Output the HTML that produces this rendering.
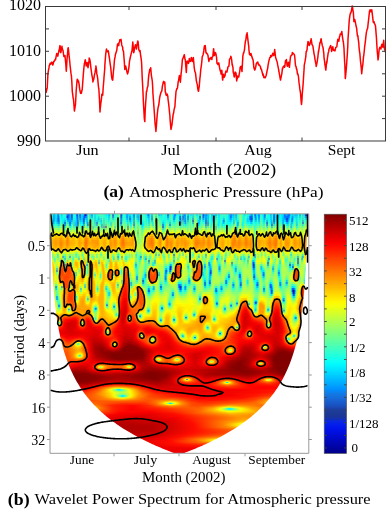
<!DOCTYPE html>
<html><head><meta charset="utf-8">
<style>
html,body{margin:0;padding:0;background:#fff;}
body{width:387px;height:509px;overflow:hidden;position:relative;font-family:"Liberation Serif",serif;}
#wv{position:absolute;left:50px;top:214px;width:258px;height:239px;}
#wv i{display:block;width:258px;height:1px;}
svg{position:absolute;left:0;top:0;will-change:transform;}
text{font-family:"Liberation Serif",serif;fill:#000;}
</style></head><body>
<div id="wv"><i style="background:linear-gradient(90deg,#40ffbf 0,#7aff85 2px,#00d0ff 3px,#00afff 4px,#00c2ff 5px,#03fffc 6px,#00f0ff 7px,#0045ff 8px,#00bcff 9px,#51ffae 10px,#00e7ff 11px,#00d3ff 12px,#1effe1 13px,#36ffc9 14px,#05fffa 15px,#40ffbf 16px,#005aff 17px,#0073ff 18px,#0050ff 19px,#00baff 20px,#00b3ff 21px,#0000a0 22px,#06fef9 23px,#06fff9 24px,#2effd1 25px,#00f1ff 26px,#0004db 27px,#00a2ff 28px,#40ffbf 29px,#0000d2 30px,#00ebff 31px,#00d0ff 32px,#00d5ff 33px,#009fff 34px,#00009d 35px,#0022fc 36px,#008fff 37px,#4affb5 38px,#78ff87 39px,#00c1ff 40px,#28ffd7 41px,#0067ff 42px,#22ffdd 43px,#3affc5 44px,#00ceff 45px,#18ffe7 46px,#34ffcb 47px,#19ffe6 49px,#82ff7d 50px,#15ffea 51px,#52ffad 52px,#49ffb6 53px,#14ffeb 54px,#3fffc0 55px,#00e8ff 56px,#07fff8 57px,#11ffee 58px,#0098ff 59px,#00ecff 60px,#62ff9d 61px,#71ff8e 62px,#0000db 63px,#32ffcd 64px,#00f8ff 65px,#44ffbb 66px,#41ffbe 67px,#13ffec 68px,#91ff6e 69px,#95ff6a 70px,#0000db 71px,#00acff 72px,#1affe5 73px,#46ffb9 74px,#00f7ff 76px,#007dff 77px,#00d9ff 78px,#00eeff 79px,#00b6ff 80px,#26ffd9 81px,#00f0ff 82px,#04fefb 83px,#002aff 84px,#04fbfb 85px,#79ff86 86px,#00b7ff 87px,#00d9ff 88px,#00adff 89px,#40ffbf 90px,#00e8ff 91px,#1affe5 92px,#5cffa3 93px,#1effe1 94px,#45ffba 95px,#00ecff 96px,#11ffee 97px,#0055ff 98px,#0091ff 99px,#05fdfa 100px,#3fffc0 101px,#008dff 102px,#56ffa9 103px,#94ff6b 104px,#7dff82 105px,#00f2ff 106px,#75ff8a 107px,#80ff7f 108px,#009cff 109px,#30ffcf 110px,#00d8ff 111px,#00ecff 112px,#45ffba 113px,#4effb1 114px,#11ffee 115px,#00fbff 116px,#2cffd3 117px,#00008d 118px,#1dffe2 119px,#00e2ff 120px,#82ff7d 121px,#28ffd7 122px,#00f9ff 123px,#00c8ff 124px,#0041ff 125px,#00daff 126px,#35ffca 127px,#02fffd 129px,#00aeff 130px,#09fdf6 131px,#92ff6d 132px,#0081ff 133px,#00daff 134px,#004bff 135px,#09fff6 136px,#68ff97 137px,#0087ff 138px,#0afef5 139px,#2dffd2 140px,#00cfff 141px,#5affa5 142px,#00cbff 143px,#30ffcf 144px,#51ffae 146px,#00d1ff 147px,#0afff5 148px,#67ff98 149px,#00b2ff 150px,#51ffae 151px,#43ffbc 152px,#0052ff 153px,#0042ff 154px,#0cfff3 155px,#0047ff 156px,#00d3ff 157px,#00afff 158px,#00efff 159px,#71ff8e 160px,#11ffee 161px,#00a4ff 162px,#05fafa 163px,#00e9ff 164px,#09fff6 165px,#008fff 166px,#62ff9d 167px,#03fcfc 168px,#00d0ff 169px,#11ffee 170px,#43ffbc 172px,#32ffcd 174px,#43ffbc 175px,#10ffef 177px,#39ffc6 178px,#00c4ff 179px,#00c2ff 180px,#0056ff 181px,#00c3ff 182px,#00ccff 183px,#00acff 184px,#44ffbb 185px,#006eff 186px,#24ffdb 187px,#0ffff0 188px,#67ff98 189px,#8cff73 191px,#25ffda 193px,#00fdff 194px,#00dbff 195px,#6bff94 196px,#25ffda 197px,#00f7ff 198px,#22ffdd 199px,#00b5ff 200px,#00c2ff 201px,#0055ff 202px,#14ffeb 203px,#38ffc7 204px,#001dff 205px,#00c2ff 206px,#00f8ff 207px,#00d7ff 208px,#0044ff 209px,#00f4ff 210px,#69ff96 211px,#00f7ff 212px,#00f7ff 213px,#00d1ff 214px,#0027ff 215px,#26ffd9 216px,#4bffb4 217px,#16ffe9 218px,#06fff9 219px,#12ffed 220px,#0093ff 221px,#38ffc7 222px,#0efff1 223px,#000dff 224px,#00d7ff 225px,#08fff7 228px,#00beff 229px,#17ffe8 230px,#00f7ff 231px,#00deff 232px,#00e5ff 233px,#00b7ff 234px,#002eff 235px,#00dcff 236px,#0075ff 237px,#0099ff 238px,#002aff 239px,#00abff 240px,#00fdff 241px,#00b7ff 243px,#3cffc3 244px,#0099ff 245px,#00f7ff 246px,#009bff 247px,#4affb5 248px,#1affe5 249px,#0087ff 250px,#34ffcb 251px,#32ffcd 252px,#00baff 253px,#7bff84 254px,#008eff 255px,#0012d9 256px,#0091ff 258px);height:2px"></i><i style="background:linear-gradient(90deg,#4cffb3 0,#6eff91 1px,#76ff89 2px,#00c0ff 3px,#00a5ff 4px,#00bdff 5px,#09fff6 6px,#00d2ff 7px,#005eff 8px,#0085ff 9px,#46ffb9 10px,#00f5ff 11px,#00ebff 12px,#10ffef 13px,#28ffd7 14px,#01fbfe 15px,#3bffc4 16px,#001dca 17px,#0053ff 18px,#00aaff 20px,#00c0ff 21px,#000098 22px,#20ffdf 23px,#02fefd 24px,#2effd1 25px,#00f2ff 26px,#004fff 27px,#0081ff 28px,#4dffb2 29px,#0020ff 30px,#00e1ff 31px,#00c5ff 32px,#00c4ff 33px,#004fff 34px,#0054ff 35px,#0093ff 36px,#009dff 37px,#42ffbd 38px,#87ff78 39px,#00cfff 40px,#38ffc7 41px,#0086ff 42px,#35ffca 43px,#43ffbc 44px,#00c3ff 45px,#31ffce 46px,#10ffef 48px,#00ddff 49px,#7fff80 50px,#03f9fc 51px,#4bffb4 52px,#5affa5 53px,#01f8fe 54px,#56ffa9 55px,#00f7ff 56px,#1effe1 57px,#19ffe6 58px,#00afff 59px,#1cffe3 60px,#5bffa4 61px,#74ff8b 62px,#002afd 63px,#4affb5 64px,#04fffb 65px,#63ff9c 66px,#08fff7 68px,#7dff82 69px,#8eff71 70px,#000cf0 71px,#00c8ff 72px,#1dffe2 73px,#58ffa7 74px,#00f4ff 76px,#0071ff 77px,#00d0ff 78px,#23ffdc 79px,#0059ff 80px,#15ffea 81px,#00edff 82px,#1cffe3 83px,#0046ff 84px,#1effe1 85px,#88ff77 86px,#00a4ff 87px,#00daff 88px,#0094ff 89px,#50ffaf 90px,#00d9ff 91px,#1effe1 92px,#55ffaa 93px,#33ffcc 94px,#51ffae 95px,#00f7ff 96px,#1effe1 97px,#00b1ff 98px,#009dff 99px,#1dffe2 100px,#4bffb4 101px,#0063ff 102px,#51ffae 103px,#a6ff59 104px,#89ff76 105px,#00b7ff 106px,#74ff8b 107px,#8eff71 108px,#04f1fb 109px,#42ffbd 110px,#02f9fd 111px,#0cfff3 112px,#32ffcd 113px,#44ffbb 114px,#0dfff2 115px,#00faff 116px,#37ffc8 117px,#0041ff 118px,#2affd5 119px,#01fcfe 120px,#79ff86 121px,#07fff8 123px,#007aff 124px,#00a9ff 125px,#04f9fb 126px,#3cffc3 127px,#3fffc0 128px,#05fffa 129px,#0028e3 130px,#00d2ff 131px,#92ff6d 132px,#0014f1 133px,#00f8ff 134px,#005bff 135px,#02fdfd 136px,#64ff9b 137px,#003aff 138px,#30ffcf 139px,#2effd1 140px,#0afdf5 141px,#6dff92 142px,#00b3ff 143px,#3dffc2 144px,#6dff92 145px,#61ff9e 146px,#1cffe3 147px,#09fff6 148px,#48ffb7 149px,#0010bf 150px,#4cffb3 151px,#52ffad 152px,#0052ff 153px,#0083ff 154px,#0bfff4 155px,#004eff 156px,#06faf9 157px,#00a6ff 158px,#00f2ff 159px,#6cff93 160px,#10ffef 161px,#00c6ff 162px,#00d5ff 163px,#01fcfe 164px,#2cffd3 165px,#00beff 166px,#71ff8e 167px,#12ffed 168px,#00e3ff 169px,#0efff1 170px,#40ffbf 171px,#40ffbf 172px,#0af9f5 174px,#45ffba 175px,#39ffc6 176px,#0dfff2 177px,#24ffdb 178px,#00ccff 179px,#00c4ff 180px,#0033ff 181px,#00deff 182px,#00e4ff 183px,#00beff 184px,#59ffa6 185px,#008bff 186px,#23ffdc 187px,#17ffe8 188px,#61ff9e 189px,#9aff65 191px,#1effe1 193px,#00fcff 194px,#5dffa2 196px,#0dfff2 197px,#00ddff 198px,#21ffde 199px,#0027f0 200px,#00a7ff 201px,#0013f5 202px,#18ffe7 203px,#41ffbe 204px,#0077ff 205px,#008eff 206px,#04fffb 207px,#09fdf6 208px,#003fff 209px,#01fdfe 210px,#70ff8f 211px,#12ffed 212px,#00fbff 213px,#00c7ff 214px,#005dff 215px,#47ffb8 216px,#1fffe0 217px,#0cfff3 219px,#15ffea 220px,#00a4ff 221px,#21ffde 222px,#25ffda 223px,#0000e8 224px,#00d7ff 225px,#00e3ff 227px,#26ffd9 228px,#00ceff 229px,#1bffe4 230px,#00f7ff 231px,#00ecff 232px,#00c4ff 233px,#00c0ff 234px,#0039ff 235px,#00b8ff 236px,#0036ff 237px,#0099ff 238px,#004cff 239px,#00dfff 240px,#04fffb 241px,#00a5ff 242px,#008aff 243px,#3dffc2 244px,#00c3ff 245px,#01fefe 246px,#00bfff 247px,#4cffb3 248px,#1fffe0 249px,#00baff 250px,#38ffc7 251px,#43ffbc 252px,#00d5ff 253px,#81ff7e 254px,#00c0ff 255px,#0082ff 256px,#00dbff 258px);height:2px"></i><i style="background:linear-gradient(90deg,#5effa1 0,#78ff87 1px,#6aff95 2px,#00aeff 3px,#00a3ff 4px,#00c3ff 5px,#17ffe8 6px,#00afff 7px,#004dff 9px,#41ffbe 10px,#02fefd 11px,#01f9fe 13px,#1cffe3 14px,#00dbff 15px,#2bffd4 16px,#00c4ff 17px,#003aff 18px,#00bcff 19px,#008fff 20px,#00cbff 21px,#0025ff 22px,#39ffc6 23px,#00eeff 24px,#2affd5 25px,#00e6ff 26px,#008eff 27px,#005eff 28px,#5dffa2 29px,#0062ff 30px,#00dbff 31px,#00baff 33px,#0000de 34px,#00d2ff 35px,#00e1ff 36px,#00a2ff 37px,#2bffd4 38px,#93ff6c 39px,#00ccff 40px,#45ffba 41px,#01e9fe 42px,#3dffc2 43px,#4fffb0 44px,#00b9ff 45px,#48ffb7 46px,#02f4fd 47px,#04fffb 48px,#009eff 49px,#79ff86 50px,#00cbff 51px,#3cffc3 52px,#68ff97 53px,#00ddff 54px,#6dff92 55px,#07fff8 56px,#38ffc7 57px,#24ffdb 58px,#00ccff 59px,#46ffb9 60px,#45ffba 61px,#72ff8d 62px,#00b7ff 63px,#65ff9a 64px,#15ffea 65px,#79ff86 66px,#37ffc8 67px,#14ffeb 68px,#5fffa0 69px,#87ff78 70px,#0042ff 71px,#00d9ff 72px,#21ffde 73px,#68ff97 74px,#0bfff4 76px,#009fff 77px,#00d3ff 78px,#4cffb3 79px,#0000e8 80px,#03fdfc 81px,#00edff 82px,#3cffc3 83px,#006bff 84px,#33ffcc 85px,#93ff6c 86px,#00d7ff 87px,#00e5ff 88px,#0099ff 89px,#5fffa0 90px,#00c3ff 91px,#14ffeb 92px,#41ffbe 93px,#38ffc7 94px,#5cffa3 95px,#00faff 96px,#24ffdb 97px,#04f4fb 98px,#00acff 99px,#33ffcc 100px,#53ffac 101px,#0044ff 102px,#3fffc0 103px,#b0ff4f 104px,#90ff6f 105px,#003aff 106px,#6eff91 107px,#95ff6a 108px,#33ffcc 109px,#50ffaf 110px,#19ffe6 111px,#27ffd8 112px,#15ffea 113px,#2effd1 114px,#0efff1 115px,#07fff8 116px,#45ffba 117px,#00b2ff 118px,#37ffc8 119px,#04fffb 120px,#6bff94 121px,#4cffb3 122px,#15ffea 123px,#0055ff 124px,#00e0ff 125px,#2affd5 126px,#56ffa9 128px,#00faff 129px,#0021d3 130px,#009bff 131px,#96ff69 132px,#0025ff 133px,#17ffe8 134px,#0057ff 135px,#00edff 136px,#61ff9e 137px,#0043ff 138px,#4fffb0 139px,#2affd5 140px,#30ffcf 141px,#7fff80 142px,#006aff 143px,#41ffbe 144px,#96ff69 145px,#53ffac 147px,#00f8ff 148px,#19ffe6 149px,#004fff 150px,#48ffb7 151px,#59ffa6 152px,#008fff 153px,#11ffee 155px,#0030ff 156px,#2affd5 157px,#009bff 158px,#01fcfe 159px,#6aff95 160px,#0afff5 161px,#00b3ff 163px,#08fff7 164px,#52ffad 165px,#00e2ff 166px,#7dff82 167px,#16ffe9 168px,#00eeff 169px,#08fff7 170px,#4affb5 171px,#35ffca 172px,#04f6fb 173px,#00adff 174px,#3effc1 175px,#4affb5 176px,#04fffb 177px,#11ffee 178px,#00d5ff 179px,#00d0ff 180px,#0079ff 181px,#02f9fd 182px,#05fcfa 183px,#00beff 184px,#70ff8f 185px,#00b3ff 186px,#1cffe3 187px,#08fff7 188px,#8cff73 190px,#a5ff5a 191px,#4affb5 192px,#1affe5 193px,#02fffd 194px,#4fffb0 195px,#44ffbb 196px,#00f3ff 197px,#00bbff 198px,#1bffe4 199px,#0033ff 200px,#0084ff 201px,#0000cf 202px,#16ffe9 203px,#48ffb7 204px,#00bdff 205px,#0076ff 206px,#0afff5 207px,#2dffd2 208px,#0061ff 209px,#0cfff3 210px,#75ff8a 211px,#27ffd8 212px,#04fffb 213px,#00c5ff 214px,#00adff 215px,#63ff9c 216px,#00deff 217px,#0ffff0 218px,#18ffe7 220px,#00afff 221px,#04f9fb 222px,#41ffbe 223px,#0000c1 224px,#00daff 225px,#00f6ff 226px,#00ddff 227px,#3fffc0 228px,#00e7ff 229px,#25ffda 230px,#00f7ff 231px,#03fdfc 232px,#009dff 233px,#00ceff 234px,#008fff 235px,#0096ff 236px,#0000a6 237px,#0099ff 238px,#0084ff 239px,#12ffed 240px,#01fffe 241px,#0051ff 242px,#00a1ff 243px,#42ffbd 244px,#0afaf5 245px,#05fffa 246px,#00d3ff 247px,#54ffab 248px,#2cffd3 249px,#00e4ff 250px,#40ffbf 251px,#4dffb2 252px,#00ccff 253px,#89ff76 254px,#00ecff 255px,#00dbff 256px,#22ffdd 258px);height:2px"></i><i style="background:linear-gradient(90deg,#7aff85 0,#84ff7b 1px,#57ffa8 2px,#0090ff 3px,#00d0ff 5px,#28ffd7 6px,#0096ff 7px,#00aeff 8px,#0031ff 9px,#45ffba 10px,#0efff1 11px,#27ffd8 12px,#00deff 13px,#1fffe0 14px,#008dff 15px,#12ffed 16px,#2bffd4 17px,#0072ff 18px,#01f3fe 19px,#0057ff 20px,#00daff 21px,#0086ff 22px,#4fffb0 23px,#00d2ff 24px,#28ffd7 25px,#00c8ff 26px,#00beff 27px,#002fff 28px,#70ff8f 29px,#00a7ff 30px,#00dfff 31px,#00dcff 32px,#00bfff 33px,#0000da 34px,#1dffe2 35px,#1fffe0 36px,#00a9ff 37px,#05f2fa 38px,#9dff62 39px,#00b1ff 40px,#50ffaf 41px,#3bffc4 42px,#3bffc4 43px,#62ff9d 44px,#00b4ff 45px,#5cffa3 46px,#00b2ff 47px,#1dffe2 48px,#00d4ff 49px,#71ff8e 50px,#00a6ff 51px,#1effe1 52px,#76ff89 53px,#00ceff 54px,#83ff7c 55px,#0dfff2 56px,#57ffa8 57px,#00edff 59px,#6cff93 60px,#16ffe9 61px,#6dff92 62px,#16ffe9 63px,#83ff7c 64px,#24ffdb 65px,#8aff75 66px,#34ffcb 67px,#39ffc6 69px,#82ff7d 70px,#0037ff 71px,#00ebff 72px,#2cffd3 73px,#7bff84 74px,#3dffc2 75px,#32ffcd 76px,#00e4ff 77px,#00d8ff 78px,#6dff92 79px,#0078ff 80px,#00edff 81px,#00f7ff 82px,#5fffa0 83px,#0077ff 84px,#41ffbe 85px,#9aff65 86px,#1dffe2 87px,#00f5ff 88px,#00cbff 89px,#71ff8e 90px,#00beff 91px,#02fafd 92px,#21ffde 93px,#2bffd4 94px,#67ff98 95px,#00f8ff 96px,#24ffdb 97px,#30ffcf 98px,#00b8ff 99px,#46ffb9 100px,#5cffa3 101px,#00b1ff 102px,#1bffe4 103px,#b3ff4c 104px,#92ff6d 105px,#0000a9 106px,#67ff98 107px,#95ff6a 108px,#5effa1 109px,#5affa5 110px,#2fffd0 111px,#3cffc3 112px,#00e9ff 113px,#12ffed 114px,#1bffe4 116px,#5affa5 117px,#01f3fe 118px,#44ffbb 119px,#00ebff 120px,#58ffa7 121px,#57ffa8 122px,#20ffdf 123px,#00bfff 124px,#04fdfb 125px,#51ffae 126px,#48ffb7 127px,#69ff96 128px,#00ebff 129px,#007cff 131px,#9fff60 132px,#008aff 133px,#35ffca 134px,#0051ff 135px,#00d5ff 136px,#61ff9e 137px,#009dff 138px,#68ff97 139px,#23ffdc 140px,#49ffb6 141px,#8fff70 142px,#0000a6 143px,#3effc1 144px,#b7ff48 145px,#72ff8d 146px,#7dff82 147px,#00d9ff 148px,#00c3ff 150px,#48ffb7 151px,#58ffa7 152px,#00d8ff 153px,#08f9f7 154px,#22ffdd 155px,#0001ed 156px,#4effb1 157px,#0081ff 158px,#13ffec 159px,#6dff92 160px,#02fefd 161px,#01f8fe 162px,#00c1ff 163px,#0bfff4 164px,#77ff88 165px,#00f7ff 166px,#88ff77 167px,#09fff6 168px,#00eeff 169px,#01fffe 170px,#53ffac 171px,#1fffe0 172px,#00c3ff 173px,#0053ff 174px,#2effd1 175px,#56ffa9 176px,#00f8ff 177px,#07fff8 178px,#00e5ff 179px,#00e4ff 180px,#00c1ff 181px,#19ffe6 182px,#21ffde 183px,#00a8ff 184px,#88ff77 185px,#00eeff 186px,#0efff1 187px,#00d8ff 188px,#3effc1 189px,#8fff70 190px,#a9ff56 191px,#2fffd0 192px,#07fff8 194px,#6bff94 195px,#25ffda 196px,#00f4ff 197px,#00b9ff 198px,#15ffea 199px,#00b8ff 200px,#007fff 201px,#006eff 202px,#18ffe7 203px,#4dffb2 204px,#00e5ff 205px,#00b6ff 206px,#0cfff3 207px,#4dffb2 208px,#0094ff 209px,#18ffe7 210px,#78ff87 211px,#38ffc7 212px,#12ffed 213px,#00d0ff 214px,#00eeff 215px,#7cff83 216px,#007aff 217px,#11ffee 218px,#21ffde 220px,#00bcff 221px,#00caff 222px,#5dffa2 223px,#0000d0 224px,#00e6ff 225px,#1cffe3 226px,#00f1ff 227px,#55ffaa 228px,#06fef9 229px,#36ffc9 230px,#01fcfe 231px,#1dffe2 232px,#007dff 233px,#00e4ff 234px,#00e1ff 235px,#00a5ff 236px,#0023f0 237px,#009cff 238px,#00c2ff 239px,#3fffc0 240px,#00f3ff 241px,#0047ff 242px,#00cbff 243px,#4effb1 244px,#39ffc6 245px,#05fffa 246px,#00d5ff 247px,#5effa1 248px,#0afff5 250px,#4affb5 251px,#51ffae 252px,#008aff 253px,#91ff6e 254px,#10ffef 255px,#22ffdd 256px,#59ffa6 258px);height:2px"></i><i style="background:linear-gradient(90deg,#9dff62 0,#96ff69 1px,#40ffbf 2px,#0087ff 3px,#00e0ff 4px,#00ecff 5px,#41ffbe 6px,#00b3ff 7px,#00ebff 8px,#0058ff 9px,#54ffab 10px,#23ffdc 11px,#4cffb3 12px,#00c6ff 13px,#3affc5 14px,#0005bf 15px,#00fbff 16px,#71ff8e 17px,#00d6ff 18px,#2bffd4 19px,#0000bc 20px,#00f1ff 21px,#00ceff 22px,#68ff97 23px,#00b6ff 24px,#34ffcb 25px,#0094ff 26px,#00edff 27px,#0000d5 28px,#8aff75 29px,#00e9ff 30px,#09fcf6 32px,#00dcff 33px,#0035ff 34px,#59ffa6 35px,#57ffa8 36px,#00c7ff 37px,#007aff 38px,#aaff55 39px,#0081ff 40px,#60ff9f 41px,#79ff86 42px,#2dffd2 43px,#7dff82 44px,#00bdff 45px,#70ff8f 46px,#0030ff 47px,#51ffae 48px,#29ffd6 49px,#6dff92 50px,#01e9fe 51px,#00ebff 52px,#8bff74 53px,#00cbff 54px,#9aff65 55px,#04fcfb 56px,#7cff83 57px,#12ffed 59px,#92ff6d 60px,#00c3ff 61px,#68ff97 62px,#59ffa6 63px,#a4ff5b 64px,#26ffd9 65px,#9bff64 66px,#38ffc7 67px,#4affb5 68px,#17ffe8 69px,#86ff79 70px,#0000d3 71px,#0ffff0 72px,#44ffbb 73px,#96ff69 74px,#3effc1 75px,#60ff9f 76px,#2affd5 77px,#00d7ff 78px,#8cff73 79px,#00e1ff 80px,#00e8ff 81px,#1affe5 82px,#87ff78 83px,#005bff 84px,#4affb5 85px,#a1ff5e 86px,#0afff5 88px,#12ffed 89px,#88ff77 90px,#00e6ff 91px,#00e1ff 92px,#11ffee 94px,#77ff88 95px,#04fefb 96px,#5fffa0 98px,#00c5ff 99px,#5cffa3 100px,#6bff94 101px,#21ffde 102px,#00e0ff 103px,#b3ff4c 104px,#93ff6c 105px,#0048ff 106px,#64ff9b 107px,#92ff6d 108px,#46ffb9 111px,#4fffb0 112px,#00a5ff 113px,#01fffe 114px,#06fff9 115px,#7dff82 117px,#25ffda 118px,#56ffa9 119px,#009dff 120px,#47ffb8 121px,#64ff9b 122px,#2dffd2 123px,#17ffe8 125px,#74ff8b 126px,#4bffb4 127px,#7aff85 128px,#00f1ff 129px,#09f7f6 130px,#0086ff 131px,#b1ff4e 132px,#00bcff 133px,#56ffa9 134px,#008eff 135px,#00cdff 136px,#6aff95 137px,#00d9ff 138px,#81ff7e 139px,#22ffdd 140px,#55ffaa 141px,#9fff60 142px,#007aff 143px,#3affc5 144px,#d6ff29 145px,#6fff90 146px,#a2ff5d 147px,#00c3ff 148px,#0096ff 149px,#05f8fa 150px,#51ffae 151px,#53ffac 152px,#1cffe3 153px,#3dffc2 154px,#3fffc0 155px,#0000e4 156px,#72ff8d 157px,#0045ff 158px,#37ffc8 159px,#7cff83 160px,#00f7ff 161px,#22ffdd 162px,#03f3fc 163px,#16ffe9 164px,#9dff62 165px,#00fdff 166px,#94ff6b 167px,#00ebff 168px,#07fff8 170px,#61ff9e 171px,#05fcfa 172px,#00cbff 173px,#00bcff 174px,#18ffe7 175px,#62ff9d 176px,#00f5ff 177px,#12ffed 178px,#03f6fc 181px,#3affc5 182px,#43ffbc 183px,#009cff 184px,#a6ff59 185px,#30ffcf 186px,#00f6ff 187px,#007bff 188px,#3bffc4 189px,#90ff6f 190px,#acff53 191px,#08fbf7 192px,#10ffef 194px,#87ff78 195px,#1affe5 196px,#1effe1 197px,#03f0fc 198px,#18ffe7 199px,#07f8f8 200px,#00beff 201px,#00e0ff 202px,#2affd5 203px,#56ffa9 204px,#00fbff 205px,#0efff1 207px,#6bff94 208px,#00d3ff 209px,#26ffd9 210px,#7eff81 211px,#29ffd6 213px,#00e7ff 214px,#25ffda 215px,#96ff69 216px,#0004ec 217px,#23ffdc 218px,#3effc1 219px,#3effc1 220px,#00e4ff 221px,#0077ff 222px,#7bff84 223px,#004dff 224px,#0afef5 225px,#4cffb3 226px,#24ffdb 227px,#6fff90 228px,#1effe1 229px,#51ffae 230px,#17ffe8 231px,#43ffbc 232px,#0072ff 233px,#07fdf8 234px,#2affd5 235px,#00eaff 236px,#00a7ff 237px,#00b1ff 238px,#08f8f7 239px,#6bff94 240px,#00daff 241px,#00b2ff 242px,#00efff 243px,#65ff9a 244px,#66ff99 245px,#08fff7 246px,#00c5ff 247px,#6cff93 248px,#3fffc0 249px,#37ffc8 250px,#58ffa7 251px,#54ffab 252px,#0020ff 253px,#9dff62 254px,#2effd1 255px,#88ff77 258px);height:2px"></i><i style="background:linear-gradient(90deg,#c1ff3e 0,#abff54 1px,#26ffd9 2px,#00ccff 3px,#1dffe2 4px,#17ffe8 5px,#62ff9d 6px,#08f3f7 7px,#28ffd7 8px,#00b2ff 9px,#6dff92 10px,#44ffbb 11px,#73ff8c 12px,#00cbff 13px,#62ff9d 14px,#0055ff 15px,#04fcfb 16px,#a8ff57 17px,#32ffcd 18px,#5dffa2 19px,#002fe4 20px,#11ffee 21px,#0dfef2 22px,#84ff7b 23px,#00b0ff 24px,#51ffae 25px,#007aff 26px,#1bffe4 27px,#0017e1 28px,#a7ff58 29px,#26ffd9 30px,#14ffeb 31px,#3affc5 32px,#0afdf5 33px,#0084ff 34px,#8eff71 35px,#8bff74 36px,#0af8f5 37px,#0042bf 38px,#baff45 39px,#005eff 40px,#75ff8a 41px,#abff54 42px,#0afbf5 43px,#9cff63 44px,#00d2ff 45px,#86ff79 46px,#006cff 47px,#88ff77 48px,#63ff9c 49px,#6cff93 50px,#3fffc0 51px,#008dff 52px,#a2ff5d 53px,#00b6ff 54px,#b1ff4e 55px,#00c2ff 56px,#a1ff5e 57px,#31ffce 59px,#b7ff48 60px,#00c9ff 61px,#62ff9d 62px,#c5ff3a 64px,#0cfff3 65px,#afff50 66px,#4cffb3 67px,#61ff9e 68px,#0afff5 69px,#95ff6a 70px,#0079ff 71px,#42ffbd 72px,#6cff93 73px,#b9ff46 74px,#34ffcb 75px,#8bff74 76px,#67ff98 77px,#00bdff 78px,#a9ff56 79px,#27ffd8 80px,#00f5ff 81px,#aeff51 83px,#0031ff 84px,#4dffb2 85px,#a6ff59 86px,#7eff81 87px,#19ffe6 88px,#51ffae 89px,#a1ff5e 90px,#21ffde 91px,#00cfff 92px,#00fcff 94px,#8aff75 95px,#23ffdc 96px,#39ffc6 97px,#88ff77 98px,#00e0ff 99px,#76ff89 100px,#84ff7b 101px,#72ff8d 102px,#00dcff 103px,#b1ff4e 104px,#92ff6d 105px,#0092ff 106px,#65ff9a 107px,#9dff62 109px,#62ff9d 111px,#63ff9c 112px,#0028ee 113px,#13ffec 114px,#00f8ff 115px,#5fffa0 116px,#a7ff58 117px,#4dffb2 118px,#6bff94 119px,#0034ff 120px,#47ffb8 121px,#73ff8c 122px,#44ffbb 123px,#65ff9a 124px,#25ffda 125px,#93ff6c 126px,#4dffb2 127px,#8cff73 128px,#22ffdd 129px,#3cffc3 130px,#00afff 131px,#c8ff37 132px,#00dcff 133px,#78ff87 134px,#06edf9 135px,#02f1fd 136px,#79ff86 137px,#00f8ff 138px,#9aff65 139px,#37ffc8 140px,#53ffac 141px,#b0ff4f 142px,#0cf3f3 143px,#3dffc2 144px,#f0ff0f 145px,#58ffa7 146px,#c3ff3c 147px,#03edfc 148px,#00e3ff 149px,#2cffd3 150px,#61ff9e 151px,#4effb1 152px,#75ff8a 154px,#64ff9b 155px,#003fff 156px,#94ff6b 157px,#0058ff 158px,#66ff99 159px,#93ff6c 160px,#00eeff 161px,#52ffad 162px,#32ffcd 163px,#35ffca 164px,#beff41 165px,#00e3ff 166px,#a1ff5e 167px,#00daff 168px,#01f9fe 169px,#20ffdf 170px,#75ff8a 171px,#00e7ff 172px,#1cffe3 173px,#1fffe0 174px,#05fffa 175px,#71ff8e 176px,#03fdfc 177px,#30ffcf 178px,#26ffd9 181px,#5effa1 182px,#69ff96 183px,#06e8f9 184px,#c6ff39 185px,#6cff93 186px,#00d2ff 187px,#009dff 188px,#5effa1 189px,#93ff6c 190px,#acff53 191px,#00f3ff 192px,#1fffe0 193px,#23ffdc 194px,#a5ff5a 195px,#44ffbb 196px,#56ffa9 197px,#28ffd7 199px,#33ffcc 200px,#12feed 201px,#60ff9f 204px,#00feff 205px,#4effb1 206px,#11ffee 207px,#87ff78 208px,#1cffe3 209px,#35ffca 210px,#88ff77 211px,#48ffb7 213px,#06fef9 214px,#b2ff4d 216px,#004aff 217px,#43ffbc 218px,#65ff9a 219px,#6bff94 220px,#23ffdc 221px,#000eff 222px,#9aff65 223px,#00caff 224px,#3bffc4 225px,#7fff80 226px,#64ff9b 227px,#8bff74 228px,#2bffd4 229px,#73ff8c 230px,#44ffbb 231px,#6bff94 232px,#006dff 233px,#2effd1 234px,#69ff96 235px,#0cf7f3 237px,#00dfff 238px,#3cffc3 239px,#95ff6a 240px,#00acff 241px,#0cfaf3 242px,#11ffee 243px,#82ff7d 244px,#8dff72 245px,#16ffe9 246px,#00b6ff 247px,#7cff83 248px,#42ffbd 249px,#6dff92 250px,#57ffa8 252px,#00d6ff 253px,#abff54 254px,#49ffb6 255px,#9eff61 256px,#b1ff4e 258px);height:2px"></i><i style="background:linear-gradient(90deg,#dfff20 0,#c4ff3b 1px,#1fffe0 2px,#2affd5 3px,#5affa5 4px,#4dffb2 5px,#89ff76 6px,#49ffb6 7px,#5fffa0 8px,#14fdeb 9px,#8dff72 10px,#71ff8e 11px,#9cff63 12px,#0df9f2 13px,#8cff73 14px,#02e8fd 15px,#2fffd0 16px,#d7ff28 17px,#80ff7f 18px,#8cff73 19px,#00d6ff 20px,#37ffc8 21px,#45ffba 22px,#a2ff5d 23px,#00deff 24px,#78ff87 25px,#00dbff 26px,#46ffb9 27px,#00aaff 28px,#c6ff39 29px,#5fffa0 30px,#41ffbe 31px,#6fff90 32px,#3affc5 33px,#00d6ff 34px,#beff41 35px,#bbff44 36px,#48ffb7 37px,#1cf8e3 38px,#ceff31 39px,#0092ff 40px,#92ff6d 41px,#d3ff2c 42px,#00aeff 43px,#bcff43 44px,#02f5fd 45px,#9fff60 46px,#16f7e9 47px,#b8ff47 48px,#6cff93 50px,#7cff83 51px,#0086ff 52px,#bbff44 53px,#0069ff 54px,#c8ff37 55px,#0017eb 56px,#c4ff3b 57px,#49ffb6 59px,#daff25 60px,#48ffb7 61px,#5dffa2 62px,#b2ff4d 63px,#e4ff1b 64px,#00b7ff 65px,#c8ff37 66px,#74ff8b 67px,#77ff88 68px,#1dffe2 69px,#adff52 70px,#1bfce4 71px,#7bff84 72px,#9eff61 73px,#deff21 74px,#16ffe9 75px,#b2ff4d 76px,#9cff63 77px,#0056ff 78px,#c5ff3a 79px,#60ff9f 80px,#18ffe7 81px,#8bff74 82px,#d4ff2b 83px,#00b4ff 84px,#4dffb2 85px,#abff54 86px,#9aff65 87px,#1bffe4 88px,#82ff7d 89px,#b9ff46 90px,#52ffad 91px,#00dfff 92px,#18ffe7 93px,#1effe1 94px,#a2ff5d 95px,#53ffac 96px,#61ff9e 97px,#aeff51 98px,#1cffe3 99px,#99ff66 100px,#b1ff4e 102px,#43ffbc 103px,#b3ff4c 104px,#94ff6b 105px,#00daff 106px,#6aff95 107px,#85ff7a 108px,#baff45 109px,#94ff6b 110px,#79ff86 112px,#000cbf 113px,#3effc1 114px,#01fafe 115px,#89ff76 116px,#d4ff2b 117px,#77ff88 118px,#86ff79 119px,#0ee5f1 120px,#64ff9b 121px,#8aff75 122px,#6cff93 123px,#9cff63 124px,#2cffd3 125px,#aeff51 126px,#59ffa6 127px,#a2ff5d 128px,#67ff98 129px,#6dff92 130px,#03effc 131px,#e3ff1c 132px,#0ffdf0 133px,#9cff63 134px,#4dffb2 135px,#38ffc7 136px,#90ff6f 137px,#06fff9 138px,#b6ff49 139px,#65ff9a 140px,#40ffbf 141px,#bfff40 142px,#4cffb3 143px,#52ffad 144px,#fff700 145px,#1affe5 146px,#e1ff1e 147px,#48ffb7 148px,#48ffb7 149px,#79ff86 151px,#56ffa9 152px,#94ff6b 153px,#aaff55 154px,#8cff73 155px,#0099ff 156px,#b5ff4a 157px,#09e7f6 158px,#98ff67 159px,#b0ff4f 160px,#00f2ff 161px,#85ff7a 162px,#68ff97 163px,#67ff98 164px,#d8ff27 165px,#008eff 166px,#aeff51 167px,#14feeb 168px,#4bffb4 170px,#91ff6e 171px,#03f5fc 172px,#66ff99 173px,#5fffa0 174px,#0cfff3 175px,#86ff79 176px,#20ffdf 177px,#5cffa3 178px,#61ff9e 179px,#44ffbb 180px,#4effb1 181px,#87ff78 182px,#93ff6c 183px,#5affa5 184px,#e8ff17 185px,#9fff60 186px,#00b3ff 187px,#24ffdb 188px,#96ff69 189px,#b0ff4f 191px,#3cffc3 192px,#46ffb9 194px,#c8ff37 195px,#8aff75 196px,#7dff82 198px,#48ffb7 199px,#60ff9f 200px,#5bffa4 201px,#7cff83 203px,#6dff92 204px,#00f6ff 205px,#83ff7c 206px,#23ffdc 207px,#a3ff5c 208px,#64ff9b 209px,#49ffb6 210px,#99ff66 211px,#8fff70 212px,#6dff92 213px,#26ffd9 214px,#cfff30 216px,#00c6ff 217px,#6dff92 218px,#95ff6a 219px,#a0ff5f 220px,#63ff9c 221px,#0093ff 222px,#baff45 223px,#32ffcd 224px,#b1ff4e 226px,#a8ff57 228px,#29ffd6 229px,#99ff66 230px,#7cff83 231px,#93ff6c 232px,#0051ff 233px,#5affa5 234px,#a1ff5e 235px,#1fffe0 238px,#bcff43 240px,#0092ff 241px,#44ffbb 242px,#37ffc8 243px,#a4ff5b 244px,#b2ff4d 245px,#3bffc4 246px,#02eafd 247px,#8eff71 248px,#4cffb3 249px,#a3ff5c 250px,#4dffb2 253px,#bbff44 254px,#6aff95 255px,#d2ff2d 256px,#d5ff2a 258px);height:2px"></i><i style="background:linear-gradient(90deg,#f7ff08 0,#e0ff1f 1px,#47ffb8 2px,#94ff6b 4px,#88ff77 5px,#b5ff4a 6px,#8eff71 7px,#93ff6c 8px,#66ff99 9px,#b5ff4a 10px,#a8ff57 11px,#c5ff3a 12px,#57ffa8 13px,#b6ff49 14px,#41ffbe 15px,#6fff90 16px,#fbf904 17px,#c4ff3b 18px,#bbff44 19px,#43ffbc 20px,#7eff81 22px,#c4ff3b 23px,#2fffd0 24px,#a1ff5e 25px,#42ffbd 26px,#71ff8e 27px,#25ffda 28px,#e6ff19 29px,#97ff68 30px,#76ff89 31px,#a2ff5d 32px,#2cffd3 34px,#eaff15 35px,#ebff14 36px,#8dff72 37px,#84ff7b 38px,#e7ff18 39px,#00e8ff 40px,#b6ff49 41px,#f5ff0a 42px,#00caff 43px,#dbff24 44px,#36ffc9 45px,#bcff43 46px,#76ff89 47px,#e3ff1c 48px,#70ff8f 50px,#aaff55 51px,#1cfce3 52px,#d4ff2b 53px,#00aaff 54px,#e0ff1f 55px,#10dcef 56px,#e3ff1c 57px,#5cffa3 59px,#f9fc06 60px,#5fffa0 62px,#d2ff2d 63px,#fdfa02 64px,#00caff 65px,#e6ff19 66px,#aaff55 67px,#93ff6c 68px,#44ffbb 69px,#cdff32 70px,#7dff82 71px,#b4ff4b 72px,#fdf802 74px,#00fbff 75px,#d6ff29 76px,#caff35 77px,#004efa 78px,#e2ff1d 79px,#4dffb2 81px,#c3ff3c 82px,#f7fe08 83px,#38ffc7 84px,#54ffab 85px,#b3ff4c 86px,#abff54 87px,#09fff6 88px,#a4ff5b 89px,#cdff32 90px,#78ff87 91px,#0afef5 92px,#4dffb2 93px,#5effa1 94px,#beff41 95px,#87ff78 96px,#96ff69 97px,#d3ff2c 98px,#6aff95 99px,#c4ff3b 100px,#e6ff19 102px,#a0ff5f 103px,#c1ff3e 104px,#a0ff5f 105px,#31ffce 106px,#77ff88 107px,#90ff6f 108px,#dcff23 109px,#beff41 110px,#b7ff48 111px,#96ff69 112px,#00aaff 113px,#6dff92 114px,#2fffd0 115px,#b5ff4a 116px,#faf905 117px,#a9ff56 118px,#a8ff57 119px,#6dff92 120px,#97ff68 121px,#aaff55 122px,#9fff60 123px,#caff35 124px,#38ffc7 125px,#c7ff38 126px,#81ff7e 127px,#beff41 128px,#9aff65 130px,#44ffbb 131px,#fcfb03 132px,#59ffa6 133px,#c1ff3e 134px,#7eff81 136px,#acff53 137px,#1fffe0 138px,#d5ff2a 139px,#9cff63 140px,#28ffd7 141px,#d0ff2f 142px,#84ff7b 143px,#7dff82 144px,#ffe100 145px,#01ecfe 146px,#fcfb03 147px,#98ff67 148px,#9aff65 151px,#7aff85 152px,#caff35 153px,#ddff22 154px,#b6ff49 155px,#08eff7 156px,#d7ff28 157px,#63ff9c 158px,#caff35 159px,#d2ff2d 160px,#22ffdd 161px,#b5ff4a 162px,#9bff64 163px,#9eff61 164px,#ecff13 165px,#009bff 166px,#beff41 167px,#67ff98 168px,#62ff9d 169px,#7dff82 170px,#b4ff4b 171px,#40ffbf 172px,#a2ff5d 173px,#92ff6d 174px,#3bffc4 175px,#a3ff5c 176px,#54ffab 177px,#8eff71 178px,#95ff6a 179px,#6bff94 180px,#79ff86 181px,#b5ff4a 182px,#c1ff3e 183px,#b0ff4f 184px,#fff200 185px,#cdff32 186px,#00e0ff 187px,#7eff81 188px,#cfff30 189px,#b2ff4d 190px,#c2ff3d 191px,#6eff91 193px,#77ff88 194px,#eeff11 195px,#cdff32 196px,#b8ff47 198px,#77ff88 199px,#aaff55 202px,#a7ff58 203px,#7aff85 204px,#00faff 205px,#aeff51 206px,#50ffaf 207px,#c3ff3c 208px,#a4ff5b 209px,#6bff94 210px,#b5ff4a 211px,#bcff43 212px,#99ff66 213px,#4effb1 214px,#edff12 216px,#29ffd6 217px,#9cff63 218px,#c8ff37 219px,#d5ff2a 220px,#9eff61 221px,#1afee5 222px,#dcff23 223px,#88ff77 224px,#e3ff1c 226px,#c6ff39 228px,#1affe5 229px,#c1ff3e 230px,#baff45 232px,#0048ff 233px,#87ff78 234px,#d2ff2d 235px,#64ff9b 238px,#e0ff1f 240px,#06e7f9 241px,#76ff89 242px,#67ff98 243px,#caff35 244px,#d9ff26 245px,#74ff8b 246px,#49ffb6 247px,#a5ff5a 248px,#6fff90 249px,#d5ff2a 250px,#79ff86 252px,#92ff6d 253px,#cdff32 254px,#97ff68 255px,#faf905 256px,#f4ff0b 258px);height:2px"></i><i style="background:linear-gradient(90deg,#fffa00 0,#f9ff06 1px,#86ff79 2px,#b0ff4f 3px,#c4ff3b 4px,#bdff42 5px,#ddff22 6px,#a8ff57 9px,#dbff24 10px,#eaff15 12px,#9eff61 13px,#d9ff26 14px,#80ff7f 15px,#a8ff57 16px,#ffdd00 17px,#f6fc09 18px,#e3ff1c 19px,#8dff72 20px,#91ff6e 21px,#e2ff1d 23px,#7aff85 24px,#c5ff3a 25px,#8aff75 26px,#97ff68 27px,#7aff85 28px,#fdfb02 29px,#c8ff37 30px,#a9ff56 31px,#cbff34 32px,#77ff88 34px,#fff000 35px,#ffec00 36px,#c7ff38 37px,#c9ff36 38px,#fbfd04 39px,#3effc1 40px,#d7ff28 41px,#ffef00 42px,#5fffa0 43px,#f5ff0a 44px,#7eff81 45px,#d9ff26 46px,#beff41 47px,#fef801 48px,#7aff85 50px,#cbff34 51px,#7bff84 52px,#eaff15 53px,#47ffb8 54px,#f4ff0b 55px,#7aff85 56px,#faff05 57px,#aaff55 58px,#6eff91 59px,#ffe800 60px,#e0ff1f 61px,#70ff8f 62px,#ebff14 63px,#ffe500 64px,#6aff95 65px,#fdfa02 66px,#afff50 68px,#71ff8e 69px,#ebff14 70px,#c3ff3c 71px,#fcf703 73px,#ffdc00 74px,#42ffbd 75px,#f2ff0d 76px,#edff12 77px,#23ffdc 78px,#f9ff06 79px,#86ff79 81px,#f0ff0f 82px,#ffea00 83px,#8dff72 84px,#67ff98 85px,#b9ff46 86px,#aeff51 87px,#00d4ff 88px,#b3ff4c 89px,#d3ff2c 90px,#8dff72 91px,#30ffcf 92px,#72ff8d 93px,#91ff6e 94px,#d6ff29 95px,#b4ff4b 96px,#c7ff38 97px,#f3ff0c 98px,#b0ff4f 99px,#edff12 100px,#ffee00 102px,#e2ff1d 103px,#d9ff26 104px,#b6ff49 105px,#7aff85 106px,#adff52 108px,#f9fd06 109px,#e2ff1d 111px,#b4ff4b 112px,#1cffe3 113px,#94ff6b 114px,#73ff8c 115px,#ddff22 116px,#ffdc00 117px,#d9ff26 118px,#b8ff47 120px,#d0ff2f 123px,#ebff14 124px,#56ffa9 125px,#ddff22 126px,#b4ff4b 127px,#dcff23 128px,#ddff22 129px,#c1ff3e 130px,#8fff70 131px,#ffe800 132px,#a3ff5c 133px,#e2ff1d 134px,#b7ff48 136px,#c7ff38 137px,#57ffa8 138px,#f0ff0f 139px,#c9ff36 140px,#38ffc7 141px,#deff21 142px,#aeff51 143px,#aeff51 144px,#ffd100 145px,#6eff91 146px,#ffe400 147px,#d6ff29 148px,#acff53 152px,#f6ff09 153px,#fef701 154px,#daff25 155px,#51ffae 156px,#f3ff0c 157px,#b3ff4c 158px,#f4ff0b 159px,#f1ff0e 160px,#6bff94 161px,#dcff23 162px,#c8ff37 163px,#caff35 164px,#f2ff0d 165px,#25ffda 166px,#cbff34 167px,#a7ff58 168px,#98ff67 169px,#acff53 170px,#d4ff2b 171px,#88ff77 172px,#d0ff2f 173px,#baff45 174px,#77ff88 175px,#bfff40 176px,#8aff75 177px,#baff45 178px,#c1ff3e 179px,#91ff6e 180px,#a2ff5d 181px,#dfff20 182px,#f0ff0f 184px,#ffd300 185px,#f3ff0c 186px,#3dffc2 187px,#bbff44 188px,#f8fc07 189px,#d2ff2d 190px,#ddff22 191px,#ccff33 192px,#9eff61 193px,#abff54 194px,#ffef00 195px,#e6ff19 198px,#a8ff57 199px,#d1ff2e 201px,#d5ff2a 202px,#c5ff3a 203px,#81ff7e 204px,#1effe1 205px,#ccff33 206px,#8bff74 207px,#e0ff1f 208px,#d7ff28 209px,#96ff69 210px,#d4ff2b 211px,#e4ff1b 212px,#c2ff3d 213px,#7aff85 214px,#fff900 216px,#78ff87 217px,#c7ff38 218px,#f4ff0b 219px,#fbf904 220px,#ceff31 221px,#73ff8c 222px,#f8ff07 223px,#caff35 224px,#fff100 226px,#fff400 227px,#dfff20 228px,#20ffdf 229px,#e3ff1c 230px,#daff25 232px,#00c7ff 233px,#adff52 234px,#f8fd07 235px,#a1ff5e 238px,#fbfd04 240px,#52ffad 241px,#9eff61 242px,#99ff66 243px,#edff12 244px,#f9fe06 245px,#aeff51 246px,#94ff6b 247px,#beff41 248px,#a2ff5d 249px,#f9fd06 250px,#94ff6b 252px,#dcff23 254px,#c7ff38 255px,#ffda00 256px,#fff400 258px);height:2px"></i><i style="background:linear-gradient(90deg,#fff400 0,#ffee00 1px,#c1ff3e 2px,#eeff11 4px,#fcf903 6px,#ddff22 9px,#fbfa04 10px,#fff200 12px,#d8ff27 13px,#f8ff07 14px,#b6ff49 15px,#dbff24 16px,#ffc200 17px,#fff600 19px,#c7ff38 20px,#beff41 21px,#fbfb04 23px,#baff45 24px,#e5ff1a 25px,#c0ff3f 26px,#bbff44 28px,#ffe400 29px,#f3ff0c 30px,#d8ff27 31px,#efff10 32px,#c5ff3a 33px,#b7ff48 34px,#ffd100 35px,#ffc900 36px,#f6fb09 37px,#ffeb00 39px,#8cff73 40px,#f7ff08 41px,#ffd900 42px,#bcff43 43px,#fff100 44px,#c0ff3f 45px,#f6ff09 46px,#f4fe0b 47px,#ffdc00 48px,#ddff22 49px,#97ff68 50px,#e7ff18 51px,#beff41 52px,#fcfc03 53px,#a7ff58 54px,#fff500 55px,#caff35 56px,#fff100 57px,#8eff71 59px,#ffd100 60px,#fff200 61px,#9bff64 62px,#fef901 63px,#ffd000 64px,#caff35 65px,#ffe000 66px,#fcf803 67px,#a4ff5b 69px,#fff700 70px,#ffee00 72px,#ffc100 74px,#a4ff5b 75px,#fff300 76px,#fff300 77px,#92ff6d 78px,#ffef00 79px,#eaff15 80px,#bfff40 81px,#ffea00 82px,#ffd200 83px,#c9ff36 84px,#8aff75 85px,#c3ff3c 86px,#aaff55 87px,#00aaff 88px,#b4ff4b 89px,#cfff30 90px,#4fffb0 92px,#ebff14 95px,#dbff24 96px,#ffed00 98px,#ebff14 99px,#ffea00 100px,#ffca00 102px,#f8fd07 104px,#b3ff4c 106px,#a8ff57 107px,#d5ff2a 108px,#ffe600 109px,#fff500 111px,#d4ff2b 112px,#6cff93 113px,#b6ff49 114px,#b0ff4f 115px,#fcf903 116px,#ffbe00 117px,#fdf602 118px,#f5ff0a 121px,#fff800 124px,#8dff72 125px,#f3ff0c 126px,#e7ff18 127px,#fef701 129px,#ceff31 131px,#ffd200 132px,#e1ff1e 133px,#fcf903 134px,#e3ff1c 137px,#9cff63 138px,#fff500 139px,#edff12 140px,#7cff83 141px,#efff10 142px,#d4ff2b 143px,#deff21 144px,#ffc200 145px,#d5ff2a 146px,#ffcc00 147px,#fef501 148px,#dfff20 152px,#ffe300 153px,#ffd500 154px,#f9fd06 155px,#9eff61 156px,#fff100 157px,#f0ff0f 158px,#ffe600 159px,#ffef00 160px,#b1ff4e 161px,#fbfb04 162px,#f2ff0d 165px,#70ff8f 166px,#d7ff28 167px,#c8ff37 169px,#f3ff0c 171px,#c6ff39 172px,#f6ff09 173px,#dfff20 174px,#afff50 175px,#dbff24 176px,#bdff42 177px,#e2ff1d 178px,#e6ff19 179px,#b9ff46 180px,#cdff32 181px,#fef701 182px,#ffdd00 184px,#ffb800 185px,#ffea00 186px,#91ff6e 187px,#eaff15 188px,#ffdf00 189px,#f7fd08 190px,#f7fd08 192px,#ceff31 193px,#dcff23 194px,#ffd100 195px,#fff000 198px,#d9ff26 199px,#f9fa06 201px,#f8fe07 202px,#d8ff27 203px,#86ff79 204px,#4fffb0 205px,#e2ff1d 206px,#c4ff3b 207px,#fbfb04 208px,#fbfa04 209px,#c7ff38 210px,#f4ff0b 211px,#fff800 212px,#e9ff16 213px,#abff54 214px,#e6ff19 215px,#ffe300 216px,#bbff44 217px,#efff10 218px,#ffd700 220px,#f6fe09 221px,#baff45 222px,#ffe900 223px,#f9f906 224px,#ffcc00 226px,#ffcf00 227px,#f8ff07 228px,#5fffa0 229px,#fcfb03 230px,#ffef00 231px,#f6ff09 232px,#3effc1 233px,#cfff30 234px,#ffe400 235px,#efff10 237px,#d6ff29 238px,#fafa05 239px,#ffe800 240px,#9dff62 241px,#c2ff3d 242px,#c9ff36 243px,#fff100 244px,#ffe500 245px,#e1ff1e 246px,#cdff32 247px,#d7ff28 249px,#ffe300 250px,#e7ff18 251px,#aeff51 252px,#e8ff17 254px,#f5ff0a 255px,#ffbf00 256px,#ffe500 258px);height:2px"></i><i style="background:linear-gradient(90deg,#fff300 0,#ffd900 1px,#f3ff0c 2px,#ffda00 6px,#fff400 9px,#ffd000 11px,#ffd100 12px,#fef501 13px,#ffe800 14px,#e7ff18 15px,#fef601 16px,#ffa900 17px,#ffd500 19px,#f5fe0a 20px,#e9ff16 21px,#ffe300 23px,#eeff11 24px,#fef901 25px,#e2ff1d 27px,#eeff11 28px,#ffcc00 29px,#fcf803 31px,#fff000 32px,#ecff13 33px,#eeff11 34px,#ffb500 35px,#ffaa00 36px,#ffd700 37px,#ffd500 39px,#d0ff2f 40px,#ffe800 41px,#ffc400 42px,#f7f908 43px,#ffd800 44px,#f5fc0a 45px,#ffc200 48px,#fafc05 49px,#c4ff3b 50px,#fcfc03 51px,#f1ff0e 52px,#ffe700 53px,#eaff15 54px,#ffde00 55px,#faf805 56px,#ffe000 57px,#d8ff27 58px,#beff41 59px,#ffbc00 60px,#ffd000 61px,#d2ff2d 62px,#ffe000 63px,#ffbb00 64px,#fef201 65px,#ffc500 66px,#f1ff0e 68px,#d5ff2a 69px,#ffdb00 70px,#ffc800 72px,#ffad00 73px,#ffa800 74px,#eeff11 75px,#ffd900 76px,#ffd800 77px,#ddff22 78px,#ffd800 79px,#f3ff0c 81px,#ffcc00 82px,#ffbc00 83px,#f6fe09 84px,#b3ff4c 85px,#ceff31 86px,#a6ff59 87px,#00e5ff 88px,#aeff51 89px,#c4ff3b 90px,#67ff98 92px,#fcfd03 95px,#ffe800 97px,#ffcf00 98px,#ffe300 99px,#ffaa00 102px,#f8fd07 105px,#ceff31 107px,#f9fc06 108px,#ffca00 109px,#ffd300 111px,#f5ff0a 112px,#abff54 113px,#d8ff27 114px,#e4ff1b 115px,#ffd800 116px,#ffa500 117px,#ffe700 119px,#ffe000 124px,#c9ff36 125px,#fff100 126px,#ffd700 129px,#fff400 130px,#fbf704 131px,#ffbe00 132px,#ffed00 133px,#ffdb00 135px,#fdf902 137px,#daff25 138px,#ffdd00 139px,#fff300 140px,#bfff40 141px,#fffa00 142px,#fff400 144px,#ffb000 145px,#ffe500 146px,#ffb300 147px,#fff500 151px,#fff100 152px,#ffc300 153px,#ffb700 154px,#ffe300 155px,#deff21 156px,#ffd700 157px,#ffdd00 158px,#ffc500 159px,#ffd200 160px,#ecff13 161px,#ffe100 162px,#fff800 164px,#efff10 165px,#9aff65 166px,#e5ff1a 167px,#f9fd06 168px,#fafb05 170px,#ffec00 171px,#f6fc09 172px,#ffe600 173px,#fcf903 174px,#dfff20 175px,#f7ff08 176px,#e9ff16 177px,#fef801 178px,#fff800 179px,#e0ff1f 180px,#f6fe09 181px,#ffd500 182px,#ffa000 185px,#ffcb00 186px,#d5ff2a 187px,#ffec00 188px,#ffc000 189px,#ffdd00 190px,#ffdf00 192px,#f7fc08 193px,#fff500 194px,#ffb500 195px,#ffbf00 197px,#ffce00 198px,#fdf602 199px,#ffd900 201px,#ffe600 202px,#e4ff1b 203px,#8bff74 204px,#77ff88 205px,#f5ff0a 206px,#f5fe0a 207px,#ffe100 208px,#ffdc00 209px,#f5fd0a 210px,#ffdb00 212px,#fff100 213px,#dcff23 214px,#fef801 215px,#ffcf00 216px,#f2ff0d 217px,#ffc000 219px,#ffb500 220px,#f3fe0c 222px,#ffce00 223px,#ffc400 225px,#ffab00 226px,#ffb100 227px,#ffec00 228px,#abff54 229px,#ffe200 230px,#ffce00 231px,#ffed00 232px,#93ff6c 233px,#f0ff0f 234px,#ffc900 235px,#fdf602 238px,#ffd100 240px,#d6ff29 241px,#f5ff0a 243px,#ffd200 244px,#ffc800 245px,#fff100 246px,#fdf602 249px,#ffc800 250px,#fff800 251px,#c6ff39 252px,#ccff33 253px,#f3ff0c 254px,#ffe100 255px,#ffa900 256px,#ffda00 258px);height:2px"></i><i style="background:linear-gradient(90deg,#fff500 0,#ffc800 1px,#ffe300 2px,#ffbd00 6px,#ffcf00 9px,#ffae00 11px,#ffb400 12px,#ffcf00 13px,#ffce00 14px,#ffed00 15px,#ffd100 16px,#ff9400 17px,#ff9a00 18px,#ffe200 20px,#ffee00 21px,#ffca00 23px,#ffe700 24px,#ffdf00 25px,#fef801 27px,#ffe800 28px,#ffb700 29px,#ffd600 31px,#ffd600 32px,#ffef00 33px,#ffe300 34px,#ff9c00 35px,#ff8f00 36px,#ffb100 37px,#ffc000 39px,#fcf603 40px,#ffb100 42px,#ffd200 43px,#ffc000 44px,#ffd900 45px,#ffab00 48px,#ffe100 49px,#f2ff0d 50px,#ffe800 51px,#ffe700 52px,#ffd000 53px,#ffe400 54px,#ffc600 55px,#ffd200 57px,#f5ff0a 58px,#eeff11 59px,#ffa900 60px,#ffb400 61px,#fdf502 62px,#ffa700 64px,#ffc300 65px,#ffad00 66px,#ffbf00 67px,#ffed00 68px,#fbf904 69px,#ffc200 70px,#ff9000 73px,#ff9200 74px,#ffd900 75px,#ffc000 76px,#ffc000 77px,#ffeb00 78px,#ffc300 79px,#ffdf00 81px,#ffb300 82px,#ffa900 83px,#ffe300 84px,#daff25 85px,#d9ff26 86px,#a7ff58 87px,#2dffd2 88px,#a7ff58 89px,#b8ff47 90px,#7bff84 92px,#dfff20 94px,#fff000 95px,#ffb500 98px,#ffbc00 99px,#ff8e00 102px,#ffc000 104px,#fcfa03 106px,#f5ff0a 107px,#ffb300 109px,#ffb600 111px,#ffec00 112px,#dcff23 113px,#fff000 115px,#ff8f00 117px,#ffc500 119px,#ffc300 123px,#ffcc00 124px,#f7fb08 125px,#ffd600 126px,#ffbc00 129px,#ffd400 130px,#ffd200 131px,#ffaa00 132px,#ffc700 133px,#ffbb00 135px,#fff200 138px,#ffc600 139px,#f3ff0c 141px,#ffe400 142px,#ffe500 143px,#ffd100 144px,#ff9f00 145px,#ffb500 146px,#ff9c00 147px,#ffd000 151px,#ffcb00 152px,#ffa800 153px,#ff9f00 154px,#ffef00 156px,#ffbe00 157px,#ffa800 159px,#ffb600 160px,#ffe200 161px,#ffc600 162px,#ffcb00 163px,#ecff13 165px,#b4ff4b 166px,#f4ff0b 167px,#ffe700 168px,#ffde00 170px,#ffd000 171px,#ffdc00 172px,#ffc900 173px,#fef701 175px,#fff100 177px,#ffdb00 178px,#ffde00 179px,#fef801 180px,#ffe200 181px,#ffb500 182px,#ff8c00 185px,#ffb000 186px,#fff100 187px,#ffa500 189px,#ffbc00 191px,#ffc100 192px,#ffdd00 193px,#ffcf00 194px,#ff9d00 195px,#ff9400 196px,#ffb100 198px,#ffd100 199px,#ffb700 201px,#ffcd00 202px,#ecff13 203px,#91ff6e 204px,#95ff6a 205px,#fff900 206px,#ffc500 208px,#ffc000 209px,#ffde00 210px,#ffc400 212px,#fff500 214px,#ffbd00 216px,#ffdf00 217px,#ffa300 219px,#ff9a00 220px,#ffdb00 222px,#ffb500 223px,#ff8f00 226px,#ff9900 227px,#ffd300 228px,#e8ff17 229px,#ffc900 230px,#ffb300 231px,#ffd400 232px,#d2ff2d 233px,#fff000 234px,#ffb200 235px,#ffc400 237px,#ffd100 238px,#ffbe00 240px,#fbf904 241px,#fef901 242px,#ffe300 243px,#ffb800 244px,#ffae00 245px,#ffdd00 247px,#ffd200 249px,#ffb100 250px,#ffdd00 251px,#d9ff26 252px,#ceff31 253px,#fdfe02 254px,#ff9700 256px,#ffd200 258px);height:2px"></i><i style="background:linear-gradient(90deg,#fefd01 0,#ffbd00 1px,#ffc100 3px,#ffa800 6px,#ffbb00 8px,#ff9600 11px,#ffce00 15px,#ffb600 16px,#ff8700 17px,#ff8900 18px,#ffc600 20px,#ffd000 21px,#ffb800 23px,#ffe000 27px,#ffa900 29px,#ffd500 33px,#ffc300 34px,#ff8b00 35px,#ff7c00 36px,#ffb100 39px,#ffd200 40px,#ffa300 42px,#ffb400 43px,#ffb300 46px,#ff9c00 48px,#ffe900 50px,#ffbd00 53px,#ffc400 54px,#ffb400 55px,#ffc900 57px,#fff200 58px,#ffeb00 59px,#ff9d00 60px,#ffa000 61px,#ffd000 62px,#ff9900 64px,#ffa500 65px,#ff9b00 66px,#ffd500 68px,#ffde00 69px,#ffb000 70px,#ff7d00 73px,#ff8200 74px,#ffb400 75px,#ffaf00 77px,#ffc700 78px,#ffb300 79px,#ffbf00 81px,#ffa200 82px,#ff9c00 83px,#f8ff07 85px,#e1ff1e 86px,#abff54 87px,#5dffa2 88px,#a1ff5e 89px,#adff52 90px,#8bff74 92px,#ecff13 94px,#ffce00 96px,#ffa100 98px,#ff9300 100px,#ff7b00 102px,#ffa800 104px,#ffe600 106px,#ffeb00 107px,#ffa400 109px,#ff9800 110px,#ffa300 111px,#fcfb03 113px,#ffd200 115px,#ff8100 117px,#ffac00 119px,#ffa800 122px,#ffbf00 124px,#ffdf00 125px,#ffae00 127px,#ffaa00 129px,#ffbc00 130px,#ff9d00 132px,#ffb000 133px,#ffa400 135px,#ffce00 138px,#ffb700 139px,#ffe800 141px,#ffb900 144px,#ff9100 145px,#ff9500 148px,#ffb300 151px,#ffaf00 152px,#ff8f00 154px,#ffcc00 156px,#ff9d00 158px,#ff9300 159px,#ffc100 161px,#ffb700 163px,#ffd900 164px,#ebff14 165px,#c5ff3a 166px,#fffd00 167px,#ffd500 168px,#ffb400 173px,#ffdd00 175px,#ffd900 177px,#ffc600 178px,#ffdf00 180px,#ff9e00 182px,#ff8000 185px,#ffc800 187px,#ff9200 189px,#ffc100 193px,#ffb500 194px,#ff8e00 195px,#ff8200 196px,#ffb400 199px,#ff9f00 201px,#ffbb00 202px,#f1ff0e 203px,#97ff68 204px,#aaff55 205px,#ffec00 206px,#ffb200 208px,#ffad00 209px,#ffc000 210px,#ffbe00 213px,#ffd500 214px,#ffb100 216px,#ffbf00 217px,#ff8600 220px,#ffb900 222px,#ff7c00 226px,#ff8a00 227px,#ffeb00 229px,#ffb700 230px,#ffa200 231px,#ffc100 232px,#fafc05 233px,#ffda00 234px,#ffa300 235px,#ffaa00 237px,#ffb000 240px,#ffe100 241px,#ffe200 242px,#ffa500 244px,#ff9d00 245px,#ffc800 248px,#ffa000 250px,#ffca00 251px,#e7ff18 252px,#ceff31 253px,#fff800 254px,#ffab00 255px,#ff8d00 256px,#ffd100 258px);height:2px"></i><i style="background:linear-gradient(90deg,#f5ff0a 0,#ffba00 1px,#ff9b00 6px,#ffae00 8px,#ff8700 11px,#ffba00 15px,#ff8000 17px,#ff8100 18px,#ffb500 20px,#ffae00 23px,#ffd000 27px,#ffa100 29px,#ffc500 33px,#ffae00 34px,#ff8000 35px,#ff7000 36px,#ffba00 40px,#ff9b00 42px,#ff9b00 47px,#ff9400 48px,#ffd100 50px,#ffa700 55px,#ffe400 58px,#ffd300 59px,#ff9500 60px,#ff9400 61px,#ffb500 62px,#ff9200 64px,#ff9100 66px,#ffc700 68px,#ffca00 69px,#ff8f00 71px,#ff7200 73px,#ff7800 74px,#ff9e00 75px,#ffb100 78px,#ffab00 81px,#ff9600 83px,#ffb900 84px,#fff000 85px,#e6ff19 86px,#7fff80 88px,#a1ff5e 89px,#a7ff58 90px,#9bff64 92px,#f6ff09 94px,#ff9400 98px,#ff7000 102px,#ff9800 104px,#ffd800 106px,#ffd700 107px,#ff8e00 110px,#ff9700 111px,#ffe900 113px,#ffc000 115px,#ff7900 117px,#ff9d00 119px,#ff9700 122px,#ffc900 125px,#ff9d00 127px,#ffaf00 130px,#ff9600 132px,#ffa400 133px,#ff9500 135px,#ffb600 138px,#ffae00 139px,#ffd300 141px,#ffac00 144px,#ff8900 145px,#ff8800 148px,#ff9e00 152px,#ff8800 154px,#ffb800 156px,#ff8c00 158px,#ff8600 159px,#ffad00 161px,#ffab00 163px,#eeff11 165px,#d3ff2c 166px,#fff300 167px,#ffcb00 168px,#ffa500 173px,#ffd400 176px,#ffb900 178px,#ffd000 180px,#ff8f00 182px,#ff7c00 185px,#ffac00 187px,#ff8700 189px,#ffaf00 193px,#ffa500 194px,#ff7900 196px,#ffa200 199px,#ff8f00 201px,#ffaf00 202px,#f7ff08 203px,#9fff60 204px,#b9ff46 205px,#ffe300 206px,#ffb500 207px,#ffa200 209px,#ffbc00 215px,#ff9c00 218px,#ff7b00 220px,#ffa400 222px,#ff7200 226px,#ff8300 227px,#ffb400 228px,#ffd000 229px,#ff9900 231px,#ffb500 232px,#ffe600 233px,#ffcb00 234px,#ff9c00 235px,#ff9a00 237px,#ffaa00 240px,#ffd200 241px,#ffd300 242px,#ff9a00 244px,#ff9300 245px,#ffb700 248px,#ff9600 250px,#ffbc00 251px,#f2ff0d 252px,#d1ff2e 253px,#fff000 254px,#ff9c00 255px,#ff8800 256px,#ffd500 258px);height:2px"></i><i style="background:linear-gradient(90deg,#eaff15 0,#ffbc00 1px,#ff9600 6px,#ffab00 8px,#ff8000 11px,#ffb000 15px,#ff8100 17px,#ff9400 19px,#ffae00 20px,#ffb200 24px,#ffca00 27px,#ffa100 29px,#ffa600 31px,#ffbf00 33px,#ff7c00 35px,#ff6c00 36px,#ffa900 39px,#ff9300 48px,#ffc400 50px,#ffcd00 51px,#ffa600 54px,#ffaf00 56px,#ffe100 58px,#ffc700 59px,#ff9300 60px,#ff8e00 61px,#ffa700 62px,#ff8e00 66px,#ffc300 68px,#ffc200 69px,#ff8900 71px,#ff6f00 73px,#ff7500 74px,#ff9400 75px,#ffa700 80px,#ff9600 83px,#ffb000 84px,#ffe300 85px,#e9ff16 86px,#9bff64 88px,#aeff51 92px,#fefe01 94px,#ffa000 97px,#ff6d00 102px,#ff9100 104px,#ffd500 106px,#ffa100 109px,#ff8c00 110px,#ff9200 111px,#ffc400 112px,#ffde00 113px,#ffd500 114px,#ff7700 117px,#ff9900 119px,#ff8800 121px,#ffa700 123px,#ffc000 125px,#ff9500 127px,#ffac00 130px,#ff9600 132px,#ffa400 133px,#ff8f00 135px,#ffab00 139px,#ffcb00 141px,#ffc200 143px,#ff8700 145px,#ff7c00 147px,#ff9400 151px,#ff8800 154px,#ffaf00 156px,#ff8500 158px,#ff8e00 160px,#ffa400 161px,#ffa800 163px,#f6ff09 165px,#e3ff1c 166px,#ffec00 167px,#ffc900 168px,#ff9e00 173px,#ffd400 176px,#ffb400 178px,#ffcb00 180px,#ff8700 182px,#ff7d00 184px,#ff9c00 187px,#ff8200 189px,#ffa700 193px,#ff7800 196px,#ff9a00 199px,#ff8600 201px,#ffa800 202px,#fdff02 203px,#abff54 204px,#c5ff3a 205px,#ffdf00 206px,#ffae00 207px,#ffa400 210px,#ffb500 212px,#ffb300 214px,#ffba00 215px,#ff7700 220px,#ff9900 222px,#ff7000 226px,#ff8300 227px,#ffb100 228px,#ffc300 229px,#ff9600 231px,#ffda00 233px,#ffc500 234px,#ff9b00 235px,#ff9300 237px,#ff9800 239px,#ffcf00 241px,#ffcd00 242px,#ff9700 244px,#ff9900 246px,#ffb000 248px,#ff9200 250px,#ffb500 251px,#fcff03 252px,#d8ff27 253px,#ffe700 254px,#ff9200 255px,#ff8800 256px,#ffdd00 258px);height:2px"></i><i style="background:linear-gradient(90deg,#e1ff1e 0,#ffc300 1px,#ff9b00 6px,#ffb400 8px,#ff8100 11px,#ffb000 14px,#ffb400 15px,#ff8900 17px,#ff9c00 19px,#ffb300 20px,#ffbf00 25px,#ffd300 26px,#ffa000 30px,#ffc500 32px,#ffc400 33px,#ff8000 35px,#ff6f00 36px,#ffb300 39px,#ffa000 46px,#ff9900 48px,#ffd700 51px,#ffa800 54px,#ffa400 55px,#ffb700 56px,#ffe000 57px,#ffec00 58px,#ff9700 60px,#ff8f00 61px,#ffa600 62px,#ff9400 66px,#ffcc00 68px,#ffc700 69px,#ff8d00 71px,#ff7600 73px,#ff7a00 74px,#ffa500 76px,#ffa500 81px,#ff9e00 83px,#ffae00 84px,#ffdf00 85px,#e6ff19 86px,#c1ff3e 87px,#b2ff4d 89px,#aeff51 91px,#fffa00 94px,#ff9100 98px,#ff8200 101px,#ff7800 103px,#ffdf00 106px,#ff9300 110px,#ff9500 111px,#ffcb00 112px,#ffe100 113px,#ffb900 115px,#ff9000 116px,#ff7e00 117px,#ffa000 119px,#ff8700 121px,#ff9100 122px,#ffca00 124px,#ffc300 125px,#ffa200 126px,#ff9a00 128px,#ffb500 130px,#ff9e00 132px,#ffb000 133px,#ff9100 135px,#ffb100 139px,#ffcb00 140px,#ffcd00 143px,#ff8e00 145px,#ff8200 147px,#ff9800 149px,#ff9100 154px,#ffb500 156px,#ff8700 158px,#ff9100 160px,#ffab00 162px,#ffae00 163px,#fffc00 165px,#f2ff0d 166px,#ffd100 168px,#ff9f00 173px,#ffe000 176px,#ffb800 178px,#ffd300 180px,#ff8700 182px,#ff7e00 183px,#ff9900 187px,#ff8500 189px,#ffab00 193px,#ff8000 196px,#ff9d00 199px,#ff8500 201px,#ffa700 202px,#fffb00 203px,#b7ff48 204px,#ccff33 205px,#ffe000 206px,#ffb000 207px,#ffa600 210px,#ffc400 212px,#ffb100 213px,#ffc400 215px,#ff7b00 220px,#ff9b00 222px,#ff9900 223px,#ff7700 225px,#ff7600 226px,#ff8c00 227px,#ffba00 228px,#ffc500 229px,#ff9c00 231px,#ffb200 232px,#ffdd00 233px,#ffcb00 234px,#ffa300 235px,#ff9600 237px,#ff9c00 239px,#ffd900 241px,#ffd400 242px,#ff9d00 244px,#ff9c00 246px,#ffb300 248px,#ff9600 250px,#ffb500 251px,#fffb00 252px,#e0ff1f 253px,#ffe000 254px,#ff8f00 255px,#ff8d00 256px,#ffe700 258px);height:2px"></i><i style="background:linear-gradient(90deg,#deff21 0,#ffcc00 1px,#ffa700 6px,#ffc700 8px,#ff8800 11px,#ffbe00 14px,#ffb100 16px,#ff9800 17px,#ffab00 19px,#ffc100 20px,#ffc300 24px,#ffe600 26px,#ffac00 30px,#ffb400 31px,#ffd900 32px,#ffd500 33px,#ff8900 35px,#ff7800 36px,#ffac00 38px,#ffc800 39px,#ffac00 43px,#ffa100 45px,#ffb300 47px,#ffa600 48px,#ffcb00 50px,#ffec00 51px,#ffba00 53px,#ffad00 55px,#ffc500 56px,#fcfa03 57px,#f8fe07 58px,#ff9f00 60px,#ff9600 61px,#ffaf00 62px,#ffa800 64px,#ff9f00 66px,#ffe000 68px,#ffd700 69px,#ff9800 71px,#ff8500 74px,#ffb400 76px,#ffbc00 80px,#ffb100 84px,#ffe100 85px,#dcff23 86px,#c2ff3d 87px,#baff45 91px,#fff900 94px,#ff9b00 98px,#ff9300 101px,#ff8000 102px,#ff8200 103px,#ffc900 105px,#fff400 106px,#ffc300 108px,#ffc400 109px,#ff9f00 110px,#ff9d00 111px,#ffdb00 112px,#ffef00 113px,#ffc500 115px,#ff9900 116px,#ff8900 117px,#ffb200 119px,#ff8d00 121px,#ff9800 122px,#ffe300 124px,#ffd100 125px,#ffa700 126px,#ffa600 128px,#ffca00 130px,#ffac00 131px,#ffac00 132px,#ffc900 133px,#ff9900 135px,#ffac00 137px,#ffbe00 139px,#ffdf00 140px,#ffd600 142px,#ffe300 143px,#ff9a00 145px,#ff8900 146px,#ffa800 149px,#ff9900 151px,#ffa400 153px,#ffa000 154px,#ffc700 156px,#ff9000 158px,#ff9c00 160px,#ffbb00 162px,#ffbd00 163px,#fefd01 166px,#ffde00 169px,#ffb500 171px,#ffa700 173px,#ffb300 174px,#fff700 176px,#ffc100 178px,#ffe800 180px,#ffad00 181px,#ff8e00 182px,#ff8900 183px,#ffa700 185px,#ff8e00 189px,#ffba00 193px,#ffa200 195px,#ff8f00 196px,#ffab00 199px,#ff8a00 201px,#ffab00 202px,#fff600 203px,#c1ff3e 204px,#ccff33 205px,#ffe800 206px,#ffb900 207px,#ffb000 210px,#ffdf00 212px,#ffbc00 213px,#ffb800 214px,#ffd800 215px,#ff8500 220px,#ff8a00 221px,#ffa700 222px,#ffa800 223px,#ff8200 225px,#ff8300 226px,#ff9a00 227px,#ffce00 228px,#ffd200 229px,#ffa600 231px,#ffbb00 232px,#ffef00 233px,#ffb200 235px,#ffa200 237px,#ffa700 239px,#fff000 241px,#ffe500 242px,#ffaa00 244px,#ffa600 246px,#ffc100 248px,#ff9f00 250px,#ffbb00 251px,#fffa00 252px,#e6ff19 253px,#ffdc00 254px,#ff8f00 255px,#ff9300 256px,#fff100 258px);height:2px"></i><i style="background:linear-gradient(90deg,#e0ff1f 0,#ffd800 1px,#ffe400 2px,#ffb900 5px,#ffbb00 6px,#ffeb00 8px,#ffa700 10px,#ff9700 11px,#ffd100 13px,#ffdc00 15px,#ffb000 17px,#ffc500 19px,#ffde00 20px,#ffce00 22px,#ffe200 25px,#f5fe0a 26px,#fdf802 27px,#ffc100 30px,#ffc700 31px,#faf905 32px,#fff400 33px,#ff9b00 35px,#ff8800 36px,#ff9b00 37px,#ffee00 39px,#ffcc00 40px,#ffc200 44px,#ffb100 45px,#ffd200 47px,#ffbb00 48px,#ffc100 49px,#ecff13 51px,#fff300 52px,#ffcd00 53px,#ffbe00 55px,#ffdb00 56px,#d5ff2a 57px,#cfff30 58px,#ffeb00 59px,#ffae00 60px,#ffa300 61px,#ffc600 62px,#ffc200 64px,#ffb200 66px,#ffe500 67px,#f7fb08 68px,#fef601 69px,#ffc300 70px,#ffad00 71px,#ff9800 74px,#ffd000 76px,#ffc800 78px,#ffda00 79px,#ffc400 81px,#ffd500 82px,#ffbc00 84px,#ffed00 85px,#c5ff3a 86px,#b7ff48 87px,#c9ff36 88px,#bcff43 91px,#f7ff08 93px,#ffef00 95px,#ffae00 98px,#ffbd00 100px,#ff9500 102px,#ff9400 103px,#ffaf00 104px,#ffe200 105px,#e1ff1e 106px,#fff200 107px,#ffd700 108px,#ffeb00 109px,#ffb300 110px,#ffaa00 111px,#fcf803 112px,#f2ff0d 113px,#fef801 114px,#ffdc00 115px,#ffaa00 116px,#ff9a00 117px,#ffd500 119px,#ff9b00 121px,#ffa800 122px,#ffe300 123px,#f0ff0f 124px,#ffec00 125px,#ffb400 126px,#ffad00 127px,#fff000 130px,#ffc000 131px,#ffc300 132px,#fdf302 133px,#ffc200 134px,#ffaa00 135px,#ffc300 136px,#ffb900 138px,#f7fb08 140px,#ffed00 142px,#f3fe0c 143px,#ffe800 144px,#ffae00 145px,#ff9c00 146px,#ffc600 149px,#ffa800 151px,#ffc100 152px,#ffb800 154px,#ffe900 156px,#ffa200 158px,#ffb100 160px,#ffd900 162px,#fafa05 168px,#f9fa06 169px,#ffc900 171px,#ffb600 173px,#ffc200 174px,#ffef00 175px,#ddff22 176px,#f8fc07 177px,#ffd000 178px,#fef701 179px,#eeff11 180px,#ffbd00 181px,#ff9c00 182px,#ff9d00 183px,#ffbf00 184px,#ffcc00 185px,#ffb400 186px,#ff9f00 189px,#ffd500 193px,#ffbf00 195px,#ffa700 196px,#ffc800 199px,#ff9700 201px,#ffb700 202px,#fffa00 203px,#c1ff3e 204px,#bcff43 205px,#fff900 206px,#ffca00 207px,#ffc800 209px,#ffc200 210px,#fff000 211px,#f3fe0c 212px,#ffcf00 213px,#ffc700 214px,#fbf804 215px,#ffeb00 216px,#ffc100 217px,#ff9800 220px,#ff9900 221px,#ffc100 222px,#ffc600 223px,#ffa100 224px,#ff9900 226px,#ffb100 227px,#fff300 228px,#ffef00 229px,#ffc800 230px,#ffb700 231px,#ffcc00 232px,#e8ff17 233px,#fff600 234px,#ffc900 235px,#ffb700 237px,#ffbb00 239px,#ffde00 240px,#e4ff1b 241px,#f7fd08 242px,#ffc100 244px,#ffb900 246px,#ffdc00 248px,#ffb100 250px,#ffca00 251px,#fbff04 252px,#e0ff1f 253px,#ffe000 254px,#ff9400 255px,#ff9d00 256px,#fffb00 258px);height:2px"></i><i style="background:linear-gradient(90deg,#e4ff1b 0,#ffe900 1px,#f0ff0f 2px,#f6fb09 3px,#ffdb00 5px,#ffdb00 6px,#f3fd0c 7px,#d9ff26 8px,#ffe700 9px,#ffb000 11px,#f7f808 13px,#fdf402 16px,#ffd200 17px,#ffee00 19px,#f0ff0f 20px,#fff000 22px,#f7fd08 25px,#beff41 26px,#f8fb07 28px,#ffe100 30px,#ffe400 31px,#c4ff3b 32px,#ffec00 34px,#ffb800 35px,#ffa200 36px,#ffb900 37px,#fff100 38px,#d0ff2f 39px,#ffec00 40px,#f9f706 42px,#ffe900 44px,#ffcd00 45px,#f4fa0b 47px,#ffdb00 48px,#ffdd00 49px,#fcf903 50px,#acff53 51px,#e2ff1d 52px,#ffeb00 53px,#ffda00 55px,#fcf903 56px,#92ff6d 57px,#8bff74 58px,#efff10 59px,#ffc500 60px,#ffba00 61px,#ffed00 62px,#ffec00 64px,#ffcf00 66px,#e9ff16 67px,#c1ff3e 68px,#d4ff2b 69px,#ffe200 70px,#ffcd00 71px,#ffd700 72px,#ffbb00 73px,#ffb600 74px,#ffe700 75px,#f8f907 77px,#ffe900 78px,#f5fc0a 79px,#ffe500 81px,#f2fc0d 82px,#ffd000 84px,#f8fe07 85px,#95ff6a 86px,#99ff66 87px,#c3ff3c 88px,#aaff55 91px,#d9ff26 92px,#f0ff0f 93px,#e2ff1d 94px,#f6fb09 96px,#ffce00 98px,#ffee00 100px,#ffe100 101px,#ffb600 102px,#ffb000 103px,#f5fe0a 105px,#96ff69 106px,#e9ff16 107px,#fff600 108px,#d2ff2d 109px,#ffce00 110px,#ffbd00 111px,#d2ff2d 112px,#c1ff3e 113px,#f6fc09 115px,#ffc400 116px,#ffb500 117px,#ffec00 118px,#eefe11 119px,#ffcd00 120px,#ffb300 121px,#ffc200 122px,#eeff11 123px,#a7ff58 124px,#e6ff19 125px,#ffca00 126px,#ffc800 127px,#f6fb09 129px,#ceff31 130px,#ffdd00 131px,#ffe300 132px,#b9ff46 133px,#ffe200 134px,#ffc300 135px,#ffed00 136px,#ffd100 138px,#fff400 139px,#c0ff3f 140px,#efff10 142px,#b2ff4d 143px,#e7ff18 144px,#ffcc00 145px,#ffba00 146px,#faf405 149px,#ffd100 150px,#ffc300 151px,#ffec00 152px,#ffdb00 154px,#fbf704 155px,#daff25 156px,#ffec00 157px,#ffbe00 158px,#ffbe00 159px,#fbf604 161px,#f7fc08 164px,#ffec00 165px,#fffc00 166px,#c5ff3a 169px,#fafa05 170px,#ffeb00 172px,#ffd000 173px,#ffdd00 174px,#e9ff16 175px,#98ff67 176px,#d0ff2f 177px,#ffe600 178px,#deff21 179px,#a9ff56 180px,#ffd500 181px,#ffb500 182px,#ffbb00 183px,#fef101 184px,#f3fa0c 185px,#ffd700 186px,#ffd300 188px,#ffbc00 189px,#ffe600 191px,#f6fa09 194px,#ffca00 196px,#ffd000 197px,#ffed00 198px,#faf405 199px,#ffc600 200px,#ffaf00 201px,#f2ff0d 203px,#aeff51 204px,#93ff6c 205px,#e5ff1a 206px,#ffe500 207px,#f9f706 208px,#ffdd00 210px,#e0ff1f 211px,#aeff51 212px,#ffea00 213px,#ffdf00 214px,#c7ff38 215px,#e3ff1c 216px,#ffe000 217px,#ffd300 219px,#ffb600 220px,#ffb200 221px,#ffee00 222px,#fbf404 223px,#ffc100 224px,#ffba00 226px,#ffd000 227px,#cfff30 228px,#e0ff1f 229px,#ffe700 230px,#ffd200 231px,#ffe500 232px,#a2ff5d 233px,#deff21 234px,#ffec00 235px,#ffdb00 237px,#ffd900 239px,#f7fc08 240px,#9dff62 241px,#fff600 243px,#ffd800 246px,#fcf603 247px,#f2fe0d 248px,#ffcd00 250px,#ffe700 251px,#deff21 252px,#c3ff3c 253px,#fff200 254px,#ffa100 255px,#ffac00 256px,#f7ff08 258px);height:2px"></i><i style="background:linear-gradient(90deg,#e6ff19 0,#fdfc02 1px,#b4ff4b 2px,#bfff40 3px,#edff12 4px,#f6fc09 6px,#7aff85 8px,#e7ff18 9px,#fff100 10px,#ffd200 11px,#fbf704 12px,#b5ff4a 13px,#c2ff3d 14px,#b0ff4f 15px,#f9f906 17px,#daff25 19px,#a3ff5c 20px,#d8ff27 21px,#deff21 22px,#c8ff37 23px,#ceff31 25px,#66ff99 26px,#cbff34 28px,#c5ff3a 29px,#f2ff0d 30px,#f6ff09 31px,#6aff95 32px,#94ff6b 33px,#dcff23 34px,#ffdf00 35px,#ffc600 36px,#ffe100 37px,#d7ff28 38px,#5cffa3 39px,#ebff14 40px,#e3ff1c 41px,#beff41 42px,#e4ff1b 43px,#d8ff27 44px,#fff200 45px,#e6ff19 46px,#a9ff56 47px,#f7fc08 48px,#f7fc08 49px,#dbff24 50px,#47ffb8 51px,#b2ff4d 52px,#eaff15 53px,#e7ff18 54px,#faf905 55px,#dcff23 56px,#45ffba 57px,#38ffc7 58px,#c0ff3f 59px,#ffe200 60px,#ffd700 61px,#d5ff2a 62px,#c6ff39 63px,#f6fa09 65px,#fff100 66px,#a9ff56 67px,#6aff95 68px,#87ff78 69px,#f4ff0b 70px,#fcf603 71px,#e4ff1b 72px,#ffe800 73px,#ffdc00 74px,#d9ff26 75px,#c0ff3f 76px,#beff41 77px,#ebff14 78px,#b8ff47 79px,#bfff40 80px,#f1ff0e 81px,#a6ff59 82px,#eeff11 83px,#ffec00 84px,#d6ff29 85px,#43ffbc 86px,#66ff99 87px,#afff50 88px,#7aff85 91px,#c4ff3b 92px,#dbff24 93px,#b0ff4f 94px,#bdff42 96px,#edff12 97px,#fbf604 98px,#efff10 99px,#c9ff36 100px,#daff25 101px,#ffe200 102px,#ffd800 103px,#fef501 104px,#c3ff3c 105px,#1ce4e3 106px,#c4ff3b 107px,#e5ff1a 108px,#54ffab 109px,#ffed00 110px,#ffd300 111px,#94ff6b 112px,#7eff81 113px,#beff41 115px,#ffe700 116px,#ffd700 117px,#d8ff27 118px,#91ff6e 119px,#fef501 120px,#ffd400 121px,#ffe400 122px,#b7ff48 123px,#29fcd6 124px,#aeff51 125px,#ffe700 126px,#efff10 128px,#c4ff3b 129px,#62ff9d 130px,#fbfa04 131px,#f7fe08 132px,#27ded8 133px,#f8fe07 134px,#ffe400 135px,#ceff31 136px,#f2ff0d 137px,#fff400 138px,#e0ff1f 139px,#5dffa2 140px,#a6ff59 141px,#c5ff3a 142px,#4cffb3 143px,#fff100 145px,#ffe300 146px,#edff12 148px,#b2ff4d 149px,#fbf804 150px,#ffe600 151px,#d0ff2f 152px,#f4fe0b 154px,#cbff34 155px,#74ff8b 156px,#e1ff1e 157px,#ffe400 158px,#f7f908 160px,#c3ff3c 161px,#b1ff4e 162px,#c3ff3c 164px,#fffa00 165px,#efff10 166px,#8aff75 168px,#6fff90 169px,#d2ff2d 170px,#e6ff19 171px,#d9ff26 172px,#fff400 173px,#f9fb06 174px,#b6ff49 175px,#2cffd3 176px,#a0ff5f 177px,#fdfb02 178px,#b5ff4a 179px,#50ffaf 180px,#fff400 181px,#ffd800 182px,#ffe200 183px,#c8ff37 184px,#a3ff5c 185px,#f6fc09 186px,#f1fc0e 188px,#ffe400 189px,#fbf604 190px,#d9ff26 191px,#e7ff18 192px,#b6ff49 193px,#b8ff47 194px,#fcf503 196px,#f7f908 197px,#b7ff48 199px,#ffee00 200px,#ffd000 201px,#fdf502 202px,#d0ff2f 203px,#3dffc2 205px,#b9ff46 206px,#f5ff0a 207px,#c1ff3e 208px,#fbfa04 210px,#4affb5 212px,#f4ff0b 213px,#fdf902 214px,#71ff8e 215px,#f5fe0a 217px,#eefe11 219px,#ffd300 221px,#cfff30 222px,#bcff43 223px,#ffeb00 224px,#ffe700 226px,#fff600 227px,#77ff88 228px,#a3ff5c 229px,#ecff13 230px,#fef601 231px,#fafd05 232px,#3affc5 233px,#afff50 234px,#e3ff1c 235px,#eeff11 237px,#f8fb07 239px,#ccff33 240px,#28ffd7 241px,#deff21 243px,#f8fb07 246px,#abff54 248px,#fff300 250px,#ecff13 251px,#aaff55 252px,#82ff7d 253px,#ecff13 254px,#ffb600 255px,#ffc000 256px,#e9ff16 258px);height:2px"></i><i style="background:linear-gradient(90deg,#f7ff08 0,#fbff04 1px,#78ff87 2px,#87ff78 3px,#c3ff3c 4px,#bfff40 5px,#d8ff27 6px,#83ff7c 7px,#0ae6f5 8px,#bfff40 9px,#e5ff1a 10px,#ffea00 11px,#e6ff19 12px,#4affb5 13px,#8bff74 14px,#5dffa2 15px,#8fff70 16px,#e1ff1e 17px,#acff53 19px,#30ffcf 20px,#b4ff4b 21px,#b6ff49 22px,#8dff72 23px,#b4ff4b 25px,#09f3f6 26px,#6eff91 27px,#a8ff57 28px,#7fff80 29px,#d6ff29 30px,#e8ff17 31px,#2dffd2 32px,#a4ff5b 34px,#fffa00 35px,#ffe100 36px,#fdfd02 37px,#adff52 38px,#0072ff 39px,#d6ff29 40px,#beff41 41px,#67ff98 42px,#b5ff4a 43px,#8aff75 44px,#f3ff0c 45px,#c2ff3d 46px,#34ffcb 47px,#dbff24 48px,#c1ff3e 50px,#14ffeb 51px,#9eff61 52px,#cbff34 53px,#b0ff4f 54px,#e7ff18 55px,#c4ff3b 56px,#36ffc9 57px,#1fffe0 58px,#fff400 60px,#ffe900 61px,#97ff68 62px,#81ff7e 63px,#91ff6e 64px,#d3ff2c 65px,#fbff04 66px,#72ff8d 67px,#0cebf3 68px,#2fffd0 69px,#dbff24 70px,#e2ff1d 71px,#88ff77 72px,#f2ff0d 73px,#fff700 74px,#90ff6f 75px,#77ff88 76px,#72ff8d 77px,#cdff32 78px,#77ff88 79px,#85ff7a 80px,#d8ff27 81px,#3cffc3 82px,#d3ff2c 83px,#fffb00 84px,#c1ff3e 85px,#00eaff 86px,#42ffbd 87px,#a6ff59 88px,#6cff93 89px,#5dffa2 90px,#26ffd9 91px,#b7ff48 92px,#cfff30 93px,#6dff92 94px,#86ff79 95px,#6fff90 96px,#c3ff3c 97px,#e0ff1f 98px,#baff45 99px,#75ff8a 100px,#93ff6c 101px,#f9ff06 102px,#fff800 103px,#e6ff19 104px,#97ff68 105px,#00a0ff 106px,#b9ff46 107px,#d6ff29 108px,#00a9ff 109px,#fff500 110px,#ffda00 111px,#86ff79 112px,#55ffaa 113px,#7cff83 115px,#fdfe02 116px,#ffee00 117px,#acff53 118px,#17fce8 119px,#e8ff17 120px,#ffef00 121px,#fffb00 122px,#93ff6c 123px,#002ef3 124px,#84ff7b 125px,#fff700 126px,#f0ff0f 127px,#baff45 128px,#a0ff5f 129px,#0dfff2 130px,#efff10 131px,#eaff15 132px,#1ed3e1 133px,#f1ff0e 134px,#fff600 135px,#67ff98 136px,#c7ff38 137px,#f1ff0e 138px,#c2ff3d 139px,#00b5ff 140px,#7bff84 141px,#aaff55 142px,#02fcfd 143px,#8eff71 144px,#f4ff0b 145px,#faff05 146px,#beff41 147px,#bbff44 148px,#2bf4d4 149px,#e5ff1a 150px,#fffd00 151px,#7cff83 152px,#99ff66 153px,#d0ff2f 154px,#9cff63 155px,#0077f8 156px,#beff41 157px,#fcfe03 158px,#d4ff2b 160px,#7aff85 161px,#5fffa0 162px,#85ff7a 164px,#fcff03 165px,#e4ff1b 166px,#7eff81 167px,#10f8ef 169px,#b0ff4f 170px,#c0ff3f 171px,#92ff6d 172px,#f2ff0d 173px,#e4ff1b 174px,#89ff76 175px,#03f5fc 176px,#96ff69 177px,#fcff03 178px,#5fffa0 180px,#f9ff06 181px,#fcfd03 183px,#8cff73 184px,#40ffbf 185px,#d4ff2b 186px,#b3ff4c 188px,#fcfe03 189px,#daff25 190px,#88ff77 191px,#beff41 192px,#63ff9c 193px,#6dff92 194px,#8bff74 195px,#e4ff1b 196px,#d1ff2e 197px,#3bffc4 199px,#f5ff0a 200px,#ffeb00 201px,#e2ff1d 202px,#acff53 203px,#5affa5 204px,#0077ff 205px,#9aff65 206px,#e0ff1f 207px,#76ff89 208px,#eeff11 210px,#35ffca 212px,#e8ff17 213px,#f7ff08 214px,#4dffb2 215px,#d4ff2b 217px,#a0ff5f 219px,#fafe05 220px,#ffe900 221px,#92ff6d 222px,#68ff97 223px,#f0ff0f 224px,#eaff15 226px,#f0ff0f 227px,#43ffbc 228px,#78ff87 229px,#c5ff3a 230px,#e8ff17 231px,#f2ff0d 232px,#47ffb8 233px,#9fff60 234px,#c6ff39 236px,#b9ff46 237px,#c2ff3d 238px,#e0ff1f 239px,#abff54 240px,#00ceff 241px,#67ff98 242px,#bfff40 243px,#b1ff4e 245px,#deff21 246px,#48ffb7 248px,#a9ff56 249px,#f0ff0f 250px,#c4ff3b 251px,#63ff9c 252px,#17e4e8 253px,#d5ff2a 254px,#ffc700 255px,#ffcf00 256px,#e5ff1a 258px);height:2px"></i><i style="background:linear-gradient(90deg,#ffec00 0,#fff400 1px,#78ff87 2px,#7aff85 3px,#a3ff5c 4px,#84ff7b 5px,#cdff32 6px,#7fff80 7px,#14efeb 8px,#adff52 9px,#c2ff3d 10px,#ffed00 11px,#efff10 12px,#0064ff 13px,#6bff94 14px,#07e1f8 15px,#62ff9d 16px,#e1ff1e 17px,#90ff6f 18px,#9cff63 19px,#0064ff 20px,#b2ff4d 21px,#a3ff5c 22px,#4effb1 23px,#7bff84 24px,#c2ff3d 25px,#27ffd8 26px,#84ff7b 27px,#a6ff59 28px,#1cede3 29px,#daff25 30px,#fcf803 31px,#84ff7b 32px,#65ff9a 34px,#fff600 35px,#ffe100 36px,#f5ff0a 37px,#abff54 38px,#2efdd1 39px,#e7ff18 40px,#beff41 41px,#2cffd3 42px,#9bff64 43px,#1effe1 44px,#f3ff0c 45px,#c8ff37 46px,#2dffd2 47px,#d3ff2c 48px,#b8ff47 49px,#beff41 50px,#72ff8d 51px,#bcff43 52px,#c1ff3e 53px,#67ff98 54px,#e2ff1d 55px,#c1ff3e 56px,#66ff99 57px,#46ffb9 58px,#76ff89 59px,#ffee00 60px,#ffe500 61px,#84ff7b 62px,#50ffaf 63px,#32ffcd 64px,#beff41 65px,#fff700 66px,#76ff89 67px,#0087ff 68px,#16ffe9 69px,#dfff20 70px,#d5ff2a 71px,#0580ed 72px,#e5ff1a 73px,#fff900 74px,#3affc5 75px,#24ffdb 77px,#c6ff39 78px,#63ff9c 79px,#77ff88 80px,#daff25 81px,#43ffbc 82px,#deff21 83px,#fff900 84px,#bdff42 85px,#10fbef 86px,#adff52 88px,#39ffc6 89px,#2cffd3 90px,#004fc9 91px,#c1ff3e 92px,#d7ff28 93px,#13f4ec 94px,#56ffa9 95px,#0edbf1 96px,#a9ff56 97px,#caff35 98px,#2fffd0 100px,#6cff93 101px,#e4ff1b 102px,#eeff11 103px,#caff35 104px,#71ff8e 105px,#4fffb0 106px,#d1ff2e 107px,#e5ff1a 108px,#7dff82 109px,#ffe900 110px,#ffd800 111px,#beff41 112px,#71ff8e 113px,#39ffc6 114px,#51ffae 115px,#f2ff0d 116px,#fff500 117px,#acff53 118px,#34ffcb 119px,#d7ff28 120px,#fdfc02 121px,#f9ff06 122px,#93ff6c 123px,#00b4ff 124px,#7bff84 125px,#fff700 126px,#d6ff29 127px,#6dff92 128px,#a3ff5c 129px,#72ff8d 130px,#f6ff09 131px,#f7ff08 132px,#a8ff57 133px,#fff700 134px,#fff400 135px,#04fbfb 136px,#acff53 137px,#e1ff1e 138px,#b5ff4a 139px,#08dcf7 140px,#75ff8a 141px,#aaff55 142px,#55ffaa 143px,#f3ff0c 145px,#edff12 146px,#73ff8c 147px,#99ff66 148px,#00aaff 149px,#ebff14 150px,#fffe00 151px,#36ffc9 152px,#6aff95 153px,#bbff44 154px,#87ff78 155px,#06bff9 156px,#bfff40 157px,#f2ff0d 158px,#b3ff4c 160px,#2effd1 161px,#0cf4f3 162px,#68ff97 164px,#fffd00 165px,#eaff15 166px,#22fedd 167px,#28ffd7 168px,#07f5f8 169px,#a2ff5d 170px,#a5ff5a 171px,#20f6df 172px,#ebff14 173px,#d7ff28 174px,#5bffa4 175px,#48ffb7 176px,#bcff43 177px,#fff500 178px,#b8ff47 180px,#f7ff08 181px,#eeff11 183px,#86ff79 184px,#3affc5 185px,#bfff40 186px,#58ffa7 188px,#efff10 189px,#c0ff3f 190px,#13d0ec 191px,#a8ff57 192px,#15ffea 193px,#27ffd8 195px,#d7ff28 196px,#b2ff4d 197px,#44ffbb 198px,#0098ff 199px,#f6ff09 200px,#fff800 201px,#85ff7a 203px,#38ffc7 204px,#006cff 205px,#9dff62 206px,#e4ff1b 207px,#52ffad 208px,#adff52 209px,#f2ff0d 210px,#adff52 211px,#86ff79 212px,#f2ff0d 213px,#fefc01 214px,#95ff6a 215px,#bdff42 217px,#7bff84 218px,#22e6dd 219px,#e4ff1b 220px,#ffee00 221px,#93ff6c 222px,#59ffa6 223px,#daff25 224px,#a9ff56 225px,#bdff42 226px,#edff12 227px,#79ff86 228px,#7cff83 229px,#fdfd02 232px,#b2ff4d 233px,#bcff43 234px,#83ff7c 235px,#9bff64 236px,#7cff83 237px,#92ff6d 238px,#d4ff2b 239px,#9fff60 240px,#30ffcf 241px,#b3ff4c 243px,#6bff94 245px,#d4ff2b 246px,#63ff9c 247px,#008dff 248px,#80ff7f 249px,#e7ff18 250px,#aaff55 251px,#0eeef1 252px,#0086ff 253px,#daff25 254px,#ffd300 255px,#ffd900 256px,#ebff14 258px);height:2px"></i><i style="background:linear-gradient(90deg,#ffdf00 0,#ffe300 1px,#c2ff3d 2px,#8eff71 4px,#23ffdc 5px,#cdff32 6px,#7eff81 8px,#a5ff5a 9px,#81ff7e 10px,#ffd400 11px,#ffda00 12px,#54ffab 13px,#79ff86 14px,#0095ff 15px,#7bff84 16px,#fbf504 17px,#3fffc0 18px,#b5ff4a 19px,#5fffa0 20px,#ddff22 21px,#9dff62 22px,#0afef5 23px,#f0ff0f 25px,#b3ff4c 26px,#cdff32 27px,#c0ff3f 28px,#00b3ff 29px,#f0ff0f 30px,#ffd000 31px,#edf612 32px,#afff50 33px,#04dcfb 34px,#ffe700 35px,#ffd200 36px,#e9ff16 37px,#c4ff3b 38px,#bdff42 39px,#ffe600 40px,#effd10 41px,#8fff70 42px,#aaff55 43px,#40ffbf 44px,#fff800 45px,#f4fb0b 46px,#b3ff4c 47px,#dcff23 48px,#7fff80 49px,#c5ff3a 50px,#ceff31 51px,#f2fd0d 52px,#cdff32 53px,#1effe1 54px,#e6ff19 55px,#39ffc6 59px,#ffdb00 60px,#ffd300 61px,#c5ff3a 62px,#66ff99 63px,#00dbff 64px,#c9ff36 65px,#ffde00 66px,#b5ff4a 67px,#00c3ff 68px,#65ff9a 69px,#f4ff0b 70px,#ddff22 71px,#26dad9 72px,#f4ff0b 73px,#ffe900 74px,#3affc5 75px,#00f9ff 76px,#35ffca 77px,#d0ff2f 78px,#96ff69 79px,#a7ff58 80px,#edff12 81px,#b7ff48 82px,#fbfc04 83px,#fff700 84px,#b5ff4a 85px,#45ffba 86px,#b5ff4a 88px,#13ffec 89px,#03fefc 90px,#09cdf6 91px,#d6ff29 92px,#e5ff1a 93px,#0ff0f0 94px,#36ffc9 95px,#006cff 96px,#9dff62 97px,#b1ff4e 98px,#1ef6e1 99px,#45ffba 100px,#c8ff37 102px,#c1ff3e 103px,#a0ff5f 104px,#29ffd6 105px,#9cff63 106px,#f2ff0d 107px,#fcfb03 108px,#e6ff19 109px,#ffe600 110px,#ffdf00 111px,#f6fc09 112px,#4dffb2 114px,#65ff9a 115px,#e4ff1b 116px,#fdfd02 117px,#8aff75 119px,#c4ff3b 120px,#e3ff1c 121px,#e7ff18 122px,#9eff61 123px,#00d8ff 124px,#82ff7d 125px,#fff700 126px,#c1ff3e 127px,#06ecf9 128px,#b8ff47 129px,#c4ff3b 130px,#fffe00 131px,#f5fd0a 133px,#ffec00 134px,#fff200 135px,#76ff89 136px,#aaff55 137px,#c9ff36 138px,#adff52 139px,#62ff9d 140px,#c8ff37 142px,#c9ff36 143px,#eff510 144px,#ffe900 145px,#faf605 146px,#31ffce 147px,#a6ff59 148px,#a3ff5c 149px,#ffed00 150px,#fff300 151px,#6eff91 152px,#71ff8e 153px,#a7ff58 154px,#6aff95 156px,#d4ff2b 157px,#e4ff1b 158px,#9bff64 159px,#87ff78 160px,#12ffed 161px,#00e9ff 162px,#45ffba 163px,#fff900 165px,#f4ff0b 166px,#0055ff 167px,#2effd1 168px,#3effc1 169px,#98ff67 170px,#93ff6c 171px,#12ebed 172px,#e8ff17 173px,#c6ff39 174px,#0fe5f0 175px,#82ff7d 176px,#e7ff18 177px,#fff100 178px,#f0ff0f 181px,#bcff43 182px,#d8ff27 183px,#7cff83 185px,#b0ff4f 186px,#17ffe8 188px,#e4ff1b 189px,#b6ff49 190px,#009bff 191px,#a1ff5e 192px,#2effd1 193px,#03fffc 194px,#00cbff 195px,#d1ff2e 196px,#94ff6b 197px,#07f2f8 198px,#47ffb8 199px,#fcff03 200px,#fefe01 201px,#76ff89 202px,#15ffea 204px,#11fdee 205px,#b3ff4c 206px,#f1ff0e 207px,#9aff65 208px,#f9ff06 210px,#c6ff39 211px,#bfff40 212px,#feff01 213px,#fff800 214px,#daff25 215px,#cdff32 216px,#a4ff5b 217px,#21ffde 218px,#003dbf 219px,#d9ff26 220px,#fff300 221px,#8cff73 223px,#c5ff3a 224px,#61ff9e 225px,#8fff70 226px,#efff10 227px,#b3ff4c 228px,#57ffa8 230px,#9eff61 231px,#fff800 232px,#e5ff1a 234px,#3affc5 235px,#64ff9b 236px,#40ffbf 237px,#67ff98 238px,#c5ff3a 239px,#8dff72 240px,#7bff84 241px,#a3ff5c 243px,#14ffeb 245px,#d3ff2c 246px,#5dffa2 247px,#000edb 248px,#69ff96 249px,#e2ff1d 250px,#a2ff5d 251px,#009bff 252px,#3fffc0 253px,#f4ff0b 254px,#ffe400 255px,#ffe900 256px,#eaff15 258px);height:2px"></i><i style="background:linear-gradient(90deg,#ffe000 0,#ffd900 1px,#f2f90d 3px,#a3ff5c 4px,#1efde1 5px,#daff25 6px,#b9ff46 9px,#56ffa9 10px,#ff9f00 11px,#ffa000 12px,#f6e409 13px,#b3ff4c 14px,#0cf5f3 15px,#d2ff2d 16px,#ffc400 17px,#2bf5d4 18px,#eefd11 19px,#ffe100 21px,#93ff6c 22px,#35ffca 23px,#c2ff3d 24px,#ffd400 25px,#ffdb00 27px,#f5f50a 28px,#9aff65 29px,#ffe100 30px,#ffa100 31px,#ffa900 32px,#f5f20a 33px,#53ffac 34px,#ffc800 35px,#ffd000 36px,#b8ff47 37px,#cdff32 38px,#ffe700 39px,#ffa900 40px,#f6ec09 42px,#ebfe14 43px,#caff35 44px,#ffd400 45px,#ffc900 46px,#f2ff0d 48px,#10c4ef 49px,#cdff32 50px,#ffed00 51px,#ffcd00 52px,#f6f609 53px,#8eff71 54px,#f7ff08 55px,#b1ff4e 56px,#a7ff58 57px,#7bff84 58px,#18ffe7 59px,#ffbe00 60px,#ffbb00 61px,#ffe400 62px,#b2ff4d 63px,#60ff9f 64px,#f6f709 65px,#ffbe00 66px,#f7f408 67px,#61ff9e 68px,#beff41 69px,#ffeb00 70px,#f8fe07 71px,#baff45 72px,#ffe300 73px,#ffd100 74px,#a1ff5e 75px,#36ffc9 76px,#edff12 78px,#d6ff29 79px,#fff500 81px,#fffc00 84px,#3affc5 86px,#92ff6d 87px,#b6ff49 88px,#3effc1 89px,#1bffe4 90px,#6eff91 91px,#edff12 92px,#f0ff0f 93px,#6fff90 94px,#19fce6 96px,#a1ff5e 97px,#98ff67 98px,#0030bf 99px,#75ff8a 100px,#b1ff4e 101px,#71ff8e 103px,#66ff99 104px,#008aff 105px,#bbff44 106px,#fbfe04 107px,#fcfc03 112px,#cfff30 113px,#80ff7f 114px,#87ff78 115px,#ceff31 116px,#e9ff16 117px,#d2ff2d 118px,#a7ff58 119px,#abff54 121px,#c3ff3c 122px,#9eff61 123px,#0080ff 124px,#8fff70 125px,#fff500 126px,#d4ff2b 127px,#38ffc7 128px,#ddff22 129px,#fff600 131px,#fcfc03 135px,#cdff32 136px,#a3ff5c 138px,#aaff55 140px,#d9ff26 141px,#fde802 142px,#ffaf00 143px,#ff9500 144px,#ffc500 146px,#c0ff3f 147px,#f9db06 148px,#ffac00 149px,#ffda00 151px,#c5ff3a 152px,#99ff66 153px,#70ff8f 155px,#e7ff18 157px,#c9ff36 158px,#29ffd6 159px,#46ffb9 160px,#2affd5 161px,#2effd1 162px,#eaff15 164px,#faff05 165px,#f5ff0a 166px,#1be8e4 167px,#41ffbe 168px,#58ffa7 169px,#85ff7a 170px,#94ff6b 171px,#7dff82 172px,#e7ff18 173px,#b4ff4b 174px,#0019ff 175px,#9aff65 176px,#f9ff06 177px,#fbff04 180px,#daff25 181px,#49ffb6 182px,#b4ff4b 183px,#bcff43 184px,#9cff63 185px,#9eff61 186px,#74ff8b 187px,#64ff9b 188px,#dcff23 189px,#beff41 190px,#61ff9e 191px,#aaff55 192px,#75ff8a 193px,#27ffd8 194px,#2affd5 195px,#d0ff2f 196px,#81ff7e 197px,#00b5ff 198px,#abff54 199px,#f9ff06 200px,#f6ff09 201px,#15ffea 202px,#00c0ff 203px,#00d2ff 204px,#35ffca 205px,#c8ff37 206px,#f6ff09 207px,#e5ff1a 208px,#f8ff07 210px,#c4ff3b 211px,#cbff34 212px,#f9ff06 213px,#f7ff08 215px,#e5ff1a 216px,#88ff77 217px,#00aaff 218px,#15f8ea 219px,#ddff22 220px,#fbfe04 221px,#e1ff1e 222px,#a2ff5d 223px,#acff53 224px,#57ffa8 225px,#8eff71 226px,#edff12 227px,#c8ff37 228px,#8cff73 229px,#01e4fe 230px,#6aff95 231px,#fbfe04 232px,#f8ff07 234px,#32ffcd 235px,#4bffb4 237px,#aeff51 239px,#55ffaa 240px,#93ff6c 241px,#a0ff5f 242px,#5affa5 244px,#4bffb4 245px,#d9ff26 246px,#77ff88 247px,#0019fd 248px,#65ff9a 249px,#dbff24 250px,#aeff51 251px,#16f1e9 252px,#99ff66 253px,#faff05 254px,#fbfd04 256px,#d5ff2a 258px);height:2px"></i><i style="background:linear-gradient(90deg,#ffee00 0,#ffcd00 2px,#ffd600 3px,#daff25 4px,#94ff6b 5px,#daff25 6px,#cfff30 7px,#f2ff0d 8px,#d2ff2d 10px,#ff8900 11px,#ff9700 13px,#e1ff1e 14px,#0cf2f3 15px,#fff800 16px,#ffa500 17px,#ddff22 18px,#ffd400 19px,#ffa200 20px,#ffbf00 21px,#72ff8d 22px,#77ff88 23px,#fef901 24px,#ffb600 25px,#ffae00 27px,#f8fe07 29px,#ff8900 31px,#ff8900 32px,#f1f40e 34px,#ffb700 35px,#ffe900 36px,#2ce7d3 37px,#a1ff5e 38px,#ffcb00 39px,#ff8a00 40px,#ffe900 44px,#ffc000 45px,#ffaf00 46px,#ffbd00 47px,#ffff00 48px,#0074fd 49px,#caff35 50px,#ffd700 51px,#ffb000 52px,#f4fa0b 54px,#fbff04 55px,#6fff90 56px,#8fff70 57px,#91ff6e 59px,#ffaf00 60px,#ffb800 62px,#edff12 63px,#cfff30 64px,#ffd300 65px,#ffaf00 66px,#ffcb00 67px,#d5ff2a 68px,#f8ff07 69px,#ffe200 70px,#fdfc02 71px,#f2ff0d 72px,#ffd100 73px,#ffc700 74px,#f2fc0d 75px,#a7ff58 76px,#dfff20 77px,#fff700 78px,#fcff03 80px,#ffed00 81px,#f1ff0e 84px,#5effa1 85px,#00d8ff 86px,#78ff87 87px,#a0ff5f 88px,#6aff95 89px,#54ffab 90px,#e0ff1f 92px,#e0ff1f 93px,#57ffa8 95px,#52ffad 96px,#98ff67 97px,#80ff7f 98px,#00a6ff 99px,#88ff77 100px,#b8ff47 101px,#0cedf3 103px,#35ffca 104px,#00a4ff 105px,#bdff42 106px,#e3ff1c 107px,#dcff23 113px,#9bff64 114px,#88ff77 115px,#baff45 117px,#bdff42 118px,#4fffb0 120px,#42ffbd 121px,#83ff7c 122px,#91ff6e 123px,#00cfff 124px,#b5ff4a 125px,#ffda00 126px,#ffd600 127px,#e0f11f 128px,#ffcc00 129px,#ffc700 130px,#fff800 132px,#e3ff1c 136px,#b2ff4d 137px,#65ff9a 138px,#83ff7c 139px,#d4ff2b 140px,#ffea00 141px,#ff7900 143px,#ff7800 144px,#ffd200 145px,#ffbc00 147px,#ff7700 148px,#ff5100 149px,#ffb900 151px,#f4ff0b 152px,#59ffa6 154px,#28ffd7 155px,#9eff61 156px,#daff25 157px,#9cff63 158px,#0058ff 159px,#01e8fe 160px,#24ffdb 161px,#50ffaf 162px,#b4ff4b 163px,#e1ff1e 164px,#e0ff1f 166px,#7dff82 167px,#52ffad 168px,#3affc5 169px,#51ffae 170px,#8cff73 171px,#d8ff27 173px,#a1ff5e 174px,#02d7fd 175px,#99ff66 176px,#e1ff1e 177px,#e1ff1e 180px,#b0ff4f 181px,#0047d7 182px,#7eff81 183px,#aaff55 184px,#75ff8a 186px,#92ff6d 188px,#c5ff3a 189px,#97ff68 191px,#acff53 192px,#94ff6b 193px,#5affa5 194px,#74ff8b 195px,#c2ff3d 196px,#78ff87 197px,#05eafa 198px,#c8ff37 199px,#e1ff1e 200px,#e1ff1e 201px,#0efff1 202px,#0051ff 203px,#0043ff 204px,#1dffe2 205px,#bfff40 206px,#e1ff1e 207px,#e0ff1f 210px,#90ff6f 211px,#a4ff5b 212px,#d8ff27 213px,#deff21 216px,#6dff92 217px,#000edc 218px,#4bffb4 219px,#d8ff27 220px,#e1ff1e 221px,#d4ff2b 222px,#80ff7f 223px,#78ff87 225px,#d8ff27 227px,#b2ff4d 228px,#6dff92 229px,#00d2ff 230px,#5affa5 231px,#e1ff1e 232px,#e1ff1e 234px,#74ff8b 235px,#53ffac 236px,#8cff73 238px,#83ff7c 239px,#00b3ff 240px,#73ff8c 241px,#7aff85 242px,#30ffcf 243px,#8fff70 245px,#d2ff2d 246px,#7fff80 247px,#0011d2 248px,#59ffa6 249px,#c2ff3d 250px,#b5ff4a 251px,#71ff8e 252px,#c1ff3e 253px,#e0ff1f 254px,#e1ff1e 255px,#caff35 256px,#9eff61 258px);height:2px"></i><i style="background:linear-gradient(90deg,#fcfd03 0,#ffc300 3px,#fef601 4px,#d8ff27 5px,#caff35 6px,#a0ff5f 7px,#ecff13 8px,#fef701 9px,#ffd000 10px,#ff8900 11px,#ff8900 13px,#f2ff0d 14px,#0038f4 15px,#ffe100 16px,#ff8f00 17px,#ffc000 18px,#ff9000 20px,#ffbc00 21px,#66ff99 22px,#88ff77 23px,#ffe500 24px,#ffc000 25px,#ffb100 27px,#ffc400 28px,#fefd01 29px,#ffe100 30px,#ff8a00 31px,#ff8f00 33px,#ffb900 34px,#ffb800 35px,#f3ff0c 36px,#0048fe 37px,#62ff9d 38px,#ffd400 39px,#ff8900 40px,#ffaf00 42px,#ffb300 43px,#ffd000 44px,#ffaf00 46px,#ffb700 47px,#fff800 48px,#72ff8d 49px,#cbff34 50px,#ffe200 51px,#ffb100 52px,#ffb600 53px,#f4ff0b 55px,#14ffeb 56px,#b2ff4d 58px,#e9ff16 59px,#ffaf00 60px,#ffb400 62px,#fff800 63px,#fcfa03 64px,#ffc100 65px,#ffaf00 66px,#ffb600 67px,#ffeb00 68px,#ffef00 70px,#e5ff1a 71px,#e9ff16 72px,#ffdd00 73px,#ffbf00 74px,#f7f208 76px,#ffe800 78px,#fbff04 79px,#fff400 81px,#dbff24 84px,#32ffcd 85px,#0078ff 86px,#48ffb7 87px,#7bff84 88px,#78ff87 90px,#a9ff56 91px,#c2ff3d 92px,#c2ff3d 93px,#56ffa9 95px,#52ffad 96px,#80ff7f 97px,#77ff88 98px,#3cffc3 99px,#a6ff59 100px,#ceff31 101px,#5dffa2 102px,#00d8ff 103px,#4bffb4 104px,#3effc1 105px,#c6ff39 106px,#c2ff3d 113px,#6bff94 115px,#5fffa0 116px,#8cff73 118px,#54ffab 119px,#00d0ff 120px,#0094ff 121px,#38ffc7 122px,#89ff76 123px,#6eff91 124px,#f5f30a 125px,#ff9c00 126px,#ff6700 127px,#ff6c00 128px,#ff5b00 129px,#ff7000 130px,#ffc100 131px,#fff900 132px,#f9ff06 133px,#cbff34 135px,#c9ff36 136px,#a1ff5e 137px,#11f6ee 138px,#4bffb4 139px,#e1ff1e 140px,#ffdc00 141px,#ffd500 142px,#ff8500 143px,#ff8a00 144px,#cfff30 145px,#ffe800 146px,#ff8000 147px,#ff4e00 148px,#ff5500 150px,#ff9700 151px,#ffff00 152px,#99ff66 153px,#12ffed 154px,#009dff 155px,#73ff8c 156px,#b3ff4c 157px,#6fff90 158px,#007eff 159px,#00abff 160px,#03f5fc 161px,#4affb5 162px,#bbff44 163px,#c2ff3d 166px,#a3ff5c 167px,#05f0fa 169px,#0cf5f3 170px,#70ff8f 171px,#a9ff56 172px,#bfff40 173px,#94ff6b 174px,#45ffba 175px,#92ff6d 176px,#c2ff3d 177px,#c2ff3d 180px,#8cff73 181px,#009eff 182px,#53ffac 183px,#7fff80 184px,#2fffd0 186px,#6bff94 187px,#9eff61 189px,#92ff6d 191px,#96ff69 193px,#7bff84 194px,#acff53 196px,#46ffb9 198px,#c0ff3f 199px,#c2ff3d 201px,#2fffd0 202px,#0053ff 203px,#000087 204px,#00f1ff 205px,#9eff61 206px,#c2ff3d 207px,#b5ff4a 210px,#26ffd9 211px,#53ffac 212px,#99ff66 213px,#c2ff3d 215px,#c2ff3d 216px,#5dffa2 217px,#005bff 218px,#57ffa8 219px,#c2ff3d 220px,#c2ff3d 221px,#a7ff58 222px,#2cffd3 223px,#4affb5 224px,#acff53 226px,#b7ff48 227px,#0bfff4 230px,#c2ff3d 232px,#c2ff3d 234px,#6dff92 236px,#88ff77 238px,#55ffaa 239px,#0000a7 240px,#3affc5 241px,#36ffc9 242px,#009aff 243px,#54ffab 244px,#a6ff59 245px,#c8ff37 246px,#7fff80 247px,#00bbff 248px,#4bffb4 249px,#9eff61 250px,#aeff51 251px,#a2ff5d 252px,#c2ff3d 253px,#c2ff3d 255px,#66ff99 256px,#4affb5 258px);height:2px"></i><i style="background:linear-gradient(90deg,#f5ff0a 0,#ffec00 2px,#ffb900 3px,#fafe05 5px,#b6ff49 6px,#4cffb3 7px,#d0ff2f 8px,#ffdc00 9px,#ffa200 10px,#ff5d00 13px,#ffba00 14px,#48ffb7 15px,#ffa000 16px,#ff4d00 17px,#ff5e00 20px,#ffaa00 21px,#a4ff5b 22px,#adff52 23px,#ffdf00 24px,#ffd400 25px,#ffe000 26px,#ffc100 27px,#ffc900 28px,#deff21 29px,#efff10 30px,#ff9600 31px,#ff8900 33px,#ff9200 34px,#ffb500 35px,#ecff13 36px,#18fde7 37px,#53ffac 38px,#ffd900 39px,#ff8900 40px,#ff8b00 41px,#ffaf00 42px,#ffaf00 43px,#ffcd00 44px,#ffd600 45px,#ffb700 46px,#ffb800 47px,#ffe800 48px,#c9ff36 49px,#d6ff29 50px,#fff400 51px,#ffb900 52px,#ffaf00 53px,#ffc300 54px,#f8ff07 55px,#2fffd0 56px,#66ff99 57px,#d5ff2a 58px,#ffe600 59px,#ffaf00 60px,#ffbc00 62px,#fff200 63px,#ffe700 64px,#ffb500 65px,#ffaf00 67px,#fefc01 70px,#b7ff48 71px,#c1ff3e 72px,#fff000 73px,#ffa900 74px,#ff9800 75px,#ffb200 77px,#f9ff06 79px,#f0ff0f 80px,#fff800 81px,#d0ff2f 84px,#44ffbb 85px,#00c1ff 86px,#30ffcf 87px,#67ff98 88px,#b1ff4e 91px,#afff50 93px,#50ffaf 95px,#4bffb4 96px,#7eff81 97px,#acff53 99px,#f1ef0e 100px,#ffcf00 101px,#dcf623 102px,#88ff77 103px,#c9ff36 104px,#d1ff2e 105px,#f5f50a 106px,#baff45 109px,#b3ff4c 113px,#9aff65 114px,#49ffb6 115px,#13ffec 116px,#2effd1 117px,#64ff9b 118px,#24ffdb 119px,#0043ff 120px,#00009d 121px,#12ffed 122px,#9aff65 123px,#d5ff2a 124px,#ffb500 125px,#ff6500 126px,#ff4300 127px,#ff4300 129px,#ff5700 130px,#ffb800 131px,#ebff14 132px,#fff900 133px,#c1ff3e 135px,#bfff40 136px,#a1ff5e 137px,#00baff 138px,#11ffee 139px,#e4ff1b 140px,#f1fd0e 141px,#dcff23 142px,#ff9a00 143px,#ff9b00 144px,#96ff69 145px,#ffed00 146px,#ff5800 147px,#ff4e00 150px,#ff7300 151px,#fdff02 152px,#89ff76 153px,#00f2ff 154px,#0064ff 155px,#59ffa6 156px,#9aff65 157px,#63ff9c 158px,#00d9ff 159px,#00aaff 160px,#00ccff 161px,#40ffbf 162px,#b3ff4c 163px,#b2ff4d 167px,#5fffa0 168px,#00acff 169px,#00b3ff 170px,#5effa1 171px,#a5ff5a 172px,#b3ff4c 173px,#78ff87 175px,#b3ff4c 177px,#b3ff4c 180px,#8aff75 181px,#2dffd2 182px,#53ffac 183px,#63ff9c 184px,#10ffef 185px,#00d9ff 186px,#59ffa6 187px,#84ff7b 188px,#84ff7b 191px,#9eff61 193px,#a9ff56 196px,#86ff79 197px,#7cff83 198px,#b3ff4c 199px,#b3ff4c 201px,#4affb5 202px,#007fff 203px,#0000c6 204px,#00e2ff 205px,#89ff76 206px,#b3ff4c 207px,#b3ff4c 209px,#99ff66 210px,#00a3ff 211px,#09f9f6 212px,#5dffa2 213px,#adff52 215px,#b1ff4e 216px,#6dff92 217px,#10efef 218px,#6cff93 219px,#b3ff4c 220px,#b3ff4c 221px,#82ff7d 222px,#00b9ff 223px,#1affe5 224px,#89ff76 225px,#b1ff4e 226px,#a3ff5c 227px,#1cffe3 229px,#2affd5 230px,#b3ff4c 232px,#afff50 235px,#8aff75 236px,#87ff78 238px,#4dffb2 239px,#00a1ff 240px,#27ffd8 241px,#18ffe7 242px,#0000a7 243px,#79ff86 244px,#e4ff1b 245px,#f1f30e 246px,#bcff43 247px,#4bffb4 248px,#64ff9b 249px,#b4ff4b 251px,#b3ff4c 254px,#99ff66 255px,#09edf6 256px,#02ebfd 258px);height:2px"></i><i style="background:linear-gradient(90deg,#f5ff0a 0,#bfff40 1px,#e8ff17 2px,#ffba00 3px,#ffc500 4px,#fff300 5px,#a2ff5d 6px,#0094ff 7px,#b0ff4f 8px,#ffcf00 9px,#ff6100 11px,#ff4300 12px,#ff4300 13px,#ecf513 15px,#ff8d00 16px,#ff4400 17px,#ff4300 20px,#ff6a00 21px,#f7e108 22px,#e5ff1a 23px,#ffdd00 24px,#fff300 25px,#e5ff1a 26px,#ffde00 27px,#ffdb00 28px,#96ff69 29px,#a8ff57 30px,#ffa700 31px,#ff8900 32px,#ff8900 34px,#ffb100 35px,#f2ff0d 36px,#4affb5 37px,#4affb5 38px,#ffd700 39px,#ff8900 40px,#ff8900 41px,#ffaf00 42px,#ffaf00 43px,#fdf602 45px,#ffc900 46px,#ffbd00 47px,#f0ff0f 49px,#d8ff27 50px,#f0ff0f 51px,#ffc500 52px,#ffaf00 53px,#ffb800 54px,#fff800 55px,#8bff74 56px,#97ff68 57px,#f3ff0c 58px,#ffaa00 60px,#ffaa00 61px,#fafd05 63px,#ffe500 64px,#ffb000 65px,#ffb200 68px,#f1ff0e 70px,#6dff92 71px,#7cff83 72px,#fff500 73px,#ff8e00 74px,#ff7400 76px,#ff7f00 77px,#ffbc00 78px,#e9ff16 79px,#dcff23 80px,#fdfd02 81px,#fffa00 82px,#d7ff28 84px,#19ffe6 86px,#33ffcc 87px,#98ff67 89px,#b2ff4d 90px,#b3ff4c 92px,#81ff7e 94px,#46ffb9 95px,#42ffbd 96px,#d3ff2c 98px,#ffe700 99px,#ff8e00 100px,#ff6c00 101px,#ffe100 103px,#ffb200 104px,#ffa300 105px,#ffb800 106px,#fef501 107px,#a3ff5c 109px,#b8ff47 110px,#b3ff4c 113px,#99ff66 114px,#22ffdd 115px,#00a8ff 116px,#00e1ff 117px,#4effb1 118px,#18ffe7 119px,#000aff 120px,#001de3 121px,#27ffd8 122px,#b7ff48 123px,#fff100 124px,#ff5200 126px,#ff4300 129px,#ff6800 130px,#ffe700 131px,#93ff6c 132px,#f8ff07 133px,#c3ff3c 135px,#afff50 137px,#0ff2f0 138px,#1effe1 139px,#d7ff28 140px,#acff53 141px,#65ff9a 142px,#ffb000 143px,#ffa200 144px,#e5ff1a 145px,#ffc000 146px,#ff4e00 147px,#ff4e00 150px,#ff5e00 151px,#dbff24 152px,#0cfff3 154px,#00d4ff 155px,#5affa5 156px,#93ff6c 157px,#6aff95 158px,#04fefb 159px,#00acff 160px,#0092ff 161px,#3affc5 162px,#b3ff4c 163px,#b3ff4c 167px,#6fff90 168px,#0093ff 169px,#0097ff 170px,#5dffa2 171px,#a8ff57 172px,#afff50 174px,#9bff64 175px,#b2ff4d 177px,#acff53 180px,#9bff64 181px,#73ff8c 182px,#5bffa4 184px,#00e1ff 185px,#0078ff 186px,#50ffaf 187px,#7dff82 188px,#5cffa3 190px,#afff50 193px,#b3ff4c 196px,#9fff60 197px,#b3ff4c 201px,#65ff9a 202px,#00beff 203px,#0056ff 204px,#00eeff 205px,#82ff7d 206px,#b3ff4c 207px,#b3ff4c 209px,#95ff6a 210px,#00b2ff 211px,#00e2ff 212px,#26ffd9 213px,#45ffba 214px,#92ff6d 215px,#aeff51 216px,#61ff9e 218px,#b3ff4c 220px,#b3ff4c 221px,#6fff90 222px,#006eff 223px,#0afff5 224px,#95ff6a 225px,#b3ff4c 226px,#9cff63 227px,#2effd1 228px,#00f0ff 229px,#35ffca 230px,#83ff7c 231px,#b3ff4c 232px,#b3ff4c 235px,#90ff6f 238px,#66ff99 239px,#22ffdd 240px,#49ffb6 241px,#42ffbd 242px,#0abaf5 243px,#e4f91b 244px,#ff9c00 245px,#ff8400 246px,#ffc100 247px,#d8ff27 248px,#a5ff5a 249px,#a9ff56 250px,#c5ff3a 251px,#b3ff4c 254px,#7dff82 255px,#00a3ff 256px,#00a4ff 258px);height:2px"></i><i style="background:linear-gradient(90deg,#f5ff0a 0,#68ff97 1px,#a7ff58 2px,#ffc400 3px,#ffc200 4px,#fff000 5px,#9aff65 6px,#004bdf 7px,#a7ff58 8px,#ffca00 9px,#ff6500 10px,#ff4300 11px,#ff4300 13px,#ffaf00 15px,#ff4300 17px,#ff4300 20px,#ff6000 21px,#ffc100 23px,#ffdc00 24px,#e4ff1b 25px,#83ff7c 26px,#f8fc07 27px,#fff100 28px,#5fffa0 29px,#83ff7c 30px,#ffb400 31px,#ff8900 32px,#ff8900 34px,#ffb200 35px,#f6ff09 36px,#3cffc3 37px,#2fffd0 38px,#ffcf00 39px,#ff8900 40px,#ff8900 41px,#ffaf00 42px,#ffaf00 43px,#fbf804 44px,#c8ff37 45px,#ffe200 46px,#ffc600 47px,#ffd400 48px,#feff01 49px,#c7ff38 50px,#c8ff37 51px,#ffd400 52px,#ffaf00 53px,#ffb200 54px,#ffe500 55px,#d1ff2e 56px,#d1ff2e 57px,#ffdc00 58px,#ff7300 59px,#ff4f00 60px,#ff4f00 61px,#ff9c00 62px,#e4ff1b 63px,#fff500 64px,#ff9800 65px,#ff7100 66px,#ff7100 67px,#ffcc00 69px,#e5ff1a 70px,#15ffea 71px,#33ffcc 72px,#fff900 73px,#ff7700 74px,#ff5f00 76px,#ff6800 77px,#ffb200 78px,#b7ff48 79px,#a9ff56 80px,#eaff15 81px,#fff800 82px,#dfff20 84px,#48ffb7 86px,#34ffcb 87px,#5fffa0 88px,#a6ff59 89px,#b2ff4d 92px,#71ff8e 94px,#29ffd6 95px,#26ffd9 96px,#a2ff5d 97px,#fef401 98px,#ff9700 99px,#ff4f00 100px,#ff5a00 101px,#ffa300 103px,#ff8600 104px,#ff5500 105px,#ff7f00 106px,#ffcc00 107px,#c2ff3d 108px,#58ffa7 109px,#b1ff4e 110px,#b3ff4c 113px,#90ff6f 114px,#00f2ff 115px,#0016fb 116px,#00a9ff 117px,#54ffab 118px,#3cffc3 119px,#0032ff 120px,#00bcff 121px,#8fff70 122px,#ebf614 123px,#ffed00 124px,#ff4f00 126px,#ff4300 129px,#ff7900 130px,#e3ff1c 131px,#30ffcf 132px,#e2ff1d 133px,#deff21 134px,#c3ff3c 135px,#bbff44 137px,#5affa5 138px,#57ffa8 139px,#c2ff3d 140px,#5bffa4 142px,#ffba00 143px,#ff9d00 144px,#ffc200 145px,#ff4e00 147px,#ff4e00 150px,#ff5e00 151px,#8eff71 152px,#34ffcb 153px,#1affe5 155px,#62ff9d 156px,#8eff71 157px,#6cff93 158px,#0afff5 159px,#0021f7 161px,#35ffca 162px,#b3ff4c 163px,#b3ff4c 167px,#80ff7f 168px,#00d7ff 169px,#00d5ff 170px,#63ff9c 171px,#aaff55 172px,#a9ff56 175px,#a3ff5c 177px,#73ff8c 179px,#a6ff59 181px,#82ff7d 183px,#5dffa2 184px,#00e6ff 185px,#0095ff 186px,#4effb1 187px,#70ff8f 188px,#40ffbf 189px,#26ffd9 190px,#91ff6e 192px,#b3ff4c 193px,#b3ff4c 201px,#7bff84 202px,#00f2ff 203px,#0093ff 204px,#00f5ff 205px,#78ff87 206px,#b3ff4c 207px,#b3ff4c 209px,#9eff61 210px,#21ffde 211px,#01f8fe 212px,#00e6ff 213px,#05ebfa 214px,#73ff8c 215px,#aaff55 216px,#9aff65 218px,#b3ff4c 220px,#abff54 221px,#6bff94 222px,#00d4ff 223px,#29ffd6 224px,#9eff61 225px,#b3ff4c 226px,#95ff6a 227px,#05f9fa 228px,#0097ff 229px,#28ffd7 230px,#82ff7d 231px,#b3ff4c 232px,#afff50 236px,#6aff95 240px,#abff54 243px,#ffaa00 244px,#ff5800 245px,#ff3f00 246px,#ff5800 247px,#ffb600 248px,#ddff22 249px,#bdff42 250px,#d4ff2b 251px,#b6ff49 253px,#b4ff4b 254px,#6dff92 255px,#00cdff 256px,#00b9ff 258px);height:2px"></i><i style="background:linear-gradient(90deg,#f5ff0a 0,#39ffc6 1px,#78ff87 2px,#ffd100 3px,#ffc800 4px,#fff300 5px,#a7ff58 6px,#2bffd4 7px,#c0ff3f 8px,#ffbd00 9px,#ff4a00 10px,#ff4300 13px,#ff7700 15px,#ff4300 17px,#ff4400 20px,#ff7f00 23px,#ffcd00 24px,#c3ff3c 25px,#03bcfc 26px,#d8ff27 27px,#fefe01 28px,#98ff67 29px,#bbff44 30px,#ffb800 31px,#ff8900 32px,#ff8900 34px,#ffb900 35px,#f6ff09 36px,#38ffc7 37px,#4effb1 38px,#ffc200 39px,#ff8900 40px,#ff8900 41px,#ffaf00 42px,#ffaf00 43px,#d7ff28 44px,#4effb1 45px,#fbfc04 46px,#ffd300 47px,#ffd700 48px,#fbff04 49px,#9cff63 50px,#82ff7d 51px,#ffe600 52px,#ffaf00 53px,#ffaf00 54px,#fbf904 56px,#fbf704 57px,#ff8a00 58px,#ff4100 59px,#ff4600 61px,#ff9300 62px,#bfff40 63px,#eeff11 64px,#ff7b00 65px,#ff4800 66px,#ff4800 67px,#ff7400 68px,#ffcc00 69px,#e5ff1a 70px,#25ffda 71px,#33ffcc 72px,#fff700 73px,#ff6400 74px,#ff5000 76px,#ff5a00 77px,#ffab00 78px,#64ff9b 79px,#5affa5 80px,#ccff33 81px,#f3ff0c 82px,#f8ff07 83px,#e2ff1d 84px,#abff54 85px,#5bffa4 86px,#24ffdb 87px,#53ffac 88px,#b0ff4f 89px,#a8ff57 92px,#59ffa6 94px,#02f1fd 95px,#00e6ff 96px,#acff53 97px,#ffd100 98px,#ff6700 99px,#ff4400 100px,#ff6400 102px,#ff7600 103px,#ff4400 105px,#ff5c00 106px,#ffaf00 107px,#a8ff57 108px,#00a8ff 109px,#88ff77 110px,#b7ff48 111px,#b3ff4c 113px,#84ff7b 114px,#00d1ff 115px,#0049ff 116px,#00d9ff 117px,#7fff80 118px,#91ff6e 119px,#00a9ff 120px,#72ff8d 121px,#ffd100 122px,#ff8d00 123px,#ffbf00 124px,#ffa400 125px,#ff5200 126px,#ff4300 128px,#ff4500 129px,#ff8200 130px,#f5fd0a 131px,#7fff80 132px,#dbff24 133px,#deff21 134px,#c3ff3c 135px,#beff41 137px,#7eff81 138px,#6aff95 139px,#a9ff56 140px,#adff52 141px,#c7ff38 142px,#ffb400 143px,#ff9100 144px,#ff8c00 145px,#ff5700 146px,#ff4e00 150px,#ff7300 151px,#43ffbc 152px,#00daff 153px,#25ffda 154px,#32ffcd 155px,#8aff75 157px,#69ff96 158px,#04fffb 159px,#006cff 160px,#000fe4 161px,#3effc1 162px,#b3ff4c 163px,#b3ff4c 167px,#94ff6b 168px,#2effd1 169px,#27ffd8 170px,#acff53 172px,#a8ff57 175px,#88ff77 177px,#1fffe0 179px,#6eff91 180px,#a8ff57 181px,#a8ff57 182px,#67ff98 184px,#1fffe0 185px,#10f7ef 186px,#5bffa4 187px,#63ff9c 188px,#0bf9f4 189px,#00c6ff 190px,#2cffd3 191px,#84ff7b 192px,#b3ff4c 193px,#b3ff4c 201px,#8eff71 202px,#14ffeb 203px,#0094ff 204px,#00efff 205px,#6aff95 206px,#a5ff5a 207px,#b3ff4c 209px,#abff54 210px,#1affe5 212px,#00a0ff 213px,#007dff 214px,#59ffa6 215px,#a7ff58 216px,#b2ff4d 220px,#a0ff5f 221px,#33ffcc 223px,#5dffa2 224px,#abff54 225px,#b3ff4c 226px,#93ff6c 227px,#00e8ff 228px,#002aff 229px,#13ffec 230px,#76ff89 231px,#b3ff4c 232px,#acff53 236px,#98ff67 238px,#95ff6a 240px,#a7ff58 241px,#cfff30 242px,#ffe400 243px,#ff8f00 244px,#ff5800 245px,#ff4000 246px,#ff4a00 247px,#ff8500 248px,#e5ff1a 249px,#b3ff4c 250px,#ddff22 251px,#b7ff48 253px,#aeff51 254px,#17ffe8 256px,#0af8f5 258px);height:2px"></i><i style="background:linear-gradient(90deg,#f5ff0a 0,#88ff77 1px,#a2ff5d 2px,#ffd900 3px,#ffd200 4px,#fff800 5px,#8cff73 7px,#e5ff1a 8px,#ff9a00 9px,#ff5300 10px,#ff4300 12px,#ff5200 15px,#ff4300 17px,#ff5500 21px,#ff6900 23px,#ffa500 24px,#c0ff3f 25px,#04c0fb 26px,#c9ff36 27px,#feff01 28px,#e0ff1f 29px,#f6fb09 30px,#ffb600 31px,#ff8900 32px,#ff9200 34px,#f5ff0a 36px,#80ff7f 37px,#adff52 38px,#ffaf00 39px,#ff8900 40px,#ff8900 41px,#ffaf00 42px,#ffaf00 43px,#c7ff38 44px,#00cbff 45px,#e4ff1b 46px,#ffe500 47px,#ffe200 48px,#efff10 49px,#62ff9d 50px,#1bffe4 51px,#fff400 52px,#ffb200 53px,#ffaf00 54px,#ffdf00 56px,#ffd400 57px,#ff6800 58px,#ff3d00 59px,#ff3d00 60px,#ff5200 61px,#ffae00 62px,#1880a7 63px,#daff25 64px,#ffa600 65px,#ff7100 66px,#ff7100 67px,#f1ff0e 70px,#82ff7d 71px,#7aff85 72px,#ffea00 73px,#ff5300 74px,#ff4600 76px,#ff5100 77px,#ff9c00 78px,#71ff8e 79px,#3effc1 80px,#adff52 81px,#f4ff0b 83px,#e4ff1b 84px,#b2ff4d 85px,#57ffa8 86px,#01eafe 87px,#3bffc4 88px,#b5ff4a 89px,#b4ff4b 91px,#94ff6b 92px,#53ffac 93px,#3bffc4 94px,#00b3ff 95px,#008fff 96px,#acff53 97px,#ffc600 98px,#ff5600 99px,#ff4300 101px,#ff5900 103px,#ff4300 105px,#ff5200 106px,#ffa600 107px,#a5ff5a 108px,#0079ff 109px,#6bff94 110px,#b6ff49 111px,#b4ff4b 113px,#7aff85 114px,#00baff 115px,#0094ff 116px,#29ffd6 117px,#b5ff4a 118px,#e4ff1b 119px,#7cff83 120px,#e3ff1c 121px,#ff8900 122px,#ff4300 123px,#ffb200 125px,#ff6500 126px,#ff4300 127px,#ff5000 129px,#ff8200 130px,#ffe500 131px,#cbff34 132px,#ddff22 133px,#d9ff26 134px,#baff45 136px,#b5ff4a 137px,#4fffb0 139px,#82ff7d 140px,#deff21 141px,#ffec00 142px,#ffa200 143px,#ff4e00 146px,#ff5500 150px,#ff9d00 151px,#59ffa6 152px,#00c2ff 153px,#17ffe8 154px,#2cffd3 155px,#84ff7b 157px,#63ff9c 158px,#00fbff 159px,#007eff 160px,#0096ff 161px,#56ffa9 162px,#b3ff4c 163px,#a9ff56 168px,#6dff92 169px,#62ff9d 170px,#aeff51 172px,#b3ff4c 174px,#65ff9a 177px,#20ffdf 178px,#0066ff 179px,#49ffb6 180px,#a3ff5c 181px,#acff53 182px,#57ffa8 185px,#56ffa9 186px,#71ff8e 187px,#5bffa4 188px,#00c6ff 189px,#0026ea 190px,#03f7fc 191px,#73ff8c 192px,#b3ff4c 193px,#a9ff56 198px,#b3ff4c 201px,#9eff61 202px,#26ffd9 203px,#0049ff 204px,#00d5ff 205px,#57ffa8 206px,#89ff76 207px,#b3ff4c 209px,#b3ff4c 210px,#88ff77 211px,#34ffcb 212px,#0087ff 213px,#0058ff 214px,#4effb1 215px,#a5ff5a 216px,#b3ff4c 219px,#67ff98 223px,#b3ff4c 225px,#b3ff4c 226px,#9aff65 227px,#0ffff0 228px,#0083ff 229px,#09fff6 230px,#b3ff4c 232px,#b3ff4c 235px,#89ff76 237px,#c3ff3c 241px,#f6ff09 242px,#ffb200 243px,#ff5700 245px,#ff4200 246px,#ff4800 247px,#ff8000 248px,#b7ff48 249px,#89ff76 250px,#d8ff27 251px,#9bff64 254px,#5fffa0 255px,#3affc5 258px);height:2px"></i><i style="background:linear-gradient(90deg,#f5ff0a 0,#d8ff27 1px,#e6ff19 2px,#ffd700 3px,#ffdc00 4px,#fefe01 5px,#cfff30 6px,#bbff44 7px,#fdfb02 8px,#ff8e00 9px,#ff5c00 10px,#ff4300 15px,#ff4300 19px,#ff5900 21px,#ff5b00 23px,#ff8f00 24px,#e0ff1f 25px,#7dff82 26px,#d8ff27 27px,#fff400 28px,#ffdf00 30px,#ff8c00 32px,#ff8a00 33px,#ffa700 34px,#f7ff08 36px,#cfff30 37px,#f6f809 38px,#ff9900 39px,#ff8900 41px,#ffaf00 42px,#ffaf00 43px,#eeff11 44px,#6bff94 45px,#dcff23 46px,#fff800 47px,#fff300 48px,#e4ff1b 49px,#5effa1 50px,#2effd1 51px,#fff500 52px,#ffb500 53px,#ffaf00 54px,#ffd100 56px,#ffce00 57px,#ff7100 58px,#ff3e00 59px,#ff3e00 60px,#ff5900 61px,#ffae00 62px,#51ffae 63px,#d8ff27 64px,#ffc300 65px,#ffaf00 66px,#ffd700 69px,#fefd01 70px,#bfff40 71px,#9fff60 72px,#ffdc00 73px,#ff4a00 74px,#ff4000 76px,#ff4b00 77px,#ff8200 78px,#d5ff2a 79px,#7cff83 80px,#e3ff1c 83px,#deff21 84px,#afff50 85px,#45ffba 86px,#004dff 87px,#1fffe0 88px,#b6ff49 89px,#b4ff4b 91px,#78ff87 92px,#15ffea 93px,#1affe5 94px,#00baff 95px,#00bfff 96px,#aaff55 97px,#ffce00 98px,#ff6000 99px,#ff4300 100px,#ff4300 105px,#ff5c00 106px,#ffaf00 107px,#c3ff3c 108px,#37ffc8 109px,#a1ff5e 111px,#b4ff4b 113px,#72ff8d 114px,#009aff 115px,#0085ff 116px,#51ffae 117px,#d3ff2c 118px,#ffea00 119px,#edfa12 120px,#ffd200 121px,#ff6f00 122px,#ff4300 123px,#ff5d00 124px,#ffae00 125px,#ffa200 126px,#ff6a00 127px,#ff5400 128px,#ff7300 129px,#ffaa00 130px,#f6f809 131px,#ceff31 132px,#ccff33 134px,#a7ff58 137px,#69ff96 138px,#14ffeb 139px,#4cffb3 140px,#d3ff2c 141px,#ffc000 142px,#ff8f00 143px,#ff4e00 146px,#ff5200 149px,#ffd100 151px,#87ff78 152px,#0efbf1 153px,#14ffeb 155px,#7cff83 157px,#5effa1 158px,#00f7ff 159px,#00a0ff 160px,#02f0fd 161px,#73ff8c 162px,#b3ff4c 163px,#b3ff4c 168px,#89ff76 170px,#b3ff4c 173px,#b2ff4d 174px,#43ffbc 176px,#3affc5 177px,#00fcff 178px,#0024bf 179px,#3cffc3 180px,#9eff61 181px,#a5ff5a 182px,#77ff88 184px,#86ff79 187px,#5effa1 188px,#00c7ff 189px,#0026f2 190px,#00d9ff 191px,#63ff9c 192px,#b3ff4c 193px,#b3ff4c 196px,#89ff76 197px,#87ff78 198px,#b3ff4c 199px,#acff53 202px,#37ffc8 203px,#0000c5 204px,#00bcff 205px,#3fffc0 206px,#aaff55 209px,#b3ff4c 210px,#9dff62 211px,#50ffaf 212px,#00d3ff 213px,#00c6ff 214px,#56ffa9 215px,#a6ff59 216px,#b1ff4e 219px,#85ff7a 221px,#82ff7d 223px,#b3ff4c 225px,#adff52 227px,#4bffb4 228px,#02edfd 229px,#0afff5 230px,#a7ff58 232px,#b2ff4d 235px,#7fff80 236px,#6aff95 237px,#acff53 239px,#d6ff29 241px,#fff300 242px,#ff9e00 243px,#ff5700 245px,#ff4600 246px,#ff4a00 247px,#ff8f00 248px,#5dffa2 249px,#4effb1 250px,#cdff32 251px,#b7ff48 253px,#4affb5 255px,#5cffa3 258px);height:2px"></i><i style="background:linear-gradient(90deg,#f5ff0a 0,#ffce00 3px,#f4ff0b 5px,#d0ff2f 6px,#ceff31 7px,#fff000 8px,#ff9a00 9px,#ff6800 10px,#ff5c00 13px,#ff4300 14px,#ff4a00 19px,#ff6d00 20px,#ff5200 23px,#ff8a00 24px,#fff300 25px,#d9ff26 26px,#f7fe08 27px,#ffd700 29px,#ffbc00 31px,#ff9d00 32px,#ff9b00 33px,#fff500 35px,#fcf903 37px,#ffcd00 38px,#ff8900 39px,#ff8900 41px,#ffaf00 42px,#ffaf00 43px,#ffdc00 44px,#d8ff27 45px,#f7ff08 48px,#e2ff1d 49px,#a1ff5e 50px,#a4ff5b 51px,#ffe700 52px,#ffb500 53px,#ffb100 54px,#ffd500 56px,#ffd300 57px,#ffb100 58px,#ff6e00 59px,#ff5700 60px,#ff6c00 61px,#ffb800 62px,#cfff30 63px,#f8fa07 64px,#ffc300 65px,#ffba00 66px,#fff000 68px,#ffe700 69px,#fff900 70px,#d9ff26 71px,#7fff80 72px,#ffd700 73px,#ff4300 74px,#ff3a00 76px,#ff6800 78px,#ffe800 79px,#a7ff58 80px,#77ff88 81px,#94ff6b 82px,#ccff33 83px,#d0ff2f 84px,#a5ff5a 85px,#3bffc4 86px,#003ced 87px,#27ffd8 88px,#b6ff49 89px,#b4ff4b 91px,#58ffa7 92px,#00a0ff 93px,#01f8fe 94px,#05f5fa 95px,#21ffde 96px,#a6ff59 97px,#ffed00 98px,#ff8900 99px,#ff4300 100px,#ff4300 105px,#ffcc00 107px,#d9ff26 108px,#7dff82 109px,#6eff91 110px,#a5ff5a 112px,#a6ff59 113px,#6aff95 114px,#009eff 115px,#0066ff 116px,#53ffac 117px,#ceff31 118px,#ffe700 119px,#ff9a00 121px,#ff5a00 122px,#ff4300 123px,#ff7600 124px,#ffc100 125px,#fcf203 126px,#ffdb00 127px,#e8ed17 129px,#d7ff28 130px,#abff54 131px,#a3ff5c 132px,#bbff44 134px,#96ff69 137px,#51ffae 138px,#00b8ff 139px,#0bf7f4 140px,#a6ff59 141px,#ffe800 142px,#ff9700 143px,#ff4e00 146px,#ff6500 148px,#ffd500 150px,#f4fd0b 151px,#42ffbd 153px,#0efff1 154px,#00e8ff 155px,#38ffc7 156px,#72ff8d 157px,#59ffa6 158px,#00ecff 159px,#009aff 160px,#20ffdf 161px,#8bff74 162px,#b3ff4c 163px,#adff52 169px,#99ff66 171px,#b1ff4e 173px,#a6ff59 174px,#5bffa4 175px,#04e6fb 176px,#0cfff3 178px,#06e2f9 179px,#56ffa9 180px,#99ff66 181px,#95ff6a 182px,#6bff94 183px,#66ff99 184px,#9cff63 186px,#96ff69 187px,#6aff95 188px,#06f7f9 189px,#00a4ff 190px,#00cbff 191px,#55ffaa 192px,#b3ff4c 193px,#b3ff4c 196px,#4bffb4 197px,#46ffb9 198px,#afff50 199px,#b3ff4c 202px,#52ffad 203px,#0080ff 204px,#00ccff 205px,#26ffd9 206px,#4bffb4 208px,#90ff6f 209px,#b1ff4e 210px,#a9ff56 211px,#24ffdb 213px,#1affe5 214px,#a9ff56 216px,#b3ff4c 218px,#a1ff5e 219px,#78ff87 220px,#69ff96 221px,#88ff77 223px,#b1ff4e 224px,#b3ff4c 227px,#7dff82 228px,#26ffd9 229px,#04fdfb 230px,#39ffc6 231px,#94ff6b 232px,#b3ff4c 233px,#b3ff4c 234px,#9eff61 235px,#4cffb3 236px,#2effd1 237px,#7eff81 238px,#adff52 239px,#d3ff2c 241px,#f9fb06 242px,#ff7500 244px,#ff4d00 246px,#ff5500 247px,#ffba00 248px,#3affc5 249px,#43ffbc 250px,#c3ff3c 251px,#b5ff4a 253px,#58ffa7 254px,#17ffe8 255px,#52ffad 256px,#6dff92 258px);height:2px"></i><i style="background:linear-gradient(90deg,#f5ff0a 0,#fff200 1px,#ffcf00 2px,#ffc400 3px,#ffed00 4px,#bdff42 6px,#fff300 8px,#ffc200 9px,#ff7800 10px,#ff8700 12px,#ff7200 13px,#ff4300 14px,#ff4300 18px,#ff5e00 19px,#ff9500 20px,#ff5a00 22px,#ff4d00 23px,#ff9b00 24px,#ffed00 26px,#ffcc00 29px,#ffcd00 31px,#ffb300 32px,#ffb200 33px,#ffe400 34px,#ddff22 35px,#e9ff16 36px,#ffe300 37px,#ff8900 39px,#ff8900 41px,#ffaf00 42px,#ffb700 44px,#ffef00 45px,#e1ff1e 47px,#dfff20 50px,#f2fc0d 51px,#ffb300 53px,#ffd500 55px,#ffeb00 56px,#ffbd00 60px,#fff000 63px,#ffc000 65px,#ffd100 66px,#f0ff0f 67px,#cdff32 68px,#f8fd07 69px,#fefe01 70px,#dcff23 71px,#0da3f2 72px,#ffd100 73px,#ff3b00 74px,#ff3400 76px,#ff5900 78px,#ffc900 79px,#acff53 80px,#32ffcd 81px,#5effa1 82px,#b1ff4e 83px,#bdff42 84px,#99ff66 85px,#0eedf1 87px,#b6ff49 89px,#b4ff4b 91px,#47ffb8 92px,#0000b1 93px,#00e2ff 94px,#2bffd4 95px,#56ffa9 96px,#dfff20 98px,#ffd100 99px,#ff7500 100px,#ff4700 101px,#ff4300 102px,#ff7100 105px,#fef501 107px,#daff25 108px,#92ff6d 109px,#64ff9b 110px,#5fffa0 111px,#83ff7c 112px,#90ff6f 113px,#68ff97 114px,#00e3ff 115px,#00b5ff 116px,#48ffb7 117px,#aaff55 118px,#ebff14 119px,#ffda00 120px,#ff7900 122px,#ff8d00 123px,#fdf202 125px,#d1ff2e 127px,#92ff6d 128px,#6aff95 129px,#58ffa7 131px,#9cff63 133px,#a3ff5c 134px,#84ff7b 136px,#83ff7c 137px,#42ffbd 138px,#005fff 139px,#00cbff 140px,#77ff88 141px,#cbff34 142px,#f0f20f 143px,#ffa500 146px,#f8f107 149px,#aeff51 152px,#0dfff2 154px,#0097ff 155px,#18ffe7 156px,#65ff9a 157px,#53ffac 158px,#00d6ff 159px,#0049ff 160px,#34ffcb 161px,#9aff65 162px,#b3ff4c 163px,#b3ff4c 169px,#8cff73 171px,#a1ff5e 173px,#93ff6c 174px,#38ffc7 175px,#003eff 176px,#00d2ff 177px,#2effd1 178px,#4affb5 179px,#7aff85 180px,#96ff69 181px,#7cff83 182px,#32ffcd 183px,#39ffc6 184px,#7dff82 185px,#a3ff5c 186px,#9fff60 187px,#79ff86 188px,#2affd5 189px,#00d1ff 190px,#00aaff 191px,#4affb5 192px,#b3ff4c 193px,#aaff55 196px,#04f1fb 197px,#00e7ff 198px,#98ff67 199px,#b3ff4c 200px,#b3ff4c 202px,#73ff8c 203px,#0ff7f0 204px,#0efff1 206px,#00e5ff 207px,#0af1f5 208px,#70ff8f 209px,#a9ff56 210px,#afff50 211px,#55ffaa 213px,#45ffba 214px,#abff54 216px,#b3ff4c 218px,#86ff79 219px,#45ffba 220px,#37ffc8 221px,#7cff83 223px,#b3ff4c 224px,#b3ff4c 227px,#9eff61 228px,#3bffc4 229px,#00d2ff 230px,#0dfef2 231px,#7eff81 232px,#afff50 233px,#b1ff4e 234px,#81ff7e 235px,#0bf5f4 236px,#00bcff 237px,#68ff97 238px,#a7ff58 239px,#c4ff3b 242px,#e9fa16 243px,#ffd800 244px,#ffaf00 245px,#ff9f00 246px,#ffb400 247px,#f4f70b 248px,#6eff91 249px,#6eff91 250px,#bbff44 251px,#afff50 253px,#33ffcc 254px,#00b6ff 255px,#4affb5 256px,#7aff85 258px);height:2px"></i><i style="background:linear-gradient(90deg,#f5ff0a 0,#fff200 1px,#ffba00 3px,#fff500 4px,#8fff70 6px,#f8ff07 8px,#ffad00 10px,#ffa400 11px,#ffc000 12px,#ff9600 13px,#ff4400 14px,#ff4300 18px,#ff7a00 19px,#ffdd00 20px,#ffac00 21px,#ff6600 22px,#ff6900 23px,#ff9800 24px,#ffc800 26px,#ffc900 29px,#ffec00 31px,#ffcd00 32px,#ffcb00 33px,#f2ff0d 34px,#8fff70 35px,#caff35 36px,#ffdb00 37px,#ffa100 38px,#ff8900 39px,#ff8900 41px,#ffaf00 42px,#ffaf00 44px,#f4ff0b 46px,#c9ff36 47px,#c6ff39 48px,#fff500 50px,#ffb700 52px,#ffaf00 53px,#ffc500 54px,#fff200 55px,#e7ff18 56px,#fff100 58px,#ffca00 61px,#ffbd00 65px,#ffe700 66px,#abff54 67px,#5bffa4 68px,#d5ff2a 69px,#f9ff06 70px,#e2ff1d 71px,#35d1ca 72px,#ffb100 73px,#ff3300 74px,#ff2d00 76px,#ff5300 78px,#ffbe00 79px,#9dff62 80px,#0081ff 81px,#22ffdd 82px,#9aff65 83px,#aaff55 84px,#66ff99 86px,#5effa1 87px,#c1ff3e 89px,#b8ff47 91px,#56ffa9 92px,#0067ff 93px,#00f0ff 94px,#4cffb3 95px,#cfff30 99px,#fde202 100px,#ffa500 101px,#ff9300 102px,#f9d906 104px,#ffd600 105px,#f8f507 106px,#c6ff39 108px,#92ff6d 109px,#48ffb7 110px,#24ffdb 111px,#5cffa3 112px,#7dff82 113px,#6dff92 114px,#29ffd6 115px,#11fdee 116px,#87ff78 118px,#eef811 121px,#f9ea06 122px,#ecff13 124px,#acff53 127px,#30ffcf 128px,#08e5f7 129px,#12fced 130px,#0ff7f0 131px,#87ff78 133px,#88ff77 134px,#55ffaa 135px,#55ffaa 136px,#70ff8f 137px,#44ffbb 138px,#00a6ff 139px,#00e7ff 140px,#67ff98 141px,#9bff64 142px,#a3ff5c 143px,#94ff6b 144px,#a5ff5a 145px,#e5ff1a 146px,#b5ff4a 152px,#79ff86 153px,#0dfff2 154px,#000fbf 155px,#00f8ff 156px,#5affa5 157px,#4fffb0 158px,#00cdff 159px,#0010ef 160px,#42ffbd 161px,#a2ff5d 162px,#b3ff4c 164px,#abff54 169px,#69ff96 171px,#69ff96 172px,#87ff78 173px,#83ff7c 174px,#30ffcf 175px,#0038f6 176px,#00ccff 177px,#4bffb4 178px,#93ff6c 180px,#92ff6d 181px,#5fffa0 182px,#00cbff 183px,#01e9fe 184px,#69ff96 185px,#9fff60 186px,#a1ff5e 187px,#82ff7d 188px,#3dffc2 189px,#00c9ff 190px,#003dff 191px,#43ffbc 192px,#b3ff4c 193px,#b3ff4c 195px,#a0ff5f 196px,#06f2f9 197px,#00e6ff 198px,#8bff74 199px,#b3ff4c 200px,#b3ff4c 202px,#90ff6f 203px,#4bffb4 204px,#00fbff 206px,#007aff 207px,#008eff 208px,#54ffab 209px,#a0ff5f 210px,#b3ff4c 211px,#99ff66 212px,#6aff95 213px,#4fffb0 214px,#aaff55 216px,#abff54 218px,#65ff9a 219px,#06eaf9 220px,#00dfff 221px,#22ffdd 222px,#b0ff4f 224px,#b1ff4e 228px,#42ffbd 229px,#005fff 230px,#00ccff 231px,#66ff99 232px,#9cff63 233px,#a1ff5e 234px,#6cff93 235px,#00cfff 236px,#005eff 237px,#5effa1 238px,#a3ff5c 239px,#adff52 240px,#7fff80 242px,#a3ff5c 244px,#d3ff2c 246px,#dcff23 247px,#90ff6f 249px,#9aff65 250px,#caff35 251px,#ddff22 252px,#d5ff2a 253px,#54ffab 254px,#0068ff 255px,#6fff90 256px,#a9ff56 258px);height:2px"></i><i style="background:linear-gradient(90deg,#f5ff0a 0,#fff200 1px,#ffb200 3px,#fffd00 4px,#2bffd4 6px,#d7ff28 8px,#fff400 9px,#eceb13 11px,#ccff33 12px,#ffc900 13px,#ff4b00 14px,#ff4300 18px,#ff9600 19px,#81ff7e 20px,#ffe400 21px,#ff9200 22px,#ff8e00 24px,#ffb300 26px,#ffb600 28px,#ffce00 29px,#f6fd09 30px,#dcff23 31px,#ffed00 32px,#ffe300 33px,#c8ff37 34px,#0fb9f0 35px,#a2ff5d 36px,#ffdc00 37px,#ff9e00 38px,#ff8900 39px,#ff8900 41px,#ffaf00 42px,#ffaf00 44px,#ffc500 45px,#efff10 46px,#9fff60 47px,#9aff65 48px,#e9ff16 49px,#ffdd00 50px,#ffb800 51px,#ffaf00 53px,#ffd200 54px,#e3ff1c 55px,#95ff6a 56px,#abff54 57px,#e2ff1d 58px,#fbfa04 59px,#ffb000 63px,#ffbc00 65px,#fff800 66px,#70ff8f 67px,#009dff 68px,#b6ff49 69px,#f8ff07 70px,#e9f316 72px,#ff7900 73px,#ff2a00 74px,#ff2500 76px,#ff4b00 78px,#ffb900 79px,#a0ff5f 80px,#008dff 81px,#1effe1 82px,#8cff73 83px,#b4ff4b 85px,#d1ff2e 87px,#f1f70e 89px,#cfff30 91px,#85ff7a 92px,#1afbe5 93px,#29ffd6 94px,#66ff99 95px,#7eff81 96px,#6cff93 99px,#d7ff28 101px,#d6ff29 102px,#8bff74 103px,#67ff98 104px,#bbff44 105px,#cdff32 106px,#b8ff47 108px,#8aff75 109px,#19ffe6 110px,#00b2ff 111px,#30ffcf 112px,#6dff92 113px,#75ff8a 114px,#4fffb0 116px,#b4ff4b 121px,#bfff40 124px,#b6ff49 126px,#98ff67 127px,#00f2ff 128px,#0035ed 129px,#00b0ff 130px,#0083ff 131px,#1cffe3 132px,#6eff91 133px,#65ff9a 134px,#0cedf3 135px,#12fced 136px,#5dffa2 137px,#58ffa7 138px,#1bffe4 139px,#35ffca 140px,#77ff88 141px,#8eff71 142px,#75ff8a 143px,#37ffc8 144px,#3dffc2 145px,#a2ff5d 146px,#b9ff46 147px,#b3ff4c 152px,#86ff79 153px,#1cffe3 154px,#001fbf 155px,#00f1ff 156px,#54ffab 157px,#52ffad 158px,#04f3fb 159px,#00b4ff 160px,#5affa5 161px,#a7ff58 162px,#b0ff4f 164px,#74ff8b 166px,#97ff68 168px,#96ff69 169px,#70ff8f 170px,#24ffdb 171px,#25ffda 172px,#67ff98 173px,#78ff87 174px,#46ffb9 175px,#06e5f9 176px,#12fded 177px,#67ff98 178px,#90ff6f 179px,#9eff61 180px,#8bff74 181px,#47ffb8 182px,#005bff 183px,#00a7ff 184px,#55ffaa 185px,#94ff6b 186px,#9cff63 187px,#82ff7d 188px,#41ffbe 189px,#00b6ff 190px,#000fdb 191px,#47ffb8 192px,#b3ff4c 193px,#a6ff59 196px,#4bffb4 197px,#3effc1 198px,#8fff70 199px,#b3ff4c 200px,#b3ff4c 202px,#a0ff5f 203px,#40ffbf 205px,#00f7ff 206px,#0047ff 207px,#006eff 208px,#47ffb8 209px,#99ff66 210px,#b2ff4d 211px,#9dff62 212px,#34ffcb 214px,#a3ff5c 216px,#b3ff4c 217px,#9eff61 218px,#48ffb7 219px,#007fff 220px,#004cff 221px,#00dbff 222px,#3cffc3 223px,#a7ff58 224px,#b3ff4c 228px,#52ffad 229px,#005bff 230px,#00baff 231px,#54ffab 232px,#88ff77 233px,#90ff6f 234px,#67ff98 235px,#0ff9f0 236px,#07e3f8 237px,#6dff92 238px,#a5ff5a 239px,#a6ff59 240px,#42ffbd 242px,#35ffca 243px,#56ffa9 245px,#a7ff58 247px,#b6ff49 249px,#f3ff0c 251px,#ffc900 253px,#dcf623 254px,#72ff8d 255px,#dffa20 256px,#f7e808 258px);height:2px"></i><i style="background:linear-gradient(90deg,#f5ff0a 0,#fff200 1px,#ffaf00 3px,#fbff04 4px,#74ff8b 5px,#0047f2 6px,#23ffdc 7px,#afff50 8px,#ecff13 9px,#ebff14 10px,#97ff68 11px,#006bcd 12px,#eff410 13px,#ff5600 14px,#ff4300 16px,#ff4300 18px,#ffa400 19px,#1be1e4 20px,#caff35 21px,#ffc100 22px,#ff9000 23px,#ff8b00 24px,#ffb000 27px,#ffb500 28px,#ffdb00 29px,#c3ff3c 30px,#77ff88 31px,#ecff13 32px,#fff700 33px,#b8ff47 34px,#0596fa 35px,#a1ff5e 36px,#ffdf00 37px,#ffa400 38px,#ff8900 39px,#ff8900 41px,#ffaf00 42px,#ffaf00 44px,#ffc100 45px,#e3ff1c 46px,#58ffa7 47px,#46ffb9 48px,#dfff20 49px,#ffd000 50px,#ffaf00 51px,#ffaf00 53px,#ffde00 54px,#b9ff46 55px,#16dfe9 56px,#43ffbc 57px,#aaff55 58px,#efff10 60px,#ffbe00 62px,#ffaf00 64px,#ffbd00 65px,#fffb00 66px,#86ff79 67px,#23f3dc 68px,#b4ff4b 69px,#fffa00 70px,#ffa000 72px,#ff4400 73px,#ff2200 74px,#ff1d00 76px,#ff4500 78px,#ffb400 79px,#c0ff3f 80px,#4cffb3 81px,#5affa5 82px,#b9ff46 83px,#f2f00d 84px,#ffce00 86px,#ff7b00 88px,#ffc300 90px,#fced03 91px,#cfff30 92px,#81ff7e 93px,#6eff91 94px,#86ff79 96px,#69ff96 97px,#2cffd3 98px,#11f3ee 99px,#85ff7a 101px,#78ff87 102px,#09eaf6 103px,#00a8ff 104px,#79ff86 105px,#b7ff48 106px,#b4ff4b 108px,#81ff7e 109px,#00f3ff 110px,#0000bb 111px,#0afff5 112px,#61ff9e 113px,#7dff82 114px,#81ff7e 117px,#9dff62 121px,#a2ff5d 123px,#b3ff4c 125px,#b3ff4c 126px,#98ff67 127px,#10ffef 128px,#002ded 129px,#0059ff 130px,#00009e 131px,#00faff 132px,#56ffa9 133px,#40ffbf 134px,#0068ff 135px,#00c1ff 136px,#51ffae 137px,#70ff8f 138px,#66ff99 139px,#8fff70 141px,#8eff71 142px,#58ffa7 143px,#00ceff 144px,#00d1ff 145px,#7dff82 146px,#b3ff4c 147px,#b3ff4c 152px,#90ff6f 153px,#40ffbf 154px,#00caff 155px,#12ffed 156px,#59ffa6 157px,#60ff9f 158px,#38ffc7 159px,#2fffd0 160px,#79ff86 161px,#abff54 162px,#b2ff4d 163px,#95ff6a 164px,#19f8e6 166px,#6eff91 168px,#78ff87 169px,#47ffb8 170px,#00afff 171px,#00b8ff 172px,#46ffb9 173px,#71ff8e 174px,#49ffb6 176px,#55ffaa 177px,#9cff63 179px,#a0ff5f 180px,#85ff7a 181px,#43ffbc 182px,#00b6ff 183px,#00dbff 184px,#51ffae 185px,#88ff77 186px,#90ff6f 187px,#7bff84 188px,#43ffbc 189px,#00daff 190px,#00b4ff 191px,#5dffa2 192px,#b3ff4c 193px,#b1ff4e 196px,#85ff7a 197px,#7bff84 198px,#b3ff4c 200px,#a5ff5a 203px,#50ffaf 205px,#0afff5 206px,#00afff 207px,#00ceff 208px,#4fffb0 209px,#96ff69 210px,#afff50 211px,#97ff68 212px,#49ffb6 213px,#00dcff 214px,#41ffbe 215px,#94ff6b 216px,#afff50 217px,#95ff6a 218px,#41ffbe 219px,#0091ff 220px,#002aff 221px,#0099ff 222px,#18ffe7 223px,#9eff61 224px,#b5ff4a 225px,#b5ff4a 228px,#75ff8a 229px,#0dedf2 230px,#09f4f6 231px,#50ffaf 232px,#78ff87 233px,#82ff7d 234px,#50ffaf 236px,#54ffab 237px,#8cff73 238px,#acff53 239px,#a1ff5e 240px,#07eff8 242px,#00d6ff 243px,#0ffaf0 245px,#9cff63 247px,#edff12 250px,#ffd900 251px,#ff9000 252px,#ff6000 253px,#ffc900 255px,#ff8f00 258px);height:2px"></i><i style="background:linear-gradient(90deg,#f5ff0a 0,#fff200 1px,#ffaf00 3px,#fefd01 4px,#7eff81 5px,#00b0ff 6px,#1dffe2 7px,#95ff6a 8px,#d0ff2f 9px,#d1ff2e 10px,#42ffbd 12px,#efff10 13px,#ff9100 14px,#ff7b00 17px,#ff8300 18px,#ffcd00 19px,#bcff43 20px,#eef011 21px,#ffac00 22px,#ff9200 23px,#ff8f00 24px,#ffba00 26px,#ffbd00 28px,#ffe800 29px,#91ff6e 30px,#00a4ff 31px,#ceff31 32px,#ffff00 33px,#d6ff29 34px,#96ff69 35px,#d4ff2b 36px,#ffde00 37px,#ff8900 39px,#ff8900 41px,#ffaf00 42px,#ffaf00 44px,#ffc100 45px,#ddff22 46px,#1fffe0 47px,#00e6ff 48px,#d8ff27 49px,#ffcb00 50px,#ffaf00 51px,#ffaf00 53px,#ffe100 54px,#b0ff4f 55px,#00c9ff 56px,#06fff9 57px,#76ff89 58px,#b4ff4b 60px,#f8fd07 61px,#ffcb00 62px,#ffaf00 63px,#ffc000 65px,#fff100 66px,#9eff61 68px,#d1ff2e 69px,#ffe000 70px,#ff2c00 73px,#ff1300 75px,#ff2400 77px,#ff4700 78px,#ffb100 79px,#dcff23 80px,#9bff64 81px,#c2ff3d 82px,#ffde00 83px,#ffc900 84px,#ffe200 85px,#ffd500 86px,#ff5800 88px,#ff4e00 89px,#ff5f00 90px,#ffd500 92px,#dfff20 93px,#b1ff4e 94px,#8bff74 96px,#56ffa9 97px,#00e6ff 98px,#0055ff 99px,#14ffeb 100px,#5affa5 101px,#50ffaf 102px,#00ccff 103px,#009bff 104px,#6aff95 105px,#b3ff4c 106px,#b3ff4c 108px,#80ff7f 109px,#0cfef3 110px,#006cff 111px,#0afff5 112px,#5effa1 113px,#84ff7b 114px,#99ff66 118px,#89ff76 121px,#6eff91 123px,#b3ff4c 125px,#a2ff5d 127px,#4cffb3 128px,#00c4ff 129px,#005bff 130px,#0024e9 131px,#01fcfe 132px,#45ffba 133px,#2cffd3 134px,#007cff 135px,#00ceff 136px,#53ffac 137px,#85ff7a 138px,#a0ff5f 141px,#8eff71 142px,#46ffb9 143px,#0080ff 144px,#0099ff 145px,#69ff96 146px,#afff50 147px,#b0ff4f 152px,#97ff68 153px,#33ffcc 155px,#43ffbc 156px,#69ff96 157px,#75ff8a 158px,#73ff8c 160px,#adff52 162px,#a5ff5a 163px,#76ff89 164px,#0efef1 165px,#0047ea 166px,#00d9ff 167px,#3dffc2 168px,#59ffa6 169px,#2dffd2 170px,#008aff 171px,#0097ff 172px,#38ffc7 173px,#70ff8f 174px,#83ff7c 177px,#a2ff5d 179px,#9dff62 180px,#53ffac 182px,#1affe5 183px,#25ffda 184px,#7eff81 186px,#82ff7d 187px,#72ff8d 188px,#1effe1 190px,#26ffd9 191px,#7bff84 192px,#b3ff4c 193px,#b3ff4c 196px,#9bff64 198px,#b3ff4c 201px,#a3ff5c 203px,#0bfaf4 207px,#1bffe4 208px,#96ff69 210px,#aaff55 211px,#8dff72 212px,#2affd5 213px,#0022bf 214px,#17ffe8 215px,#83ff7c 216px,#a2ff5d 217px,#8fff70 218px,#4effb1 219px,#00e3ff 220px,#007aff 221px,#0063ff 222px,#05fffa 223px,#9cff63 224px,#b9ff46 225px,#b9ff46 228px,#a0ff5f 229px,#59ffa6 230px,#42ffbd 231px,#77ff88 234px,#8bff74 237px,#b3ff4c 239px,#9eff61 240px,#46ffb9 241px,#0094ff 242px,#0034f5 243px,#00b0ff 245px,#39ffc6 246px,#9cff63 247px,#fff700 250px,#ff5a00 252px,#ff3900 253px,#ff8e00 255px,#ff8900 258px);height:2px"></i><i style="background:linear-gradient(90deg,#faff05 0,#ffcd00 2px,#ffaf00 3px,#ffef00 4px,#36ffc9 6px,#57ffa8 7px,#beff41 9px,#c9ff36 10px,#c0ff3f 11px,#d5ff2a 12px,#ffda00 13px,#ff8900 14px,#ff8900 18px,#ff9a00 20px,#ff5a00 22px,#ff5100 23px,#ffb800 25px,#ffda00 26px,#ffcd00 28px,#ffee00 29px,#a4ff5b 30px,#2cf1d3 31px,#d0ff2f 32px,#fff700 33px,#f1fd0e 35px,#fcf903 36px,#ffc300 38px,#ff9900 39px,#ff8900 41px,#ffaf00 42px,#ffaf00 44px,#ffc100 45px,#ebff14 46px,#6fff90 47px,#52ffad 48px,#e6ff19 49px,#ffc600 50px,#ffaf00 51px,#ffaf00 53px,#ffdb00 54px,#ceff31 55px,#64ff9b 56px,#42ffbd 57px,#56ffa9 58px,#38ffc7 59px,#5bffa4 60px,#d5ff2a 61px,#ffde00 62px,#ffb900 63px,#ffc300 65px,#f6ff09 67px,#e3ff1c 68px,#f9f806 69px,#ff3d00 72px,#ff0b00 75px,#ff1d00 77px,#ff4a00 78px,#ffb400 79px,#e1ff1e 80px,#c6ff39 81px,#ffe300 82px,#ffcd00 83px,#ffe100 84px,#dcff23 85px,#edfe12 86px,#ff5e00 88px,#ff4e00 90px,#ff5200 91px,#ffd100 93px,#f1fd0e 94px,#99ff66 96px,#53ffac 97px,#00cdff 98px,#0003bf 99px,#00f6ff 100px,#4affb5 101px,#51ffae 102px,#1fffe0 103px,#29ffd6 104px,#83ff7c 105px,#bbff44 106px,#bbff44 108px,#90ff6f 109px,#48ffb7 110px,#16f9e9 111px,#37ffc8 112px,#93ff6c 114px,#adff52 116px,#8eff71 120px,#73ff8c 121px,#1effe1 123px,#a4ff5b 125px,#bbff44 126px,#b2ff4d 127px,#7dff82 128px,#1fffe0 129px,#00b9ff 130px,#00b2ff 131px,#1dffe2 132px,#49ffb6 133px,#39ffc6 134px,#0cf1f3 135px,#20ffdf 136px,#6bff94 137px,#9bff64 138px,#b7ff48 140px,#b1ff4e 141px,#97ff68 142px,#54ffab 143px,#05e3fa 144px,#0deff2 145px,#71ff8e 146px,#a8ff57 147px,#b7ff48 148px,#a4ff5b 151px,#a5ff5a 153px,#78ff87 155px,#b6ff49 162px,#a1ff5e 163px,#6cff93 164px,#03fafc 165px,#0027bf 166px,#00adff 167px,#22ffdd 168px,#4bffb4 169px,#38ffc7 170px,#0aeef5 171px,#0ff2f0 172px,#7dff82 174px,#acff53 178px,#a3ff5c 180px,#58ffa7 183px,#7fff80 186px,#5affa5 190px,#6eff91 191px,#a1ff5e 192px,#bdff42 193px,#b8ff47 202px,#4bffb4 206px,#3effc1 207px,#4fffb0 208px,#a0ff5f 210px,#aeff51 211px,#90ff6f 212px,#35ffca 213px,#0074ff 214px,#1fffe0 215px,#7fff80 216px,#9eff61 217px,#91ff6e 218px,#62ff9d 219px,#13ffec 220px,#008aff 221px,#0010e8 222px,#12ffed 223px,#acff53 224px,#cbff34 225px,#c8ff37 229px,#75ff8a 231px,#6bff94 233px,#95ff6a 236px,#bbff44 238px,#a7ff58 240px,#4bffb4 241px,#0090ff 242px,#000088 243px,#0000b4 244px,#0072ff 245px,#36ffc9 246px,#a7ff58 247px,#e6ff19 249px,#ffe400 250px,#ff4000 252px,#ff2f00 253px,#ff6f00 255px,#ff8800 258px);height:2px"></i><i style="background:linear-gradient(90deg,#fffb00 0,#ffaf00 3px,#ffe100 4px,#bcff43 5px,#56ffa9 6px,#64ff9b 7px,#ccff33 10px,#ffed00 12px,#ff8900 14px,#ff8100 18px,#ff4700 19px,#ff5600 21px,#ff4300 23px,#ff5f00 24px,#ffd000 25px,#eaff15 26px,#ffe200 28px,#ffe900 29px,#e2ff1d 30px,#bdff42 31px,#f4ff0b 32px,#ffd700 34px,#ffed00 37px,#ffe500 38px,#ff8900 40px,#ff8900 41px,#ffae00 42px,#ffaf00 44px,#ffbf00 45px,#fff800 46px,#ccff33 47px,#c5ff3a 48px,#fef701 49px,#ffbd00 50px,#ffaf00 53px,#ecff13 55px,#73ff8c 57px,#43ffbc 58px,#00aeff 59px,#05f7fa 60px,#baff45 61px,#fff000 62px,#ffc800 63px,#ffc900 65px,#fff300 68px,#ff9300 70px,#ff5700 71px,#ff1800 73px,#ff0800 76px,#ff1500 77px,#ff4f00 78px,#ffc200 79px,#c1ff3e 80px,#e3ff1c 81px,#ffe200 82px,#ffd500 83px,#fbfc04 84px,#6bff94 85px,#a0ff5f 86px,#ffb800 87px,#ff6600 88px,#ff4e00 89px,#ff5a00 92px,#ffde00 94px,#e8ff17 95px,#68ff97 97px,#0df9f2 98px,#00b7ff 99px,#14ffeb 100px,#55ffaa 101px,#6cff93 102px,#81ff7e 104px,#cbff34 106px,#cbff34 108px,#66ff99 111px,#70ff8f 112px,#bdff42 115px,#c0ff3f 117px,#87ff78 120px,#5effa1 121px,#09f7f6 122px,#006dff 123px,#30ffcf 124px,#96ff69 125px,#c3ff3c 126px,#c3ff3c 127px,#a3ff5c 128px,#22ffdd 130px,#19ffe6 131px,#46ffb9 132px,#5fffa0 133px,#50ffaf 135px,#65ff9a 136px,#b4ff4b 138px,#cbff34 140px,#adff52 142px,#55ffaa 144px,#5effa1 145px,#8fff70 146px,#abff54 147px,#adff52 148px,#80ff7f 150px,#8cff73 151px,#bfff40 153px,#c5ff3a 159px,#c7ff38 162px,#abff54 163px,#79ff86 164px,#2cffd3 165px,#00d3ff 166px,#00eaff 167px,#2bffd4 168px,#55ffaa 169px,#5bffa4 172px,#acff53 175px,#c3ff3c 178px,#85ff7a 183px,#83ff7c 189px,#a8ff57 191px,#ccff33 192px,#caff35 201px,#90ff6f 204px,#67ff98 206px,#73ff8c 208px,#b2ff4d 210px,#bdff42 211px,#a7ff58 212px,#33ffcc 214px,#8fff70 216px,#a4ff5b 217px,#9aff65 218px,#75ff8a 219px,#31ffce 220px,#0099ff 221px,#0036f1 222px,#44ffbb 223px,#cfff30 224px,#ebff14 225px,#e7ff18 229px,#7bff84 232px,#6fff90 234px,#c6ff39 237px,#cbff34 239px,#bbff44 240px,#6bff94 241px,#00e7ff 242px,#0028ff 243px,#000080 244px,#009fff 245px,#50ffaf 246px,#bbff44 247px,#f4ff0b 249px,#ffd900 250px,#ff3f00 252px,#ff2d00 253px,#ff8600 258px);height:2px"></i><i style="background:linear-gradient(90deg,#fff100 0,#ffaf00 3px,#ffd700 4px,#c4ff3b 5px,#41ffbe 6px,#32ffcd 7px,#a2ff5d 9px,#fbff04 11px,#ffa100 13px,#ff8900 14px,#ff8900 17px,#ff3800 19px,#ff4500 23px,#ff6500 24px,#ffd000 25px,#84ff7b 26px,#b4ff4b 27px,#fefa01 28px,#ffe100 29px,#fef101 31px,#ffbd00 34px,#ffe100 36px,#ecff13 37px,#ddff22 38px,#ffe100 39px,#ff9900 40px,#ff8900 41px,#ffab00 42px,#ffbd00 45px,#fdf602 47px,#fdf502 48px,#ffb100 50px,#ffaf00 53px,#ffcc00 54px,#fcff03 55px,#46ffb9 58px,#00baff 59px,#25ffda 60px,#bbff44 61px,#fffa00 62px,#ffd800 63px,#ffd300 68px,#ff4200 71px,#ff0200 74px,#ff0f00 77px,#ff5500 78px,#ffd700 79px,#5fffa0 80px,#fff700 82px,#ffe300 83px,#e8ff17 84px,#2dffd2 85px,#9cff63 86px,#ffbb00 87px,#ff6b00 88px,#ff4e00 89px,#ff4e00 92px,#ffb900 94px,#fff400 95px,#4dffb2 98px,#2cffd3 99px,#8dff72 102px,#dbff24 106px,#d8ff27 108px,#9aff65 111px,#acff53 113px,#d4ff2b 116px,#b3ff4c 118px,#7cff83 120px,#50ffaf 121px,#00e6ff 122px,#0039c4 123px,#26ffd9 124px,#94ff6b 125px,#c7ff38 126px,#d1ff2e 127px,#bfff40 128px,#6fff90 130px,#61ff9e 131px,#95ff6a 136px,#d7ff28 139px,#d6ff29 141px,#99ff66 144px,#b1ff4e 147px,#a1ff5e 148px,#46ffb9 150px,#6eff91 151px,#bdff42 152px,#f0fd0f 153px,#fbe904 155px,#deff21 160px,#d7ff28 162px,#8fff70 164px,#27ffd8 166px,#24ffdb 167px,#7eff81 170px,#d4ff2b 177px,#beff41 180px,#a3ff5c 183px,#8cff73 188px,#e9ff16 192px,#ecff13 197px,#d7ff28 200px,#cbff34 202px,#72ff8d 206px,#86ff79 208px,#c5ff3a 210px,#d2ff2d 211px,#aaff55 213px,#91ff6e 214px,#adff52 217px,#84ff7b 219px,#0bedf4 221px,#17ede8 222px,#8eff71 223px,#f7fa08 224px,#ffe900 227px,#f5ff0a 230px,#80ff7f 232px,#5cffa3 233px,#5affa5 234px,#d3ff2c 237px,#dcff23 239px,#d0ff2f 240px,#8fff70 241px,#2bffd4 242px,#008cff 243px,#0016cf 244px,#00edff 245px,#75ff8a 246px,#d0ff2f 247px,#f2ff0d 248px,#fdfc02 249px,#ffdb00 250px,#ff5400 252px,#ff2d00 253px,#ff8400 258px);height:2px"></i><i style="background:linear-gradient(90deg,#ffe800 0,#ffaf00 3px,#ffd000 4px,#cbff34 5px,#1bffe4 6px,#0065ff 7px,#2fffd0 8px,#85ff7a 9px,#fcff03 11px,#ff9900 13px,#ff8900 15px,#ff8800 17px,#ff4600 18px,#ff3800 21px,#ff4800 23px,#ff7000 24px,#ffd800 25px,#01d5fe 26px,#62ff9d 27px,#eeff11 28px,#ffda00 29px,#ffae00 34px,#ffc000 35px,#ffed00 36px,#62ff9d 38px,#ebff14 39px,#ffb300 40px,#ff8b00 41px,#ffa700 42px,#ffbf00 45px,#ffda00 47px,#ffaf00 50px,#ffaf00 53px,#ffcb00 54px,#feff01 55px,#91ff6e 57px,#4fffb0 59px,#87ff78 60px,#d3ff2c 61px,#fffc00 62px,#ffe200 64px,#ffd700 67px,#ff8800 69px,#ff3600 71px,#ff0800 73px,#ff0900 77px,#ff5600 78px,#ffdc00 79px,#00e3ff 80px,#5fffa0 81px,#edff12 82px,#ffee00 83px,#f1ff0e 84px,#b0ff4f 85px,#edfc12 86px,#ff6d00 88px,#ff4e00 89px,#ff4e00 92px,#ff6000 93px,#ffdb00 95px,#e3ff1c 96px,#82ff7d 98px,#6fff90 99px,#aeff51 102px,#e8ff17 105px,#e5ff1a 108px,#baff45 111px,#e1ff1e 116px,#aeff51 118px,#55ffaa 121px,#24ffdb 122px,#18f3e7 123px,#a5ff5a 125px,#d1ff2e 126px,#ddff22 127px,#beff41 129px,#97ff68 131px,#b7ff48 136px,#eaff15 140px,#c2ff3d 145px,#b7ff48 147px,#96ff69 148px,#43ffbc 149px,#00c9ff 150px,#48ffb7 151px,#dfff20 152px,#ffc400 153px,#ff9100 154px,#ff8c00 155px,#fbfc04 159px,#e8ff17 162px,#76ff89 165px,#48ffb7 166px,#3fffc0 167px,#b1ff4e 171px,#e4ff1b 178px,#b2ff4d 182px,#b1ff4e 185px,#8dff72 187px,#93ff6c 188px,#fdf902 191px,#fff400 197px,#deff21 199px,#e3ff1c 201px,#b9ff46 203px,#74ff8b 205px,#6dff92 207px,#d9ff26 210px,#e9ff16 212px,#abff54 218px,#66ff99 221px,#89ff76 222px,#dbff24 223px,#ffcf00 224px,#ffbd00 227px,#ffcb00 229px,#ffe500 230px,#d0ff2f 231px,#2affd5 233px,#20ffdf 234px,#a5ff5a 236px,#d7ff28 237px,#edff12 238px,#e2ff1d 240px,#adff52 241px,#5effa1 242px,#03e9fc 243px,#00bdff 244px,#37ffc8 245px,#99ff66 246px,#e5ff1a 247px,#fff600 248px,#ffd500 250px,#ffb300 251px,#ff4300 253px,#ff4100 254px,#ff8500 258px);height:2px"></i><i style="background:linear-gradient(90deg,#ffdf00 0,#ffaf00 3px,#ffc800 4px,#deff21 5px,#44ffbb 6px,#0063f3 7px,#05fffa 8px,#62ff9d 9px,#f2ff0d 11px,#ff9700 13px,#ff8100 17px,#ff4100 18px,#ff3b00 22px,#ff4b00 23px,#ff7300 24px,#ffce00 25px,#32fdcd 26px,#68ff97 27px,#eaff15 28px,#ffd500 29px,#ffac00 31px,#ffa600 34px,#ffbf00 35px,#fff900 36px,#6dff92 37px,#00aaff 38px,#cbff34 39px,#ffc600 40px,#ff9b00 41px,#ffd000 47px,#ffaf00 50px,#ffaf00 53px,#ffcc00 54px,#faff05 55px,#bbff44 56px,#93ff6c 57px,#a1ff5e 59px,#eeff11 61px,#fff600 63px,#ffe700 66px,#ffa500 68px,#ff4700 70px,#fe0100 73px,#f50000 76px,#ff0400 77px,#ff4f00 78px,#ffc100 79px,#85ff7a 80px,#84ff7b 81px,#e7ff18 82px,#ffed00 83px,#fdf002 85px,#ff6b00 88px,#ff4e00 89px,#ff5600 93px,#f6ff09 96px,#a7ff58 98px,#a4ff5b 100px,#f6ff09 104px,#f4ff0b 108px,#ccff33 111px,#eaff15 116px,#d4ff2b 117px,#71ff8e 119px,#5effa1 120px,#73ff8c 123px,#e1ff1e 126px,#eaff15 128px,#bdff42 132px,#deff21 137px,#f5ff0a 141px,#d0ff2f 146px,#bdff42 147px,#92ff6d 148px,#2affd5 149px,#001dde 150px,#3bffc4 151px,#fbfe04 152px,#ff9300 153px,#ff5200 154px,#ff4f00 155px,#ff9b00 157px,#ffe800 159px,#f9ff06 162px,#82ff7d 165px,#48ffb7 166px,#39ffc6 167px,#b8ff47 170px,#daff25 172px,#f1ff0e 178px,#b3ff4c 181px,#c6ff39 184px,#99ff66 186px,#7bff84 187px,#89ff76 188px,#fdf802 190px,#ffda00 191px,#ffc300 196px,#eeff11 198px,#daff25 199px,#eeff11 201px,#e0ff1f 202px,#b9ff46 203px,#4affb5 205px,#38ffc7 206px,#4affb5 207px,#c8ff37 209px,#f5ff0a 210px,#f6ff09 214px,#acff53 219px,#b8ff47 221px,#e2ff1d 222px,#ffde00 223px,#ffa000 224px,#ff9100 227px,#ffa200 229px,#ffc500 230px,#e2ff1d 231px,#62ff9d 232px,#00b9ff 233px,#008fff 234px,#3dffc2 235px,#9dff62 236px,#d9ff26 237px,#fbff04 238px,#f1ff0e 240px,#8eff71 242px,#4dffb2 243px,#40ffbf 244px,#f9ff06 247px,#ff6e00 253px,#ff6700 256px,#ff7200 258px);height:2px"></i><i style="background:linear-gradient(90deg,#ffd900 0,#ffaf00 3px,#ffc100 4px,#f3ff0c 5px,#82ff7d 6px,#2affd5 7px,#21ffde 8px,#4bffb4 9px,#8aff75 10px,#e6ff19 11px,#ffce00 12px,#ff9900 13px,#ff8900 15px,#ff7d00 17px,#ff4000 18px,#ff4d00 23px,#ff6f00 24px,#ffb700 25px,#adff52 26px,#aaff55 27px,#f7ff08 28px,#ffb300 30px,#ff9900 33px,#ffbf00 35px,#fff800 36px,#89ff76 37px,#3dffc2 38px,#d5ff2a 39px,#ffcc00 40px,#ffa500 41px,#ffda00 46px,#ffaf00 49px,#ffaf00 53px,#ffcd00 54px,#f3ff0c 55px,#aaff55 56px,#85ff7a 57px,#fdff02 61px,#f1ff0e 65px,#fff700 66px,#ff3d00 70px,#f90000 73px,#f10000 76px,#ff0100 77px,#ff4500 78px,#ffa100 79px,#ebff14 80px,#cdff32 81px,#f8ff07 82px,#ffd400 84px,#ffa900 86px,#ff5100 89px,#ff5500 93px,#fffe00 96px,#baff45 98px,#bbff44 100px,#f9ff06 103px,#fcff03 108px,#cfff30 111px,#d6ff29 113px,#f2ff0d 115px,#eeff11 116px,#d3ff2c 117px,#4fffb0 119px,#42ffbd 120px,#edff12 126px,#efff10 129px,#d2ff2d 133px,#feff01 141px,#d7ff28 146px,#98ff67 148px,#42ffbd 149px,#00e3ff 150px,#68ff97 151px,#fff500 152px,#ff8b00 153px,#ff4a00 154px,#ff4700 155px,#ff9200 157px,#ffde00 159px,#fffc00 162px,#baff45 164px,#82ff7d 165px,#32ffcd 166px,#14ffeb 167px,#99ff66 169px,#deff21 171px,#ecff13 176px,#f6ff09 178px,#a2ff5d 181px,#a6ff59 182px,#c8ff37 184px,#b8ff47 185px,#51ffae 187px,#6fff90 188px,#d2ff2d 189px,#ffe200 190px,#ffc000 191px,#ffa000 195px,#ffa100 196px,#ffc800 197px,#e4ff1b 198px,#c2ff3d 199px,#f2ff0d 201px,#e5ff1a 202px,#b6ff49 203px,#0bfff4 205px,#00ebff 206px,#1affe5 207px,#deff21 209px,#ffeb00 210px,#ffe600 212px,#f8ff07 215px,#beff41 218px,#c5ff3a 220px,#ffec00 222px,#ff8600 224px,#ff7300 227px,#ff8600 229px,#ffae00 230px,#f4ff0b 231px,#67ff98 232px,#0089ff 233px,#0037ff 234px,#32ffcd 235px,#9bff64 236px,#d9ff26 237px,#fdff02 238px,#faff05 240px,#88ff77 243px,#83ff7c 244px,#fff700 247px,#ffc100 249px,#ff6300 253px,#ff6000 258px)"></i><i style="background:linear-gradient(90deg,#ffd600 0,#ffaf00 3px,#ffbc00 4px,#fffd00 5px,#a2ff5d 6px,#62ff9d 7px,#3dffc2 8px,#3dffc2 9px,#78ff87 10px,#deff21 11px,#ffd200 12px,#ff9b00 13px,#ff8900 15px,#ff7c00 17px,#ff4600 18px,#ff4b00 21px,#ff4e00 23px,#ff6a00 24px,#ffa400 25px,#e1ff1e 26px,#d5ff2a 27px,#fff900 28px,#ffb000 30px,#ff9800 33px,#ffbd00 35px,#ffef00 36px,#b8ff47 37px,#98ff67 38px,#ebff14 39px,#ffcb00 40px,#ffab00 41px,#ffe400 45px,#ffdd00 47px,#ffaf00 49px,#ffaf00 53px,#eeff11 55px,#98ff67 56px,#6dff92 57px,#f3ff0c 60px,#fffe00 62px,#d6ff29 64px,#dcff23 65px,#fdff02 66px,#ff3800 70px,#ff0700 72px,#e90000 75px,#ff0000 77px,#ff8c00 79px,#ffe600 80px,#f5ff0a 81px,#ff7f00 87px,#ff4e00 90px,#ff5600 93px,#fffb00 96px,#c0ff3f 98px,#c5ff3a 100px,#fffb00 103px,#fff400 107px,#feff01 108px,#c8ff37 111px,#d0ff2f 113px,#f1ff0e 115px,#edff12 116px,#cfff30 117px,#87ff78 118px,#28ffd7 119px,#20ffdf 120px,#61ff9e 121px,#afff50 123px,#f3ff0c 126px,#f8ff07 129px,#ddff22 134px,#fffd00 141px,#d9ff26 146px,#9fff60 148px,#61ff9e 149px,#3dffc2 150px,#8eff71 151px,#fff200 152px,#ff9400 153px,#ff5800 154px,#ff5400 155px,#ffdc00 159px,#fff900 162px,#bcff43 164px,#7eff81 165px,#15ffea 166px,#00dbff 167px,#3cffc3 168px,#98ff67 169px,#c9ff36 170px,#ebff14 172px,#dcff23 175px,#f4ff0b 178px,#deff21 179px,#88ff77 181px,#92ff6d 182px,#b7ff48 183px,#c4ff3b 184px,#b1ff4e 185px,#71ff8e 186px,#16ffe9 187px,#51ffae 188px,#d5ff2a 189px,#ffd500 190px,#ffb100 191px,#ff8a00 195px,#ff8a00 196px,#ffbe00 197px,#d3ff2c 198px,#9aff65 199px,#f0ff0f 201px,#e5ff1a 202px,#b2ff4d 203px,#49ffb6 204px,#00c9ff 205px,#0085ff 206px,#00efff 207px,#87ff78 208px,#f5ff0a 209px,#ffd000 210px,#ffdd00 213px,#fffd00 215px,#bfff40 218px,#d2ff2d 220px,#f8ff07 221px,#ff7700 224px,#ff6200 227px,#ff7600 229px,#ffa000 230px,#fffc00 231px,#7cff83 232px,#00d9ff 233px,#00acff 234px,#3fffc0 235px,#9dff62 236px,#d9ff26 237px,#fdff02 238px,#fdff02 240px,#a5ff5a 243px,#a2ff5d 244px,#fff100 247px,#ffba00 249px,#ff5e00 253px,#ff5700 258px)"></i><i style="background:linear-gradient(90deg,#ffd400 0,#ffaf00 3px,#ffb800 4px,#fff100 5px,#4fffb0 8px,#28ffd7 9px,#62ff9d 10px,#d6ff29 11px,#ffd500 12px,#ff9e00 13px,#ff8900 14px,#ff7c00 17px,#ff5600 18px,#ff6300 20px,#ff4c00 22px,#ff6400 24px,#ff9300 25px,#fff600 26px,#f8ff07 27px,#ffad00 30px,#ff9700 33px,#ffb900 35px,#ffe100 36px,#e3ff1c 37px,#d5ff2a 38px,#fffa00 39px,#ffc700 40px,#ffaf00 41px,#fff700 45px,#ffea00 47px,#ffb000 49px,#ffaf00 53px,#ffce00 54px,#eaff15 55px,#81ff7e 56px,#43ffbc 57px,#d3ff2c 59px,#faff05 60px,#fbff04 62px,#b7ff48 64px,#beff41 65px,#f1ff0e 66px,#ff6500 69px,#ff3300 70px,#ff0300 72px,#e70000 75px,#fc0000 77px,#ff7a00 79px,#ffc300 80px,#ffe900 81px,#ff4f00 90px,#ff5a00 93px,#fffa00 96px,#c3ff3c 98px,#ccff33 100px,#f9ff06 102px,#fff000 105px,#fffe00 108px,#bdff42 111px,#b6ff49 112px,#efff10 115px,#ecff13 116px,#ccff33 117px,#7aff85 118px,#00f2ff 119px,#00eeff 120px,#59ffa6 121px,#95ff6a 122px,#d4ff2b 124px,#fffd00 127px,#eaff15 135px,#fffa00 141px,#daff25 146px,#abff54 148px,#82ff7d 149px,#76ff89 150px,#adff52 151px,#fff300 152px,#ffa500 153px,#ff7100 154px,#ff6e00 155px,#ffdd00 159px,#fff700 162px,#bdff42 164px,#7bff84 165px,#00f5ff 166px,#0072ff 167px,#24ffdb 168px,#95ff6a 169px,#ccff33 170px,#e6ff19 171px,#e2ff1d 173px,#d0ff2f 175px,#f0ff0f 177px,#f0ff0f 178px,#d7ff28 179px,#60ff9f 181px,#74ff8b 182px,#abff54 183px,#bdff42 184px,#a9ff56 185px,#56ffa9 186px,#00a6ff 187px,#34ffcb 188px,#dcff23 189px,#ffc700 190px,#ffa100 191px,#ff7400 195px,#ff7400 196px,#ffb200 197px,#bfff40 198px,#4fffb0 199px,#b7ff48 200px,#edff12 201px,#e6ff19 202px,#b1ff4e 203px,#3dffc2 204px,#0090ff 205px,#000080 206px,#00deff 207px,#9bff64 208px,#ffec00 209px,#ffb200 210px,#ffcb00 213px,#fff100 215px,#bdff42 218px,#c1ff3e 219px,#fff500 221px,#ff8a00 223px,#ff5b00 225px,#ff5a00 228px,#ff6700 229px,#ff9200 230px,#ffeb00 231px,#99ff66 232px,#25ffda 233px,#05fffa 234px,#a5ff5a 236px,#dcff23 237px,#feff01 238px,#fffd00 240px,#bdff42 243px,#bbff44 244px,#eeff11 246px,#ffc600 248px,#ff6300 252px,#ff4f00 258px)"></i><i style="background:linear-gradient(90deg,#ffd200 0,#ffaf00 3px,#ffb500 4px,#ffe600 5px,#cfff30 6px,#57ffa8 8px,#01fffe 9px,#48ffb7 10px,#cfff30 11px,#ffd900 12px,#ffa100 13px,#ff8900 14px,#ff8300 17px,#ff6b00 18px,#ff7700 20px,#ff5200 22px,#ff5e00 24px,#ff8600 25px,#ffda00 26px,#ffe900 27px,#ff9e00 31px,#ffa200 34px,#fff700 37px,#fffe00 38px,#ffc100 40px,#ffb200 41px,#fcff03 44px,#edff12 46px,#fffe00 47px,#ffb500 49px,#ffaf00 53px,#ffce00 54px,#e6ff19 55px,#67ff98 56px,#00f6ff 57px,#7fff80 58px,#d2ff2d 59px,#fdff02 60px,#f2ff0d 62px,#8bff74 64px,#98ff67 65px,#e0ff1f 66px,#ffde00 67px,#ff2e00 70px,#fe0000 72px,#e40000 75px,#fa0000 77px,#ffa700 80px,#ffce00 81px,#ff9700 85px,#ff5400 90px,#ff4e00 92px,#ff5f00 93px,#fffb00 96px,#c2ff3d 98px,#bfff40 99px,#fffd00 102px,#ffec00 104px,#ffec00 107px,#fffd00 108px,#acff53 111px,#a1ff5e 112px,#ebff14 115px,#eaff15 116px,#caff35 117px,#72ff8d 118px,#00b5ff 119px,#00aeff 120px,#52ffad 121px,#99ff66 122px,#dcff23 124px,#feff01 126px,#f4ff0b 136px,#f8ff07 143px,#cdff32 147px,#9fff60 149px,#9dff62 150px,#c4ff3b 151px,#fff700 152px,#ff9100 154px,#ff9f00 156px,#ffdf00 159px,#fff500 162px,#bfff40 164px,#7dff82 165px,#00e7ff 166px,#000080 167px,#13ffec 168px,#94ff6b 169px,#cdff32 170px,#e8ff17 171px,#dbff24 173px,#beff41 175px,#e9ff16 177px,#ebff14 178px,#cdff32 179px,#87ff78 180px,#20ffdf 181px,#4dffb2 182px,#9eff61 183px,#b7ff48 184px,#a1ff5e 185px,#42ffbd 186px,#0000ab 187px,#35ffca 188px,#e9ff16 189px,#ffb900 190px,#ff9200 191px,#ff5e00 195px,#ff5e00 196px,#ffa100 197px,#baff45 198px,#0095ff 199px,#a0ff5f 200px,#ecff13 201px,#e9ff16 202px,#b5ff4a 203px,#41ffbe 204px,#00a1ff 205px,#0012ff 206px,#0bfff4 207px,#bbff44 208px,#ffd700 209px,#ff9d00 210px,#ffa600 212px,#ffe600 215px,#eaff15 216px,#b7ff48 218px,#bfff40 219px,#e0ff1f 220px,#ffe900 221px,#ff7900 223px,#ff4d00 225px,#ff4b00 228px,#ff5900 229px,#ff8300 230px,#ffd800 231px,#b7ff48 232px,#5affa5 233px,#3dffc2 234px,#dfff20 237px,#fffe00 238px,#fff800 240px,#d1ff2e 243px,#deff21 245px,#f8ff07 246px,#ff6100 252px,#ff4a00 258px)"></i><i style="background:linear-gradient(90deg,#ffcf00 0,#ffaf00 3px,#ffb300 4px,#ffdf00 5px,#ddff22 6px,#a4ff5b 7px,#56ffa9 8px,#00b6ff 9px,#29ffd6 10px,#c9ff36 11px,#ffdc00 12px,#ffa400 13px,#ff8900 14px,#ff9600 17px,#ff8900 18px,#ff9000 20px,#ff5a00 22px,#ff5800 24px,#ff7e00 25px,#ffc700 26px,#ffd300 27px,#ff9900 32px,#ffaf00 35px,#ffda00 37px,#ffce00 39px,#ffb400 41px,#fffe00 43px,#ccff33 45px,#caff35 46px,#ffeb00 48px,#ffbc00 49px,#ffaf00 52px,#ffaf00 53px,#ffcd00 54px,#e6ff19 55px,#58ffa7 56px,#0055ff 57px,#6bff94 58px,#d0ff2f 59px,#fdff02 60px,#fffb00 61px,#e8ff17 62px,#49ffb6 64px,#65ff9a 65px,#ccff33 66px,#ffea00 67px,#ff2d00 70px,#fb0000 72px,#e10000 75px,#f70000 77px,#ffb800 81px,#ff8b00 85px,#ff4e00 92px,#ff6800 93px,#fffe00 96px,#bcff43 98px,#baff45 99px,#fff500 102px,#ffe700 105px,#ffe700 107px,#fffe00 108px,#92ff6d 111px,#80ff7f 112px,#e6ff19 115px,#e9ff16 116px,#cbff34 117px,#73ff8c 118px,#00a7ff 119px,#0093ff 120px,#52ffad 121px,#9eff61 122px,#e3ff1c 124px,#fff300 127px,#fff900 138px,#f8ff07 143px,#b9ff46 149px,#bbff44 150px,#fffa00 152px,#ffaf00 154px,#ffc800 157px,#fff400 162px,#c3ff3c 164px,#85ff7a 165px,#02fffd 166px,#0041ff 167px,#1affe5 168px,#96ff69 169px,#cfff30 170px,#e8ff17 171px,#e6ff19 172px,#aeff51 174px,#a3ff5c 175px,#dfff20 177px,#e4ff1b 178px,#c3ff3c 179px,#6dff92 180px,#00b1ff 181px,#20ffdf 182px,#92ff6d 183px,#b1ff4e 184px,#9dff62 185px,#44ffbb 186px,#00a0ff 187px,#60ff9f 188px,#fcff03 189px,#ffaa00 190px,#ff6f00 192px,#ff4a00 195px,#ff4a00 196px,#ff8b00 197px,#d8ff27 198px,#0081ff 199px,#9aff65 200px,#eeff11 201px,#eeff11 202px,#bcff43 203px,#52ffad 204px,#00e0ff 205px,#00beff 206px,#47ffb8 207px,#cbff34 208px,#ffd000 209px,#ff9a00 210px,#ffa400 213px,#ffdb00 215px,#edff12 216px,#acff53 218px,#b6ff49 219px,#e0ff1f 220px,#ffe000 221px,#ff6b00 223px,#ff3800 226px,#ff4c00 229px,#ff7500 230px,#ffc600 231px,#d0ff2f 232px,#7cff83 233px,#5fffa0 234px,#e5ff1a 237px,#fffb00 238px,#fff400 240px,#e0ff1f 244px,#fffc00 246px,#ff7100 251px,#ff5c00 253px,#ff4700 258px)"></i><i style="background:linear-gradient(90deg,#ffcd00 0,#ffb200 4px,#ffda00 5px,#e7ff18 6px,#abff54 7px,#51ffae 8px,#001aff 9px,#13ffec 10px,#c7ff38 11px,#ffde00 12px,#ffa800 13px,#ff8900 14px,#ff8a00 16px,#ffad00 17px,#ffbe00 19px,#ffb000 20px,#ff6100 22px,#ff5300 24px,#ff7d00 25px,#ffbc00 26px,#ffb100 29px,#ff9b00 33px,#ffc500 38px,#ffb600 41px,#edff12 43px,#9eff61 45px,#99ff66 46px,#fffe00 48px,#ffc600 49px,#ffaf00 50px,#ffaf00 53px,#ffcb00 54px,#ebff14 55px,#63ff9c 56px,#0009ff 57px,#61ff9e 58px,#cdff32 59px,#fbff04 60px,#ffff00 61px,#ddff22 62px,#7fff80 63px,#00deff 64px,#29ffd6 65px,#b7ff48 66px,#fff700 67px,#ff2d00 70px,#ff0b00 71px,#de0000 75px,#f50000 77px,#ffa000 81px,#ff9b00 83px,#ff6600 89px,#ff5400 92px,#fbff04 96px,#b1ff4e 98px,#b0ff4f 99px,#f0ff0f 101px,#ffe300 104px,#ffe400 107px,#ffff00 108px,#6fff90 111px,#4effb1 112px,#dfff20 115px,#e7ff18 116px,#cdff32 117px,#7fff80 118px,#00ebff 119px,#00d6ff 120px,#5fffa0 121px,#a5ff5a 122px,#e7ff18 124px,#ffef00 127px,#fffc00 133px,#fff400 141px,#d4ff2b 150px,#fff900 152px,#ffc600 154px,#ffe300 161px,#edff12 163px,#93ff6c 165px,#33ffcc 166px,#00e5ff 167px,#3dffc2 168px,#9fff60 169px,#d2ff2d 170px,#e7ff18 171px,#e0ff1f 172px,#8eff71 174px,#7bff84 175px,#d2ff2d 177px,#dcff23 178px,#bbff44 179px,#5bffa4 180px,#0000d9 181px,#01fffe 182px,#8aff75 183px,#adff52 184px,#a0ff5f 185px,#34ffcb 187px,#ffeb00 189px,#ff9a00 190px,#ff6000 192px,#ff3800 195px,#ff3700 196px,#ff7100 197px,#ffee00 198px,#7aff85 199px,#f7ff08 201px,#f6ff09 202px,#c7ff38 203px,#11ffee 205px,#05fffa 206px,#ddff22 208px,#ffc800 209px,#ff9900 210px,#ff9900 213px,#ffa800 214px,#efff10 216px,#b9ff46 217px,#98ff67 218px,#a6ff59 219px,#dcff23 220px,#ffda00 221px,#ff5f00 223px,#ff2c00 226px,#ff3f00 229px,#ff6700 230px,#ffb600 231px,#e4ff1b 232px,#8fff70 233px,#70ff8f 234px,#ebff14 237px,#fff800 238px,#ffef00 240px,#edff12 244px,#fff500 246px,#ff6a00 251px,#ff6100 253px,#ff6800 255px,#ff4600 258px)"></i><i style="background:linear-gradient(90deg,#ffca00 0,#ffb200 4px,#eeff11 6px,#b1ff4e 7px,#56ffa9 8px,#0031ff 9px,#1fffe0 10px,#c9ff36 11px,#ffe000 12px,#ffac00 13px,#ff8d00 14px,#ff9600 16px,#ffde00 18px,#fff500 19px,#ffd700 20px,#ff9500 21px,#ff6900 22px,#ff4f00 24px,#ffae00 26px,#ff9f00 34px,#ffb300 38px,#ffb700 41px,#ffe200 42px,#d9ff26 43px,#61ff9e 45px,#54ffab 46px,#ebff14 48px,#ffaf00 50px,#ffaf00 53px,#ffc800 54px,#f4ff0b 55px,#85ff7a 56px,#00edff 57px,#cdff32 59px,#f9ff06 60px,#faff05 61px,#d4ff2b 62px,#67ff98 63px,#0032ff 64px,#00f5ff 65px,#a5ff5a 66px,#f9ff06 67px,#ff2e00 70px,#ff0700 71px,#dc0000 75px,#f30000 77px,#ff8b00 81px,#ff9600 82px,#ff6d00 88px,#ff5c00 92px,#f4ff0b 96px,#9dff62 98px,#9dff62 99px,#f0ff0f 101px,#ffdf00 103px,#ffe300 107px,#fdff02 108px,#92ff6d 110px,#00fdff 112px,#a4ff5b 114px,#d9ff26 115px,#e7ff18 116px,#d3ff2c 117px,#95ff6a 118px,#3affc5 119px,#29ffd6 120px,#76ff89 121px,#d5ff2a 123px,#fbff04 125px,#ffe500 130px,#fff900 137px,#fff300 141px,#e0ff1f 147px,#f6ff09 151px,#ffd200 154px,#ffe100 161px,#f0ff0f 163px,#a5ff5a 165px,#65ff9a 166px,#40ffbf 167px,#69ff96 168px,#acff53 169px,#d6ff29 170px,#e6ff19 171px,#d9ff26 172px,#aeff51 173px,#63ff9c 174px,#3fffc0 175px,#c5ff3a 177px,#d5ff2a 178px,#b7ff48 179px,#5dffa2 180px,#007bff 181px,#10ffef 182px,#8bff74 183px,#afff50 184px,#aaff55 185px,#8bff74 186px,#89ff76 187px,#ceff31 188px,#ffd300 189px,#ff8b00 190px,#ff3e00 193px,#ff2500 196px,#ff5500 197px,#efff10 199px,#ecff13 200px,#fffc00 202px,#d4ff2b 203px,#26ffd9 205px,#17ffe8 206px,#ecff13 208px,#ffc100 209px,#ff9900 210px,#ff9c00 214px,#edff12 216px,#78ff87 218px,#8bff74 219px,#d3ff2c 220px,#ffd700 221px,#ff5500 223px,#ff2100 226px,#ff3400 229px,#ff5a00 230px,#f1ff0e 232px,#94ff6b 233px,#71ff8e 234px,#f0ff0f 237px,#ffeb00 240px,#f6ff09 244px,#fff000 246px,#ff6400 251px,#ff6800 253px,#ff7d00 255px,#ff4a00 258px)"></i><i style="background:linear-gradient(90deg,#ffc800 0,#ffaf00 3px,#ffb400 4px,#f4ff0b 6px,#69ff96 8px,#00e6ff 9px,#4bffb4 10px,#d1ff2e 11px,#ffe000 12px,#ff9400 14px,#ff9000 15px,#ffa200 16px,#ffd300 17px,#ebff14 18px,#aaff55 19px,#f9ff06 20px,#ffa700 21px,#ff7100 22px,#ff5400 23px,#ff5700 24px,#ff8800 25px,#ffa400 26px,#ffa900 40px,#ffb800 41px,#ffe900 42px,#c8ff37 43px,#7aff85 44px,#0efff1 45px,#00e6ff 46px,#6cff93 47px,#d8ff27 48px,#ffda00 49px,#ffaf00 50px,#ffaf00 53px,#ffc500 54px,#fffd00 55px,#5cffa3 57px,#d2ff2d 59px,#f7ff08 60px,#f6ff09 61px,#cfff30 62px,#67ff98 63px,#0098ff 64px,#07fff8 65px,#9dff62 66px,#ebff14 67px,#ffcb00 68px,#ff2e00 70px,#ff0300 71px,#d90000 75px,#f10000 77px,#ff5e00 80px,#ff8900 82px,#ff6e00 87px,#ff6f00 92px,#ffe500 95px,#ecff13 96px,#7dff82 98px,#7eff81 99px,#eeff11 101px,#ffdb00 103px,#ffe200 107px,#fbff04 108px,#81ff7e 110px,#11ffee 111px,#0061ff 112px,#1effe1 113px,#95ff6a 114px,#d4ff2b 115px,#e7ff18 116px,#dbff24 117px,#77ff88 119px,#6bff94 120px,#daff25 123px,#fdff02 125px,#ffdd00 129px,#fff700 137px,#fff300 141px,#dfff20 146px,#fff900 151px,#ffd600 154px,#ffe200 161px,#f2ff0d 163px,#8eff71 166px,#7cff83 167px,#92ff6d 168px,#dbff24 170px,#e5ff1a 171px,#d2ff2d 172px,#9cff63 173px,#2effd1 174px,#00e2ff 175px,#6cff93 176px,#b7ff48 177px,#cfff30 178px,#b7ff48 179px,#72ff8d 180px,#0bfff4 181px,#40ffbf 182px,#95ff6a 183px,#b6ff49 184px,#b3ff4c 186px,#c3ff3c 187px,#f9ff06 188px,#ff7d00 190px,#ff3000 193px,#ff1600 196px,#ff3a00 197px,#ffc200 199px,#ffdc00 200px,#ffed00 202px,#e2ff1d 203px,#1bffe4 205px,#0dfff2 206px,#93ff6c 207px,#f8ff07 208px,#ffbb00 209px,#ff9900 210px,#ff9900 214px,#ffcb00 215px,#e7ff18 216px,#46ffb9 218px,#62ff9d 219px,#c7ff38 220px,#ffd500 221px,#ff4c00 223px,#ff1700 226px,#ff2900 229px,#ff4f00 230px,#ff9c00 231px,#f8ff07 232px,#8bff74 233px,#61ff9e 234px,#d0ff2f 236px,#f5ff0a 237px,#ffe600 240px,#fbff04 244px,#ffed00 246px,#ff6300 251px,#ff7200 253px,#ffa000 255px,#ff5200 258px)"></i><i style="background:linear-gradient(90deg,#ffc600 0,#ffaf00 3px,#ffb600 4px,#f9ff06 6px,#4dffb2 9px,#7dff82 10px,#ddff22 11px,#ffe000 12px,#ff9b00 14px,#ff9a00 15px,#ffae00 16px,#ffe600 17px,#b5ff4a 18px,#06fff9 19px,#ceff31 20px,#ffb400 21px,#ff7700 22px,#ff5500 23px,#ff6800 24px,#ff9200 25px,#ffa300 31px,#ffa500 40px,#ffb800 41px,#ffed00 42px,#bcff43 43px,#5fffa0 44px,#00b8ff 45px,#003eff 46px,#4dffb2 47px,#caff35 48px,#ffe200 49px,#ffb500 50px,#ffaf00 53px,#ffc100 54px,#ffef00 55px,#a0ff5f 57px,#b1ff4e 58px,#f7ff08 60px,#f4ff0b 61px,#d1ff2e 62px,#20ffdf 64px,#43ffbc 65px,#9eff61 66px,#deff21 67px,#ffd600 68px,#ff2e00 70px,#fe0000 71px,#d90000 74px,#da0000 76px,#f10000 77px,#ff5400 80px,#ff7f00 82px,#ff6a00 86px,#ff7d00 90px,#ff7600 91px,#ffa600 93px,#ffed00 95px,#e3ff1c 96px,#4cffb3 98px,#4dffb2 99px,#a8ff57 100px,#eaff15 101px,#ffe800 102px,#ffd700 104px,#ffe100 107px,#faff05 108px,#79ff86 110px,#00fbff 111px,#000080 112px,#08fff7 113px,#8dff72 114px,#d2ff2d 115px,#eaff15 116px,#e6ff19 117px,#a7ff58 119px,#9cff63 120px,#feff01 125px,#ffd700 129px,#fff600 137px,#fff300 141px,#d3ff2c 145px,#fff500 150px,#ffd500 154px,#ffe200 161px,#f4ff0b 163px,#afff50 166px,#a7ff58 167px,#e2ff1d 170px,#e5ff1a 171px,#ccff33 172px,#8fff70 173px,#00fdff 174px,#0052ff 175px,#55ffaa 176px,#adff52 177px,#cbff34 178px,#bdff42 179px,#5bffa4 181px,#71ff8e 182px,#a6ff59 183px,#ccff33 185px,#edff12 187px,#ffe400 188px,#ff7000 190px,#ff2400 193px,#ff0800 196px,#ff2200 197px,#ff8b00 199px,#ffdb00 202px,#f0ff0f 203px,#90ff6f 204px,#00f7ff 205px,#00edff 206px,#9aff65 207px,#ffff00 208px,#ffb800 209px,#ff9900 210px,#ff9a00 214px,#ffce00 215px,#dfff20 216px,#7cff83 217px,#00f0ff 218px,#28ffd7 219px,#bbff44 220px,#ffd200 221px,#ff4500 223px,#ff1800 225px,#ff1200 228px,#ff1f00 229px,#ff4600 230px,#ff9200 231px,#fcff03 232px,#74ff8b 233px,#38ffc7 234px,#93ff6c 235px,#d2ff2d 236px,#f9ff06 237px,#ffe300 240px,#fffd00 245px,#ffb400 248px,#ff6300 251px,#ff6500 252px,#ff7e00 253px,#ffd600 255px,#ff5d00 258px)"></i><i style="background:linear-gradient(90deg,#ffc300 0,#ffaf00 3px,#ffd400 5px,#feff01 6px,#a5ff5a 8px,#8cff73 9px,#a9ff56 10px,#ebff14 11px,#ffde00 12px,#ffa300 14px,#ffa300 15px,#ffba00 16px,#fff400 17px,#98ff67 18px,#0033ff 19px,#afff50 20px,#ffba00 21px,#ff7b00 22px,#ff6700 23px,#ff9600 25px,#ffa200 33px,#ff9600 39px,#ffba00 41px,#fff000 42px,#b8ff47 43px,#5bffa4 44px,#00c8ff 45px,#008dff 46px,#50ffaf 47px,#c6ff39 48px,#ffe800 49px,#ffba00 50px,#ffaf00 53px,#ffbe00 54px,#f1ff0e 56px,#ceff31 57px,#d1ff2e 58px,#faff05 60px,#f5ff0a 61px,#d8ff27 62px,#6eff91 64px,#77ff88 65px,#d1ff2e 67px,#ffe200 68px,#ff7d00 69px,#ff2e00 70px,#f90000 71px,#d50000 75px,#d80000 76px,#f20000 77px,#ff5f00 81px,#ff6d00 83px,#ff6800 86px,#ff8c00 90px,#ff8a00 91px,#fff500 95px,#dbff24 96px,#86ff79 97px,#01fffe 98px,#04fffb 99px,#96ff69 100px,#e6ff19 101px,#ffe800 102px,#ffd200 103px,#ffd200 106px,#faff05 108px,#7dff82 110px,#19ffe6 111px,#00a6ff 112px,#23ffdc 113px,#92ff6d 114px,#d4ff2b 115px,#efff10 116px,#e0ff1f 118px,#c2ff3d 120px,#ffff00 125px,#ffd200 129px,#fffc00 136px,#ffeb00 140px,#f7ff08 142px,#c9ff36 144px,#d5ff2a 146px,#fff300 149px,#ffd200 154px,#ffd300 160px,#f6ff09 163px,#c7ff38 166px,#deff21 169px,#e7ff18 171px,#caff35 172px,#8bff74 173px,#00feff 174px,#006cff 175px,#51ffae 176px,#a9ff56 177px,#cbff34 178px,#c5ff3a 179px,#90ff6f 181px,#9aff65 182px,#dfff20 185px,#fff200 187px,#ff6400 190px,#ff1800 193px,#fb0000 196px,#ff0e00 197px,#ffc700 202px,#ffff00 203px,#98ff67 204px,#00cdff 205px,#00ceff 206px,#9fff60 207px,#fffa00 208px,#ffb600 209px,#ff9900 210px,#ffa000 214px,#ffd300 215px,#d7ff28 216px,#6cff93 217px,#0067ff 218px,#00f1ff 219px,#b7ff48 220px,#ffce00 221px,#ff3e00 223px,#ff0f00 225px,#ff0a00 228px,#ff1600 229px,#ff3e00 230px,#ff8900 231px,#fffe00 232px,#54ffab 233px,#00e6ff 234px,#88ff77 235px,#d3ff2c 236px,#fcff03 237px,#ffe000 239px,#feff01 245px,#ffd800 247px,#ff7600 250px,#ff6400 251px,#ff6900 252px,#ff8900 253px,#ffd800 254px,#c8ff37 255px,#ffc100 256px,#ff6b00 258px)"></i><i style="background:linear-gradient(90deg,#ffbf00 0,#ffaf00 3px,#ffd400 5px,#fffb00 6px,#bfff40 8px,#b6ff49 9px,#ccff33 10px,#f9ff06 11px,#ffbc00 13px,#ffaa00 14px,#ffac00 15px,#ffc200 16px,#fffa00 17px,#9eff61 18px,#0cfff3 19px,#adff52 20px,#ffd200 21px,#ff9600 22px,#ff8500 23px,#ffa700 31px,#ff9100 39px,#ffbc00 41px,#fff200 42px,#6bff94 44px,#13ffec 45px,#08fff7 46px,#cbff34 48px,#ffea00 49px,#ffbf00 50px,#ffaf00 52px,#ffbb00 54px,#fff600 56px,#ebff14 58px,#ffff00 60px,#e1ff1e 62px,#a0ff5f 64px,#a2ff5d 66px,#beff41 67px,#ffee00 68px,#ff7f00 69px,#ff2c00 70px,#f50000 71px,#d30000 75px,#d60000 76px,#f40000 77px,#ff5600 81px,#ff6000 84px,#ff7400 87px,#ffe000 94px,#fffb00 95px,#d5ff2a 96px,#77ff88 97px,#00a6ff 98px,#00b0ff 99px,#8cff73 100px,#e4ff1b 101px,#ffe800 102px,#ffce00 103px,#ffce00 106px,#faff05 108px,#47ffb8 111px,#1dffe2 112px,#55ffaa 113px,#dbff24 115px,#f6ff09 116px,#f5ff0a 118px,#deff21 121px,#feff01 125px,#ffce00 129px,#ffe400 133px,#fdff02 136px,#ffed00 140px,#efff10 142px,#b4ff4b 144px,#b2ff4d 145px,#fffe00 148px,#ffce00 152px,#ffd300 160px,#f6ff09 163px,#d8ff27 166px,#f1ff0e 170px,#eaff15 171px,#ccff33 172px,#94ff6b 173px,#2fffd0 174px,#00f4ff 175px,#63ff9c 176px,#acff53 177px,#ceff31 178px,#bbff44 182px,#fff600 186px,#ff8600 189px,#ff3900 191px,#fe0000 194px,#f10000 196px,#fe0000 197px,#ffb300 202px,#ffef00 203px,#a4ff5b 204px,#00caff 205px,#00e2ff 206px,#a7ff58 207px,#fff600 208px,#ffb600 209px,#ff9900 210px,#ffa600 214px,#ffd900 215px,#d3ff2c 216px,#70ff8f 217px,#009cff 218px,#10ffef 219px,#c3ff3c 220px,#ffc500 221px,#ff3700 223px,#ff0600 225px,#ff0200 228px,#ff0e00 229px,#ff3600 230px,#ff8000 231px,#fff700 232px,#44ffbb 233px,#0058ff 234px,#82ff7d 235px,#d6ff29 236px,#fffe00 237px,#ffde00 239px,#f6ff09 244px,#fffb00 246px,#ff7800 250px,#ff6500 251px,#ff6a00 252px,#ff8f00 253px,#fff400 254px,#00e2ff 255px,#ffe900 256px,#ff7700 258px)"></i><i style="background:linear-gradient(90deg,#ffb200 0,#ffaf00 3px,#ffd100 5px,#ecff13 7px,#d5ff2a 8px,#d3ff2c 9px,#fff900 11px,#ffaf00 14px,#ffc700 16px,#fff800 17px,#7aff85 19px,#bdff42 20px,#ffe700 21px,#ffb400 22px,#ff9200 25px,#ffa500 33px,#ff8c00 39px,#ffc000 41px,#fff200 42px,#4affb5 45px,#4bffb4 46px,#d5ff2a 48px,#ffe900 49px,#ffc100 50px,#ffaf00 52px,#ffb800 54px,#fff800 57px,#ffff00 61px,#99ff66 66px,#a1ff5e 67px,#fff900 68px,#ff7e00 69px,#ff2900 70px,#f10000 71px,#d10000 75px,#d40000 76px,#f80000 77px,#ff4800 80px,#ff6500 83px,#ff5c00 85px,#ff9200 88px,#ffdf00 91px,#ffeb00 94px,#feff01 95px,#d5ff2a 96px,#7cff83 97px,#00ccff 98px,#00d8ff 99px,#93ff6c 100px,#e7ff18 101px,#ffe600 102px,#ffca00 103px,#ffca00 106px,#fcff03 108px,#70ff8f 111px,#60ff9f 112px,#b7ff48 114px,#e7ff18 115px,#fffd00 116px,#fff600 118px,#f0ff0f 124px,#ffee00 126px,#ffca00 129px,#ffd600 132px,#faff05 135px,#ffef00 140px,#fffc00 141px,#b8ff47 143px,#93ff6c 144px,#95ff6a 145px,#e6ff19 147px,#fff900 148px,#ffca00 151px,#ffd300 160px,#f4ff0b 163px,#e4ff1b 166px,#f9ff06 170px,#d4ff2b 172px,#66ff99 174px,#4bffb4 175px,#b6ff49 177px,#d5ff2a 178px,#d6ff29 182px,#fff900 185px,#ffa400 188px,#ff2f00 191px,#ff0600 193px,#e80000 196px,#ff0d00 198px,#ff7200 201px,#ffdc00 203px,#baff45 204px,#12ffed 205px,#2fffd0 206px,#b8ff47 207px,#fff100 208px,#ffb700 209px,#ff9900 210px,#ff9900 213px,#ffac00 214px,#ffde00 215px,#d7ff28 216px,#2effd1 218px,#65ff9a 219px,#dfff20 220px,#ffb600 221px,#ff2f00 223px,#ff0c00 224px,#f90000 228px,#ff0600 229px,#ff2f00 230px,#ff7600 231px,#ffe600 232px,#69ff96 233px,#00b8ff 234px,#8bff74 235px,#dcff23 236px,#fffa00 237px,#ffdc00 239px,#fbff04 243px,#e9ff16 245px,#f6ff09 246px,#ffc300 248px,#ff7a00 250px,#ff6500 251px,#ff6a00 252px,#ff8c00 253px,#ffeb00 254px,#12ffed 255px,#fff100 256px,#ff7c00 258px)"></i><i style="background:linear-gradient(90deg,#ffa100 0,#ffac00 4px,#fff500 7px,#e6ff19 9px,#ffef00 11px,#ffb400 14px,#ffc900 16px,#ffef00 17px,#c0ff3f 19px,#e1ff1e 20px,#ffeb00 21px,#ffa500 23px,#ff9000 26px,#ffad00 32px,#ff8900 38px,#ffa400 40px,#fff300 42px,#6bff94 45px,#71ff8e 46px,#dfff20 48px,#ffe700 49px,#ffaf00 51px,#ffb600 54px,#ffee00 58px,#f9ff06 62px,#b9ff46 65px,#7fff80 66px,#71ff8e 67px,#fbff04 68px,#ff7b00 69px,#ff2600 70px,#ed0000 71px,#cf0000 75px,#d70000 76px,#ff0000 77px,#ff4300 79px,#ff5900 83px,#ff6900 84px,#ff5900 85px,#ffa000 88px,#ffde00 89px,#f2ff0d 90px,#e9ff16 91px,#fff400 94px,#fcff03 95px,#daff25 96px,#95ff6a 97px,#39ffc6 98px,#40ffbf 99px,#aaff55 100px,#f0ff0f 101px,#ffc600 103px,#ffc700 106px,#ffff00 108px,#a7ff58 110px,#8cff73 111px,#8bff74 112px,#f5ff0a 115px,#ffe600 118px,#f3ff0c 122px,#edff12 124px,#fff000 126px,#ffc600 129px,#ffd400 132px,#fffb00 134px,#e4ff1b 136px,#fff300 139px,#fdff02 141px,#daff25 142px,#61ff9e 144px,#6aff95 145px,#e5ff1a 147px,#fff400 148px,#ffc900 150px,#ffc800 159px,#fff800 162px,#e3ff1c 165px,#fffe00 170px,#deff21 172px,#94ff6b 174px,#85ff7a 175px,#dfff20 178px,#fff900 184px,#ff9600 188px,#ff2600 191px,#fd0000 193px,#e10000 196px,#fd0000 198px,#ff5d00 201px,#ffc600 203px,#daff25 204px,#6dff92 205px,#7fff80 206px,#d9ff26 207px,#ffe900 208px,#ffb700 209px,#ff9b00 210px,#ff9900 213px,#ffb000 214px,#ffe200 215px,#e8ff17 216px,#8bff74 218px,#afff50 219px,#fffc00 220px,#ff5f00 222px,#ff0300 224px,#ed0000 227px,#fe0000 229px,#ff2700 230px,#ff6900 231px,#ffce00 232px,#acff53 233px,#50ffaf 234px,#a7ff58 235px,#e6ff19 236px,#fff400 237px,#ffda00 239px,#f2ff0d 243px,#d6ff29 245px,#fffa00 247px,#ff7d00 250px,#ff6600 251px,#ff6600 252px,#ff8000 253px,#ffc200 254px,#e3ff1c 255px,#ffcd00 256px,#ff7600 258px)"></i><i style="background:linear-gradient(90deg,#ff8e00 0,#ff9800 4px,#fff600 9px,#ffc900 12px,#ffac00 14px,#ffbc00 16px,#fff500 18px,#fbff04 19px,#ffce00 21px,#ff8b00 24px,#ff9300 28px,#ffb100 32px,#ff8d00 37px,#ffaa00 40px,#ffe800 42px,#ddff22 43px,#7aff85 45px,#82ff7d 46px,#e7ff18 48px,#ffe400 49px,#ffb100 51px,#ffb500 54px,#ffe600 59px,#f9ff06 63px,#e3ff1c 64px,#baff45 65px,#50ffaf 66px,#24ffdb 67px,#f9ff06 68px,#ff7600 69px,#ff2100 70px,#e90000 71px,#cd0000 75px,#ff0a00 77px,#ff5400 79px,#ff4f00 83px,#ff9d00 87px,#ffd100 88px,#dfff20 89px,#a4ff5b 90px,#abff54 91px,#f4ff0b 93px,#ffff00 95px,#e6ff19 96px,#89ff76 98px,#8fff70 99px,#fdff02 101px,#ffc300 103px,#ffc700 106px,#fffe00 108px,#afff50 110px,#9dff62 111px,#c0ff3f 113px,#fffb00 115px,#ffd800 118px,#f7ff08 122px,#e5ff1a 124px,#fff400 126px,#ffc200 129px,#ffd400 132px,#f8ff07 134px,#cbff34 136px,#fffa00 139px,#f8ff07 141px,#cfff30 142px,#7dff82 143px,#0efff1 144px,#2effd1 145px,#a3ff5c 146px,#e7ff18 147px,#ffec00 148px,#ffbd00 150px,#ffc600 159px,#fffc00 162px,#dbff24 164px,#fff500 169px,#feff01 171px,#b8ff47 174px,#b0ff4f 175px,#f4ff0b 179px,#fff500 183px,#ffc300 186px,#ff0800 192px,#db0000 196px,#ff0a00 199px,#ff7600 202px,#ffae00 203px,#fffc00 204px,#bbff44 205px,#c4ff3b 206px,#fcff03 207px,#ffb200 209px,#ff9900 211px,#ff9d00 213px,#fdff02 216px,#cbff34 218px,#e8ff17 219px,#ffd900 220px,#ff5300 222px,#ff1f00 223px,#fa0000 224px,#e70000 227px,#f70000 229px,#ff2000 230px,#ff5c00 231px,#ecff13 233px,#afff50 234px,#f6ff09 236px,#ffda00 239px,#feff01 242px,#b9ff46 245px,#c4ff3b 246px,#edff12 247px,#ffa900 249px,#ff6700 251px,#ff6100 252px,#ff7000 253px,#ffba00 255px,#ff9c00 256px,#ff6800 258px)"></i><i style="background:linear-gradient(90deg,#ff7b00 0,#ff8100 4px,#ffd600 9px,#ff9500 14px,#ffb000 17px,#ffc800 19px,#ff7000 24px,#ff7c00 28px,#ffa100 32px,#ff8100 37px,#ff9400 40px,#ffd300 42px,#f2ff0d 43px,#85ff7a 45px,#8aff75 46px,#edff12 48px,#ffc500 50px,#ffaf00 52px,#fffa00 63px,#ecff13 64px,#b7ff48 65px,#13ffec 66px,#00e9ff 67px,#fffb00 68px,#ff6e00 69px,#ff1d00 70px,#e60000 71px,#cc0000 75px,#e40000 76px,#ff1700 77px,#ff7000 79px,#ff4600 82px,#ff5600 84px,#ff9700 86px,#feff01 88px,#3effc1 90px,#65ff9a 91px,#b8ff47 92px,#e9ff16 93px,#fffd00 94px,#f6ff09 96px,#c3ff3c 98px,#c7ff38 99px,#fff100 101px,#ffc000 103px,#ffc600 106px,#fffe00 108px,#afff50 110px,#a2ff5d 111px,#d1ff2e 113px,#f2ff0d 114px,#ffce00 117px,#ffde00 120px,#f6ff09 122px,#d7ff28 124px,#fffb00 126px,#ffc100 129px,#ffd600 132px,#fff000 133px,#eaff15 134px,#bcff43 135px,#a5ff5a 136px,#b9ff46 137px,#feff01 139px,#f7ff08 141px,#caff35 142px,#64ff9b 143px,#006fff 144px,#00f2ff 145px,#a3ff5c 146px,#f1ff0e 147px,#ffbf00 149px,#ffab00 151px,#ffb900 158px,#ffe500 161px,#fdff02 162px,#cbff34 164px,#e4ff1b 166px,#fff700 168px,#fff800 171px,#d0ff2f 175px,#fffd00 179px,#ffcb00 185px,#ff5d00 189px,#ff0000 192px,#d50000 196px,#fe0000 199px,#ff6200 202px,#fdff02 205px,#ffff00 206px,#ffa300 209px,#ff9900 212px,#ffd100 215px,#ffff00 217px,#fbff04 218px,#ffea00 219px,#ff1700 223px,#f20000 224px,#e10000 227px,#f10000 229px,#ff1800 230px,#ff9500 232px,#ffdc00 233px,#f3ff0c 234px,#ffd900 239px,#f5ff0a 242px,#91ff6e 245px,#99ff66 246px,#ffef00 248px,#ff8700 250px,#ff5b00 252px,#ff7f00 255px,#ff5500 258px)"></i><i style="background:linear-gradient(90deg,#ff6500 0,#ff6000 3px,#ff9f00 7px,#ffbb00 9px,#ff7900 15px,#ff9500 19px,#ff5400 24px,#ff6400 28px,#ff9100 32px,#ff6900 37px,#ff7d00 40px,#ffbc00 42px,#fff800 43px,#83ff7c 45px,#8aff75 46px,#f9ff06 48px,#ffc100 50px,#ffaf00 53px,#ffde00 60px,#fff100 63px,#f3ff0c 64px,#baff45 65px,#1bffe4 66px,#47ffb8 67px,#ffe300 68px,#ff6300 69px,#ff1800 70px,#e50000 71px,#ca0000 75px,#ec0000 76px,#ff2800 77px,#ff6e00 78px,#ff9d00 79px,#ff4500 82px,#ff4d00 84px,#ff8f00 86px,#f0ff0f 88px,#6fff90 89px,#00a2ff 90px,#24ffdb 91px,#a9ff56 92px,#e4ff1b 93px,#fffc00 94px,#fff800 96px,#f1ff0e 99px,#ffe000 101px,#ffb600 104px,#ffc600 106px,#ffff00 108px,#a6ff59 110px,#9bff64 111px,#ffff00 114px,#ffc400 117px,#ffd700 120px,#f2ff0d 122px,#cfff30 123px,#c1ff3e 124px,#d2ff2d 125px,#f9ff06 126px,#ffc100 129px,#ffc500 131px,#fff700 133px,#d9ff26 134px,#94ff6b 135px,#69ff96 136px,#90ff6f 137px,#d2ff2d 138px,#f9ff06 139px,#fbff04 141px,#d0ff2f 142px,#6cff93 143px,#00a1ff 144px,#1bffe4 145px,#b8ff47 146px,#fffb00 147px,#ffae00 149px,#ff9a00 151px,#ffb000 158px,#ffc900 160px,#f8ff07 162px,#b2ff4d 164px,#baff45 165px,#f5ff0a 167px,#ffeb00 170px,#efff10 176px,#ffe500 181px,#ffbf00 185px,#ff5600 189px,#f90000 192px,#d10000 196px,#f70000 199px,#ff2c00 201px,#ffcb00 205px,#ffcc00 206px,#ff8c00 210px,#ff9d00 213px,#ffe000 217px,#ffdf00 218px,#ff9f00 220px,#ff0f00 223px,#e10000 225px,#e10000 228px,#ff1000 230px,#ffb100 233px,#ffd900 234px,#ffdf00 236px,#ffd900 239px,#fff700 241px,#c5ff3a 243px,#59ffa6 245px,#5cffa3 246px,#faff05 248px,#ff8d00 250px,#ff5500 252px,#ff5100 256px,#ff4300 258px)"></i><i style="background:linear-gradient(90deg,#ff4d00 0,#ff4800 3px,#ff7200 6px,#ffa800 9px,#ff7f00 12px,#ff5d00 15px,#ff5f00 20px,#ff3700 25px,#ff5f00 29px,#ff8400 32px,#ff5000 37px,#ff6400 40px,#ffa500 42px,#ffe400 43px,#caff35 44px,#71ff8e 45px,#7aff85 46px,#c8ff37 47px,#fffa00 48px,#ffce00 49px,#ffab00 51px,#ffbc00 55px,#ffe800 63px,#fdff02 64px,#cbff34 65px,#75ff8a 66px,#b1ff4e 67px,#ffc200 68px,#ff5600 69px,#ff1200 70px,#d50000 72px,#d00000 75px,#f50000 76px,#ff3a00 77px,#ffe600 79px,#ff6600 81px,#ff4500 82px,#ff3b00 83px,#ff5c00 85px,#ffba00 87px,#f8ff07 88px,#70ff8f 89px,#0028ff 90px,#0cfff3 91px,#a6ff59 92px,#e6ff19 93px,#fff600 94px,#ffe600 96px,#ffec00 99px,#ffb200 104px,#ffc400 106px,#fcff03 108px,#93ff6c 110px,#88ff77 111px,#fff700 114px,#ffc500 116px,#ffc000 119px,#ffed00 121px,#e9ff16 122px,#b6ff49 123px,#9dff62 124px,#b6ff49 125px,#eaff15 126px,#ffec00 127px,#ffc200 129px,#ffc500 131px,#fffb00 133px,#cbff34 134px,#00feff 136px,#c4ff3b 138px,#f7ff08 139px,#fff200 140px,#fffa00 141px,#e1ff1e 142px,#51ffae 144px,#7eff81 145px,#ddff22 146px,#ffe400 147px,#ff9e00 149px,#ff8b00 152px,#ffa700 158px,#ffc100 160px,#f4ff0b 162px,#8bff74 164px,#99ff66 165px,#f0ff0f 167px,#ffea00 169px,#fffc00 176px,#ffb400 185px,#ff5000 189px,#f60000 192px,#d20000 195px,#e20000 198px,#ff0500 200px,#ff9c00 205px,#ff8a00 208px,#ff7f00 211px,#ffc700 217px,#ffaf00 219px,#ff0800 223px,#db0000 225px,#e80000 229px,#ff0700 230px,#ffb100 234px,#ffcc00 237px,#ffe600 240px,#fffe00 241px,#b4ff4b 243px,#6aff95 244px,#0afff5 245px,#00faff 246px,#81ff7e 247px,#e6ff19 248px,#ffca00 249px,#ff6a00 251px,#ff4300 253px,#ff3400 258px)"></i><i style="background:linear-gradient(90deg,#ff3500 0,#ff3000 3px,#ff5d00 6px,#ff9d00 9px,#ff8200 11px,#ff4800 14px,#ff3200 21px,#ff1e00 25px,#ff3900 28px,#ff7d00 32px,#ff3700 37px,#ff4b00 40px,#ff8c00 42px,#ffcf00 43px,#d2ff2d 44px,#48ffb7 45px,#57ffa8 46px,#caff35 47px,#ffee00 48px,#ffc100 49px,#ffa000 51px,#ffbd00 56px,#ffde00 63px,#fff300 64px,#caff35 66px,#feff01 67px,#ff4800 69px,#ff0d00 70px,#d30000 72px,#c90000 74px,#d60000 75px,#fd0000 76px,#ff4900 77px,#ffc400 78px,#89ff76 79px,#ffcf00 80px,#ff7100 81px,#ff4500 82px,#ff3500 83px,#ff5100 85px,#ffab00 87px,#fff100 88px,#9dff62 89px,#1dffe2 90px,#4dffb2 91px,#b8ff47 92px,#f1ff0e 93px,#ffd400 96px,#ffbe00 101px,#ffb200 105px,#faff05 108px,#73ff8c 110px,#62ff9d 111px,#e0ff1f 113px,#fff100 114px,#ffbd00 116px,#ffba00 119px,#ffef00 121px,#deff21 122px,#95ff6a 123px,#65ff9a 124px,#8eff71 125px,#d8ff27 126px,#fff500 127px,#ffc400 129px,#ffc500 131px,#fffc00 133px,#c6ff39 134px,#45ffba 135px,#0000c2 136px,#2fffd0 137px,#beff41 138px,#f9ff06 139px,#ffea00 140px,#f7ff08 142px,#afff50 144px,#c5ff3a 145px,#fcff03 146px,#ff9a00 149px,#ff8900 153px,#ffaa00 159px,#ffdc00 161px,#f1ff0e 162px,#4affb5 164px,#66ff99 165px,#b8ff47 166px,#eaff15 167px,#fff700 168px,#ffe400 171px,#ffec00 176px,#ffab00 185px,#ff6b00 188px,#ff0e00 191px,#d50000 194px,#d50000 197px,#fe0000 200px,#ff7400 205px,#ff7000 211px,#ffb300 217px,#ff9d00 219px,#ff0100 223px,#d60000 225px,#e40000 229px,#ff0000 230px,#ff9200 234px,#fbff04 241px,#a7ff58 243px,#50ffaf 244px,#00adff 245px,#0058ff 246px,#5effa1 247px,#d5ff2a 248px,#ffd400 249px,#ff6c00 251px,#ff3b00 253px,#ff2800 258px)"></i><i style="background:linear-gradient(90deg,#ff1f00 0,#ff1b00 3px,#ff4d00 6px,#ff9f00 9px,#ff9800 10px,#ff3300 14px,#ff0900 25px,#ff2900 28px,#ff7500 31px,#ff8000 32px,#ff2300 37px,#ff3400 40px,#ff7500 42px,#ffb900 43px,#deff21 44px,#0efff1 45px,#24ffdb 46px,#ceff31 47px,#ffe200 48px,#ffb400 49px,#ff9500 51px,#ffc700 60px,#ffe100 64px,#fff500 66px,#ffc800 67px,#ff3b00 69px,#ff0800 70px,#d10000 72px,#c80000 74px,#ff0400 76px,#ff5000 77px,#ffd600 78px,#0000fd 79px,#ffe600 80px,#ff7600 81px,#ff4500 82px,#ff3100 83px,#ff4700 85px,#ff9800 87px,#ffd400 88px,#d9ff26 89px,#98ff67 90px,#9fff60 91px,#fffa00 93px,#ffcb00 95px,#ffa800 104px,#ffc000 106px,#f7ff08 108px,#a9ff56 109px,#42ffbd 110px,#1fffe0 111px,#8dff72 112px,#dcff23 113px,#ffef00 114px,#ffb800 116px,#ffb800 119px,#fff300 121px,#d1ff2e 122px,#01fffe 124px,#57ffa8 125px,#c3ff3c 126px,#feff01 127px,#ffc700 129px,#ffc500 131px,#fff700 133px,#d0ff2f 134px,#5fffa0 135px,#00bcff 136px,#48ffb7 137px,#c4ff3b 138px,#fbff04 139px,#ffe900 140px,#f1ff0e 143px,#e7ff18 144px,#f5ff0a 145px,#ff9900 149px,#ff8900 153px,#ffbc00 160px,#f0ff0f 162px,#85ff7a 163px,#00d0ff 164px,#19ffe6 165px,#a6ff59 166px,#e5ff1a 167px,#fff800 168px,#ffe000 171px,#ffd400 178px,#ff9500 186px,#ff0b00 191px,#cf0000 195px,#ea0000 199px,#ff0b00 201px,#ff5300 205px,#ff6900 212px,#ffa600 217px,#ff9300 219px,#fb0000 223px,#d20000 225px,#e00000 229px,#f70000 230px,#ff9300 235px,#f5ff0a 241px,#9fff60 243px,#49ffb6 244px,#00b4ff 245px,#006dff 246px,#56ffa9 247px,#ccff33 248px,#ffdb00 249px,#ff6f00 251px,#ff3600 253px,#ff1e00 256px,#ff2000 258px)"></i><i style="background:linear-gradient(90deg,#ff0d00 0,#ff0a00 3px,#ff2500 5px,#ffb300 9px,#ffa600 10px,#ff3800 13px,#ff0f00 16px,#fe0000 26px,#ff3c00 29px,#ff8100 31px,#ff9200 32px,#ff5a00 34px,#ff1300 37px,#ff1f00 40px,#ff5f00 42px,#ffa200 43px,#f8ff07 44px,#2bffd4 45px,#2bffd4 46px,#ddff22 47px,#ffd300 48px,#ffa500 49px,#ff8900 51px,#ffc000 59px,#ffd100 65px,#ffc500 66px,#ff6700 68px,#ff0300 70px,#d00000 72px,#cc0000 74px,#ff0700 76px,#ff4c00 77px,#ffb800 78px,#bdff42 79px,#ffce00 80px,#ff7000 81px,#ff4100 82px,#ff2b00 83px,#ff3c00 85px,#ffb400 88px,#ffed00 89px,#e4ff1b 91px,#fffe00 92px,#ffba00 95px,#ffa200 104px,#ffbe00 106px,#f5ff0a 108px,#9fff60 109px,#06fff9 110px,#00a0ff 111px,#77ff88 112px,#d6ff29 113px,#fff000 114px,#ffb700 116px,#ffb800 119px,#fff700 121px,#c7ff38 122px,#45ffba 123px,#000fff 124px,#1fffe0 125px,#b0ff4f 126px,#f4ff0b 127px,#ffcb00 129px,#ffc300 131px,#ffec00 133px,#e6ff19 134px,#62ff9d 136px,#87ff78 137px,#d1ff2e 138px,#feff01 139px,#ffe200 141px,#fff200 144px,#ff8d00 150px,#ff9400 154px,#ffc300 160px,#eeff11 162px,#84ff7b 163px,#0088ff 164px,#00edff 165px,#a1ff5e 166px,#e5ff1a 167px,#fff700 168px,#ffde00 171px,#ffc200 180px,#ff9400 186px,#ff4700 189px,#ff0900 191px,#cf0000 195px,#ff0400 201px,#ff3d00 206px,#ff5900 212px,#ffa400 218px,#ff7000 220px,#ff1900 222px,#f80000 223px,#ce0000 225px,#dd0000 229px,#ff0c00 231px,#ff9900 236px,#ffef00 240px,#f0ff0f 241px,#9eff61 243px,#09fff6 245px,#00fcff 246px,#cdff32 248px,#ffdf00 249px,#ff7300 251px,#ff3300 253px,#ff1800 256px,#ff1b00 258px)"></i><i style="background:linear-gradient(90deg,#fc0000 0,#ff0800 4px,#ff3e00 6px,#ffe000 9px,#ffc700 10px,#ff5200 12px,#ff1500 14px,#f60000 17px,#ea0000 25px,#ff0100 27px,#ff3a00 29px,#ff9b00 31px,#ffb800 32px,#ff9900 33px,#ff3700 35px,#ff0600 37px,#ff0100 39px,#ff2500 41px,#ff4900 42px,#ff8600 43px,#ffdd00 44px,#a1ff5e 45px,#91ff6e 46px,#fdff02 47px,#ffbd00 48px,#ff9400 49px,#ff7b00 51px,#ffba00 59px,#ffb200 65px,#ff7c00 67px,#fe0000 70px,#d20000 72px,#d10000 74px,#ff0500 76px,#ffc100 79px,#ff9b00 80px,#ff5f00 81px,#ff2500 83px,#ff3100 85px,#ff9300 88px,#ffd900 90px,#ffe100 91px,#ff9e00 96px,#ff9a00 104px,#ffd400 107px,#fbff04 108px,#a2ff5d 109px,#00fbff 110px,#0045ff 111px,#71ff8e 112px,#d6ff29 113px,#ffee00 114px,#ffb600 116px,#ffb900 119px,#fff900 121px,#c7ff38 122px,#4cffb3 123px,#006dff 124px,#1dffe2 125px,#aaff55 126px,#efff10 127px,#ffcd00 129px,#ffbf00 131px,#ffe000 133px,#fbff04 134px,#b3ff4c 136px,#c0ff3f 137px,#fff600 139px,#ffd900 141px,#ffd000 145px,#ff8d00 150px,#ff9b00 154px,#ffc200 158px,#ffca00 160px,#f3ff0c 162px,#a1ff5e 163px,#32ffcd 164px,#41ffbe 165px,#b1ff4e 166px,#eeff11 167px,#ffe000 169px,#ffb600 181px,#ff9600 186px,#ff4900 189px,#ff0800 191px,#d30000 194px,#df0000 198px,#ff0700 202px,#ff5500 213px,#ffac00 218px,#ff9c00 219px,#ff1700 222px,#f50000 223px,#ce0000 225px,#da0000 229px,#ff0300 231px,#fff000 240px,#ccff33 242px,#4bffb4 245px,#4effb1 246px,#d7ff28 248px,#ffdf00 249px,#ff4e00 252px,#ff1700 255px,#ff1800 258px)"></i><i style="background:linear-gradient(90deg,#f10000 0,#f20000 3px,#fe0000 4px,#ff3c00 6px,#ff7400 7px,#ffcb00 8px,#c4ff3b 9px,#fffc00 10px,#ff9100 11px,#ff5200 12px,#ff0b00 14px,#dc0000 22px,#eb0000 26px,#ff1300 28px,#ff7500 30px,#ffc500 31px,#fbff04 32px,#ffc300 33px,#ff6d00 34px,#ff1400 36px,#fd0000 37px,#f40000 39px,#ff1400 41px,#ff3400 42px,#ffac00 44px,#fff800 45px,#f6ff09 46px,#ff7e00 49px,#ff6d00 52px,#ffb000 58px,#ffa100 64px,#ff6100 67px,#fa0000 70px,#d10000 73px,#e50000 75px,#ff0100 76px,#ff7800 79px,#ff6a00 80px,#ff1c00 83px,#ff2500 85px,#ffa800 90px,#ffad00 92px,#ff8200 98px,#ff8e00 104px,#ffc900 107px,#fff600 108px,#b9ff46 109px,#44ffbb 110px,#02fffd 111px,#89ff76 112px,#e0ff1f 113px,#ffe900 114px,#ffb400 116px,#ffb900 119px,#fff500 121px,#d2ff2d 122px,#26ffd9 124px,#57ffa8 125px,#b5ff4a 126px,#f1ff0e 127px,#ffbe00 130px,#ffc700 132px,#f3ff0c 135px,#ebff14 137px,#fffd00 138px,#ffd000 141px,#ffb500 146px,#ff8c00 151px,#ffa400 154px,#ffd000 157px,#ffd100 160px,#fffd00 162px,#9aff65 164px,#99ff66 165px,#faff05 167px,#ffd900 169px,#ffbf00 178px,#ff8d00 187px,#ff0800 191px,#d30000 194px,#e80000 199px,#ff0a00 204px,#ff3700 212px,#ff6c00 215px,#ffc100 218px,#ffb200 219px,#ff1700 222px,#f40000 223px,#ce0000 225px,#d70000 229px,#fa0000 231px,#ffef00 240px,#cfff30 242px,#79ff86 245px,#81ff7e 246px,#e5ff1a 248px,#ffdb00 249px,#ff5000 252px,#ff1500 255px,#ff1700 258px)"></i><i style="background:linear-gradient(90deg,#e90000 0,#ec0000 3px,#ff1100 5px,#ff3b00 6px,#ff7a00 7px,#ffe700 8px,#00e2ff 9px,#c8ff37 10px,#ff9a00 11px,#ff5100 12px,#ff0500 14px,#d90000 19px,#dc0000 25px,#f70000 27px,#ff1200 28px,#ff3f00 29px,#ff8200 30px,#fff500 31px,#52ffad 32px,#fff600 33px,#ff7a00 34px,#ff3a00 35px,#ff1300 36px,#ed0000 38px,#ff0500 41px,#ff4b00 43px,#ffab00 45px,#ffba00 46px,#ff6600 49px,#ff5c00 52px,#ffa700 58px,#ff9600 63px,#ff6600 66px,#ff0f00 69px,#e40000 71px,#d80000 74px,#f90000 76px,#ff4700 79px,#ff1200 84px,#ff3f00 87px,#ff7f00 90px,#ff8200 93px,#ff6c00 99px,#ff8a00 105px,#ffb900 107px,#ffe000 108px,#dfff20 109px,#98ff67 110px,#7bff84 111px,#f4ff0b 113px,#ffc000 115px,#ffad00 118px,#ffce00 120px,#ffee00 121px,#e4ff1b 122px,#a9ff56 123px,#82ff7d 124px,#94ff6b 125px,#fbff04 127px,#ffc700 129px,#ffbf00 131px,#fff700 136px,#ffbf00 143px,#ff8e00 151px,#ffad00 154px,#ffe700 157px,#ffdd00 161px,#f3ff0c 163px,#daff25 164px,#d8ff27 165px,#fff600 167px,#ffcf00 170px,#ffbf00 177px,#ffa400 184px,#ff9c00 187px,#ff0900 191px,#d30000 194px,#ff0300 207px,#ff3500 213px,#ff8700 216px,#ffeb00 218px,#ffd900 219px,#ff4900 221px,#ff1800 222px,#f50000 223px,#ce0000 225px,#d50000 229px,#ff0b00 232px,#ffec00 240px,#d6ff29 242px,#a2ff5d 244px,#a4ff5b 246px,#f4ff0b 248px,#ff5000 252px,#ff1500 255px,#ff1700 258px)"></i><i style="background:linear-gradient(90deg,#e40000 0,#e90000 3px,#ff0f00 5px,#ff7600 7px,#ffde00 8px,#54ffab 9px,#ddff22 10px,#ff9300 11px,#ff4d00 12px,#ff0100 14px,#d60000 18px,#da0000 25px,#f60000 27px,#ff1100 28px,#ff3f00 29px,#ff8300 30px,#fffe00 31px,#00c0ff 32px,#f8ff07 33px,#ff7e00 34px,#ff3b00 35px,#ff1200 36px,#ea0000 38px,#f90000 41px,#ff3000 43px,#ff7100 45px,#ff7d00 46px,#ff4500 50px,#ff5700 53px,#ff9d00 58px,#ff8300 63px,#ff3800 67px,#ff0700 69px,#d70000 73px,#ff0800 77px,#ff2500 79px,#ff0800 84px,#ff6600 91px,#ff5800 100px,#ff7800 105px,#ffc400 108px,#fff300 109px,#cfff30 111px,#ffee00 113px,#ffb600 115px,#ffa900 118px,#ffe300 121px,#faff05 122px,#bcff43 124px,#c6ff39 125px,#fff400 127px,#ffc600 129px,#ffce00 133px,#ffdc00 137px,#ff9100 151px,#ffb700 154px,#fff300 156px,#f9ff06 158px,#ffdb00 161px,#fffb00 165px,#ffcc00 171px,#ffb300 178px,#ffa600 184px,#ffba00 186px,#ffb500 187px,#ff9600 188px,#ff0a00 191px,#d30000 194px,#f30000 203px,#ff0c00 211px,#ff3c00 214px,#ff8900 216px,#ffd000 217px,#c5ff3a 218px,#e5ff1a 219px,#ffa600 220px,#ff4e00 221px,#ff1a00 222px,#f50000 223px,#cf0000 225px,#cb0000 228px,#ff0400 232px,#f9ff06 241px,#b5ff4a 244px,#beff41 246px,#fffc00 248px,#ff5000 252px,#ff1500 255px,#ff1700 258px)"></i><i style="background:linear-gradient(90deg,#e30000 0,#e80000 3px,#ff0c00 5px,#ff6600 7px,#fff800 9px,#ffd100 10px,#ff7c00 11px,#ff1b00 13px,#fc0000 14px,#d30000 18px,#d90000 25px,#f50000 27px,#ff0f00 28px,#ff7400 30px,#ffca00 31px,#e0ff1f 32px,#ffd300 33px,#ff7200 34px,#ff3700 35px,#ff1100 36px,#e80000 38px,#f00000 41px,#ff0100 42px,#ff4e00 46px,#ff3100 51px,#ff6d00 55px,#ff9400 58px,#ff6f00 63px,#ff0000 69px,#d90000 73px,#ff0d00 79px,#ff0500 85px,#ff4900 91px,#ff4200 100px,#ff6400 105px,#ffa400 108px,#ffe200 110px,#ffee00 111px,#ffa000 116px,#ffae00 119px,#f4ff0b 123px,#e6ff19 124px,#fffc00 126px,#ffc800 129px,#ffc500 138px,#ff9400 151px,#ffc200 154px,#edff12 156px,#ccff33 157px,#d1ff2e 158px,#ffef00 160px,#ffd400 162px,#ffd300 169px,#ffa700 179px,#ffa000 183px,#ffdf00 187px,#ffb600 188px,#ff3700 190px,#ff0d00 191px,#d40000 194px,#f10000 202px,#ef0000 209px,#ff0c00 212px,#ff3200 214px,#ff8a00 216px,#ffe500 217px,#2cffd3 218px,#9aff65 219px,#ffb300 220px,#ff5100 221px,#ff1a00 222px,#f60000 223px,#c80000 226px,#dc0000 230px,#fd0000 232px,#ff8200 237px,#fffd00 241px,#c5ff3a 244px,#d1ff2e 246px,#ffee00 248px,#ff4e00 252px,#ff1500 255px,#ff1700 258px)"></i><i style="background:linear-gradient(90deg,#e30000 0,#e80000 3px,#ff0800 5px,#ff9c00 9px,#ff8c00 10px,#ff1400 13px,#f90000 14px,#d20000 18px,#da0000 25px,#ff0c00 28px,#ffaf00 32px,#ff9400 33px,#ff2f00 35px,#f50000 37px,#e40000 40px,#ff0700 43px,#ff2a00 46px,#ff2000 51px,#ff6300 55px,#ff8c00 58px,#ff4e00 64px,#f80000 69px,#da0000 73px,#fa0000 81px,#ff0500 86px,#ff3400 91px,#ff2900 99px,#ff5d00 106px,#ffb800 111px,#ff9200 116px,#ffb500 120px,#fffa00 124px,#ffc900 129px,#ffb600 139px,#ff9700 151px,#ffcb00 154px,#fffa00 155px,#8fff70 157px,#97ff68 158px,#fffe00 160px,#ffce00 162px,#ffd200 171px,#ff9700 182px,#ffae00 184px,#f7ff08 186px,#d7ff28 187px,#ffe400 188px,#ff8100 189px,#ff3e00 190px,#ff0f00 191px,#dd0000 193px,#db0000 196px,#f60000 201px,#e20000 208px,#ff0200 212px,#ff2900 214px,#ff8400 216px,#ffe000 217px,#51ffae 218px,#b8ff47 219px,#ffa900 220px,#ff4d00 221px,#ff1900 222px,#f60000 223px,#ca0000 226px,#da0000 230px,#ff0d00 233px,#fff300 241px,#d4ff2b 244px,#e1ff1e 246px,#fbff04 247px,#ff3200 253px,#ff1200 256px,#ff1700 258px)"></i><i style="background:linear-gradient(90deg,#e50000 0,#f30000 4px,#ff0400 5px,#ff6200 9px,#ff3f00 11px,#f50000 14px,#d00000 19px,#dc0000 25px,#ff0600 28px,#ff6d00 32px,#ff4200 34px,#ff0a00 36px,#e30000 40px,#ff1000 46px,#ff1000 51px,#ff4300 54px,#ff8500 57px,#ff7500 60px,#ff0100 68px,#da0000 73px,#ff0700 87px,#ff2400 91px,#ff1500 99px,#ff5300 107px,#ff8a00 111px,#ff8500 117px,#ffe300 124px,#ffc900 129px,#ffbc00 136px,#ff9a00 151px,#ffb600 153px,#f5ff0a 155px,#a7ff58 156px,#36ffc9 157px,#3dffc2 158px,#a8ff57 159px,#efff10 160px,#ffcb00 162px,#ffbc00 165px,#ffda00 171px,#ff9100 181px,#ff9b00 183px,#ffb000 184px,#ffdd00 185px,#bbff44 186px,#3dffc2 187px,#e7ff18 188px,#ff8e00 189px,#ff4200 190px,#ff1100 191px,#de0000 193px,#e00000 196px,#ff0100 200px,#dc0000 208px,#ff0a00 213px,#ff4400 215px,#ff7400 216px,#f6ff09 218px,#ffe300 219px,#ff4200 221px,#ff1500 222px,#f60000 223px,#cc0000 226px,#e40000 231px,#ff0700 233px,#feff01 242px,#e1ff1e 244px,#fff600 247px,#ff4700 252px,#ff1400 255px,#ff1600 258px)"></i><i style="background:linear-gradient(90deg,#e70000 0,#f10000 4px,#ff1000 6px,#ff3a00 9px,#ff0300 13px,#d30000 18px,#de0000 25px,#ff0100 28px,#ff4200 32px,#f30000 37px,#e30000 41px,#fd0000 50px,#ff2200 53px,#ff8b00 57px,#ff8000 59px,#ff0500 67px,#da0000 74px,#f70000 86px,#ff1c00 91px,#ff0200 98px,#ff4500 108px,#ff6800 113px,#ff7d00 118px,#ffd100 124px,#ffca00 129px,#ffc700 134px,#ffa600 140px,#ffa700 147px,#ff9d00 151px,#ffb900 153px,#eeff11 155px,#95ff6a 156px,#00d5ff 157px,#00b9ff 158px,#86ff79 159px,#e1ff1e 160px,#ffe700 161px,#ffba00 163px,#ffbc00 166px,#ffe900 170px,#ff8900 181px,#ff9500 183px,#ffad00 184px,#ffdf00 185px,#9fff60 186px,#0070ff 187px,#e0ff1f 188px,#ff8c00 189px,#ff4000 190px,#ff1100 191px,#e00000 193px,#e70000 196px,#ff0c00 199px,#f00000 203px,#d80000 208px,#ff0300 213px,#ff5c00 216px,#ffa900 218px,#ff9700 219px,#ff0e00 222px,#d50000 225px,#d10000 229px,#ff0300 233px,#fff300 242px,#f0ff0f 245px,#fdff02 246px,#ff8100 250px,#ff2c00 253px,#ff1100 256px,#ff1500 258px)"></i><i style="background:linear-gradient(90deg,#e90000 0,#f70000 5px,#ff1c00 10px,#ec0000 14px,#d20000 20px,#ef0000 27px,#ff2500 32px,#f10000 37px,#e30000 42px,#ff0900 52px,#ff5f00 55px,#ff9e00 57px,#ff8500 59px,#ff2d00 63px,#fc0000 67px,#da0000 74px,#ea0000 85px,#ff0900 88px,#ff1a00 91px,#f50000 96px,#ff1300 104px,#ff6b00 118px,#ffc000 124px,#ffd200 133px,#ffa300 139px,#ffac00 147px,#ffa000 151px,#ffbb00 153px,#f1ff0e 155px,#a2ff5d 156px,#15ffea 157px,#00e5ff 158px,#83ff7c 159px,#dcff23 160px,#ffea00 161px,#ffb900 163px,#ffbb00 166px,#fffd00 170px,#ffe800 172px,#ff9700 178px,#ff8000 182px,#ffa100 184px,#ffcc00 185px,#e0ff1f 186px,#b6ff49 187px,#ffe200 188px,#ff7900 189px,#ff3800 190px,#ff0e00 191px,#df0000 194px,#ff0200 197px,#ff2000 200px,#f50000 203px,#d50000 207px,#ee0000 212px,#ff0e00 214px,#ff6b00 218px,#ff4400 220px,#ff0600 222px,#cf0000 226px,#e00000 231px,#ff0000 233px,#fff800 243px,#fff500 246px,#ff3c00 252px,#ff1100 255px,#ff1400 258px)"></i><i style="background:linear-gradient(90deg,#eb0000 0,#f20000 5px,#ff0300 11px,#d40000 19px,#ed0000 27px,#ff0e00 31px,#f70000 36px,#e20000 43px,#f30000 51px,#ff1900 53px,#ffc500 57px,#ffbb00 58px,#ff4c00 61px,#ff0a00 65px,#d80000 75px,#e80000 85px,#ff0b00 88px,#ff1f00 91px,#f30000 95px,#f40000 100px,#ff3b00 115px,#ffb500 125px,#ffe000 132px,#ffa100 139px,#ffb800 146px,#ffa300 151px,#ffd400 154px,#feff01 155px,#7cff83 157px,#64ff9b 158px,#e5ff1a 160px,#ffe800 161px,#ffb900 163px,#ffbf00 166px,#f6ff09 169px,#e4ff1b 170px,#fffc00 172px,#ffca00 174px,#ff7500 181px,#ff8b00 184px,#ffcb00 186px,#ffcc00 187px,#ff2b00 190px,#ff0800 191px,#e40000 194px,#fd0000 196px,#ff3c00 199px,#ff2800 201px,#fc0000 203px,#d50000 207px,#eb0000 212px,#ff0500 214px,#ff4000 218px,#fc0000 222px,#d00000 226px,#e00000 231px,#fd0000 233px,#ffc000 241px,#fff800 244px,#ffea00 246px,#ff3600 252px,#ff0f00 255px,#ff1300 258px)"></i><i style="background:linear-gradient(90deg,#ec0000 0,#f30000 6px,#f70000 11px,#d50000 20px,#ff0200 33px,#df0000 44px,#ef0000 51px,#ff0000 52px,#ff4000 54px,#ff7500 55px,#f0ff0f 57px,#fff400 58px,#ff6f00 60px,#ff1b00 63px,#f20000 67px,#d70000 77px,#e70000 85px,#ff0100 87px,#ff2d00 90px,#ff1100 93px,#f20000 95px,#ea0000 99px,#ff0400 106px,#ff2e00 116px,#ffb400 126px,#ffef00 132px,#ffa400 138px,#ffae00 142px,#ffc200 146px,#ffa600 151px,#ffcd00 154px,#ffee00 155px,#c3ff3c 157px,#b5ff4a 158px,#f7ff08 160px,#ffba00 163px,#ffb800 165px,#fffe00 168px,#b7ff48 170px,#c0ff3f 171px,#ffee00 173px,#ff7b00 179px,#ff6800 183px,#ff8900 186px,#ff8200 187px,#ff0100 191px,#ea0000 194px,#ff0d00 196px,#ff6600 199px,#ff6100 200px,#ff0700 203px,#d60000 207px,#f20000 213px,#ff2200 218px,#f40000 222px,#d00000 227px,#ed0000 232px,#ff0f00 234px,#fff100 244px,#ffe300 246px,#ff2f00 252px,#ff0d00 255px,#ff1100 258px)"></i><i style="background:linear-gradient(90deg,#ed0000 0,#ec0000 12px,#d80000 21px,#f50000 34px,#dc0000 48px,#fe0000 52px,#ff4100 54px,#ff7e00 55px,#ffe000 56px,#5bffa4 57px,#b0ff4f 58px,#ffc500 59px,#ff7500 60px,#ff2c00 62px,#ff0000 65px,#d60000 75px,#df0000 84px,#ff0600 87px,#ff4500 90px,#ff3600 92px,#f50000 95px,#e90000 99px,#ff0000 105px,#ff0c00 114px,#ff4f00 120px,#fffb00 131px,#ffff00 133px,#ffa600 138px,#ffb500 142px,#ffd300 145px,#ffa800 151px,#ffc500 154px,#f4ff0b 157px,#ebff14 158px,#fff100 160px,#ffbb00 163px,#ffbd00 165px,#ffec00 167px,#e7ff18 168px,#71ff8e 170px,#86ff79 171px,#fffe00 173px,#ff9200 177px,#ff5400 182px,#ff4f00 187px,#f90000 191px,#f10000 194px,#ff0300 195px,#ff4700 197px,#ffa600 199px,#ff9800 200px,#ff3300 202px,#f60000 204px,#d80000 207px,#f50000 214px,#ff0900 219px,#d10000 228px,#ed0000 232px,#ff1000 234px,#fff200 244px,#ffe100 246px,#ff3f00 251px,#ff0f00 254px,#ff1000 258px)"></i><i style="background:linear-gradient(90deg,#ef0000 0,#e60000 13px,#db0000 22px,#f00000 34px,#de0000 49px,#fe0000 52px,#ff4100 54px,#ff7c00 55px,#ffdf00 56px,#2effd1 57px,#90ff6f 58px,#ffcc00 59px,#ff7700 60px,#ff2b00 62px,#ff0000 65px,#d50000 75px,#df0000 84px,#ff0e00 87px,#ff6a00 90px,#ff7100 91px,#ff0200 95px,#ec0000 98px,#ff0800 104px,#f90000 113px,#ff2000 118px,#ffdf00 129px,#fff800 130px,#d7ff28 132px,#f7ff08 134px,#ffab00 138px,#ffb200 141px,#ffe900 145px,#ffac00 151px,#ffcc00 155px,#ffef00 158px,#ffbd00 164px,#ffda00 166px,#fffc00 167px,#ccff33 168px,#00f3ff 170px,#39ffc6 171px,#b0ff4f 172px,#f2ff0d 173px,#ff8b00 177px,#ff4500 182px,#ff2200 188px,#f70000 191px,#fc0000 194px,#ff3300 196px,#ff6800 197px,#ffbf00 198px,#eaff15 199px,#ffe600 200px,#ff8300 201px,#ff4500 202px,#fd0000 204px,#dc0000 207px,#fb0000 219px,#d20000 228px,#ef0000 232px,#ff1400 234px,#ffab00 241px,#ffff00 244px,#feff01 245px,#ffbf00 247px,#ff5300 250px,#ff1700 253px,#ff1000 258px)"></i><i style="background:linear-gradient(90deg,#f20000 0,#e90000 13px,#de0000 22px,#ed0000 34px,#da0000 48px,#fe0000 52px,#ff3b00 54px,#ff6c00 55px,#f1ff0e 57px,#fdff02 58px,#ff6f00 60px,#ff2c00 62px,#ff0300 65px,#d10000 76px,#e00000 84px,#fe0000 86px,#ff3800 88px,#ff9f00 90px,#ffb600 91px,#ff1500 95px,#fa0000 97px,#ff1800 104px,#f30000 109px,#ff0800 117px,#ff7000 124px,#f5ff0a 130px,#a7ff58 132px,#acff53 133px,#fffc00 135px,#ffb400 138px,#ffbe00 141px,#fffd00 144px,#feff01 146px,#ffb600 150px,#ffb600 154px,#ffd400 159px,#ffc200 164px,#f6ff09 167px,#b9ff46 168px,#3effc1 169px,#0000ab 170px,#06fff9 171px,#a3ff5c 172px,#eaff15 173px,#ffe500 174px,#ff9d00 176px,#ff4f00 180px,#fa0000 191px,#ff0900 194px,#ff4800 196px,#ff8500 197px,#ffff00 198px,#00d6ff 199px,#cdff32 200px,#ff9a00 201px,#ff5200 202px,#ff0600 204px,#de0000 208px,#f10000 219px,#d30000 228px,#ff0600 233px,#ff7d00 238px,#ffb500 241px,#feff01 243px,#daff25 244px,#dbff24 245px,#fffc00 246px,#ff6f00 249px,#ff2500 252px,#ff0e00 256px,#ff1300 258px)"></i><i style="background:linear-gradient(90deg,#f60000 0,#f30000 12px,#df0000 21px,#ef0000 33px,#d90000 48px,#fc0000 52px,#ff2f00 54px,#ffa800 57px,#ffa800 58px,#ff4100 61px,#ff0700 65px,#cd0000 76px,#e00000 84px,#ff0200 86px,#ff4400 88px,#ff8500 89px,#ffde00 90px,#d0ff2f 91px,#ffdd00 92px,#ff8700 93px,#ff2a00 95px,#ff0c00 97px,#ff3400 103px,#f50000 109px,#f60000 116px,#ff1d00 120px,#ff8d00 126px,#ffec00 129px,#e7ff18 130px,#5dffa2 132px,#5effa1 133px,#e8ff17 135px,#ffeb00 136px,#ffbf00 138px,#ffcc00 141px,#faff05 143px,#cbff34 145px,#f8ff07 147px,#ffbc00 150px,#ffaf00 154px,#ffc100 160px,#ffc400 164px,#f2ff0d 167px,#baff45 168px,#55ffaa 169px,#00e6ff 170px,#40ffbf 171px,#b0ff4f 172px,#eeff11 173px,#ffb300 175px,#ff5500 179px,#ff1900 186px,#ff0000 192px,#ff1300 194px,#ff5300 196px,#ff8e00 197px,#fffc00 198px,#7aff85 199px,#f0ff0f 200px,#ff9500 201px,#ff5400 202px,#ff0b00 204px,#e00000 209px,#e60000 220px,#d30000 228px,#ff0c00 233px,#ff8800 237px,#ffc900 241px,#fff100 242px,#d2ff2d 243px,#8eff71 244px,#9bff64 245px,#e7ff18 246px,#ffcc00 247px,#ff6d00 249px,#ff2600 252px,#ff1100 256px,#ff1600 258px)"></i><i style="background:linear-gradient(90deg,#fb0000 0,#ff0400 11px,#e20000 20px,#f40000 32px,#d50000 47px,#ff0800 53px,#ff6a00 57px,#ff6100 59px,#ff1400 64px,#e90000 69px,#c80000 78px,#e00000 84px,#ff0300 86px,#ff4700 88px,#ff8e00 89px,#feff01 90px,#00a7ff 91px,#ceff31 92px,#ffac00 93px,#ff6800 94px,#ff3e00 95px,#ff1f00 97px,#ff3a00 100px,#ff5700 103px,#fa0000 109px,#ec0000 115px,#ff1000 120px,#ff7e00 126px,#ffba00 128px,#ffe700 129px,#e0ff1f 130px,#92ff6d 131px,#00f4ff 132px,#00ccff 133px,#71ff8e 134px,#d0ff2f 135px,#fffb00 136px,#ffca00 138px,#ffcb00 140px,#fff800 142px,#a6ff59 144px,#8aff75 145px,#fff700 148px,#ffc000 150px,#ffa900 154px,#ffc300 164px,#f8ff07 167px,#92ff6d 169px,#71ff8e 170px,#90ff6f 171px,#fffc00 173px,#ff8c00 176px,#ff4000 180px,#ff0400 189px,#ff0c00 193px,#ff5200 196px,#ffbf00 198px,#ffe100 199px,#ffbc00 200px,#ff4a00 202px,#ff0c00 204px,#e20000 209px,#dd0000 221px,#d80000 229px,#fb0000 232px,#ff3000 234px,#ffb000 237px,#ffca00 239px,#ffe500 241px,#ecff13 242px,#97ff68 243px,#00d6ff 244px,#45ffba 245px,#d6ff29 246px,#ffce00 247px,#ff6c00 249px,#ff2700 252px,#ff1400 256px,#ff1900 258px)"></i><i style="background:linear-gradient(90deg,#ff0100 0,#ff1900 7px,#ff1400 11px,#ee0000 16px,#f60000 24px,#f70000 33px,#d00000 45px,#e50000 51px,#fe0000 53px,#ff4600 58px,#f60000 68px,#c70000 75px,#d50000 83px,#ff0100 86px,#ff4000 88px,#ff7e00 89px,#ffd400 90px,#b5ff4a 91px,#e4ff1b 92px,#ffb500 93px,#ff7600 94px,#ff4e00 95px,#ff3200 97px,#ff5a00 100px,#ff8700 102px,#ff8600 103px,#ff0f00 108px,#f10000 111px,#f40000 118px,#ff1f00 122px,#ff8a00 127px,#ffd800 129px,#eeff11 130px,#9cff63 131px,#00feff 132px,#0096ff 133px,#5effa1 134px,#c4ff3b 135px,#f8ff07 136px,#ffd400 138px,#ffd700 140px,#f2ff0d 142px,#b5ff4a 143px,#1bffe4 145px,#c4ff3b 147px,#fbff04 148px,#ffc300 150px,#ffa300 154px,#ffbf00 164px,#fff700 167px,#bfff40 170px,#cbff34 171px,#f3ff0c 172px,#ff8200 176px,#ff3000 181px,#ff0300 190px,#ff1b00 194px,#ff8500 198px,#ff9000 199px,#ff5b00 201px,#ff0a00 204px,#e40000 211px,#d40000 223px,#d90000 229px,#fe0000 232px,#ff3800 234px,#ffe300 237px,#f6ff09 238px,#fdff02 241px,#d4ff2b 242px,#7eff81 243px,#00daff 244px,#6cff93 245px,#e9ff16 246px,#ffc300 247px,#ff6800 249px,#ff2800 252px,#ff1700 256px,#ff1b00 258px)"></i><i style="background:linear-gradient(90deg,#ff0800 0,#ff1c00 5px,#ff3900 9px,#f80000 16px,#fc0000 23px,#ff1100 30px,#ec0000 36px,#cd0000 46px,#f30000 53px,#ff2b00 59px,#ff1100 66px,#e30000 70px,#c00000 77px,#da0000 84px,#fa0000 86px,#ff3200 88px,#ffc300 91px,#ffc600 92px,#ff5700 95px,#ff4300 97px,#ff5d00 99px,#ffcb00 102px,#ffc800 103px,#ff4900 106px,#ff0700 109px,#e80000 116px,#ff0800 121px,#ff5f00 126px,#ffc200 129px,#fff300 130px,#ccff33 131px,#78ff87 132px,#52ffad 133px,#ccff33 135px,#f8ff07 136px,#ffda00 138px,#ffe000 140px,#fff500 141px,#e3ff1c 142px,#9bff64 143px,#18ffe7 144px,#0000d8 145px,#4dffb2 146px,#b9ff46 147px,#f7ff08 148px,#ffb200 151px,#ff9c00 156px,#ffb700 164px,#f8ff07 169px,#f1ff0e 170px,#ffff00 171px,#ff6200 177px,#ff1e00 183px,#ff0500 191px,#ff2800 195px,#ff5a00 198px,#ff5300 200px,#ff0600 204px,#e60000 211px,#d20000 228px,#ff0100 232px,#ff3b00 234px,#ffb400 236px,#ecff13 237px,#92ff6d 238px,#daff25 240px,#e6ff19 241px,#a1ff5e 244px,#d3ff2c 245px,#ffea00 246px,#ff8500 248px,#ff3700 251px,#ff1800 255px,#ff1e00 258px)"></i><i style="background:linear-gradient(90deg,#ff1000 0,#ff3100 5px,#ff5f00 9px,#ff0500 16px,#ff0c00 23px,#ff2900 29px,#f90000 35px,#c90000 44px,#e10000 52px,#ff1000 57px,#ff2600 65px,#ff0200 68px,#c30000 74px,#c50000 82px,#ff0700 87px,#ff7b00 91px,#ff8600 92px,#ff4f00 96px,#ff5d00 98px,#ff7500 99px,#ffe300 101px,#c8ff37 102px,#d7ff28 103px,#ffcf00 104px,#ff5900 106px,#ff0d00 109px,#e80000 114px,#f70000 120px,#ff2800 124px,#ff8300 128px,#fffb00 131px,#bcff43 133px,#c6ff39 134px,#fffd00 136px,#ffdb00 139px,#fffa00 141px,#e0ff1f 142px,#9eff61 143px,#39ffc6 144px,#00f1ff 145px,#6fff90 146px,#c5ff3a 147px,#fdff02 148px,#ffbf00 150px,#ff9500 154px,#ffa500 163px,#ffe400 169px,#ffc100 172px,#ff4b00 178px,#ff0900 187px,#ff0d00 193px,#ff3900 199px,#f70000 205px,#ea0000 213px,#ce0000 227px,#ec0000 231px,#ff0100 232px,#ff3900 234px,#ffb100 236px,#e4ff1b 237px,#05fffa 238px,#36ffc9 239px,#acff53 240px,#daff25 241px,#f9ff06 244px,#ff5a00 249px,#ff2000 253px,#ff2000 258px)"></i><i style="background:linear-gradient(90deg,#ff1a00 0,#ff3900 4px,#ff8d00 8px,#ff8800 10px,#ff1d00 15px,#ff0b00 20px,#ff4a00 28px,#ff1e00 33px,#f80000 36px,#c60000 44px,#d90000 52px,#ff0900 58px,#ff3900 64px,#f50000 69px,#ba0000 75px,#bf0000 82px,#f80000 87px,#ff5900 92px,#ff5800 97px,#ff8600 99px,#ffbc00 100px,#eaff15 101px,#12ffed 102px,#75ff8a 103px,#ffea00 104px,#ff9a00 105px,#ff6200 106px,#ff1200 109px,#ec0000 113px,#f20000 120px,#ff0f00 123px,#ff6d00 128px,#ffe800 132px,#fffd00 134px,#ffd900 139px,#fff600 141px,#ebff14 142px,#8fff70 144px,#82ff7d 145px,#e4ff1b 147px,#fff000 148px,#ffb700 150px,#ff8d00 154px,#ff9900 163px,#ffbf00 169px,#ff9200 173px,#ff3c00 179px,#ff0200 190px,#ff1f00 199px,#f30000 205px,#e10000 219px,#cd0000 227px,#eb0000 231px,#fd0000 232px,#ff3300 234px,#ff9e00 236px,#fff500 237px,#62ff9d 238px,#00e8ff 239px,#8fff70 240px,#daff25 241px,#fcff03 242px,#ff4000 250px,#ff1c00 254px,#ff2200 258px)"></i><i style="background:linear-gradient(90deg,#ff2500 0,#ff4e00 4px,#ffad00 7px,#ffd500 8px,#ffe400 9px,#ff5600 13px,#ff2200 16px,#ff1a00 20px,#ff6200 26px,#ff7300 29px,#ff0300 36px,#c50000 43px,#ca0000 51px,#ff0b00 59px,#ff4f00 64px,#ff3e00 66px,#fa0000 69px,#bc0000 74px,#b40000 81px,#ea0000 87px,#ff1d00 90px,#ff4300 94px,#ff5900 97px,#ff8a00 99px,#f9ff06 101px,#9dff62 102px,#c9ff36 103px,#ffd600 104px,#ff6200 106px,#ff1500 109px,#f20000 112px,#e80000 119px,#ff0700 123px,#ff7000 129px,#ffc500 133px,#ffda00 140px,#fffe00 142px,#d3ff2c 144px,#d2ff2d 145px,#fff600 147px,#ffaa00 150px,#ff7f00 155px,#ff9000 164px,#ff9a00 170px,#ff2e00 181px,#fe0000 191px,#ff0800 200px,#ee0000 210px,#f30000 217px,#ca0000 226px,#e80000 231px,#ff0f00 233px,#ff5300 235px,#ffc500 237px,#d9ff26 238px,#8bff74 239px,#aaff55 240px,#eaff15 241px,#ffeb00 242px,#ff5900 248px,#ff1e00 253px,#ff2300 258px)"></i><i style="background:linear-gradient(90deg,#ff3000 0,#ff4d00 3px,#ff7d00 5px,#ffe600 7px,#bfff40 8px,#88ff77 9px,#e5ff1a 10px,#ffc400 11px,#ff6c00 13px,#ff3200 16px,#ff2b00 20px,#ff6000 24px,#ffb300 28px,#ff9c00 30px,#ff1f00 35px,#fc0000 37px,#bf0000 44px,#c80000 52px,#ff0800 59px,#ff7000 64px,#ff6f00 65px,#ff0000 69px,#bf0000 73px,#aa0000 80px,#dc0000 87px,#ff1200 91px,#ff5400 97px,#ff8100 99px,#ffe900 102px,#ffd700 103px,#ff5a00 106px,#ff0800 110px,#e30000 118px,#ff0a00 124px,#ffa500 134px,#ffd000 141px,#fff400 144px,#ffd100 147px,#ff8300 152px,#ff7200 160px,#ff7d00 170px,#ff0000 189px,#ef0000 209px,#ff0000 217px,#c90000 225px,#d90000 230px,#ff0700 233px,#ff6900 236px,#ffd800 238px,#f4ff0b 239px,#ecff13 240px,#fff200 241px,#ff8200 245px,#ff2800 251px,#ff1d00 256px,#ff2300 258px)"></i><i style="background:linear-gradient(90deg,#ff3c00 0,#ff5b00 3px,#ff8e00 5px,#fbff04 7px,#00f5ff 9px,#c3ff3c 10px,#ffd600 11px,#ff7a00 13px,#ff4100 16px,#ff3d00 20px,#ff6700 23px,#ffc600 26px,#fff000 27px,#edff12 28px,#f7ff08 29px,#ff6400 33px,#ff0500 37px,#bb0000 44px,#c00000 52px,#ff0700 59px,#ff5900 62px,#ffa500 64px,#ffa400 65px,#ff0500 69px,#b30000 74px,#a40000 81px,#d80000 88px,#ff0a00 92px,#ff5900 98px,#ffa400 102px,#ff6800 105px,#ff1300 109px,#ec0000 113px,#e70000 120px,#ff0c00 125px,#ff8b00 135px,#ffc400 144px,#ff6600 154px,#ff6000 171px,#ff1b00 185px,#f50000 191px,#ee0000 208px,#ff1c00 215px,#f90000 219px,#c80000 225px,#d50000 230px,#fd0000 233px,#ff4f00 236px,#ffc200 239px,#ffd000 240px,#ff4000 248px,#ff1700 254px,#ff2200 258px)"></i><i style="background:linear-gradient(90deg,#ff4600 0,#ff7800 4px,#ffba00 6px,#ffe900 7px,#e1ff1e 8px,#d1ff2e 9px,#fdff02 10px,#ff9e00 12px,#ff5700 15px,#ff4700 19px,#ff6800 22px,#ffbf00 25px,#fff800 26px,#b5ff4a 27px,#39ffc6 28px,#6eff91 29px,#deff21 30px,#ffd800 31px,#ff7800 33px,#ff0c00 37px,#c70000 42px,#af0000 49px,#d60000 56px,#ff0500 59px,#ff6c00 62px,#fcff03 64px,#fffb00 65px,#ff9e00 66px,#ff2c00 68px,#ff0600 69px,#b70000 73px,#980000 79px,#bf0000 87px,#ff0300 93px,#ff7100 101px,#ff6100 104px,#ff0400 110px,#df0000 118px,#ff0400 125px,#ff7c00 137px,#ff9b00 144px,#ff4e00 155px,#ff4300 180px,#fa0000 189px,#df0000 202px,#ff0600 210px,#ff3900 215px,#f70000 220px,#c70000 225px,#cf0000 230px,#ff0500 234px,#ff8a00 239px,#ff9600 241px,#ff2900 249px,#ff1600 255px,#ff2000 258px)"></i><i style="background:linear-gradient(90deg,#ff4e00 0,#ff7900 4px,#ffd300 8px,#ffc700 10px,#ff6a00 14px,#ff5100 18px,#ff7800 22px,#ffd100 25px,#f4ff0b 26px,#a7ff58 27px,#3dffc2 28px,#71ff8e 29px,#d6ff29 30px,#ffe300 31px,#ff8400 33px,#ff1300 37px,#ed0000 39px,#b00000 45px,#b10000 52px,#ec0000 58px,#ff0100 59px,#ff4100 61px,#ff7300 62px,#ffce00 63px,#65ff9a 64px,#a7ff58 65px,#ffa900 66px,#ff5d00 67px,#ff0200 69px,#b00000 73px,#8e0000 79px,#b10000 87px,#ff0a00 95px,#ff4f00 101px,#ff3a00 105px,#ff0000 110px,#de0000 118px,#ff0700 126px,#ff6d00 139px,#ff7400 145px,#ff3800 156px,#ff4b00 178px,#ff4600 182px,#f70000 189px,#d50000 199px,#ed0000 207px,#ff1100 210px,#ff6200 215px,#ff2e00 218px,#ff0300 220px,#c50000 225px,#c80000 230px,#ff0900 235px,#ff6800 240px,#ff5c00 243px,#ff1200 251px,#ff1e00 258px)"></i><i style="background:linear-gradient(90deg,#ff5500 0,#ff9200 6px,#ffa800 9px,#ff5d00 16px,#ff6900 20px,#ffb200 24px,#fff600 26px,#cfff30 28px,#dcff23 29px,#fffe00 30px,#ff6600 34px,#ff0300 38px,#b20000 44px,#a50000 51px,#d50000 57px,#f90000 59px,#ff3700 61px,#ff6300 62px,#ffea00 64px,#ffd500 65px,#ff8400 66px,#ff1d00 68px,#f70000 69px,#a90000 73px,#840000 79px,#a30000 87px,#ff0300 96px,#ff3400 102px,#f30000 111px,#dd0000 119px,#ff0700 127px,#ff5700 140px,#ff4600 148px,#ff2400 158px,#ff4000 175px,#ff5e00 181px,#ff0000 188px,#d00000 195px,#d80000 204px,#ff0a00 209px,#ff5000 212px,#ff9000 214px,#ffa100 215px,#ff6e00 217px,#ff0d00 220px,#cb0000 224px,#bc0000 229px,#f40000 235px,#ff4300 241px,#ff0700 252px,#ff1a00 258px)"></i><i style="background:linear-gradient(90deg,#ff5a00 0,#ff8b00 9px,#ff6000 17px,#ff8a00 22px,#ffeb00 27px,#ffeb00 29px,#ff0600 38px,#a80000 45px,#a20000 52px,#db0000 58px,#ff0600 60px,#ff7700 64px,#ff6e00 65px,#ff0600 68px,#9f0000 73px,#800000 78px,#8e0000 86px,#ff0500 98px,#ff1d00 103px,#f00000 111px,#dc0000 119px,#ff0800 128px,#ff4100 141px,#ff1500 159px,#ff3300 173px,#ff7800 180px,#ff5a00 183px,#ff0000 188px,#c60000 195px,#cd0000 203px,#fd0000 208px,#ff4100 211px,#ff9b00 213px,#ffde00 214px,#e9ff16 215px,#ffdd00 216px,#ff5a00 218px,#ff1300 220px,#e50000 222px,#b50000 227px,#c90000 233px,#ff0700 238px,#ff1f00 243px,#fd0000 252px,#ff1500 258px)"></i><i style="background:linear-gradient(90deg,#ff5d00 0,#ff7700 10px,#ff6800 18px,#ffab00 24px,#ffd400 28px,#ffb200 31px,#ff0800 38px,#a50000 45px,#9a0000 52px,#cd0000 58px,#ff0300 61px,#ff2f00 64px,#ff0200 67px,#940000 73px,#800000 77px,#860000 87px,#ff0500 101px,#f20000 110px,#dc0000 119px,#ff0900 129px,#ff2a00 142px,#ff0800 159px,#ff2a00 172px,#ff6800 177px,#ff9900 180px,#ff8800 182px,#ff0f00 187px,#ee0000 189px,#bb0000 196px,#cf0000 204px,#fe0000 208px,#ff4800 211px,#ffb000 213px,#e6ff19 214px,#00d6ff 215px,#f5ff0a 216px,#ffa200 217px,#ff5f00 218px,#ff1400 220px,#f70000 221px,#b20000 226px,#b20000 232px,#ff0100 242px,#f90000 254px,#ff1000 258px)"></i><i style="background:linear-gradient(90deg,#ff5c00 0,#ff6500 12px,#ff6e00 19px,#ffc000 27px,#ffb700 30px,#ff3900 36px,#f50000 39px,#a40000 45px,#950000 52px,#cb0000 59px,#fc0000 64px,#be0000 69px,#810000 74px,#890000 89px,#f70000 102px,#ef0000 110px,#df0000 120px,#ff0c00 131px,#ff1100 145px,#ff0200 160px,#ff2000 171px,#ff6000 176px,#ffca00 180px,#ffc900 181px,#ff2500 186px,#fb0000 188px,#bb0000 194px,#b80000 201px,#ed0000 207px,#ff1100 209px,#ff6900 212px,#ffc800 214px,#ffe100 215px,#ff2c00 219px,#f20000 221px,#ac0000 226px,#a40000 232px,#e40000 243px,#f10000 254px,#ff0a00 258px)"></i><i style="background:linear-gradient(90deg,#ff5800 0,#ff6400 18px,#ffb900 28px,#ffa600 31px,#f80000 39px,#a60000 45px,#930000 52px,#d70000 64px,#800000 74px,#880000 90px,#f20000 104px,#e20000 120px,#ff0900 132px,#fe0000 161px,#ff1d00 171px,#ff5000 175px,#ff8300 177px,#ffe200 179px,#e0ff1f 180px,#e4ff1b 181px,#ffd700 182px,#ff6800 184px,#ff0d00 187px,#cd0000 191px,#ad0000 198px,#d10000 205px,#ff0a00 209px,#ff7900 214px,#ff7000 216px,#ff0200 220px,#b00000 225px,#970000 231px,#d10000 247px,#ff0600 258px)"></i><i style="background:linear-gradient(90deg,#ff5500 0,#ff5b00 17px,#ffb800 28px,#ffaa00 31px,#fa0000 39px,#a80000 45px,#930000 53px,#ba0000 64px,#800000 74px,#870000 91px,#f00000 105px,#e90000 121px,#ff0500 132px,#f20000 156px,#ff1300 170px,#ff5100 175px,#ff8a00 177px,#f4ff0b 179px,#41ffbe 180px,#80ff7f 181px,#ffea00 182px,#ff9900 183px,#ff2000 186px,#f30000 188px,#b70000 193px,#ad0000 200px,#f00000 208px,#ff0f00 210px,#ff4300 214px,#ff2c00 217px,#f10000 220px,#a10000 226px,#8f0000 233px,#e30000 254px,#ff0100 258px)"></i><i style="background:linear-gradient(90deg,#ff5200 0,#ff5700 17px,#ffc200 29px,#ffa500 32px,#fc0000 39px,#aa0000 45px,#900000 53px,#a20000 65px,#800000 74px,#870000 92px,#f30000 106px,#f00000 121px,#ff0500 132px,#e60000 152px,#ff0d00 169px,#ff3a00 174px,#ff8300 177px,#ffe800 179px,#dfff20 180px,#f8ff07 181px,#ff8400 183px,#ff1800 186px,#ff0100 187px,#ba0000 192px,#a70000 199px,#dd0000 207px,#ff0900 211px,#ff1b00 215px,#ee0000 219px,#930000 227px,#870000 235px,#d40000 253px,#fc0000 258px)"></i><i style="background:linear-gradient(90deg,#ff5100 0,#ff5300 17px,#ff9500 24px,#ffd700 29px,#ffcd00 31px,#ff0000 39px,#ad0000 45px,#8f0000 54px,#8a0000 67px,#820000 92px,#fd0000 107px,#f50000 120px,#ff0c00 131px,#dc0000 149px,#ff0600 166px,#ff2700 173px,#ff6d00 177px,#ffaf00 180px,#ff8500 182px,#ff0b00 186px,#ae0000 193px,#a80000 200px,#ff0100 214px,#d00000 220px,#810000 229px,#8c0000 241px,#d60000 254px,#f80000 258px)"></i><i style="background:linear-gradient(90deg,#ff5100 0,#ff5100 17px,#ff8800 23px,#fffa00 29px,#fff200 31px,#ff2f00 37px,#ff0200 39px,#b00000 45px,#8d0000 55px,#800000 92px,#ff0400 106px,#ff0500 112px,#ff0900 122px,#ff1d00 129px,#f00000 137px,#d60000 148px,#ff0800 163px,#ff1800 172px,#ff6a00 180px,#ff2400 184px,#fa0000 186px,#b00000 192px,#a30000 199px,#ec0000 213px,#c10000 220px,#800000 228px,#8a0000 244px,#d10000 254px,#f50000 258px)"></i><i style="background:linear-gradient(90deg,#ff5200 0,#ff5000 17px,#ff8900 23px,#ffe600 27px,#f4ff0b 28px,#c9ff36 29px,#b4ff4b 30px,#fff400 32px,#ff6e00 35px,#ff0400 39px,#ac0000 46px,#800000 63px,#840000 93px,#e00000 102px,#ff0900 105px,#ff2000 109px,#ff0700 118px,#ff3200 128px,#f70000 136px,#d10000 146px,#f90000 157px,#ff1c00 174px,#ff3900 180px,#f80000 185px,#aa0000 192px,#a40000 200px,#e00000 212px,#b60000 220px,#800000 228px,#890000 246px,#e40000 256px,#f10000 258px)"></i><i style="background:linear-gradient(90deg,#ff5500 0,#ff5400 18px,#ff8900 23px,#ffd100 26px,#fff700 27px,#d0ff2f 28px,#69ff96 29px,#00e4ff 30px,#88ff77 31px,#f4ff0b 32px,#ff6f00 35px,#ff0500 39px,#b00000 46px,#800000 63px,#840000 93px,#d90000 101px,#ff0c00 104px,#ff3c00 108px,#ff1400 118px,#ff4c00 128px,#fb0000 136px,#cf0000 145px,#ea0000 154px,#ff0f00 159px,#ff1300 166px,#ff1200 175px,#ff0e00 181px,#e30000 185px,#a00000 193px,#a80000 201px,#da0000 212px,#a40000 221px,#800000 227px,#870000 247px,#ef0000 258px)"></i><i style="background:linear-gradient(90deg,#ff5900 0,#ff5400 12px,#ff5800 19px,#ff9800 24px,#fff300 27px,#d7ff28 28px,#88ff77 29px,#67ff98 30px,#fff300 32px,#ff8c00 34px,#ff1700 38px,#f20000 40px,#af0000 47px,#800000 63px,#860000 93px,#cf0000 100px,#ff0800 103px,#ff5b00 107px,#ff5b00 110px,#ff2300 116px,#ff3400 121px,#ff7200 127px,#ff4a00 131px,#ff0100 136px,#cf0000 144px,#e10000 152px,#ff0b00 157px,#ff2a00 163px,#ff0100 175px,#e90000 182px,#9c0000 193px,#ae0000 202px,#da0000 211px,#a70000 220px,#800000 226px,#870000 248px,#ec0000 258px)"></i><i style="background:linear-gradient(90deg,#ff5f00 0,#ff6600 10px,#ff5200 18px,#ff7e00 23px,#ffd400 27px,#f9ff06 29px,#fbff04 30px,#ffc000 32px,#ff3f00 36px,#ff0200 39px,#bb0000 46px,#800000 64px,#890000 93px,#d50000 100px,#fb0000 102px,#ffa300 108px,#ff8c00 110px,#ff4300 114px,#ff3600 119px,#ff7800 124px,#ffa900 127px,#ff9300 129px,#ff1500 135px,#f00000 138px,#ce0000 146px,#f60000 154px,#ff4100 162px,#fb0000 172px,#be0000 185px,#960000 194px,#b70000 203px,#e00000 211px,#a40000 220px,#800000 225px,#820000 248px,#ea0000 258px)"></i><i style="background:linear-gradient(90deg,#ff6700 0,#ff7a00 9px,#ff4f00 17px,#ff7100 23px,#ffb900 29px,#ff8e00 32px,#ff0c00 38px,#d30000 43px,#800000 65px,#890000 92px,#c70000 99px,#ff0200 102px,#ff6500 105px,#ffd900 107px,#eaff15 108px,#f8ff07 109px,#ff7e00 112px,#ff4900 115px,#ff4400 119px,#ff8000 123px,#ffea00 126px,#f8ff07 127px,#fffa00 128px,#ff5d00 132px,#ff0000 137px,#d10000 144px,#e20000 151px,#ff0c00 155px,#ff6000 161px,#ff4400 165px,#fd0000 171px,#940000 192px,#ad0000 201px,#ec0000 210px,#cc0000 216px,#800000 225px,#870000 249px,#e90000 258px)"></i><i style="background:linear-gradient(90deg,#ff7000 0,#ff9600 8px,#ff4e00 17px,#ff6800 24px,#ff8200 29px,#ff5300 33px,#ff0400 38px,#ca0000 47px,#870000 67px,#8e0000 85px,#980000 94px,#da0000 100px,#ff0300 102px,#ff6800 105px,#ffa200 106px,#fff300 107px,#71ff8e 108px,#69ff96 109px,#f9ff06 110px,#ff9300 112px,#ff5500 115px,#ff4f00 119px,#ff7800 122px,#ffb800 124px,#ffeb00 125px,#b5ff4a 126px,#00f2ff 127px,#fffc00 129px,#ff8c00 131px,#ff3400 134px,#f60000 138px,#d20000 145px,#f00000 152px,#ff1700 155px,#ff8f00 161px,#ff8500 163px,#ff0600 170px,#980000 188px,#980000 197px,#ff0200 210px,#ed0000 214px,#800000 224px,#830000 249px,#e70000 258px)"></i><i style="background:linear-gradient(90deg,#ff7a00 0,#ffb800 7px,#ff8e00 11px,#ff4c00 17px,#ff5600 25px,#ff5300 30px,#fb0000 38px,#d80000 46px,#ae0000 59px,#9e0000 71px,#a40000 83px,#980000 93px,#c80000 99px,#fc0000 102px,#ff5300 105px,#ffd700 108px,#ffe900 109px,#ff7700 113px,#ff4f00 117px,#ff6b00 121px,#ffb700 124px,#ffe100 125px,#e3ff1c 126px,#bdff42 127px,#dfff20 128px,#ffde00 129px,#ff6300 132px,#ff0400 137px,#d40000 145px,#f50000 152px,#ff2100 155px,#ff6c00 158px,#ffde00 161px,#ffe300 162px,#ff3c00 167px,#f70000 171px,#a70000 182px,#8d0000 193px,#b60000 201px,#ff0400 207px,#ff2300 211px,#f20000 215px,#800000 224px,#810000 249px,#e60000 258px)"></i><i style="background:linear-gradient(90deg,#ff8500 0,#ffe900 7px,#ffd200 9px,#ff6700 14px,#ff3b00 20px,#ff3100 30px,#f90000 37px,#e60000 45px,#e10000 54px,#b70000 68px,#c40000 81px,#9c0000 92px,#c60000 99px,#ff0700 103px,#ff8a00 109px,#ff4d00 117px,#ff7300 122px,#ffc100 126px,#ffba00 128px,#ff2d00 134px,#f70000 138px,#d60000 145px,#f80000 152px,#ff2600 155px,#ff7d00 158px,#ffac00 159px,#fff100 160px,#83ff7c 161px,#5effa1 162px,#fcff03 163px,#ffb600 164px,#ff5c00 166px,#ff0300 170px,#ad0000 179px,#880000 191px,#a70000 199px,#ff0b00 206px,#ff5600 210px,#ff4a00 212px,#ff0800 215px,#810000 224px,#890000 250px,#e50000 258px)"></i><i style="background:linear-gradient(90deg,#ff8f00 0,#ffc300 3px,#ffff00 5px,#c3ff3c 7px,#d4ff2b 8px,#ffff00 9px,#ff9400 12px,#ff4c00 16px,#ff2700 23px,#f40000 36px,#f00000 44px,#ff0a00 53px,#dd0000 70px,#ec0000 80px,#a50000 91px,#b90000 98px,#ff0500 104px,#ff4f00 109px,#ff4900 119px,#ff8200 127px,#fd0000 137px,#d70000 145px,#f80000 152px,#ff2600 155px,#ff7700 158px,#ffd600 160px,#e5ff1a 161px,#ddff22 162px,#ffe000 163px,#ff7b00 165px,#ff2300 168px,#fc0000 170px,#ac0000 178px,#850000 190px,#a90000 199px,#ff0500 205px,#ff6100 208px,#ffb000 210px,#ffb300 211px,#ff0300 216px,#990000 222px,#800000 226px,#880000 250px,#e40000 258px)"></i><i style="background:linear-gradient(90deg,#ff9600 0,#ffd600 3px,#fffb00 4px,#cdff32 5px,#69ff96 6px,#00e9ff 7px,#76ff89 8px,#dfff20 9px,#ffe400 10px,#ff9500 12px,#ff4500 16px,#ff1500 23px,#ef0000 34px,#f00000 42px,#ff1300 46px,#ff3a00 51px,#ff0900 67px,#ff1c00 80px,#ec0000 84px,#ad0000 91px,#b50000 98px,#ff0700 106px,#ff3100 112px,#ff4800 122px,#ff5000 128px,#f70000 137px,#d70000 145px,#f60000 152px,#ff1e00 155px,#ff9f00 161px,#ff8e00 163px,#ff0300 169px,#a50000 178px,#820000 190px,#ab0000 199px,#f50000 204px,#ff2c00 206px,#ff8100 208px,#ffd100 209px,#95ff6a 210px,#6dff92 211px,#ffd500 212px,#ff8700 213px,#ff2a00 215px,#f20000 217px,#910000 223px,#800000 227px,#870000 250px,#e30000 258px)"></i><i style="background:linear-gradient(90deg,#ff9800 0,#ffd800 3px,#fffc00 4px,#d1ff2e 5px,#8aff75 6px,#6fff90 7px,#faff05 9px,#ff8900 12px,#ff3a00 16px,#ff0300 23px,#e20000 38px,#ff0f00 44px,#ff6c00 50px,#ff5f00 54px,#ff3700 63px,#ff3700 73px,#ff6000 79px,#ff3800 82px,#fa0000 85px,#b50000 91px,#b10000 98px,#ff0a00 110px,#ff3200 127px,#f70000 136px,#d60000 146px,#ff0400 154px,#ff5800 161px,#ff3400 165px,#f40000 169px,#a00000 178px,#800000 190px,#ab0000 199px,#ff0900 205px,#ff6b00 208px,#ffc600 210px,#ffc800 211px,#ff2300 215px,#f00000 217px,#930000 223px,#800000 227px,#870000 250px,#e10000 258px)"></i><i style="background:linear-gradient(90deg,#ff9200 0,#fdff02 6px,#fffe00 7px,#ff5d00 13px,#ff0c00 19px,#da0000 31px,#e30000 39px,#ff0c00 43px,#ff6300 47px,#ffb500 50px,#ffb000 52px,#ff6800 57px,#ff4e00 71px,#ff6f00 75px,#ffbd00 79px,#ffb300 80px,#ff1300 85px,#e90000 87px,#b00000 93px,#b70000 101px,#ff0400 115px,#ff1500 128px,#ee0000 136px,#d50000 147px,#ff0800 156px,#ff2600 162px,#fa0000 167px,#9b0000 178px,#800000 190px,#a90000 199px,#fa0000 205px,#ff5800 210px,#ff4c00 212px,#f80000 216px,#890000 224px,#870000 250px,#e00000 258px)"></i><i style="background:linear-gradient(90deg,#ff8500 0,#ffb600 6px,#ff9200 9px,#ff1a00 16px,#f40000 20px,#cc0000 33px,#e90000 40px,#ff0100 42px,#ff5d00 46px,#ffb100 48px,#fff400 49px,#c6ff39 50px,#bfff40 51px,#fbff04 52px,#ffae00 54px,#ff7000 58px,#ff5c00 71px,#ff8a00 75px,#ffd100 77px,#ebff14 78px,#79ff86 79px,#a5ff5a 80px,#ffe600 81px,#ff6700 83px,#ff0800 86px,#b70000 92px,#ab0000 100px,#ff0000 122px,#ea0000 135px,#d30000 148px,#ff0200 162px,#880000 182px,#880000 194px,#cc0000 203px,#ff0100 207px,#ff1a00 211px,#ff0000 214px,#820000 225px,#870000 250px,#dd0000 258px)"></i><i style="background:linear-gradient(90deg,#ff7200 0,#ff8000 6px,#fc0000 17px,#c50000 28px,#ce0000 37px,#fe0000 42px,#ff3e00 45px,#ff8600 47px,#f4ff0b 49px,#81ff7e 50px,#78ff87 51px,#e7ff18 52px,#ffdb00 53px,#ff9600 55px,#ff6400 59px,#ff5400 70px,#ff7200 74px,#ff9e00 76px,#fff000 78px,#e5ff1a 79px,#faff05 80px,#ff6100 83px,#ff0800 86px,#b10000 93px,#a60000 102px,#ee0000 125px,#d10000 150px,#e20000 163px,#820000 184px,#8e0000 196px,#f00000 210px,#c80000 217px,#800000 226px,#880000 250px,#db0000 258px)"></i><i style="background:linear-gradient(90deg,#ff5d00 0,#ff4f00 7px,#fc0000 15px,#bf0000 25px,#c10000 36px,#ff0700 43px,#ff6700 47px,#ffc400 50px,#ffca00 51px,#ff5e00 57px,#ff3c00 65px,#ff4f00 73px,#ff9000 79px,#ff5b00 82px,#fc0000 86px,#b40000 92px,#9c0000 101px,#e00000 129px,#cd0000 154px,#c40000 166px,#800000 186px,#950000 198px,#d30000 211px,#920000 223px,#800000 229px,#890000 250px,#d80000 258px)"></i><i style="background:linear-gradient(90deg,#ff4600 0,#ff1d00 9px,#f00000 14px,#b20000 25px,#b80000 36px,#ff0500 44px,#ff6700 50px,#ff5800 54px,#ff2400 62px,#ff2800 72px,#ff4400 79px,#f90000 85px,#a80000 93px,#970000 104px,#d80000 132px,#ae0000 169px,#800000 189px,#a70000 203px,#be0000 213px,#800000 228px,#890000 250px,#d50000 258px)"></i><i style="background:linear-gradient(90deg,#ff3100 0,#f90000 10px,#ab0000 23px,#aa0000 35px,#ed0000 44px,#ff1b00 48px,#ff2c00 53px,#ff0000 66px,#ff0c00 80px,#ea0000 84px,#980000 95px,#940000 108px,#d60000 135px,#8b0000 181px,#8a0000 197px,#b40000 213px,#800000 230px,#8a0000 250px,#d10000 258px)"></i><i style="background:linear-gradient(90deg,#ff1c00 0,#ef0000 8px,#9f0000 23px,#a00000 35px,#ff0100 51px,#e90000 71px,#e20000 81px,#8b0000 97px,#940000 112px,#d80000 136px,#840000 193px,#ae0000 216px,#800000 232px,#850000 249px,#ce0000 258px)"></i><i style="background:linear-gradient(90deg,#ff0900 0,#910000 24px,#9c0000 37px,#e00000 53px,#c50000 82px,#800000 100px,#9a0000 117px,#dd0000 137px,#a40000 165px,#8a0000 197px,#b10000 217px,#800000 234px,#870000 249px,#ca0000 258px)"></i><i style="background:linear-gradient(90deg,#f70000 0,#8d0000 21px,#8b0000 35px,#c80000 54px,#ae0000 83px,#800000 100px,#8d0000 115px,#e70000 137px,#a60000 161px,#8f0000 199px,#ba0000 218px,#800000 235px,#890000 249px,#c70000 258px)"></i><i style="background:linear-gradient(90deg,#e70000 0,#840000 20px,#890000 38px,#b70000 57px,#a10000 83px,#800000 98px,#8c0000 116px,#f70000 136px,#c90000 148px,#a60000 163px,#9f0000 184px,#950000 200px,#ca0000 219px,#800000 237px,#8b0000 249px,#c40000 258px)"></i><i style="background:linear-gradient(90deg,#dc0000 0,#800000 19px,#8a0000 41px,#ae0000 62px,#920000 86px,#800000 101px,#8c0000 116px,#f30000 131px,#ff0f00 139px,#e70000 145px,#b10000 157px,#b30000 182px,#9b0000 198px,#e60000 219px,#840000 238px,#900000 249px,#c40000 258px)"></i><i style="background:linear-gradient(90deg,#d40000 0,#800000 18px,#8a0000 43px,#ab0000 66px,#800000 101px,#8c0000 115px,#de0000 127px,#ff0b00 131px,#ff3b00 137px,#fb0000 145px,#bf0000 155px,#c60000 169px,#cc0000 181px,#a70000 197px,#ce0000 208px,#ff0900 216px,#ff0600 221px,#970000 236px,#910000 247px,#c70000 258px)"></i><i style="background:linear-gradient(90deg,#ce0000 0,#800000 17px,#8a0000 44px,#ab0000 68px,#800000 103px,#900000 115px,#e00000 126px,#ff0800 129px,#ff7300 136px,#ff6800 139px,#fa0000 147px,#c80000 156px,#d60000 168px,#ed0000 179px,#b60000 196px,#d40000 206px,#ff0c00 212px,#ff4600 218px,#ff2d00 222px,#f70000 226px,#a50000 236px,#9a0000 247px,#ca0000 258px)"></i><i style="background:linear-gradient(90deg,#c90000 0,#800000 16px,#8a0000 44px,#ae0000 68px,#800000 106px,#ab0000 119px,#ff0800 128px,#ff7500 133px,#ffd300 136px,#ffde00 137px,#ffb300 139px,#ff4700 143px,#ff0100 148px,#d20000 157px,#ec0000 168px,#ff1300 176px,#f60000 184px,#c50000 196px,#df0000 205px,#ff1000 210px,#ff9c00 218px,#ff9100 220px,#ff0500 227px,#b20000 236px,#a20000 247px,#ce0000 258px)"></i><i style="background:linear-gradient(90deg,#c60000 0,#800000 16px,#8b0000 43px,#b50000 68px,#850000 106px,#b10000 119px,#ff0200 127px,#ff4f00 131px,#ffbb00 134px,#fffe00 135px,#95ff6a 136px,#002aff 137px,#9aff65 138px,#ffff00 139px,#ffbf00 140px,#ff5b00 143px,#ff0d00 148px,#e20000 155px,#f00000 165px,#ff1500 170px,#ff4400 177px,#ff1600 184px,#ee0000 189px,#d60000 199px,#ff0b00 208px,#ff6100 213px,#ffcd00 216px,#f6ff09 217px,#a9ff56 218px,#abff54 219px,#f3ff0c 220px,#ff7800 223px,#ff1900 227px,#ef0000 230px,#b20000 239px,#b50000 251px,#d10000 258px)"></i><i style="background:linear-gradient(90deg,#c50000 0,#800000 17px,#8c0000 41px,#c00000 67px,#8e0000 107px,#be0000 120px,#ff0400 127px,#ff6300 132px,#ffde00 136px,#ffef00 137px,#ffc900 139px,#ff5b00 143px,#ff0b00 149px,#ed0000 160px,#ff0c00 166px,#ff8600 177px,#ff6300 181px,#ff0400 189px,#e40000 199px,#ff0500 206px,#ff5600 212px,#ffa900 215px,#feff01 217px,#d0ff2f 218px,#d6ff29 219px,#fffa00 220px,#ff9e00 222px,#ff3400 226px,#fa0000 230px,#bd0000 239px,#bc0000 251px,#d60000 258px)"></i><i style="background:linear-gradient(90deg,#c40000 0,#830000 17px,#8c0000 38px,#cf0000 66px,#a80000 91px,#980000 109px,#cf0000 122px,#ff0c00 128px,#ff7f00 136px,#ff7d00 139px,#ff0e00 149px,#f60000 159px,#ff1500 165px,#ff6200 171px,#fff400 177px,#ffd800 179px,#ff5900 184px,#ff0700 191px,#f60000 202px,#ff1d00 208px,#ffa200 218px,#ff8700 221px,#ff0b00 229px,#c00000 242px,#d20000 255px,#db0000 258px)"></i><i style="background:linear-gradient(90deg,#c60000 0,#890000 17px,#940000 37px,#e40000 66px,#c20000 87px,#9f0000 107px,#ca0000 121px,#ff0b00 129px,#ff4a00 137px,#ff2500 145px,#fc0000 154px,#ff1200 163px,#ff5300 169px,#ffb100 173px,#ffd800 174px,#eaff15 175px,#93ff6c 176px,#00b8ff 177px,#42ffbd 178px,#c2ff3d 179px,#fff700 180px,#ffa200 182px,#ff4900 186px,#ff0800 193px,#ff0a00 205px,#ff6200 218px,#ff3000 225px,#fa0000 231px,#c80000 243px,#dc0000 256px,#e10000 258px)"></i><i style="background:linear-gradient(90deg,#c90000 0,#900000 17px,#a10000 37px,#fe0000 66px,#e00000 84px,#a90000 105px,#c60000 120px,#ff0900 131px,#ff2500 140px,#fe0000 156px,#ff2700 165px,#ff7700 171px,#fffa00 176px,#faff05 178px,#ff6f00 184px,#ff1d00 191px,#ff0200 201px,#ff3c00 219px,#f50000 232px,#d10000 246px,#e70000 258px)"></i><i style="background:linear-gradient(90deg,#cd0000 0,#990000 17px,#b00000 37px,#ff0800 57px,#ff2100 70px,#f60000 85px,#b50000 105px,#cb0000 121px,#ff0700 135px,#ff0a00 160px,#ff4d00 169px,#ffa400 177px,#ff7a00 182px,#ff1f00 191px,#ff0500 202px,#ff2400 220px,#f10000 234px,#dd0000 250px,#ee0000 258px)"></i><i style="background:linear-gradient(90deg,#d20000 0,#a30000 18px,#c00000 37px,#ff0a00 52px,#ff4b00 66px,#ff3200 79px,#f60000 90px,#be0000 107px,#d70000 125px,#fa0000 143px,#ff0c00 161px,#ff6b00 177px,#ff3400 187px,#ff0600 199px,#ff1100 224px,#e90000 241px,#f50000 258px)"></i><i style="background:linear-gradient(90deg,#d80000 0,#af0000 18px,#d10000 37px,#ff0a00 48px,#ff7d00 65px,#ff7100 75px,#f70000 94px,#c70000 109px,#ff0a00 162px,#ff4600 178px,#ff0400 200px,#ff0800 228px,#f50000 254px,#fc0000 258px)"></i><i style="background:linear-gradient(90deg,#de0000 0,#bc0000 18px,#e40000 37px,#ff0e00 45px,#ff9f00 61px,#ffc900 68px,#ff9d00 77px,#ff0000 96px,#d00000 111px,#ff0900 164px,#ff2a00 180px,#ff0100 204px,#ff0500 234px,#ff0400 258px)"></i><i style="background:linear-gradient(90deg,#e60000 0,#c90000 18px,#f60000 37px,#ff3200 47px,#ffa900 58px,#f4ff0b 64px,#caff35 68px,#ecff13 73px,#ffdd00 77px,#ff3900 91px,#fa0000 100px,#d50000 117px,#fa0000 162px,#ff1500 183px,#ff0200 208px,#ff0900 239px,#ff0c00 258px)"></i><i style="background:linear-gradient(90deg,#ee0000 0,#d60000 18px,#ff0800 37px,#ff6a00 51px,#ffda00 59px,#faff05 61px,#83ff7c 65px,#21ffde 67px,#00edff 68px,#00dcff 69px,#02fffd 70px,#7fff80 73px,#f7ff08 78px,#ff5800 90px,#ff0100 102px,#db0000 122px,#f30000 162px,#ff0700 213px,#ff0f00 242px,#ff1200 258px)"></i><i style="background:linear-gradient(90deg,#f60000 0,#e30000 18px,#ff0b00 34px,#ff6700 49px,#ffd500 58px,#f2ff0d 61px,#29ffd6 69px,#3affc5 71px,#efff10 79px,#ffe900 81px,#ff5f00 91px,#ff0a00 103px,#de0000 136px,#fc0000 191px,#ff1600 222px,#ff1900 258px)"></i><i style="background:linear-gradient(90deg,#fe0000 0,#f10000 19px,#ff1200 32px,#ff6900 48px,#ffe000 59px,#f1ff0e 62px,#97ff68 69px,#a5ff5a 74px,#feff01 80px,#ff6c00 91px,#ff1700 103px,#f50000 115px,#e40000 154px,#ff0c00 212px,#ff2100 239px,#ff1f00 258px)"></i><i style="background:linear-gradient(90deg,#ff0600 0,#ff0900 25px,#ff5c00 45px,#ffd800 59px,#f6ff09 63px,#afff50 71px,#c7ff38 76px,#feff01 80px,#ff6b00 92px,#ff1c00 105px,#f70000 123px,#e70000 158px,#ff0b00 209px,#ff2b00 237px,#ff2500 258px)"></i><i style="background:linear-gradient(90deg,#ff0e00 0,#ff0900 19px,#ff5400 42px,#ffbe00 57px,#f3ff0c 64px,#a9ff56 71px,#b3ff4c 75px,#fff600 81px,#ff7200 92px,#ff2500 106px,#f50000 133px,#ee0000 166px,#ff0d00 206px,#ff3600 235px,#ff2b00 258px)"></i><i style="background:linear-gradient(90deg,#ff1400 0,#ff1100 19px,#ff6300 44px,#ffcd00 59px,#f5ff0a 64px,#78ff87 72px,#8eff71 75px,#fffb00 81px,#ff8800 90px,#ff3900 103px,#f50000 140px,#f70000 178px,#ff1600 207px,#ff4200 233px,#ff3000 258px)"></i><i style="background:linear-gradient(90deg,#ff1400 0,#ff1500 20px,#ff6f00 47px,#ffd000 60px,#f9ff06 64px,#a5ff5a 68px,#33ffcc 71px,#01fffe 72px,#00f3ff 73px,#19ffe6 74px,#a1ff5e 77px,#fff900 81px,#ff8d00 89px,#ff4400 101px,#f50000 143px,#f80000 181px,#ff1a00 207px,#ff4e00 232px,#ff3100 258px)"></i><i style="background:linear-gradient(90deg,#ff1500 0,#ff1700 20px,#ff7a00 50px,#ffcf00 61px,#f5ff0a 65px,#8eff71 69px,#00f8ff 72px,#00ebff 73px,#1dffe2 74px,#86ff79 76px,#e5ff1a 79px,#fdff02 80px,#ff9100 88px,#ff4a00 100px,#ff0d00 135px,#ef0000 160px,#ff0d00 198px,#ff6000 231px,#ff3300 258px)"></i><i style="background:linear-gradient(90deg,#ff1500 0,#ff1a00 20px,#ff7e00 52px,#ffd300 63px,#f4ff0b 67px,#b0ff4f 72px,#c5ff3a 75px,#fff400 79px,#ff8f00 87px,#ff4f00 99px,#ff3300 127px,#fa0000 148px,#ff0e00 194px,#ff5300 217px,#ff7a00 230px,#ff3600 258px)"></i><i style="background:linear-gradient(90deg,#ff1600 0,#ff1c00 20px,#ff8700 56px,#fff000 72px,#ffc600 79px,#ff6400 92px,#ff4e00 106px,#ff5400 123px,#ff0100 149px,#ff1400 192px,#ff4e00 212px,#ffa100 228px,#ff7f00 238px,#ff3e00 254px,#ff3a00 258px)"></i><i style="background:linear-gradient(90deg,#ff1600 0,#ff1f00 20px,#ff8d00 61px,#ffb000 73px,#ff5200 96px,#ff6500 111px,#ff7400 122px,#ff0e00 147px,#ff0e00 174px,#ff3a00 204px,#ff8b00 218px,#ffdd00 228px,#ffc200 234px,#ff5c00 247px,#ff3e00 258px)"></i><i style="background:linear-gradient(90deg,#ff1800 0,#ff2400 20px,#ff8100 68px,#ff6800 83px,#ff4f00 99px,#ff8b00 114px,#ff9d00 122px,#ff2600 142px,#ff1000 161px,#ff4400 203px,#ff9000 216px,#fdff02 224px,#b7ff48 228px,#c8ff37 231px,#fffb00 234px,#ff9500 241px,#ff4e00 252px,#ff4100 258px)"></i><i style="background:linear-gradient(90deg,#ff1900 0,#ff2900 20px,#ff5b00 44px,#ff5500 80px,#ff4b00 98px,#ff8700 110px,#ffdf00 120px,#ffbe00 125px,#ff5100 136px,#ff1e00 150px,#ff4600 199px,#ff8400 213px,#ffd300 220px,#fff900 222px,#d0ff2f 224px,#7cff83 226px,#39ffc6 227px,#00bfff 228px,#0018ff 229px,#00feff 230px,#5affa5 231px,#97ff68 232px,#fcff03 235px,#ff9f00 241px,#ff5100 252px,#ff4300 258px)"></i><i style="background:linear-gradient(90deg,#ff1b00 0,#ff2d00 19px,#ff6200 40px,#ff3a00 93px,#ff6700 105px,#ffc000 113px,#fffb00 116px,#aaff55 120px,#bbff44 122px,#fff800 125px,#ff8f00 131px,#ff4100 141px,#ff2700 156px,#ff6500 206px,#ffaa00 217px,#f5ff0a 224px,#bdff42 228px,#cfff30 231px,#fffb00 234px,#ff9000 242px,#ff4b00 254px,#ff4300 258px)"></i><i style="background:linear-gradient(90deg,#ff1e00 0,#ff3200 18px,#ff7200 38px,#ff2a00 75px,#ff3600 96px,#ff7600 107px,#ffc800 113px,#fff700 115px,#c5ff3a 117px,#4affb5 119px,#00d6ff 120px,#00e6ff 121px,#4effb1 122px,#98ff67 123px,#ebff14 125px,#fff400 126px,#ff9800 131px,#ff4d00 140px,#ff3200 154px,#ff6000 186px,#ff6e00 207px,#ffc700 223px,#ffda00 230px,#ff5500 250px,#ff4000 258px)"></i><i style="background:linear-gradient(90deg,#ff2000 0,#ff3600 17px,#ff8b00 37px,#ff2200 67px,#ff1b00 90px,#ff5200 104px,#ffaf00 113px,#feff01 118px,#eaff15 121px,#fff200 124px,#ff8500 132px,#ff4500 143px,#ff4300 158px,#ff7d00 182px,#ff7100 207px,#ffa200 229px,#ff3b00 258px)"></i><i style="background:linear-gradient(90deg,#ff2200 0,#ff3a00 16px,#ffb300 36px,#ff8b00 44px,#ff2800 60px,#ff0400 81px,#ff2700 99px,#ff8c00 114px,#ffb200 121px,#ff4700 142px,#ff4c00 157px,#ffa200 180px,#ff7100 208px,#ff7600 232px,#ff3400 258px)"></i><i style="background:linear-gradient(90deg,#ff3000 0,#ff4c00 16px,#ff9e00 27px,#fffe00 35px,#fff200 39px,#ff6c00 50px,#ff1c00 64px,#ff0200 84px,#ff3100 103px,#ff7f00 121px,#ff4c00 147px,#ff7800 162px,#ffe000 179px,#ffb000 191px,#ff7a00 208px,#ff5500 240px,#ff3700 258px)"></i><i style="background:linear-gradient(90deg,#ff3d00 0,#ff5800 15px,#ffa200 25px,#f5ff0a 31px,#4dffb2 36px,#5bffa4 37px,#efff10 41px,#ffde00 43px,#ff7700 50px,#ff2100 63px,#fe0000 82px,#ff2600 103px,#ff5f00 123px,#ff5900 149px,#ff9700 163px,#f4ff0b 174px,#c4ff3b 179px,#e0ff1f 184px,#fff200 188px,#ff9e00 200px,#ff6600 226px,#ff3b00 258px)"></i><i style="background:linear-gradient(90deg,#ff4a00 0,#ff6400 15px,#ffae00 25px,#ffff00 30px,#83ff7c 34px,#50ffaf 36px,#89ff76 38px,#efff10 41px,#ffdf00 43px,#ff7900 50px,#ff2200 63px,#fc0000 81px,#ff1b00 103px,#ff4c00 128px,#ff6600 151px,#ffb200 164px,#f6ff09 171px,#9dff62 175px,#12ffed 179px,#08fff7 180px,#baff45 186px,#fcff03 190px,#ffa300 202px,#ff5e00 229px,#ff3e00 258px)"></i><i style="background:linear-gradient(90deg,#ff5400 0,#ff6f00 16px,#ffbd00 27px,#f9ff06 34px,#fff300 39px,#ff6900 51px,#ff1600 66px,#fa0000 83px,#ff1700 106px,#ff6a00 151px,#ffba00 164px,#feff01 170px,#9cff63 175px,#22ffdd 179px,#14ffeb 180px,#3bffc4 182px,#beff41 187px,#fff900 192px,#ffa300 204px,#ff5800 232px,#ff4100 258px)"></i><i style="background:linear-gradient(90deg,#ff5d00 0,#ff7800 18px,#ffbf00 35px,#ff8800 45px,#ff2200 62px,#f90000 79px,#ff0e00 107px,#ff6700 150px,#ffbf00 165px,#f9ff06 172px,#afff50 180px,#d2ff2d 186px,#fff300 192px,#ff9300 209px,#ff4b00 242px,#ff4500 258px)"></i><i style="background:linear-gradient(90deg,#ff6400 0,#ff7900 21px,#ff8e00 36px,#ff0800 69px,#fb0000 100px,#ff5000 144px,#ffb200 165px,#faff05 178px,#fff200 189px,#ff8300 215px,#ff4a00 248px,#ff4a00 258px)"></i><i style="background:linear-gradient(90deg,#ff6800 0,#ff6800 38px,#fe0000 71px,#f40000 99px,#ff1a00 124px,#ff7800 156px,#ffde00 180px,#ffc500 195px,#ff5e00 233px,#ff4e00 258px)"></i><i style="background:linear-gradient(90deg,#ff6800 0,#ff4600 41px,#f80000 70px,#ed0000 100px,#ff0e00 123px,#ff7800 159px,#ffc100 182px,#ff9e00 205px,#ff5300 244px,#ff5000 258px)"></i><i style="background:linear-gradient(90deg,#ff6600 0,#ff2000 48px,#f40000 67px,#e50000 99px,#ff0c00 126px,#ffab00 183px,#ff9400 208px,#ff5300 248px,#ff5300 258px)"></i><i style="background:linear-gradient(90deg,#ff6300 0,#f50000 61px,#dc0000 95px,#ff0b00 129px,#ff9d00 184px,#ff8f00 210px,#ff5600 251px,#ff5600 258px)"></i><i style="background:linear-gradient(90deg,#ff5f00 0,#f50000 55px,#d60000 92px,#ff0a00 131px,#ff9700 187px,#ff8b00 214px,#ff5900 253px,#ff5a00 258px)"></i><i style="background:linear-gradient(90deg,#ff5b00 0,#f80000 47px,#d00000 88px,#fb0000 127px,#ff9a00 192px,#ff8800 219px,#ff5e00 255px,#ff5e00 258px)"></i><i style="background:linear-gradient(90deg,#ff5700 0,#f90000 41px,#cc0000 85px,#f10000 124px,#ff1800 141px,#ffa100 194px,#ff9200 218px,#ff6300 254px,#ff6300 258px)"></i><i style="background:linear-gradient(90deg,#ff5400 0,#f80000 37px,#c80000 82px,#ea0000 122px,#ff1000 139px,#ffaf00 197px,#ff9c00 219px,#ff6800 253px,#ff6800 258px)"></i><i style="background:linear-gradient(90deg,#ff4f00 0,#f80000 33px,#c40000 78px,#e20000 119px,#ff0d00 139px,#ffc300 199px,#ffa900 219px,#ff6d00 251px,#ff6c00 258px)"></i><i style="background:linear-gradient(90deg,#ff4700 0,#f70000 29px,#be0000 74px,#d60000 115px,#ff0a00 140px,#ff9400 180px,#ffdf00 201px,#ffbb00 218px,#ff7300 247px,#ff6d00 258px)"></i><i style="background:linear-gradient(90deg,#ff4000 0,#f60000 26px,#b90000 70px,#cb0000 111px,#ff0c00 142px,#ff8d00 177px,#faff05 199px,#fff200 211px,#ff8b00 236px,#ff6e00 258px)"></i><i style="background:linear-gradient(90deg,#ff3a00 0,#f60000 23px,#b60000 66px,#c40000 108px,#ff0900 142px,#ff8300 174px,#faff05 192px,#b1ff4e 201px,#c1ff3e 207px,#fff300 216px,#ff9600 234px,#ff7000 258px)"></i><i style="background:linear-gradient(90deg,#ff3400 0,#f50000 21px,#b30000 64px,#bf0000 106px,#ff0a00 143px,#ff7f00 173px,#ffef00 188px,#deff21 192px,#6dff92 198px,#0bfff4 202px,#18ffe7 204px,#a3ff5c 210px,#feff01 217px,#ffa200 232px,#ff7100 256px,#ff7100 258px)"></i><i style="background:linear-gradient(90deg,#ff2f00 0,#f60000 19px,#b10000 62px,#ba0000 104px,#ff0900 143px,#ff7e00 173px,#ffec00 188px,#f0ff0f 191px,#78ff87 198px,#1bffe4 202px,#1dffe2 204px,#b0ff4f 211px,#fff900 218px,#ffa000 233px,#ff7100 258px)"></i><i style="background:linear-gradient(90deg,#ff2a00 0,#f40000 18px,#af0000 61px,#b80000 103px,#ff0b00 144px,#ff8700 176px,#f8ff07 194px,#c0ff3f 203px,#e3ff1c 211px,#ffee00 217px,#ff9300 236px,#ff7100 258px)"></i><i style="background:linear-gradient(90deg,#ff2600 0,#f40000 17px,#ae0000 60px,#b70000 102px,#ff0a00 144px,#ff9800 182px,#ffed00 202px,#ffd200 216px,#ff7c00 244px,#ff6f00 258px)"></i><i style="background:linear-gradient(90deg,#ff2300 0,#f40000 16px,#ae0000 59px,#b70000 102px,#ff0a00 144px,#ffba00 202px,#ff9e00 224px,#ff6c00 258px)"></i><i style="background:linear-gradient(90deg,#ff2000 0,#f20000 16px,#ae0000 59px,#b80000 102px,#ff0a00 144px,#ff9500 200px,#ff8100 229px,#ff6700 258px)"></i><i style="background:linear-gradient(90deg,#ff1e00 0,#f10000 16px,#af0000 60px,#bb0000 103px,#ff0b00 144px,#ff7900 196px,#ff6e00 233px,#ff6200 258px)"></i><i style="background:linear-gradient(90deg,#ff1d00 0,#f10000 16px,#b10000 60px,#be0000 103px,#ff0a00 143px,#ff6500 191px,#ff5c00 246px,#ff5c00 258px)"></i><i style="background:linear-gradient(90deg,#ff1c00 0,#f10000 16px,#b30000 60px,#c30000 104px,#ff0900 141px,#ff5900 186px,#ff5600 258px)"></i><i style="background:linear-gradient(90deg,#ff1b00 0,#f20000 16px,#b50000 61px,#c80000 105px,#ff0a00 139px,#ff5500 180px,#ff5000 258px)"></i><i style="background:linear-gradient(90deg,#ff1c00 0,#f10000 17px,#b80000 63px,#cf0000 107px,#ff0c00 137px,#ff5a00 176px,#ff4b00 258px)"></i><i style="background:linear-gradient(90deg,#ff1c00 0,#f20000 18px,#bc0000 64px,#d40000 107px,#ff0d00 134px,#ff6700 173px,#ff4600 255px,#ff4700 258px)"></i><i style="background:linear-gradient(90deg,#ff1e00 0,#f20000 19px,#c00000 65px,#db0000 108px,#ff0b00 130px,#ff7e00 172px,#ff6000 204px,#ff4100 250px,#ff4400 258px)"></i><i style="background:linear-gradient(90deg,#ff1f00 0,#f30000 20px,#c50000 67px,#e30000 109px,#ff0e00 128px,#ffa200 172px,#ff8400 193px,#ff4400 231px,#ff4100 258px)"></i><i style="background:linear-gradient(90deg,#ff2100 0,#f40000 22px,#ca0000 70px,#ee0000 112px,#ff1300 127px,#ff8200 154px,#ffdc00 172px,#ffc500 184px,#ff6000 213px,#ff3e00 250px,#ff3f00 258px)"></i><i style="background:linear-gradient(90deg,#ff2400 0,#f40000 24px,#cf0000 72px,#f50000 113px,#ff2800 132px,#ff9500 154px,#f9ff06 166px,#b2ff4d 174px,#d5ff2a 180px,#fff700 185px,#ff9400 200px,#ff4d00 226px,#ff3e00 258px)"></i><i style="background:linear-gradient(90deg,#ff2700 0,#f40000 27px,#d40000 76px,#ff0900 120px,#ff6800 146px,#ffd100 160px,#fbff04 164px,#9aff65 169px,#5dffa2 171px,#00f5ff 173px,#005bff 175px,#00f6ff 177px,#7aff85 180px,#e1ff1e 185px,#fff700 188px,#ff9700 201px,#ff5000 225px,#ff3c00 258px)"></i><i style="background:linear-gradient(90deg,#ff2a00 0,#f50000 30px,#da0000 79px,#ff0a00 120px,#ff6a00 148px,#ffe800 166px,#ecff13 171px,#d8ff27 177px,#fff600 185px,#ff8b00 203px,#ff4800 230px,#ff3b00 258px)"></i><i style="background:linear-gradient(90deg,#ff2e00 0,#f60000 33px,#df0000 83px,#ff0b00 121px,#ff7100 154px,#ffc000 175px,#ffa400 191px,#ff4d00 224px,#ff3900 258px)"></i><i style="background:linear-gradient(90deg,#ff3200 0,#f70000 37px,#e40000 88px,#ff0c00 124px,#ff8400 177px,#ff5600 212px,#ff3600 255px,#ff3600 258px)"></i><i style="background:linear-gradient(90deg,#ff3700 0,#f80000 41px,#e90000 94px,#ff0d00 129px,#ff5b00 180px,#ff3200 256px,#ff3200 258px)"></i><i style="background:linear-gradient(90deg,#ff3b00 0,#f90000 45px,#ec0000 101px,#ff0f00 138px,#ff3d00 189px,#ff2d00 258px)"></i><i style="background:linear-gradient(90deg,#ff4000 0,#f90000 50px,#ee0000 109px,#ff1200 154px,#ff2400 216px,#ff2800 258px)"></i><i style="background:linear-gradient(90deg,#ff4500 0,#fb0000 54px,#ef0000 118px,#ff1400 197px,#ff2200 258px)"></i><i style="background:linear-gradient(90deg,#ff4b00 0,#fc0000 58px,#ed0000 128px,#ff1100 237px,#ff1c00 258px)"></i><i style="background:linear-gradient(90deg,#ff5100 0,#fd0000 62px,#ea0000 139px,#ff0e00 245px,#ff1600 258px)"></i><i style="background:linear-gradient(90deg,#ff5700 0,#fd0000 67px,#e70000 151px,#ff0c00 251px,#ff1100 258px)"></i><i style="background:linear-gradient(90deg,#ff5d00 0,#fe0000 71px,#e40000 159px,#ff0b00 256px,#ff0c00 258px)"></i><i style="background:linear-gradient(90deg,#ff6400 0,#ff0000 75px,#e20000 167px,#ff0800 258px)"></i></div>
<svg width="387" height="509" viewBox="0 0 387 509">
<defs><linearGradient id="cb" x1="0" y1="0" x2="0" y2="1"><stop offset="0.000" stop-color="#800000"/><stop offset="0.017" stop-color="#910000"/><stop offset="0.033" stop-color="#a20000"/><stop offset="0.050" stop-color="#b40000"/><stop offset="0.067" stop-color="#c50000"/><stop offset="0.083" stop-color="#d60000"/><stop offset="0.100" stop-color="#e70000"/><stop offset="0.117" stop-color="#f80000"/><stop offset="0.133" stop-color="#ff0a00"/><stop offset="0.150" stop-color="#ff1b00"/><stop offset="0.167" stop-color="#ff2c00"/><stop offset="0.183" stop-color="#ff3d00"/><stop offset="0.200" stop-color="#ff4e00"/><stop offset="0.217" stop-color="#ff5f00"/><stop offset="0.233" stop-color="#ff7000"/><stop offset="0.250" stop-color="#ff8100"/><stop offset="0.267" stop-color="#ff9200"/><stop offset="0.283" stop-color="#ffa300"/><stop offset="0.300" stop-color="#ffb400"/><stop offset="0.317" stop-color="#ffc500"/><stop offset="0.333" stop-color="#ffd600"/><stop offset="0.350" stop-color="#ffe700"/><stop offset="0.367" stop-color="#fff800"/><stop offset="0.383" stop-color="#f5ff0a"/><stop offset="0.400" stop-color="#e4ff1b"/><stop offset="0.417" stop-color="#d3ff2c"/><stop offset="0.433" stop-color="#c2ff3d"/><stop offset="0.450" stop-color="#b1ff4e"/><stop offset="0.467" stop-color="#a0ff5f"/><stop offset="0.483" stop-color="#8fff70"/><stop offset="0.500" stop-color="#7eff81"/><stop offset="0.517" stop-color="#6dff92"/><stop offset="0.533" stop-color="#5cffa3"/><stop offset="0.550" stop-color="#4bffb4"/><stop offset="0.567" stop-color="#3affc5"/><stop offset="0.583" stop-color="#29ffd6"/><stop offset="0.600" stop-color="#18ffe7"/><stop offset="0.617" stop-color="#07fff8"/><stop offset="0.633" stop-color="#00f5ff"/><stop offset="0.650" stop-color="#00e4ff"/><stop offset="0.667" stop-color="#00d3ff"/><stop offset="0.683" stop-color="#00c2ff"/><stop offset="0.700" stop-color="#00b1ff"/><stop offset="0.717" stop-color="#00a0ff"/><stop offset="0.733" stop-color="#008fff"/><stop offset="0.750" stop-color="#127ae4"/><stop offset="0.767" stop-color="#166cda"/><stop offset="0.783" stop-color="#195ece"/><stop offset="0.800" stop-color="#1a51c1"/><stop offset="0.817" stop-color="#1c3e9c"/><stop offset="0.833" stop-color="#1c3994"/><stop offset="0.850" stop-color="#19349d"/><stop offset="0.867" stop-color="#0726e5"/><stop offset="0.883" stop-color="#031bec"/><stop offset="0.900" stop-color="#0012ea"/><stop offset="0.917" stop-color="#000eda"/><stop offset="0.933" stop-color="#000aca"/><stop offset="0.950" stop-color="#0007ba"/><stop offset="0.967" stop-color="#0005a9"/><stop offset="0.983" stop-color="#000299"/><stop offset="1.000" stop-color="#000088"/></linearGradient></defs>
<!-- top panel -->
<path d="M45.5,88.4 L45.5,88.4 L45.8,88.9 L46.1,92.5 L46.2,92.2 L47.0,88.6 L47.2,88.0 L47.8,76.1 L47.9,73.9 L48.5,70.1 L49.0,67.7 L49.2,65.9 L50.0,64.1 L50.2,63.3 L50.8,64.2 L51.5,62.2 L52.0,62.4 L52.2,62.7 L52.8,65.0 L53.0,64.7 L53.7,61.5 L53.8,61.8 L54.5,60.8 L55.2,59.2 L55.5,59.8 L56.0,57.2 L56.7,53.6 L56.8,54.3 L57.5,54.3 L57.8,56.2 L58.2,54.1 L59.0,50.1 L59.0,51.8 L59.8,46.0 L60.0,45.6 L60.5,48.4 L60.8,52.7 L61.2,50.5 L62.0,46.3 L62.0,47.4 L62.8,50.0 L63.1,50.9 L63.5,54.1 L63.8,56.2 L64.2,56.6 L65.0,55.5 L65.2,58.0 L65.8,64.1 L66.3,71.2 L66.5,67.9 L67.0,59.8 L67.2,57.4 L68.0,48.3 L68.2,47.7 L68.8,52.5 L69.1,56.2 L69.5,59.2 L70.2,66.8 L70.2,66.4 L71.0,73.7 L71.4,75.7 L71.8,81.2 L72.3,91.6 L72.5,92.8 L73.2,98.4 L73.4,98.6 L74.0,105.5 L74.4,111.0 L74.8,108.7 L75.5,104.1 L75.5,104.0 L76.2,90.7 L76.4,88.0 L77.0,81.0 L77.3,79.2 L77.8,79.9 L78.5,82.2 L78.5,81.0 L79.2,84.8 L79.4,87.2 L80.0,91.0 L80.6,93.3 L80.8,93.4 L81.4,93.3 L81.5,92.2 L82.1,89.8 L82.2,89.7 L83.0,78.9 L83.2,75.7 L83.8,68.9 L84.4,63.3 L84.5,63.0 L85.2,60.5 L85.3,59.8 L86.0,64.5 L86.2,66.0 L86.8,64.4 L87.1,62.4 L87.5,64.7 L88.0,67.7 L88.2,66.3 L89.0,60.9 L89.2,58.0 L89.8,59.6 L90.3,62.4 L90.5,64.4 L91.0,68.6 L91.2,70.0 L92.0,75.8 L92.0,75.7 L92.8,79.8 L92.9,81.9 L93.5,79.6 L93.8,79.2 L94.2,76.4 L94.7,73.9 L95.0,72.7 L95.8,67.9 L95.9,65.9 L96.5,70.0 L96.8,73.9 L97.2,75.4 L97.7,78.3 L98.0,82.1 L98.6,88.0 L98.8,88.3 L99.5,100.0 L99.5,100.4 L100.0,111.9 L100.2,109.1 L100.9,102.2 L101.0,102.4 L101.8,95.3 L101.8,94.2 L102.5,94.6 L102.7,95.1 L103.2,87.5 L103.9,79.2 L104.0,77.5 L104.8,68.0 L104.8,65.9 L105.5,56.6 L105.7,54.4 L106.2,50.5 L106.5,49.1 L107.0,50.9 L107.4,51.8 L107.8,51.3 L108.3,50.9 L108.5,52.1 L109.2,57.1 L109.2,56.4 L110.0,62.6 L110.1,63.3 L110.8,68.0 L111.0,70.4 L111.5,75.8 L111.9,78.3 L112.2,79.7 L112.7,80.1 L113.0,76.5 L113.6,69.5 L113.8,68.5 L114.5,59.5 L114.5,59.8 L115.2,56.2 L115.4,54.4 L116.0,52.7 L116.3,51.8 L116.8,50.3 L116.9,49.1 L117.5,44.4 L117.8,43.8 L118.2,45.0 L118.7,45.6 L119.0,42.8 L119.5,42.1 L119.8,39.8 L120.5,40.0 L121.0,39.4 L121.2,40.5 L121.7,44.7 L122.0,45.7 L122.7,47.4 L122.8,49.7 L123.5,51.4 L123.6,52.7 L124.2,60.3 L124.3,61.5 L124.8,69.5 L125.0,68.9 L125.7,65.9 L125.8,66.6 L126.5,69.7 L126.6,70.4 L127.2,72.7 L127.5,73.9 L128.0,72.6 L128.4,70.4 L128.8,68.1 L129.3,63.3 L129.5,61.2 L130.2,58.0 L130.2,57.7 L131.0,54.4 L131.0,54.4 L131.8,51.3 L131.9,51.8 L132.5,45.6 L132.8,42.1 L133.2,46.6 L133.7,52.7 L134.0,51.8 L134.6,47.4 L134.8,47.1 L135.5,44.8 L135.5,44.7 L136.2,47.8 L136.4,49.1 L137.0,45.0 L137.2,43.8 L137.8,41.0 L138.1,42.1 L138.5,45.7 L138.7,49.1 L139.2,50.7 L139.9,51.8 L140.0,50.4 L140.8,56.7 L140.8,56.2 L141.5,61.5 L141.7,65.0 L142.2,77.8 L142.5,82.7 L143.0,92.8 L143.4,102.2 L143.8,109.1 L144.3,118.1 L144.5,119.6 L144.8,121.6 L145.2,110.5 L145.7,102.2 L146.0,98.8 L146.4,91.6 L146.8,91.3 L147.2,88.0 L147.5,87.2 L147.9,86.3 L148.2,81.4 L148.7,75.7 L149.0,73.8 L149.6,70.4 L149.8,69.2 L150.5,69.2 L150.7,67.7 L151.2,73.5 L151.4,75.7 L152.0,79.2 L152.3,81.0 L152.8,89.3 L152.9,93.0 L153.5,100.7 L153.9,106.8 L154.2,110.5 L154.9,120.6 L155.0,122.8 L155.8,129.6 L155.9,131.4 L156.5,124.6 L156.9,118.6 L157.2,115.2 L157.8,109.7 L158.0,108.1 L158.8,104.8 L158.8,104.8 L159.5,98.8 L159.8,97.0 L160.2,95.2 L160.8,93.0 L161.0,92.3 L161.8,90.9 L161.8,91.1 L162.5,85.3 L162.7,85.2 L163.2,82.3 L163.7,81.3 L164.0,83.1 L164.7,82.2 L164.8,82.4 L165.3,92.1 L165.5,91.9 L166.1,95.0 L166.2,95.2 L167.0,95.4 L167.1,94.0 L167.8,96.3 L168.0,99.0 L168.5,102.7 L169.0,106.8 L169.2,109.2 L170.0,117.0 L170.0,118.6 L170.8,127.4 L171.0,129.4 L171.5,126.9 L172.0,124.5 L172.2,122.4 L172.9,116.6 L173.0,115.3 L173.8,112.0 L173.9,110.7 L174.5,107.9 L174.9,106.8 L175.2,101.8 L175.9,93.0 L176.0,91.6 L176.8,88.6 L176.9,89.1 L177.5,87.7 L177.8,85.2 L178.2,81.8 L178.4,81.3 L179.0,78.0 L179.4,75.4 L179.8,77.7 L180.4,82.2 L180.5,80.7 L181.2,72.6 L181.4,71.4 L182.0,64.9 L182.4,59.6 L182.8,58.6 L183.3,57.7 L183.5,57.0 L184.2,54.9 L184.3,54.7 L185.0,59.2 L185.3,59.6 L185.8,66.0 L186.3,72.4 L186.5,69.1 L186.9,61.6 L187.2,61.0 L187.4,61.4 L188.0,61.4 L188.4,63.4 L188.8,62.3 L189.3,58.5 L189.5,59.9 L190.2,61.1 L190.3,61.4 L191.0,59.2 L191.3,57.5 L191.8,60.0 L192.3,61.4 L192.5,61.4 L193.2,58.5 L193.3,57.5 L194.0,64.7 L194.2,67.3 L194.8,71.4 L195.2,72.2 L195.5,73.1 L196.2,79.1 L196.2,80.1 L197.0,83.5 L197.2,84.0 L197.8,88.6 L198.2,90.9 L198.5,91.3 L199.1,87.0 L199.2,86.9 L200.0,77.1 L200.1,77.2 L200.8,69.2 L201.1,67.3 L201.5,64.5 L202.1,58.5 L202.2,57.0 L203.0,55.0 L203.1,54.6 L203.8,51.1 L204.0,48.7 L204.5,45.7 L205.0,45.7 L205.2,45.5 L206.0,52.8 L206.0,52.6 L206.8,53.4 L207.0,53.6 L207.5,54.3 L208.0,55.5 L208.2,57.2 L208.9,61.4 L209.0,60.4 L209.8,58.4 L209.9,59.5 L210.5,58.2 L210.9,57.5 L211.2,57.3 L211.9,59.5 L212.0,57.6 L212.8,56.6 L212.9,55.5 L213.5,49.6 L213.6,48.7 L214.2,54.6 L214.4,55.5 L215.0,52.9 L215.4,52.6 L215.8,53.4 L216.4,56.5 L216.5,56.8 L217.0,63.4 L217.2,62.9 L218.0,64.6 L218.0,64.4 L218.8,62.9 L218.9,63.4 L219.5,67.3 L219.9,69.3 L220.2,70.6 L220.9,72.2 L221.0,73.9 L221.8,70.2 L221.9,71.3 L222.5,78.7 L222.7,80.1 L223.2,74.6 L223.3,74.2 L224.0,76.5 L224.2,77.2 L224.8,75.0 L224.9,76.0 L225.5,72.6 L225.9,71.1 L226.2,72.1 L226.9,72.1 L227.0,71.5 L227.8,68.0 L227.9,67.2 L228.5,66.3 L228.9,66.2 L229.2,63.2 L229.5,59.3 L230.0,58.7 L230.4,58.3 L230.8,56.3 L231.4,58.3 L231.5,58.5 L232.2,65.2 L232.2,63.8 L233.0,67.8 L233.2,72.1 L233.8,74.3 L234.2,77.0 L234.5,76.6 L235.1,72.1 L235.2,72.4 L236.0,72.8 L236.1,74.0 L236.7,80.9 L236.8,79.8 L237.5,78.0 L237.7,76.0 L238.2,76.7 L238.7,77.0 L239.0,75.4 L239.6,72.1 L239.8,70.8 L240.2,67.2 L240.5,66.9 L241.2,66.2 L241.2,67.2 L242.0,71.6 L242.0,71.1 L242.8,57.4 L242.8,56.3 L243.5,52.8 L243.6,53.4 L244.2,51.0 L244.5,49.5 L245.0,44.4 L245.5,40.6 L245.8,40.4 L246.5,34.6 L246.5,35.7 L247.1,32.8 L247.2,34.0 L247.9,39.6 L248.0,40.6 L248.8,46.8 L248.9,49.5 L249.5,54.3 L249.8,54.4 L250.2,55.3 L250.8,53.4 L251.0,53.6 L251.8,56.8 L251.8,56.3 L252.5,58.7 L252.8,59.3 L253.2,60.5 L253.8,67.2 L254.0,68.1 L254.7,70.1 L254.8,69.9 L255.5,67.9 L255.7,67.2 L256.2,64.0 L256.7,63.2 L257.0,62.7 L257.7,62.2 L257.8,62.1 L258.5,64.9 L258.7,64.2 L259.2,65.1 L259.6,65.2 L260.0,66.0 L260.6,67.2 L260.8,69.0 L261.5,69.3 L261.6,70.1 L262.2,72.3 L262.9,75.2 L263.0,73.7 L263.8,77.5 L263.9,76.2 L264.5,77.7 L264.9,77.2 L265.2,77.6 L265.8,76.2 L266.0,76.0 L266.8,72.5 L266.8,72.2 L267.5,69.0 L267.8,67.3 L268.2,64.4 L268.8,61.4 L269.0,60.4 L269.8,57.7 L269.8,57.5 L270.5,57.3 L270.7,55.5 L271.2,56.6 L271.7,56.5 L272.0,55.6 L272.7,53.6 L272.8,53.2 L273.5,54.5 L273.7,55.5 L274.2,53.7 L274.7,49.6 L275.0,52.7 L275.6,57.5 L275.8,58.0 L276.5,59.9 L276.6,60.5 L277.2,62.0 L277.6,64.4 L278.0,66.3 L278.6,69.3 L278.8,71.0 L279.5,74.3 L279.6,75.2 L280.2,78.5 L280.5,80.1 L281.0,77.5 L281.5,75.2 L281.8,73.8 L282.5,67.9 L282.5,69.3 L283.2,66.8 L283.5,66.3 L284.0,66.0 L284.5,67.3 L284.8,66.6 L285.5,60.7 L285.5,61.4 L286.2,60.3 L286.4,59.5 L287.0,65.0 L287.4,66.3 L287.8,64.7 L288.4,62.4 L288.5,62.3 L289.2,66.7 L289.4,67.3 L290.0,61.4 L290.4,57.5 L290.8,55.8 L291.3,55.5 L291.5,55.3 L292.2,54.6 L292.3,52.6 L293.0,53.1 L293.3,53.6 L293.8,53.9 L294.3,54.6 L294.5,55.0 L295.0,59.3 L295.2,62.5 L295.6,66.2 L296.0,66.4 L296.5,69.1 L296.8,69.1 L297.5,74.2 L297.5,73.0 L298.2,75.2 L298.5,77.0 L299.0,82.4 L299.5,85.8 L299.8,88.9 L300.5,92.9 L300.5,92.7 L301.2,102.0 L301.5,104.5 L302.0,99.3 L302.2,94.7 L302.8,88.0 L303.2,82.9 L303.5,77.7 L304.2,67.2 L304.2,65.6 L305.0,61.7 L305.2,60.3 L305.8,56.7 L306.2,51.4 L306.5,51.6 L307.1,49.5 L307.2,47.5 L308.0,41.6 L308.1,41.6 L308.8,43.7 L309.1,45.5 L309.5,45.0 L310.1,43.6 L310.2,42.7 L311.0,39.4 L311.1,38.7 L311.8,43.2 L312.0,44.6 L312.5,45.3 L313.0,46.5 L313.2,48.2 L314.0,53.6 L314.0,53.4 L314.8,57.7 L315.0,59.3 L315.5,62.2 L316.0,64.2 L316.2,66.4 L316.5,65.2 L317.0,62.8 L317.5,59.3 L317.8,57.6 L318.5,50.9 L318.5,52.4 L319.2,47.6 L319.5,45.5 L320.0,42.3 L320.5,42.6 L320.8,39.7 L321.1,38.7 L321.5,41.6 L322.0,43.6 L322.2,45.2 L323.0,47.4 L323.0,47.5 L323.8,53.3 L324.0,57.3 L324.5,60.9 L325.0,65.2 L325.2,66.1 L325.8,70.1 L326.0,68.7 L326.7,61.3 L326.8,63.1 L327.5,57.5 L327.7,56.3 L328.2,52.9 L328.7,51.4 L329.0,49.2 L329.7,47.5 L329.8,47.3 L330.5,45.7 L330.7,45.5 L331.2,48.1 L331.6,51.4 L332.0,49.9 L332.6,47.5 L332.8,46.8 L333.5,50.3 L333.6,49.5 L334.2,50.8 L334.9,50.1 L335.0,50.8 L335.8,47.2 L335.9,47.2 L336.5,47.1 L336.9,46.2 L337.2,43.4 L337.8,39.3 L338.0,39.4 L338.8,40.9 L338.8,41.3 L339.5,36.6 L339.8,36.3 L340.2,34.1 L340.8,34.4 L341.0,34.5 L341.8,31.4 L341.8,31.4 L342.4,36.3 L342.5,37.1 L343.2,41.9 L343.3,41.3 L344.0,48.3 L344.1,51.1 L344.7,62.9 L344.8,63.5 L345.3,78.6 L345.5,76.8 L346.2,69.6 L346.3,68.8 L347.0,58.8 L347.3,55.0 L347.8,45.8 L348.0,39.3 L348.5,32.1 L348.8,27.5 L349.2,20.9 L349.6,17.7 L350.0,14.9 L350.6,12.8 L350.8,13.1 L351.5,10.5 L351.6,9.8 L352.2,6.0 L352.5,6.9 L353.0,11.2 L353.3,11.8 L353.8,19.7 L353.9,21.6 L354.5,21.5 L354.8,19.6 L355.2,21.5 L355.8,24.6 L356.0,25.5 L356.8,29.2 L356.8,30.5 L357.5,36.2 L357.8,35.4 L358.2,38.8 L358.8,43.2 L359.0,46.8 L359.7,53.0 L359.8,52.9 L360.5,61.1 L360.7,62.9 L361.2,67.3 L361.7,73.7 L362.0,70.7 L362.7,64.8 L362.8,65.2 L363.5,56.6 L363.7,56.0 L364.2,51.6 L364.6,47.2 L365.0,44.3 L365.6,39.3 L365.8,37.2 L366.5,31.7 L366.6,31.4 L367.2,29.1 L367.6,28.5 L368.0,24.9 L368.6,19.6 L368.8,17.8 L369.5,11.1 L369.5,11.8 L370.1,9.8 L370.2,9.9 L370.9,11.8 L371.0,10.8 L371.8,9.8 L371.9,10.8 L372.5,15.7 L372.5,15.7 L373.2,21.7 L373.5,22.6 L374.0,21.7 L374.5,23.6 L374.8,24.1 L375.4,25.5 L375.5,26.1 L376.2,34.7 L376.4,37.3 L377.0,47.5 L377.4,53.0 L377.8,56.6 L378.0,59.9 L378.5,56.8 L379.0,51.1 L379.2,49.3 L379.9,47.2 L380.0,47.7 L380.8,48.6 L380.9,49.1 L381.5,45.5 L381.9,44.2 L382.2,45.8 L382.9,47.2 L383.0,46.2 L383.7,40.3 L383.8,41.5 L384.3,48.1 L384.5,48.9 L385.2,50.9 L385.3,52.1" fill="none" stroke="#ff0000" stroke-width="1.5" stroke-linejoin="round"/>
<g stroke="#3a3a3a" stroke-width="1" fill="none">
<rect x="45.5" y="6.5" width="340" height="134.5"/>
<path d="M45.5,28.9h3.5M45.5,51.3h3.5M45.5,73.8h3.5M45.5,96.2h3.5M45.5,118.6h3.5M385.5,28.9h-3.5M385.5,51.3h-3.5M385.5,73.8h-3.5M385.5,96.2h-3.5M385.5,118.6h-3.5M129,141h0v-3.5M216,141v-3.5M302,141v-3.5M129,6.5v3.5M216,6.5v3.5M302,6.5v3.5"/>
</g>
<g font-size="16" text-anchor="end">
<text x="41" y="10.4">1020</text>
<text x="41" y="55.7">1010</text>
<text x="41" y="100.5">1000</text>
<text x="41" y="145.7">990</text>
</g>
<g font-size="14">
<text x="76.2" y="154.5" textLength="22.5" lengthAdjust="spacingAndGlyphs">Jun</text>
<text x="161.2" y="154.5" textLength="19" lengthAdjust="spacingAndGlyphs">Jul</text>
<text x="244.2" y="154.5" textLength="27.5" lengthAdjust="spacingAndGlyphs">Aug</text>
<text x="327.8" y="154.5" textLength="27.5" lengthAdjust="spacingAndGlyphs">Sept</text>
</g>
<text x="172.8" y="175" font-size="16" textLength="103.5" lengthAdjust="spacingAndGlyphs">Month (2002)</text>
<text x="103.4" y="196.8" font-size="16.5" font-weight="bold" textLength="20.5" lengthAdjust="spacingAndGlyphs">(a)</text>
<text x="129" y="196.5" font-size="15" textLength="194.5" lengthAdjust="spacingAndGlyphs">Atmospheric Pressure (hPa)</text>
<!-- bottom panel -->
<path d="M50,453 L50.00,214.00 L51.29,240.30 L52.58,272.60 L53.87,291.50 L55.16,304.90 L56.45,315.30 L57.74,323.80 L59.03,330.98 L60.32,337.20 L61.61,342.69 L62.90,347.60 L64.19,352.04 L65.48,356.10 L66.77,359.83 L68.06,363.28 L69.35,366.49 L70.64,369.50 L71.93,372.33 L73.22,374.99 L74.51,377.51 L75.80,379.90 L77.09,382.17 L78.38,384.34 L79.67,386.41 L80.96,388.40 L82.25,390.30 L83.54,392.13 L84.83,393.88 L86.12,395.58 L87.41,397.21 L88.70,398.79 L89.99,400.32 L91.28,401.80 L92.57,403.23 L93.86,404.63 L95.15,405.98 L96.44,407.29 L97.73,408.57 L99.02,409.81 L100.31,411.02 L101.60,412.20 L102.89,413.35 L104.18,414.47 L105.47,415.57 L106.76,416.64 L108.05,417.69 L109.34,418.71 L110.63,419.71 L111.92,420.70 L113.21,421.66 L114.50,422.60 L115.79,423.52 L117.08,424.43 L118.37,425.31 L119.66,426.18 L120.95,427.04 L122.24,427.88 L123.53,428.70 L124.82,429.51 L126.11,430.31 L127.40,431.09 L128.69,431.86 L129.98,432.62 L131.27,433.37 L132.56,434.10 L133.85,434.82 L135.14,435.53 L136.43,436.24 L137.72,436.93 L139.01,437.61 L140.30,438.28 L141.59,438.94 L142.88,439.59 L144.17,440.23 L145.46,440.87 L146.75,441.49 L148.04,442.11 L149.33,442.72 L150.62,443.32 L151.91,443.91 L153.20,444.50 L154.49,445.08 L155.78,445.65 L157.07,446.21 L158.36,446.77 L159.65,447.32 L160.94,447.87 L162.23,448.41 L163.52,448.94 L164.81,449.47 L166.10,449.99 L167.39,450.50 L168.68,451.01 L169.97,451.52 L171.26,452.01 L172.55,452.51 L173.84,453.00 L175.13,453.00 L176.42,453.00 L177.71,453.00 L179.00,453.00 L180.29,453.00 L181.58,453.00 L182.87,453.00 L184.16,453.00 L185.45,452.51 L186.74,452.01 L188.03,451.52 L189.32,451.01 L190.61,450.50 L191.90,449.99 L193.19,449.47 L194.48,448.94 L195.77,448.41 L197.06,447.87 L198.35,447.32 L199.64,446.77 L200.93,446.21 L202.22,445.65 L203.51,445.08 L204.80,444.50 L206.09,443.91 L207.38,443.32 L208.67,442.72 L209.96,442.11 L211.25,441.49 L212.54,440.87 L213.83,440.23 L215.12,439.59 L216.41,438.94 L217.70,438.28 L218.99,437.61 L220.28,436.93 L221.57,436.24 L222.86,435.53 L224.15,434.82 L225.44,434.10 L226.73,433.37 L228.02,432.62 L229.31,431.86 L230.60,431.09 L231.89,430.31 L233.18,429.51 L234.47,428.70 L235.76,427.88 L237.05,427.04 L238.34,426.18 L239.63,425.31 L240.92,424.43 L242.21,423.52 L243.50,422.60 L244.79,421.66 L246.08,420.70 L247.37,419.71 L248.66,418.71 L249.95,417.69 L251.24,416.64 L252.53,415.57 L253.82,414.47 L255.11,413.35 L256.40,412.20 L257.69,411.02 L258.98,409.81 L260.27,408.57 L261.56,407.29 L262.85,405.98 L264.14,404.63 L265.43,403.23 L266.72,401.80 L268.01,400.32 L269.30,398.79 L270.59,397.21 L271.88,395.58 L273.17,393.88 L274.46,392.13 L275.75,390.30 L277.04,388.40 L278.33,386.41 L279.62,384.34 L280.91,382.17 L282.20,379.90 L283.49,377.51 L284.78,374.99 L286.07,372.33 L287.36,369.50 L288.65,366.49 L289.94,363.28 L291.23,359.83 L292.52,356.10 L293.81,352.04 L295.10,347.60 L296.39,342.69 L297.68,337.20 L298.97,330.98 L300.26,323.80 L301.55,315.30 L302.84,304.90 L304.13,291.50 L305.42,272.60 L306.71,240.30 L308.00,214.00 L308,453 Z" fill="#fff" stroke="none"/>
<path d="M171.5,252.7 L171.4,252.5 L170.5,251.5 L170.5,251.5 L170.1,250.5 L169.5,249.6 L168.5,250.4 L168.4,250.5 L167.9,251.5 L167.5,252.5 L167.5,252.6 L167.4,252.5 L166.5,251.9 L166.4,251.5 L166.0,250.5 L165.5,249.5 L165.5,249.4 L164.8,248.5 L164.5,248.0 L163.9,247.5 L163.5,247.2 L163.2,247.5 L162.5,248.1 L162.4,248.5 L162.1,249.5 L161.9,250.5 L161.7,251.5 L161.5,252.5 L161.5,252.6 L161.4,252.5 L160.5,251.5 L160.5,251.5 L160.2,250.5 L159.8,249.5 L159.5,248.8 L158.7,249.5 L158.5,249.7 L158.3,249.5 L157.6,248.5 L157.5,248.4 L156.9,247.5 L156.5,246.9 L156.2,247.5 L155.8,248.5 L155.5,249.2 L155.4,249.5 L154.9,250.5 L154.5,251.5 L154.5,251.5 L153.6,252.5 L153.5,252.6 L153.2,252.5 L152.5,252.3 L152.0,251.5 L151.5,250.8 L150.7,250.5 L150.5,250.4 L150.4,250.5 L149.5,251.0 L148.5,251.4 L147.5,250.7 L147.3,250.5 L146.6,249.5 L146.5,249.4 L145.5,248.5 L145.5,248.5 L144.9,247.5 L144.6,246.5 L144.5,245.6 L144.5,245.5 L144.5,245.3 L144.5,244.5 L144.6,243.5 L144.7,242.5 L144.9,241.5 L145.0,240.5 L145.1,239.5 L145.2,238.5 L145.4,237.5 L145.5,236.8 L145.7,236.5 L146.5,236.0 L146.8,235.5 L147.5,234.6 L147.5,234.5 L148.2,233.5 L148.5,233.0 L148.8,233.5 L149.5,234.4 L150.1,233.5 L150.5,232.8 L150.8,232.5 L151.5,231.9 L152.0,231.5 L152.5,231.1 L152.7,231.5 L153.3,232.5 L153.5,232.8 L154.0,233.5 L154.5,234.2 L154.7,234.5 L155.2,235.5 L155.5,236.1 L155.8,236.5 L156.4,237.5 L156.5,237.8 L157.5,238.4 L157.8,237.5 L158.3,236.5 L158.5,236.0 L158.7,235.5 L159.0,234.5 L159.3,233.5 L159.5,232.5 L159.5,232.5 L159.5,232.5 L160.5,232.9 L161.5,233.4 L161.5,233.5 L161.9,234.5 L162.2,235.5 L162.5,236.5 L162.5,236.6 L162.8,237.5 L163.1,238.5 L163.4,239.5 L163.5,239.8 L163.8,239.5 L164.5,238.6 L164.5,238.5 L165.1,237.5 L165.5,236.9 L165.6,236.5 L166.0,235.5 L166.3,234.5 L166.5,233.7 L166.6,233.5 L166.9,232.5 L167.1,231.5 L167.4,230.5 L167.5,230.1 L167.6,230.5 L167.9,231.5 L168.2,232.5 L168.5,233.4 L168.6,233.5 L169.4,234.5 L169.5,234.6 L170.0,234.5 L170.5,234.4 L171.5,234.3 L172.5,234.4 L173.5,234.1 L174.5,233.8 L174.6,234.5 L174.8,235.5 L175.0,236.5 L175.4,237.5 L175.5,237.8 L175.6,237.5 L176.1,236.5 L176.4,235.5 L176.5,235.1 L177.5,234.8 L178.0,234.5 L178.5,234.1 L179.5,233.6 L180.1,234.5 L180.5,235.2 L181.5,235.5 L181.9,234.5 L182.1,233.5 L182.3,232.5 L182.4,231.5 L182.5,230.7 L182.6,231.5 L182.8,232.5 L183.0,233.5 L183.3,234.5 L183.5,234.9 L183.9,234.5 L184.5,233.8 L185.5,234.0 L186.1,234.5 L186.5,234.9 L187.3,235.5 L187.5,235.7 L188.0,236.5 L188.5,237.0 L188.7,236.5 L189.1,235.5 L189.3,234.5 L189.5,233.5 L190.0,234.5 L190.5,235.2 L190.6,235.5 L190.8,236.5 L191.2,237.5 L191.5,238.3 L191.9,237.5 L192.3,236.5 L192.5,235.9 L193.5,236.2 L194.2,235.5 L194.5,235.2 L194.7,234.5 L194.9,233.5 L195.1,232.5 L195.2,231.5 L195.3,230.5 L195.4,229.5 L195.5,228.5 L195.5,228.4 L195.5,228.5 L195.5,229.5 L195.6,230.5 L195.7,231.5 L195.8,232.5 L196.1,233.5 L196.4,234.5 L196.5,234.6 L196.6,234.5 L197.0,233.5 L197.2,232.5 L197.4,231.5 L197.5,230.5 L197.5,230.4 L197.5,230.5 L197.7,231.5 L198.1,232.5 L198.5,233.4 L198.7,233.5 L199.5,234.0 L200.5,234.3 L200.7,234.5 L201.5,235.3 L202.5,235.1 L202.8,234.5 L203.1,233.5 L203.5,232.5 L203.5,232.4 L204.5,231.6 L204.8,232.5 L205.2,233.5 L205.5,234.2 L205.6,234.5 L205.9,235.5 L206.3,236.5 L206.5,236.9 L206.7,236.5 L207.0,235.5 L207.3,234.5 L207.5,233.5 L207.5,233.2 L207.7,233.5 L208.5,234.2 L209.0,233.5 L209.5,232.6 L210.5,233.1 L210.6,233.5 L210.8,234.5 L211.2,235.5 L211.5,236.3 L212.0,235.5 L212.4,234.5 L212.5,234.1 L213.2,234.5 L213.5,234.7 L214.3,235.5 L214.5,235.8 L214.7,236.5 L214.8,237.5 L214.9,238.5 L215.0,239.5 L215.0,240.5 L215.1,241.5 L215.2,242.5 L215.3,243.5 L215.4,244.5 L215.5,245.4 L215.5,245.5 L215.7,246.5 L215.7,247.5 L215.5,248.4 L215.5,248.5 L214.5,249.1 L213.7,249.5 L213.5,249.6 L212.5,249.5 L211.5,249.9 L211.0,250.5 L210.5,251.3 L210.2,251.5 L209.5,252.1 L208.5,252.1 L208.2,251.5 L207.6,250.5 L207.5,250.3 L207.0,249.5 L206.5,248.9 L205.8,249.5 L205.5,249.8 L204.9,250.5 L204.5,250.9 L203.6,250.5 L203.5,250.5 L202.5,250.4 L202.4,250.5 L201.7,251.5 L201.5,252.0 L200.8,251.5 L200.5,251.3 L199.9,250.5 L199.5,250.1 L199.0,250.5 L198.5,250.9 L197.5,251.4 L197.4,251.5 L196.5,252.2 L195.5,251.6 L195.5,251.5 L195.1,250.5 L194.7,249.5 L194.5,248.9 L194.2,248.5 L193.5,247.7 L192.6,248.5 L192.5,248.6 L192.2,248.5 L191.5,248.2 L190.5,247.9 L190.2,248.5 L189.7,249.5 L189.5,249.9 L189.1,250.5 L188.5,251.4 L187.5,250.8 L186.8,250.5 L186.5,250.4 L186.4,250.5 L185.7,251.5 L185.5,252.0 L185.1,251.5 L184.5,250.6 L184.5,250.5 L184.1,249.5 L183.5,248.6 L182.9,249.5 L182.5,250.5 L182.5,250.6 L181.5,250.8 L181.4,250.5 L181.0,249.5 L180.5,248.7 L179.5,249.5 L179.5,249.5 L178.7,250.5 L178.5,250.8 L177.7,251.5 L177.5,251.7 L176.5,251.8 L176.4,251.5 L176.2,250.5 L175.8,249.5 L175.5,248.7 L175.3,248.5 L174.5,247.6 L173.9,248.5 L173.5,249.1 L173.3,249.5 L173.0,250.5 L172.6,251.5 L172.5,252.0 L171.8,252.5 L171.5,252.7 M251.5,252.8 L251.2,252.5 L250.5,251.8 L250.4,251.5 L249.8,250.5 L249.5,250.1 L248.5,250.4 L248.4,250.5 L247.5,251.3 L246.8,251.5 L246.5,251.6 L246.5,251.5 L245.6,250.5 L245.5,250.4 L244.5,249.7 L243.5,249.6 L242.5,250.5 L242.5,250.5 L241.5,250.6 L240.5,251.5 L240.5,251.5 L239.5,252.2 L238.8,251.5 L238.5,251.2 L237.5,251.2 L236.5,251.1 L236.1,250.5 L235.5,249.8 L234.5,250.3 L234.4,250.5 L233.8,251.5 L233.5,252.2 L232.7,252.5 L232.5,252.6 L232.4,252.5 L231.7,251.5 L231.5,251.2 L231.4,250.5 L231.1,249.5 L230.8,248.5 L230.5,247.5 L230.5,247.5 L230.5,247.5 L229.5,248.2 L229.3,248.5 L228.8,249.5 L228.5,250.3 L228.3,249.5 L227.9,248.5 L227.5,247.7 L227.3,247.5 L226.5,246.8 L226.1,247.5 L225.5,248.5 L225.5,248.6 L225.1,249.5 L224.6,250.5 L224.5,250.8 L223.5,251.4 L222.7,250.5 L222.5,250.3 L221.5,250.3 L220.5,249.5 L220.5,249.5 L219.9,248.5 L219.5,247.9 L218.5,247.9 L217.5,247.7 L217.3,247.5 L217.0,246.5 L217.0,245.5 L217.1,244.5 L217.2,243.5 L217.3,242.5 L217.4,241.5 L217.5,240.6 L217.5,240.5 L217.7,239.5 L217.8,238.5 L218.0,237.5 L218.4,236.5 L218.5,236.2 L219.2,236.5 L219.5,236.6 L219.6,236.5 L220.5,235.9 L220.9,235.5 L221.5,234.8 L222.0,235.5 L222.5,236.0 L222.9,235.5 L223.5,234.5 L223.5,234.5 L223.5,234.5 L224.3,235.5 L224.5,235.7 L225.0,236.5 L225.5,237.4 L226.5,236.7 L227.5,237.0 L227.8,236.5 L228.5,235.5 L229.5,235.6 L229.9,236.5 L230.5,237.5 L231.2,236.5 L231.5,236.2 L231.8,235.5 L232.2,234.5 L232.5,233.5 L232.6,233.5 L233.5,232.8 L234.1,232.5 L234.5,232.3 L234.9,231.5 L235.2,230.5 L235.5,229.5 L235.5,229.4 L235.5,229.5 L235.8,230.5 L236.1,231.5 L236.4,232.5 L236.5,232.8 L236.6,233.5 L236.8,234.5 L237.0,235.5 L237.3,236.5 L237.5,237.0 L237.8,236.5 L238.3,235.5 L238.5,234.8 L238.6,234.5 L239.0,233.5 L239.4,232.5 L239.5,232.2 L239.6,232.5 L240.1,233.5 L240.5,234.1 L241.5,233.9 L242.5,234.1 L242.7,234.5 L243.2,235.5 L243.5,236.0 L244.1,235.5 L244.5,235.3 L244.7,234.5 L245.0,233.5 L245.3,232.5 L245.4,231.5 L245.5,231.2 L246.0,231.5 L246.5,231.8 L247.4,232.5 L247.5,232.5 L248.5,233.1 L248.6,233.5 L249.1,234.5 L249.5,235.4 L250.5,235.0 L250.9,234.5 L251.5,233.9 L252.5,234.4 L252.5,234.5 L252.8,235.5 L253.0,236.5 L253.1,237.5 L253.2,238.5 L253.2,239.5 L253.3,240.5 L253.3,241.5 L253.4,242.5 L253.4,243.5 L253.5,244.5 L253.5,245.3 L253.5,245.5 L253.5,245.7 L253.5,246.5 L253.4,247.5 L253.3,248.5 L253.1,249.5 L252.8,250.5 L252.5,251.4 L252.4,251.5 L251.7,252.5 L251.5,252.8 M111.5,252.5 L111.5,252.5 L110.5,252.0 L110.4,251.5 L110.1,250.5 L109.7,249.5 L109.5,248.8 L109.4,248.5 L109.1,247.5 L108.7,246.5 L108.5,246.1 L107.7,246.5 L107.5,246.6 L107.1,247.5 L106.8,248.5 L106.5,249.5 L106.5,249.5 L105.8,250.5 L105.5,251.0 L104.5,250.5 L104.4,250.5 L103.5,250.2 L103.1,249.5 L102.5,248.5 L102.5,248.4 L101.7,247.5 L101.5,247.3 L101.4,247.5 L100.9,248.5 L100.5,249.4 L100.5,249.5 L99.8,250.5 L99.5,250.8 L98.5,250.9 L98.2,250.5 L97.5,249.7 L96.5,250.5 L96.5,250.5 L95.5,251.5 L95.5,251.5 L95.5,251.5 L94.5,250.5 L94.5,250.5 L93.5,250.5 L92.5,249.9 L91.5,250.3 L90.5,250.2 L90.1,249.5 L89.5,248.7 L88.9,249.5 L88.5,250.2 L88.3,250.5 L87.8,251.5 L87.5,252.3 L87.3,252.5 L86.5,253.3 L85.7,252.5 L85.5,252.3 L85.1,251.5 L84.6,250.5 L84.5,250.3 L84.1,249.5 L83.5,248.5 L83.5,248.4 L82.5,248.1 L82.3,248.5 L81.9,249.5 L81.5,250.5 L81.5,250.5 L80.5,250.7 L80.3,250.5 L79.5,249.8 L78.8,249.5 L78.5,249.4 L77.8,248.5 L77.5,248.1 L76.5,247.6 L75.9,248.5 L75.5,249.2 L74.7,249.5 L74.5,249.6 L73.5,249.7 L72.5,250.1 L71.5,249.9 L70.8,249.5 L70.5,249.3 L70.3,249.5 L69.5,250.3 L69.2,250.5 L68.5,251.0 L67.5,251.3 L66.9,250.5 L66.5,250.0 L65.7,249.5 L65.5,249.4 L64.9,249.5 L64.5,249.6 L63.5,249.8 L63.0,250.5 L62.5,251.4 L62.4,251.5 L61.7,252.5 L61.5,252.8 L61.2,252.5 L60.5,251.8 L60.3,251.5 L59.5,250.5 L59.5,250.5 L58.9,249.5 L58.5,248.8 L57.5,249.4 L57.5,249.5 L56.8,250.5 L56.5,250.9 L55.5,250.9 L54.5,250.6 L54.4,250.5 L53.5,249.5 L53.5,249.5 L52.5,249.1 L51.9,249.5 L51.5,249.9 L51.4,249.5 L51.2,248.5 L51.1,247.5 L51.0,246.5 L50.9,245.5 L50.9,244.5 L50.8,243.5 L50.8,242.5 L50.8,241.5 L50.7,240.5 L50.7,239.5 L50.6,238.5 L50.6,237.5 L50.6,236.5 L50.6,235.5 L50.7,234.5 L51.0,233.5 L51.5,233.1 L51.6,233.5 L51.8,234.5 L52.1,235.5 L52.5,236.2 L53.5,235.5 L53.5,235.5 L54.5,234.7 L55.5,234.6 L55.7,234.5 L56.5,233.8 L57.5,234.4 L57.6,234.5 L58.5,235.1 L59.5,235.2 L60.1,234.5 L60.5,233.9 L61.3,233.5 L61.5,233.4 L62.5,233.2 L62.6,233.5 L63.1,234.5 L63.5,235.2 L64.5,234.5 L64.9,235.5 L65.3,236.5 L65.5,236.8 L65.7,236.5 L66.4,235.5 L66.5,235.3 L66.7,234.5 L66.9,233.5 L67.1,232.5 L67.3,231.5 L67.4,230.5 L67.5,230.1 L67.6,230.5 L68.1,231.5 L68.5,232.1 L68.8,232.5 L69.5,233.5 L69.5,233.5 L69.8,234.5 L70.2,235.5 L70.5,236.2 L71.0,236.5 L71.5,236.8 L71.7,236.5 L72.5,235.5 L72.5,235.5 L73.3,234.5 L73.5,234.2 L73.6,234.5 L74.0,235.5 L74.5,236.4 L75.5,235.7 L76.1,236.5 L76.5,237.0 L77.5,237.5 L78.5,236.5 L78.5,236.5 L78.8,235.5 L79.1,234.5 L79.3,233.5 L79.5,232.5 L79.5,232.3 L79.6,232.5 L80.0,233.5 L80.5,234.4 L80.6,234.5 L81.5,235.5 L81.5,235.5 L81.6,235.5 L82.5,235.1 L82.7,235.5 L83.3,236.5 L83.5,236.8 L84.1,236.5 L84.5,236.3 L84.7,235.5 L85.0,234.5 L85.2,233.5 L85.3,232.5 L85.5,231.5 L85.5,231.2 L86.5,231.0 L86.6,231.5 L86.9,232.5 L87.3,233.5 L87.5,233.9 L88.5,233.9 L89.0,233.5 L89.5,232.8 L89.6,233.5 L89.7,234.5 L89.9,235.5 L90.2,236.5 L90.5,237.3 L90.9,236.5 L91.2,235.5 L91.5,234.5 L91.5,234.5 L91.9,233.5 L92.2,232.5 L92.5,231.5 L92.5,231.3 L92.5,231.5 L92.6,232.5 L92.8,233.5 L93.0,234.5 L93.4,235.5 L93.5,235.6 L93.6,235.5 L94.2,234.5 L94.4,233.5 L94.5,233.2 L94.6,233.5 L94.8,234.5 L95.3,235.5 L95.5,235.9 L95.9,235.5 L96.5,234.6 L96.6,234.5 L97.5,234.2 L97.9,233.5 L98.3,232.5 L98.5,231.8 L98.7,232.5 L98.9,233.5 L99.1,234.5 L99.3,235.5 L99.5,236.0 L99.7,236.5 L100.1,237.5 L100.5,238.3 L101.0,237.5 L101.4,236.5 L101.5,236.2 L102.5,236.4 L103.0,235.5 L103.5,234.5 L103.5,234.3 L103.5,234.5 L103.9,235.5 L104.5,236.4 L105.0,235.5 L105.3,234.5 L105.5,233.6 L105.8,234.5 L106.4,235.5 L106.5,235.6 L106.6,235.5 L107.2,234.5 L107.5,233.5 L107.5,233.4 L107.5,233.5 L107.6,234.5 L107.8,235.5 L108.0,236.5 L108.2,237.5 L108.4,238.5 L108.5,238.8 L109.3,238.5 L109.5,238.5 L109.7,237.5 L109.9,236.5 L110.0,235.5 L110.2,234.5 L110.3,233.5 L110.4,232.5 L110.4,231.5 L110.5,230.7 L110.7,231.5 L111.1,232.5 L111.5,233.2 L111.6,233.5 L111.7,234.5 L112.0,235.5 L112.3,236.5 L112.5,237.2 L112.8,236.5 L113.2,235.5 L113.4,234.5 L113.5,233.9 L113.6,233.5 L114.0,232.5 L114.2,231.5 L114.5,230.5 L114.5,230.4 L114.5,230.5 L114.6,231.5 L114.7,232.5 L114.9,233.5 L115.2,234.5 L115.5,235.1 L115.8,234.5 L116.2,233.5 L116.4,232.5 L116.5,232.1 L116.7,232.5 L117.3,233.5 L117.5,233.7 L117.8,234.5 L118.1,235.5 L118.4,236.5 L118.5,236.7 L119.4,237.5 L119.5,237.6 L119.5,237.5 L119.8,236.5 L120.1,235.5 L120.3,234.5 L120.5,233.6 L121.5,234.0 L122.0,233.5 L122.5,233.0 L122.9,232.5 L123.5,231.6 L123.6,231.5 L124.2,230.5 L124.5,230.0 L124.5,230.5 L124.6,231.5 L124.7,232.5 L124.9,233.5 L125.1,234.5 L125.3,235.5 L125.5,236.1 L125.9,235.5 L126.3,234.5 L126.5,233.5 L126.5,233.4 L127.5,233.4 L127.5,233.5 L127.7,234.5 L128.0,235.5 L128.4,236.5 L128.5,236.7 L128.6,236.5 L129.0,235.5 L129.3,234.5 L129.5,233.5 L129.5,233.1 L129.6,233.5 L130.2,234.5 L130.5,235.0 L130.9,235.5 L131.5,236.2 L131.8,235.5 L132.1,234.5 L132.3,233.5 L132.5,232.8 L132.7,232.5 L133.3,231.5 L133.5,230.9 L133.6,231.5 L133.7,232.5 L133.9,233.5 L134.1,234.5 L134.3,235.5 L134.5,236.2 L134.6,236.5 L134.9,237.5 L135.1,238.5 L135.3,239.5 L135.5,240.5 L135.5,240.5 L135.7,241.5 L135.9,242.5 L135.9,243.5 L136.0,244.5 L136.0,245.5 L135.8,246.5 L135.7,247.5 L135.5,248.5 L135.5,248.5 L135.2,249.5 L134.8,250.5 L134.5,251.5 L133.5,250.6 L133.4,250.5 L132.5,249.6 L131.5,250.5 L131.5,250.5 L131.5,250.5 L130.5,249.6 L129.5,249.5 L128.5,250.4 L127.5,249.7 L126.5,249.8 L125.6,250.5 L125.5,250.6 L124.9,251.5 L124.5,252.4 L123.5,252.1 L123.0,251.5 L122.5,251.1 L121.5,251.5 L120.5,250.6 L120.5,250.5 L120.0,249.5 L119.6,248.5 L119.5,248.3 L118.5,247.9 L118.0,248.5 L117.5,249.0 L117.3,249.5 L116.8,250.5 L116.5,251.5 L115.5,251.2 L114.6,250.5 L114.5,250.4 L113.5,249.9 L112.5,250.3 L112.4,250.5 L111.9,251.5 L111.5,252.5 L111.5,252.5 M307.5,247.1 L307.5,247.5 L307.3,248.5 L307.2,249.5 L307.1,250.5 L306.9,251.5 L306.7,252.5 L306.5,253.5 L306.5,253.8 L305.5,254.5 L305.4,253.5 L305.1,252.5 L304.9,251.5 L304.7,250.5 L304.5,249.5 L304.5,249.5 L304.3,248.5 L304.2,247.5 L304.1,246.5 L304.1,245.5 L304.1,244.5 L304.2,243.5 L304.3,242.5 L304.4,241.5 L304.4,240.5 L304.5,239.8 L304.5,239.5 L304.6,238.5 L304.7,237.5 L304.8,236.5 L305.0,235.5 L305.4,234.5 L305.5,234.3 L305.7,233.5 L306.0,232.5 L306.2,231.5 L306.4,230.5 L306.5,230.0 L306.9,230.5 L307.4,231.5 L307.5,232.0 M271.5,252.7 L270.9,252.5 L270.5,252.3 L269.8,251.5 L269.5,251.2 L268.5,251.1 L267.5,250.7 L267.4,250.5 L266.9,249.5 L266.5,248.8 L266.0,248.5 L265.5,248.2 L265.3,248.5 L264.9,249.5 L264.6,250.5 L264.5,250.7 L264.1,250.5 L263.5,250.2 L263.3,249.5 L262.9,248.5 L262.5,247.8 L261.6,248.5 L261.5,248.6 L261.0,249.5 L260.6,250.5 L260.5,250.8 L259.9,250.5 L259.5,250.3 L258.5,249.8 L257.5,250.4 L257.1,249.5 L256.7,248.5 L256.5,247.8 L256.4,247.5 L256.3,246.5 L256.2,245.5 L256.2,244.5 L256.2,243.5 L256.2,242.5 L256.3,241.5 L256.3,240.5 L256.4,239.5 L256.5,238.5 L256.5,237.9 L256.6,237.5 L257.1,236.5 L257.5,236.1 L257.9,235.5 L258.3,234.5 L258.5,234.1 L259.5,233.9 L259.7,234.5 L260.2,235.5 L260.5,236.0 L261.0,235.5 L261.5,234.7 L261.7,234.5 L262.5,233.6 L263.1,234.5 L263.5,235.1 L263.7,235.5 L264.1,236.5 L264.5,237.2 L265.0,236.5 L265.5,235.6 L265.5,235.5 L265.9,234.5 L266.2,233.5 L266.4,232.5 L266.5,232.1 L266.5,232.5 L266.7,233.5 L266.9,234.5 L267.2,235.5 L267.5,236.1 L268.0,235.5 L268.5,234.7 L268.6,234.5 L269.0,233.5 L269.5,232.5 L269.5,232.5 L270.5,231.8 L270.8,232.5 L271.2,233.5 L271.5,234.2 L271.6,234.5 L272.2,235.5 L272.5,236.0 L272.7,235.5 L273.1,234.5 L273.4,233.5 L273.5,232.7 L274.2,233.5 L274.5,233.7 L274.8,233.5 L275.5,232.9 L275.8,232.5 L276.4,231.5 L276.5,231.3 L277.5,231.4 L277.5,231.5 L277.9,232.5 L278.2,233.5 L278.4,234.5 L278.5,234.8 L278.6,235.5 L278.8,236.5 L279.1,237.5 L279.5,238.5 L279.5,238.5 L279.5,238.5 L279.8,237.5 L280.1,236.5 L280.3,235.5 L280.4,234.5 L280.5,234.0 L281.0,233.5 L281.5,233.1 L281.8,233.5 L282.3,234.5 L282.5,234.8 L282.6,235.5 L282.7,236.5 L282.9,237.5 L283.2,238.5 L283.4,239.5 L283.5,239.8 L283.6,239.5 L284.0,238.5 L284.3,237.5 L284.5,236.9 L284.6,236.5 L284.8,235.5 L285.1,234.5 L285.3,233.5 L285.5,232.5 L285.5,232.4 L285.6,232.5 L286.5,233.2 L286.7,233.5 L287.5,234.5 L287.5,234.5 L288.5,235.4 L289.1,234.5 L289.5,233.9 L289.9,233.5 L290.5,232.6 L290.6,233.5 L290.8,234.5 L291.0,235.5 L291.2,236.5 L291.5,237.5 L291.5,237.6 L292.5,237.5 L292.5,237.5 L293.3,236.5 L293.5,236.2 L293.8,235.5 L294.1,234.5 L294.4,233.5 L294.5,233.2 L295.5,232.5 L295.5,232.5 L295.5,232.5 L295.8,233.5 L296.2,234.5 L296.5,235.0 L297.0,235.5 L297.5,235.9 L298.5,236.0 L299.3,235.5 L299.5,235.4 L299.9,234.5 L300.2,233.5 L300.5,232.5 L300.5,232.3 L300.5,232.5 L300.9,233.5 L301.2,234.5 L301.5,235.5 L301.5,235.6 L301.7,236.5 L301.9,237.5 L302.0,238.5 L302.1,239.5 L302.2,240.5 L302.3,241.5 L302.3,242.5 L302.4,243.5 L302.5,244.5 L302.5,245.5 L302.4,246.5 L302.3,247.5 L302.1,248.5 L301.8,249.5 L301.5,250.4 L301.4,250.5 L300.5,251.5 L300.5,251.5 L300.5,251.5 L299.7,250.5 L299.5,250.3 L298.6,249.5 L298.5,249.4 L298.3,249.5 L297.5,249.9 L296.9,250.5 L296.5,251.0 L295.5,250.7 L294.5,250.6 L294.3,250.5 L293.5,249.8 L293.4,249.5 L292.9,248.5 L292.5,247.7 L292.2,247.5 L291.5,247.1 L291.3,247.5 L290.8,248.5 L290.5,249.3 L290.4,249.5 L289.8,250.5 L289.5,251.0 L288.5,251.0 L287.5,250.9 L286.5,250.9 L285.8,250.5 L285.5,250.3 L285.1,249.5 L284.6,248.5 L284.5,248.3 L283.8,247.5 L283.5,247.1 L283.4,247.5 L283.0,248.5 L282.7,249.5 L282.5,250.4 L282.4,250.5 L281.5,251.3 L280.6,250.5 L280.5,250.4 L280.0,249.5 L279.5,248.6 L278.5,248.6 L278.1,249.5 L277.7,250.5 L277.5,251.4 L277.4,251.5 L276.5,252.1 L275.5,252.1 L274.5,251.9 L274.3,251.5 L273.7,250.5 L273.5,250.1 L272.5,250.4 L272.4,250.5 L271.9,251.5 L271.6,252.5 L271.5,252.7 M73.5,310.8 L72.9,310.5 L72.5,310.2 L72.2,309.5 L72.1,308.5 L72.0,307.5 L71.7,306.5 L71.5,306.1 L71.2,305.5 L70.6,304.5 L70.5,304.4 L69.5,304.2 L68.9,304.5 L68.5,304.6 L68.1,304.5 L67.5,304.1 L66.9,304.5 L66.6,305.5 L66.5,305.9 L65.9,306.5 L65.5,307.3 L64.5,306.7 L64.4,306.5 L64.3,305.5 L64.3,304.5 L64.3,303.5 L64.2,302.5 L64.2,301.5 L64.2,300.5 L64.1,299.5 L64.1,298.5 L64.1,297.5 L64.2,296.5 L64.2,295.5 L64.3,294.5 L64.4,293.5 L64.4,292.5 L64.4,291.5 L64.4,290.5 L64.5,289.6 L64.6,289.5 L64.7,288.5 L64.5,288.4 L64.2,287.5 L64.1,286.5 L64.0,285.5 L63.9,284.5 L63.7,283.5 L63.5,282.7 L63.4,282.5 L62.6,281.5 L62.5,281.3 L62.2,281.5 L61.5,282.0 L60.5,282.2 L60.3,281.5 L60.1,280.5 L59.8,279.5 L59.6,278.5 L59.5,277.7 L59.5,277.5 L59.5,276.5 L59.5,276.1 L59.5,275.5 L59.7,274.5 L59.8,273.5 L59.9,272.5 L59.9,271.5 L60.1,270.5 L60.3,269.5 L60.3,268.5 L60.5,267.5 L60.5,267.4 L60.9,266.5 L61.1,265.5 L61.2,264.5 L61.3,263.5 L61.4,262.5 L61.4,261.5 L61.5,260.6 L62.5,260.7 L62.8,261.5 L63.5,262.4 L63.5,262.5 L63.6,263.5 L63.7,264.5 L63.7,265.5 L64.0,266.5 L64.3,267.5 L64.4,268.5 L64.5,269.0 L64.6,269.5 L64.8,270.5 L65.3,271.5 L65.5,271.7 L65.6,271.5 L66.1,270.5 L66.3,269.5 L66.4,268.5 L66.5,267.5 L66.5,267.4 L66.6,266.5 L67.1,265.5 L67.5,264.5 L67.5,263.9 L67.5,264.5 L68.3,265.5 L68.5,265.6 L69.5,265.6 L69.7,265.5 L70.1,264.5 L70.3,263.5 L70.5,262.9 L70.7,263.5 L70.8,264.5 L70.9,265.5 L71.1,266.5 L71.5,267.4 L71.5,267.5 L71.8,268.5 L72.1,269.5 L72.4,270.5 L72.5,270.8 L73.0,271.5 L73.5,272.0 L73.7,272.5 L73.9,273.5 L74.1,274.5 L74.3,275.5 L74.5,276.5 L74.5,276.9 L74.5,277.5 L74.6,278.5 L74.5,279.5 L74.5,279.9 L74.4,280.5 L74.3,281.5 L74.3,282.5 L74.3,283.5 L73.5,284.5 L73.5,284.5 L72.5,284.9 L72.3,284.5 L72.0,283.5 L71.8,282.5 L71.5,281.7 L71.3,281.5 L70.5,280.7 L70.2,281.5 L69.8,282.5 L69.6,283.5 L69.5,284.4 L69.5,284.5 L69.3,285.5 L69.3,286.5 L69.2,287.5 L68.7,288.5 L68.6,289.5 L68.6,290.5 L69.5,291.3 L70.5,291.2 L71.5,290.5 L71.5,290.5 L72.5,289.7 L73.5,289.6 L74.4,290.5 L74.5,290.8 L74.7,291.5 L74.9,292.5 L74.9,293.5 L74.9,294.5 L74.9,295.5 L74.8,296.5 L74.8,297.5 L74.8,298.5 L74.8,299.5 L74.9,300.5 L75.1,301.5 L75.4,302.5 L75.5,302.8 L75.6,303.5 L75.7,304.5 L75.8,305.5 L75.8,306.5 L75.7,307.5 L75.5,308.1 L75.4,308.5 L75.2,309.5 L74.5,310.3 L74.2,310.5 L73.5,310.8 M83.5,277.9 L82.7,277.5 L82.5,277.4 L82.3,276.5 L82.3,275.5 L82.3,274.5 L82.3,273.5 L82.2,272.5 L82.2,271.5 L82.1,270.5 L82.0,269.5 L81.8,268.5 L81.5,267.8 L81.5,267.5 L81.4,266.5 L81.3,265.5 L81.2,264.5 L81.1,263.5 L81.1,262.5 L81.2,261.5 L81.5,260.8 L82.5,261.1 L82.7,261.5 L83.0,262.5 L83.3,263.5 L83.5,263.9 L83.7,264.5 L84.2,265.5 L84.5,266.2 L84.7,266.5 L84.9,267.5 L85.0,268.5 L84.9,269.5 L84.9,270.5 L84.8,271.5 L84.8,272.5 L84.7,273.5 L84.6,274.5 L84.5,275.1 L84.2,275.5 L83.8,276.5 L83.6,277.5 L83.5,277.9 M91.5,297.6 L91.5,297.5 L91.3,296.5 L91.3,295.5 L91.0,294.5 L90.5,294.0 L90.4,293.5 L90.4,292.5 L90.3,291.5 L90.0,290.5 L89.5,290.0 L89.4,289.5 L89.3,288.5 L89.3,287.5 L89.3,286.5 L89.3,285.5 L89.2,284.5 L89.3,283.5 L89.3,282.5 L89.3,281.5 L89.4,280.5 L89.4,279.5 L89.4,278.5 L89.5,277.9 L89.9,277.5 L90.2,276.5 L90.2,275.5 L90.3,274.5 L90.3,273.5 L90.3,272.5 L90.3,271.5 L90.3,270.5 L90.3,269.5 L90.3,268.5 L90.3,267.5 L90.2,266.5 L90.2,265.5 L90.2,264.5 L90.1,263.5 L90.1,262.5 L90.3,261.5 L90.5,261.1 L90.9,261.5 L91.3,262.5 L91.5,263.3 L91.6,263.5 L91.9,264.5 L92.0,265.5 L92.0,266.5 L92.0,267.5 L92.0,268.5 L92.0,269.5 L91.9,270.5 L91.9,271.5 L91.8,272.5 L91.8,273.5 L91.8,274.5 L91.7,275.5 L91.7,276.5 L91.7,277.5 L91.6,278.5 L91.6,279.5 L91.6,280.5 L91.6,281.5 L91.6,282.5 L91.6,283.5 L91.6,284.5 L91.6,285.5 L91.6,286.5 L91.6,287.5 L91.6,288.5 L91.6,289.5 L91.6,290.5 L91.6,291.5 L91.6,292.5 L91.6,293.5 L91.7,294.5 L91.7,295.5 L91.7,296.5 L91.5,297.5 L91.5,297.6 M194.5,267.4 L193.5,267.3 L193.4,266.5 L193.3,265.5 L193.0,264.5 L192.8,263.5 L192.7,262.5 L193.1,261.5 L193.5,261.1 L194.5,260.5 L195.3,261.5 L195.1,262.5 L194.9,263.5 L194.7,264.5 L194.6,265.5 L194.5,266.5 L194.5,267.4 M196.5,280.7 L196.0,280.5 L195.5,280.3 L194.5,279.8 L194.1,279.5 L193.5,278.8 L193.4,278.5 L193.4,277.5 L193.5,276.9 L193.6,276.5 L193.9,275.5 L194.1,274.5 L194.3,273.5 L194.4,272.5 L194.5,272.1 L195.4,272.5 L195.5,272.5 L195.5,272.5 L195.9,271.5 L196.4,270.5 L196.5,270.3 L196.7,269.5 L196.9,268.5 L197.0,267.5 L197.1,266.5 L197.1,265.5 L197.3,264.5 L197.5,263.7 L197.6,263.5 L198.1,262.5 L198.5,261.9 L198.8,261.5 L199.5,261.1 L200.4,261.5 L200.5,261.6 L201.0,262.5 L201.3,263.5 L201.5,264.5 L201.5,264.5 L201.7,265.5 L201.8,266.5 L201.8,267.5 L201.8,268.5 L201.8,269.5 L201.7,270.5 L201.7,271.5 L201.6,272.5 L201.6,273.5 L201.5,274.5 L201.5,274.6 L201.2,275.5 L200.8,276.5 L200.5,277.1 L200.3,277.5 L199.7,278.5 L199.5,278.8 L198.8,279.5 L198.5,279.8 L197.5,280.4 L197.2,280.5 L196.5,280.7 M179.5,277.6 L178.5,278.0 L177.5,277.7 L177.3,277.5 L176.5,276.6 L176.4,276.5 L176.0,275.5 L175.8,274.5 L175.7,273.5 L175.7,272.5 L175.6,271.5 L175.6,270.5 L175.6,269.5 L175.6,268.5 L175.7,267.5 L175.9,266.5 L176.3,265.5 L176.5,264.9 L176.8,264.5 L177.5,263.9 L178.5,264.2 L179.5,263.7 L180.5,263.9 L180.9,264.5 L181.2,265.5 L181.3,266.5 L181.2,267.5 L181.0,268.5 L180.8,269.5 L180.7,270.5 L180.7,271.5 L180.6,272.5 L180.7,273.5 L180.7,274.5 L180.7,275.5 L180.5,276.5 L180.5,276.5 L179.6,277.5 L179.5,277.6 M50.5,313.5 L50.5,313.5 L51.5,313.4 L52.5,313.4 L53.5,313.4 L53.6,313.5 L54.5,313.9 L55.4,314.5 L55.5,314.5 L56.5,315.4 L56.7,315.5 L57.5,316.2 L57.8,316.5 L58.5,317.5 L58.5,317.5 L58.7,318.5 L58.5,318.9 L58.4,319.5 L58.1,320.5 L57.8,321.5 L57.7,322.5 L57.7,323.5 L58.0,324.5 L58.5,325.1 L59.1,325.5 L59.5,325.7 L60.4,325.5 L60.5,325.5 L61.3,324.5 L61.5,323.7 L61.6,323.5 L61.7,322.5 L61.5,321.5 L61.5,321.3 L61.3,320.5 L61.1,319.5 L60.8,318.5 L60.9,317.5 L61.5,316.8 L61.7,316.5 L62.5,315.8 L63.0,315.5 L63.5,315.2 L64.5,314.7 L65.5,314.7 L66.5,315.0 L67.5,315.4 L68.1,315.5 L68.5,315.6 L69.5,315.6 L70.1,315.5 L70.5,315.4 L71.5,315.0 L72.5,314.5 L72.5,314.5 L73.5,313.8 L74.2,313.5 L74.5,313.2 L75.5,312.7 L76.5,312.6 L77.5,313.1 L77.9,313.5 L78.5,313.7 L79.5,314.2 L80.0,314.5 L80.5,314.8 L81.5,315.4 L82.0,315.5 L82.5,315.7 L83.2,315.5 L83.5,315.4 L84.5,314.9 L85.2,314.5 L85.5,314.3 L86.4,313.5 L86.5,312.6 L86.5,312.5 L86.9,311.5 L87.5,310.8 L88.4,310.5 L88.5,310.5 L88.5,310.5 L89.5,311.1 L89.6,311.5 L89.5,312.4 L89.5,312.5 L88.5,313.0 L87.7,313.5 L88.5,313.8 L89.5,314.2 L90.0,314.5 L90.5,314.8 L91.2,315.5 L91.5,315.8 L91.9,316.5 L92.5,317.4 L92.5,317.5 L92.9,318.5 L93.2,319.5 L93.5,320.2 L93.6,320.5 L94.1,321.5 L94.5,322.1 L94.9,322.5 L95.5,323.0 L96.5,323.2 L97.5,322.9 L98.1,322.5 L98.5,322.1 L99.0,321.5 L99.5,320.7 L99.8,320.5 L100.5,319.7 L100.8,319.5 L101.5,319.1 L102.5,319.0 L103.2,319.5 L103.5,319.7 L104.3,320.5 L104.5,320.7 L105.2,321.5 L105.5,321.9 L106.0,322.5 L106.5,323.1 L106.8,323.5 L107.5,324.4 L107.6,324.5 L108.5,325.2 L109.5,325.0 L110.4,324.5 L110.5,324.5 L111.5,323.9 L112.4,323.5 L112.5,323.4 L113.5,322.9 L114.2,322.5 L114.5,322.4 L115.5,321.8 L115.8,321.5 L116.5,321.0 L117.0,320.5 L117.5,320.0 L117.8,319.5 L118.3,318.5 L118.5,318.1 L118.7,317.5 L119.0,316.5 L119.2,315.5 L119.3,314.5 L119.3,313.5 L119.4,312.5 L119.4,311.5 L119.4,310.5 L119.3,309.5 L119.3,308.5 L119.2,307.5 L119.1,306.5 L119.0,305.5 L118.9,304.5 L118.9,303.5 L118.8,302.5 L118.8,301.5 L118.8,300.5 L118.9,299.5 L119.0,298.5 L119.2,297.5 L119.5,296.5 L119.5,296.5 L119.8,295.5 L120.1,294.5 L120.4,293.5 L120.5,293.3 L120.7,292.5 L121.0,291.5 L121.4,290.5 L121.5,290.0 L121.7,289.5 L122.0,288.5 L122.5,287.5 L122.5,287.5 L122.9,286.5 L123.2,285.5 L123.5,284.5 L123.5,284.3 L123.7,283.5 L123.8,282.5 L123.9,281.5 L124.0,280.5 L124.0,279.5 L124.0,278.5 L124.0,277.5 L124.0,276.5 L124.1,275.5 L124.1,274.5 L124.1,273.5 L124.2,272.5 L124.2,271.5 L124.3,270.5 L124.3,269.5 L124.4,268.5 L124.5,267.9 L124.7,267.5 L125.5,266.8 L126.5,267.2 L127.1,267.5 L127.5,267.7 L127.8,268.5 L128.0,269.5 L128.1,270.5 L128.2,271.5 L128.2,272.5 L128.3,273.5 L128.3,274.5 L128.4,275.5 L128.5,275.9 L128.5,276.5 L128.6,277.5 L128.7,278.5 L128.9,279.5 L128.9,280.5 L129.0,281.5 L129.0,282.5 L129.1,283.5 L129.1,284.5 L129.1,285.5 L129.2,286.5 L129.2,287.5 L129.2,288.5 L129.2,289.5 L129.2,290.5 L129.1,291.5 L129.1,292.5 L129.0,293.5 L129.0,294.5 L128.9,295.5 L128.9,296.5 L128.9,297.5 L129.0,298.5 L129.1,299.5 L129.3,300.5 L129.5,301.4 L129.5,301.5 L129.8,302.5 L130.1,303.5 L130.5,304.5 L130.5,304.6 L131.0,305.5 L131.5,306.4 L131.8,306.5 L132.5,307.1 L133.4,306.5 L133.5,306.4 L134.5,305.5 L134.5,305.5 L135.3,304.5 L135.5,304.2 L135.9,303.5 L136.5,302.5 L136.5,302.4 L136.9,301.5 L137.3,300.5 L137.5,299.7 L137.5,299.5 L137.8,298.5 L137.9,297.5 L138.0,296.5 L138.1,295.5 L138.1,294.5 L138.0,293.5 L138.0,292.5 L137.9,291.5 L137.8,290.5 L137.6,289.5 L137.5,288.5 L137.5,288.2 L137.4,287.5 L137.5,287.4 L138.5,286.7 L139.5,287.1 L140.0,287.5 L140.5,288.0 L141.0,288.5 L141.5,289.2 L141.7,289.5 L142.3,290.5 L142.5,290.9 L142.8,291.5 L143.1,292.5 L143.4,293.5 L143.5,293.9 L143.7,294.5 L144.0,295.5 L144.2,296.5 L144.3,297.5 L144.4,298.5 L144.5,299.4 L144.5,299.5 L144.5,300.5 L144.6,301.5 L144.5,302.5 L144.5,302.8 L144.4,303.5 L144.3,304.5 L144.0,305.5 L143.7,306.5 L143.5,307.1 L143.3,307.5 L142.8,308.5 L142.5,308.8 L141.7,309.5 L141.5,309.6 L140.5,309.6 L139.5,309.8 L138.9,310.5 L138.5,311.2 L138.4,311.5 L138.0,312.5 L137.5,313.0 L137.0,313.5 L136.5,314.1 L136.3,314.5 L136.5,315.5 L136.5,315.5 L136.7,316.5 L136.9,317.5 L137.3,318.5 L137.5,318.9 L137.7,319.5 L138.4,320.5 L138.5,320.6 L139.4,321.5 L139.5,321.6 L140.5,322.1 L141.5,322.3 L142.5,322.3 L143.5,322.1 L144.5,321.8 L145.4,321.5 L145.5,321.5 L146.5,321.2 L147.5,321.0 L148.5,320.9 L149.5,320.9 L150.5,320.8 L151.5,320.8 L152.5,320.8 L153.5,321.0 L154.5,321.5 L154.5,321.5 L155.5,322.2 L155.7,322.5 L156.5,323.3 L156.6,323.5 L157.5,324.3 L157.7,324.5 L158.5,325.1 L159.0,325.5 L159.5,325.8 L160.5,326.2 L161.5,326.4 L162.5,326.4 L163.5,326.3 L164.5,326.1 L165.5,325.8 L166.5,325.7 L167.5,325.8 L168.5,326.4 L168.6,326.5 L169.5,327.2 L169.8,327.5 L170.5,328.1 L171.0,328.5 L171.5,328.9 L172.2,329.5 L172.5,329.8 L173.3,330.5 L173.5,330.7 L174.3,331.5 L174.5,331.7 L175.2,332.5 L175.5,332.8 L176.0,333.5 L176.5,334.4 L176.6,334.5 L177.1,335.5 L177.5,336.2 L177.6,336.5 L178.2,337.5 L178.5,338.0 L178.8,338.5 L179.5,339.4 L179.6,339.5 L180.5,340.3 L180.8,340.5 L181.5,341.0 L182.5,341.5 L182.5,341.5 L183.5,341.9 L184.5,342.2 L185.5,342.4 L186.0,342.5 L186.5,342.7 L187.5,343.0 L188.5,343.3 L189.1,343.5 L189.5,343.6 L190.5,344.0 L191.5,344.2 L192.5,344.3 L193.5,344.4 L194.5,344.4 L195.5,344.2 L196.5,344.0 L197.5,343.6 L197.7,343.5 L198.5,343.2 L199.5,342.5 L199.5,342.5 L200.5,342.0 L201.5,341.5 L201.5,341.5 L202.5,340.6 L202.7,340.5 L203.5,339.9 L204.2,339.5 L204.5,339.3 L205.5,339.0 L206.5,338.9 L207.5,338.9 L208.5,339.0 L209.5,339.1 L210.5,339.3 L211.0,339.5 L211.5,339.6 L212.5,339.9 L213.5,340.3 L214.2,340.5 L214.5,340.6 L215.5,340.9 L216.5,341.0 L217.5,341.1 L218.5,341.1 L219.5,341.0 L220.5,340.9 L221.5,340.6 L221.8,340.5 L222.5,340.2 L223.5,339.6 L223.7,339.5 L224.5,338.8 L224.8,338.5 L225.5,337.5 L225.5,337.4 L226.0,336.5 L226.4,335.5 L226.5,335.2 L226.8,334.5 L227.1,333.5 L227.4,332.5 L227.5,332.1 L227.7,331.5 L228.1,330.5 L228.5,329.7 L228.7,329.5 L229.4,328.5 L229.5,328.3 L230.3,327.5 L230.5,327.3 L231.5,326.9 L232.5,326.9 L232.9,327.5 L233.5,328.1 L233.7,328.5 L234.5,329.3 L234.6,329.5 L235.5,330.1 L236.5,330.4 L237.5,330.3 L238.5,329.8 L238.7,329.5 L239.3,328.5 L239.5,327.5 L239.5,326.5 L239.4,325.5 L239.1,324.5 L238.6,323.5 L238.5,323.2 L238.0,322.5 L237.5,321.6 L237.4,321.5 L237.0,320.5 L236.8,319.5 L236.9,318.5 L237.1,317.5 L237.4,316.5 L237.5,316.2 L237.7,315.5 L238.0,314.5 L238.4,313.5 L238.5,313.1 L238.7,312.5 L239.0,311.5 L239.3,310.5 L239.5,310.0 L239.6,309.5 L239.9,308.5 L240.2,307.5 L240.5,306.5 L240.5,306.3 L240.8,305.5 L241.2,304.5 L241.5,303.7 L241.7,303.5 L242.5,302.7 L242.7,302.5 L243.5,301.9 L244.4,301.5 L244.5,301.5 L245.5,301.3 L246.5,301.3 L246.6,301.5 L246.9,302.5 L247.2,303.5 L247.5,304.3 L247.5,304.5 L247.7,305.5 L248.1,306.5 L248.5,307.2 L248.7,307.5 L249.5,308.4 L249.6,308.5 L250.5,309.3 L250.8,309.5 L251.5,310.3 L251.6,310.5 L252.1,311.5 L252.5,312.3 L252.6,312.5 L252.9,313.5 L253.4,314.5 L253.5,314.7 L253.9,315.5 L254.5,316.2 L254.9,316.5 L255.5,316.8 L256.5,317.0 L257.5,316.8 L258.2,316.5 L258.5,316.3 L259.5,315.7 L260.1,315.5 L260.5,315.3 L261.5,315.3 L261.9,315.5 L262.5,315.8 L263.3,316.5 L263.5,316.7 L264.4,317.5 L264.5,317.6 L265.4,318.5 L265.5,318.6 L266.3,319.5 L266.5,320.0 L266.7,320.5 L266.7,321.5 L266.7,322.5 L266.6,323.5 L266.5,324.5 L266.6,325.5 L266.9,326.5 L267.5,327.4 L267.7,327.5 L268.5,327.9 L269.5,327.6 L269.7,327.5 L270.5,326.5 L270.5,326.4 L270.8,325.5 L270.9,324.5 L270.8,323.5 L270.5,322.5 L270.5,322.3 L270.2,321.5 L269.8,320.5 L269.6,319.5 L269.7,318.5 L269.9,317.5 L270.4,316.5 L270.5,316.3 L270.8,315.5 L271.2,314.5 L271.5,313.6 L271.5,313.5 L271.8,312.5 L272.0,311.5 L272.2,310.5 L272.3,309.5 L272.4,308.5 L272.4,307.5 L272.5,306.9 L272.5,306.5 L272.7,305.5 L272.9,304.5 L273.1,303.5 L273.4,302.5 L273.5,302.3 L273.9,301.5 L274.3,300.5 L274.5,300.0 L275.2,299.5 L275.5,299.4 L276.5,299.1 L277.5,299.1 L278.5,299.4 L278.7,299.5 L279.5,300.0 L279.7,300.5 L280.1,301.5 L280.4,302.5 L280.5,302.7 L280.6,303.5 L280.8,304.5 L281.0,305.5 L281.2,306.5 L281.3,307.5 L281.5,308.5 L281.5,308.9 L281.5,309.5 L281.6,310.5 L281.7,311.5 L281.9,312.5 L282.1,313.5 L282.4,314.5 L282.5,314.7 L282.9,315.5 L283.5,316.5 L283.5,316.5 L284.4,317.5 L284.5,317.7 L285.3,318.5 L285.5,318.8 L286.0,319.5 L286.5,320.4 L286.6,320.5 L287.0,321.5 L287.3,322.5 L287.5,323.2 L287.6,323.5 L287.9,324.5 L288.2,325.5 L288.5,326.5 L288.5,326.5 L288.9,327.5 L289.3,328.5 L289.5,329.1 L289.7,329.5 L290.1,330.5 L290.4,331.5 L290.4,332.5 L289.7,333.5 L289.5,333.6 L288.5,334.1 L287.8,334.5 L287.5,334.7 L286.7,335.5 L286.5,335.7 L286.1,336.5 L285.9,337.5 L286.0,338.5 L286.2,339.5 L286.5,340.1 L286.7,340.5 L287.3,341.5 L287.5,341.8 L288.1,342.5 L288.5,343.0 L289.3,343.5 L289.5,343.6 L290.5,344.0 L291.5,344.0 L292.5,343.7 L292.8,343.5 L293.5,343.0 L293.9,342.5 L294.5,341.9 L294.9,341.5 L295.5,341.0 L296.0,340.5 L296.5,340.1 L297.0,339.5 L297.5,338.8 L297.7,338.5 L298.3,337.5 L298.5,336.7 L298.5,336.5 L298.7,335.5 L298.7,334.5 L298.7,333.5 L298.8,332.5 L298.9,331.5 L299.2,330.5 L299.5,329.5 L299.5,329.5 L299.8,328.5 L300.1,327.5 L300.4,326.5 L300.5,326.0 L300.6,325.5 L300.8,324.5 L300.9,323.5 L301.0,322.5 L301.0,321.5 L301.0,320.5 L300.9,319.5 L300.8,318.5 L300.7,317.5 L300.6,316.5 L300.5,315.8 L300.5,315.5 L300.3,314.5 L300.2,313.5 L300.0,312.5 L299.9,311.5 L299.8,310.5 L299.7,309.5 L299.6,308.5 L299.8,307.5 L300.0,306.5 L300.2,305.5 L300.4,304.5 L300.5,304.2 L300.7,303.5 L301.0,302.5 L301.3,301.5 L301.5,300.8 L301.6,300.5 L302.0,299.5 L302.5,298.5 L302.4,297.5 L302.0,296.5 L301.8,295.5 L301.6,294.5 L301.5,293.5 L301.5,292.5 L301.6,291.5 L301.6,290.5 L301.8,289.5 L302.0,288.5 L302.3,287.5 L302.5,287.1 L302.9,286.5 L303.5,286.1 L304.2,286.5 L304.5,287.0 L304.7,287.5 L305.2,288.5 L305.5,289.0 L306.5,289.0 L307.0,288.5 L307.3,287.5 L307.5,287.0 M153.5,282.5 L152.5,282.9 L151.5,282.7 L151.3,282.5 L150.5,281.5 L150.5,281.5 L150.0,280.5 L149.6,279.5 L149.5,279.2 L149.3,278.5 L149.1,277.5 L149.0,276.5 L149.0,275.5 L149.0,274.5 L149.0,273.5 L149.1,272.5 L149.3,271.5 L149.5,271.0 L149.7,270.5 L150.1,269.5 L150.5,268.7 L150.7,268.5 L151.5,267.8 L152.1,268.5 L152.4,269.5 L152.5,269.9 L152.8,270.5 L153.5,271.4 L154.2,270.5 L154.5,270.0 L154.8,269.5 L155.5,269.1 L156.1,269.5 L156.5,270.0 L156.7,270.5 L157.0,271.5 L157.1,272.5 L157.2,273.5 L157.3,274.5 L157.3,275.5 L157.2,276.5 L157.1,277.5 L156.8,278.5 L156.6,279.5 L156.5,279.6 L156.2,280.5 L155.6,281.5 L155.5,281.7 L154.5,282.0 L153.5,282.5 L153.5,282.5 M296.5,280.8 L295.5,280.6 L295.4,280.5 L294.5,279.8 L294.3,279.5 L294.0,278.5 L293.8,277.5 L293.8,276.5 L294.0,275.5 L294.2,274.5 L294.3,273.5 L294.5,272.5 L294.5,272.2 L294.6,271.5 L294.8,270.5 L295.2,269.5 L295.5,269.0 L296.5,268.7 L297.4,269.5 L297.5,269.6 L298.0,270.5 L298.4,271.5 L298.5,272.0 L298.6,272.5 L298.6,273.5 L298.6,274.5 L298.6,275.5 L298.5,276.5 L298.5,277.0 L298.4,277.5 L298.2,278.5 L298.0,279.5 L297.5,280.4 L297.3,280.5 L296.5,280.8 M111.5,279.8 L110.5,280.0 L109.5,279.6 L109.4,279.5 L108.7,278.5 L108.5,278.1 L108.3,277.5 L108.1,276.5 L108.1,275.5 L108.1,274.5 L108.3,273.5 L108.5,272.6 L108.5,272.5 L108.9,271.5 L109.4,270.5 L109.5,270.3 L110.5,269.7 L111.5,269.7 L112.2,270.5 L112.5,271.1 L112.6,271.5 L112.6,272.5 L112.5,273.1 L112.4,273.5 L112.3,274.5 L112.2,275.5 L112.1,276.5 L112.2,277.5 L112.2,278.5 L111.7,279.5 L111.5,279.8 M117.5,275.8 L116.5,275.8 L116.3,275.5 L115.5,274.5 L115.5,274.5 L115.3,273.5 L115.3,272.5 L115.4,271.5 L115.5,271.0 L115.9,270.5 L116.5,270.0 L117.5,270.0 L118.1,270.5 L118.5,270.9 L118.8,271.5 L118.9,272.5 L118.9,273.5 L118.7,274.5 L118.5,274.8 L117.8,275.5 L117.5,275.8 M173.5,281.0 L172.5,281.4 L171.5,280.6 L171.4,280.5 L171.5,279.5 L171.5,279.5 L171.8,278.5 L172.1,277.5 L172.3,276.5 L172.4,275.5 L172.5,274.5 L172.5,274.3 L172.9,273.5 L173.5,272.9 L174.1,273.5 L174.5,274.1 L174.9,274.5 L175.0,275.5 L175.1,276.5 L175.1,277.5 L175.0,278.5 L174.7,279.5 L174.5,279.8 L174.0,280.5 L173.5,281.0 M74.5,288.7 L74.3,288.5 L73.9,287.5 L73.8,286.5 L73.8,285.5 L74.5,285.0 L74.6,285.5 L74.7,286.5 L74.7,287.5 L74.5,288.5 L74.5,288.7 M206.5,302.9 L205.5,303.5 L204.5,303.4 L203.9,302.5 L203.6,301.5 L203.5,300.9 L203.5,300.5 L203.5,299.5 L203.5,299.3 L203.7,298.5 L204.1,297.5 L204.5,297.1 L205.5,296.9 L206.4,297.5 L206.5,297.6 L207.1,298.5 L207.4,299.5 L207.4,300.5 L207.2,301.5 L206.8,302.5 L206.5,302.9 M306.8,313.5 L307.2,312.5 L307.3,311.5 L307.3,310.5 L307.1,309.5 L306.7,308.5 L306.5,308.2 L306.0,307.5 L305.5,307.0 L304.5,307.4 L304.4,307.5 L303.8,308.5 L303.6,309.5 L303.5,310.4 L303.5,310.5 L303.5,310.6 L303.5,311.5 L303.7,312.5 L304.3,313.5 L304.5,313.7 L305.5,314.2 L306.5,313.8 L306.8,313.5 M130.7,320.5 L131.2,319.5 L131.3,318.5 L131.2,317.5 L130.9,316.5 L130.5,315.8 L130.0,315.5 L129.5,315.2 L129.2,315.5 L128.5,316.3 L128.4,316.5 L128.1,317.5 L128.0,318.5 L128.1,319.5 L128.5,320.3 L128.6,320.5 L129.5,321.2 L130.5,320.8 L130.7,320.5 M201.5,322.5 L201.4,322.5 L200.5,321.7 L200.5,321.5 L200.4,320.5 L200.4,319.5 L200.4,318.5 L200.4,317.5 L200.5,316.5 L200.5,316.5 L201.5,316.3 L202.5,316.3 L203.5,316.3 L204.5,316.4 L205.1,316.5 L205.2,317.5 L204.5,318.5 L204.5,318.6 L203.8,319.5 L203.5,319.9 L203.0,320.5 L202.5,321.3 L202.3,321.5 L201.5,322.5 L201.5,322.5 M83.6,325.5 L84.2,324.5 L84.4,323.5 L84.3,322.5 L84.1,321.5 L83.7,320.5 L83.5,320.1 L82.7,319.5 L82.5,319.3 L82.3,319.5 L81.5,320.0 L81.3,320.5 L80.8,321.5 L80.6,322.5 L80.6,323.5 L80.8,324.5 L81.5,325.5 L81.5,325.5 L82.5,326.0 L83.5,325.6 L83.6,325.5 M109.3,334.5 L109.5,334.3 L110.0,333.5 L110.2,332.5 L110.2,331.5 L110.0,330.5 L109.6,329.5 L109.5,329.1 L109.1,328.5 L108.5,327.6 L107.5,327.7 L106.9,328.5 L106.5,328.9 L106.2,329.5 L105.8,330.5 L105.7,331.5 L105.7,332.5 L106.0,333.5 L106.5,334.2 L106.9,334.5 L107.5,334.9 L108.5,334.9 L109.3,334.5 M249.6,336.5 L250.5,336.2 L251.2,335.5 L251.5,334.7 L251.6,334.5 L251.7,333.5 L251.5,333.0 L251.4,332.5 L250.7,331.5 L250.5,331.3 L249.5,331.1 L248.9,331.5 L248.5,331.8 L247.9,332.5 L247.6,333.5 L247.5,334.5 L247.7,335.5 L248.5,336.3 L249.4,336.5 L249.5,336.5 L249.6,336.5 M143.9,337.5 L144.1,336.5 L143.9,335.5 L143.5,334.7 L143.4,334.5 L142.5,333.5 L142.5,333.5 L141.5,332.9 L140.5,333.2 L140.2,333.5 L139.6,334.5 L139.5,335.5 L139.7,336.5 L140.4,337.5 L140.5,337.6 L141.5,338.2 L142.5,338.4 L143.5,337.9 L143.9,337.5 M154.0,342.5 L154.5,342.2 L155.2,341.5 L155.5,340.8 L155.6,340.5 L155.7,339.5 L155.5,338.7 L155.5,338.5 L154.9,337.5 L154.5,337.1 L153.5,336.6 L152.5,336.6 L151.5,337.0 L150.9,337.5 L150.5,337.9 L150.1,338.5 L149.7,339.5 L149.6,340.5 L149.8,341.5 L150.5,342.3 L150.9,342.5 L151.5,342.9 L152.5,343.1 L153.5,342.8 L154.0,342.5 M50.5,371.1 L51.5,370.9 L52.5,370.7 L53.4,370.5 L53.5,370.5 L54.5,370.3 L55.5,370.1 L56.5,369.9 L57.5,369.7 L58.3,369.5 L58.5,369.4 L59.5,369.2 L60.5,368.9 L61.4,368.5 L61.5,368.5 L62.5,368.0 L63.5,367.5 L63.6,367.5 L64.5,366.9 L65.1,366.5 L65.5,366.1 L66.3,365.5 L66.5,365.2 L67.2,364.5 L67.5,364.1 L68.1,363.5 L68.5,363.1 L69.3,362.5 L69.5,362.4 L70.5,361.9 L71.5,361.8 L72.5,361.7 L73.5,361.7 L74.5,361.7 L75.5,361.8 L76.5,361.8 L77.5,361.7 L78.5,361.6 L79.5,361.5 L79.5,361.5 L80.5,361.3 L81.5,361.1 L82.5,360.8 L83.2,360.5 L83.5,360.4 L84.5,359.8 L84.9,359.5 L85.5,359.0 L86.0,358.5 L86.5,357.6 L86.6,357.5 L86.9,356.5 L86.9,355.5 L86.9,354.5 L86.7,353.5 L86.5,352.6 L86.5,352.5 L86.2,351.5 L85.9,350.5 L85.7,349.5 L85.5,348.8 L85.4,348.5 L85.0,347.5 L84.5,346.5 L84.5,346.4 L84.2,345.5 L83.8,344.5 L83.5,344.1 L83.2,343.5 L82.5,342.8 L82.3,342.5 L81.5,341.8 L81.0,341.5 L80.5,341.2 L79.5,341.0 L78.5,340.9 L77.5,341.1 L76.5,341.5 L76.4,341.5 L75.5,342.1 L75.0,342.5 L74.5,342.9 L73.8,343.5 L73.5,343.8 L72.6,344.5 L72.5,344.6 L71.5,345.4 L71.2,345.5 L70.5,346.0 L69.5,346.4 L69.3,346.5 L68.5,346.8 L67.5,347.0 L66.5,347.0 L65.5,346.9 L64.8,346.5 L64.5,346.3 L64.0,345.5 L63.6,344.5 L63.5,344.2 L63.3,343.5 L63.0,342.5 L62.5,341.5 L62.5,341.4 L61.8,340.5 L61.5,340.2 L60.5,339.6 L60.0,339.5 L59.5,339.4 L58.6,339.5 L58.5,339.5 L57.5,339.9 L56.7,340.5 L56.5,340.7 L55.9,341.5 L55.5,342.5 L55.5,342.5 L55.0,343.5 L54.6,344.5 L54.5,344.9 L54.2,345.5 L53.5,346.4 L53.4,346.5 L52.5,347.1 L51.5,347.4 L50.7,347.5 L50.5,347.5 M115.7,346.5 L116.5,345.9 L116.8,345.5 L117.1,344.5 L116.9,343.5 L116.5,342.9 L116.0,342.5 L115.5,342.1 L114.5,342.1 L113.8,342.5 L113.5,342.7 L112.9,343.5 L112.6,344.5 L112.7,345.5 L113.5,346.4 L113.7,346.5 L114.5,346.8 L115.5,346.6 L115.7,346.5 M267.8,349.5 L268.4,348.5 L268.5,348.0 L268.6,347.5 L268.5,347.4 L268.3,346.5 L267.5,345.6 L267.4,345.5 L266.5,345.0 L265.5,344.8 L264.5,345.0 L263.5,345.5 L263.5,345.5 L262.5,346.4 L262.5,346.5 L262.0,347.5 L261.9,348.5 L262.5,349.5 L262.5,349.5 L263.5,350.1 L264.5,350.4 L265.5,350.4 L266.5,350.2 L267.5,349.7 L267.8,349.5 M233.0,353.5 L233.5,353.2 L234.3,352.5 L234.5,352.2 L235.0,351.5 L235.2,350.5 L235.3,349.5 L234.9,348.5 L234.5,347.9 L234.1,347.5 L233.5,346.9 L232.8,346.5 L232.5,346.4 L231.5,346.1 L230.5,346.0 L229.5,346.2 L228.6,346.5 L228.5,346.5 L227.5,347.1 L226.9,347.5 L226.5,347.8 L225.8,348.5 L225.5,349.1 L225.3,349.5 L225.2,350.5 L225.3,351.5 L225.5,352.0 L225.7,352.5 L226.5,353.3 L226.7,353.5 L227.5,353.9 L228.5,354.2 L229.5,354.3 L230.5,354.3 L231.5,354.1 L232.5,353.8 L233.0,353.5 M178.0,364.5 L178.5,364.4 L179.5,364.3 L180.5,364.0 L181.5,363.6 L181.7,363.5 L182.5,363.0 L183.2,362.5 L183.5,362.1 L184.0,361.5 L184.3,360.5 L184.3,359.5 L183.9,358.5 L183.5,357.9 L183.2,357.5 L182.5,356.9 L182.1,356.5 L181.5,356.1 L180.5,355.6 L180.1,355.5 L179.5,355.3 L178.5,355.1 L177.5,355.1 L176.5,355.2 L175.5,355.4 L175.2,355.5 L174.5,355.7 L173.5,356.1 L172.6,356.5 L172.5,356.6 L171.5,357.1 L170.6,357.5 L170.5,357.5 L169.5,358.0 L168.5,358.2 L167.5,358.3 L166.5,358.1 L165.5,357.8 L165.0,357.5 L164.5,357.3 L163.5,356.8 L162.7,356.5 L162.5,356.4 L161.5,356.0 L160.5,355.8 L159.5,355.6 L158.5,355.6 L157.5,355.8 L156.5,356.2 L156.0,356.5 L155.5,356.9 L154.9,357.5 L154.5,358.3 L154.4,358.5 L154.3,359.5 L154.5,360.0 L154.7,360.5 L155.5,361.4 L155.6,361.5 L156.5,362.2 L157.3,362.5 L157.5,362.6 L158.5,362.9 L159.5,363.2 L160.5,363.3 L161.5,363.4 L162.5,363.5 L163.5,363.5 L164.5,363.5 L165.5,363.5 L166.4,363.5 L166.5,363.5 L167.5,363.6 L168.5,363.7 L169.5,363.9 L170.5,364.1 L171.5,364.3 L172.5,364.4 L173.1,364.5 L173.5,364.5 L174.5,364.6 L175.5,364.7 L176.5,364.6 L177.5,364.6 L178.0,364.5 M215.7,364.5 L216.5,364.0 L217.1,363.5 L217.5,362.9 L217.7,362.5 L217.9,361.5 L217.7,360.5 L217.5,360.2 L217.1,359.5 L216.5,358.9 L216.1,358.5 L215.5,358.1 L214.5,357.7 L213.6,357.5 L213.5,357.5 L212.5,357.4 L211.5,357.4 L211.2,357.5 L210.5,357.6 L209.5,358.0 L208.6,358.5 L208.5,358.6 L207.5,359.4 L207.4,359.5 L206.6,360.5 L206.5,360.9 L206.2,361.5 L206.2,362.5 L206.5,363.1 L206.7,363.5 L207.5,364.2 L207.9,364.5 L208.5,364.8 L209.5,365.1 L210.5,365.3 L211.5,365.3 L212.5,365.3 L213.5,365.2 L214.5,365.0 L215.5,364.6 L215.7,364.5 M264.0,365.5 L264.5,365.2 L265.1,364.5 L265.3,363.5 L264.8,362.5 L264.5,362.1 L263.5,361.5 L263.5,361.5 L262.5,361.1 L261.5,360.9 L260.5,360.9 L259.5,361.1 L258.6,361.5 L258.5,361.5 L257.5,362.2 L257.2,362.5 L256.7,363.5 L256.8,364.5 L257.5,365.2 L258.0,365.5 L258.5,365.7 L259.5,366.1 L260.5,366.2 L261.5,366.2 L262.5,366.0 L263.5,365.7 L264.0,365.5 M105.1,370.5 L105.5,370.5 L106.5,370.3 L107.5,370.1 L108.5,369.9 L109.5,369.8 L110.5,369.6 L111.3,369.5 L111.5,369.5 L112.5,369.4 L113.5,369.3 L114.5,369.2 L115.5,369.2 L116.5,369.2 L117.5,369.1 L118.5,369.2 L119.5,369.2 L120.5,369.3 L121.5,369.4 L122.2,369.5 L122.5,369.5 L123.5,369.7 L124.5,369.8 L125.5,370.0 L126.5,370.0 L127.5,370.1 L128.5,370.1 L129.5,370.1 L130.5,370.0 L131.5,369.8 L132.5,369.5 L132.5,369.5 L133.5,369.1 L134.4,368.5 L134.5,368.4 L135.2,367.5 L135.2,366.5 L134.5,365.6 L134.4,365.5 L133.5,364.8 L132.8,364.5 L132.5,364.3 L131.5,364.0 L130.5,363.9 L129.5,363.8 L128.5,363.8 L127.5,363.8 L126.5,364.0 L125.5,364.1 L124.5,364.2 L123.5,364.4 L122.5,364.4 L121.6,364.5 L121.5,364.5 L120.5,364.5 L119.5,364.5 L118.5,364.5 L117.8,364.5 L117.5,364.5 L116.5,364.5 L115.5,364.4 L114.5,364.4 L113.5,364.4 L112.5,364.3 L111.5,364.3 L110.5,364.2 L109.5,364.1 L108.5,364.0 L107.5,363.9 L106.5,363.8 L105.5,363.7 L104.5,363.5 L104.1,363.5 L103.5,363.4 L102.5,363.4 L101.5,363.3 L100.5,363.4 L99.8,363.5 L99.5,363.5 L98.5,363.8 L97.5,364.1 L96.7,364.5 L96.5,364.6 L95.5,365.4 L95.4,365.5 L94.8,366.5 L94.7,367.5 L95.2,368.5 L95.5,368.7 L96.5,369.5 L96.5,369.5 L97.5,370.0 L98.5,370.3 L99.5,370.5 L99.7,370.5 L100.5,370.6 L101.5,370.7 L102.5,370.7 L103.5,370.7 L104.5,370.6 L105.1,370.5 M307.5,385.6 L306.5,386.0 L305.5,386.2 L304.5,386.5 L304.5,386.5 L303.5,386.7 L302.5,386.8 L301.5,386.9 L300.5,387.0 L299.5,387.0 L298.5,387.1 L297.5,387.1 L296.5,387.1 L295.5,387.0 L294.5,387.0 L293.5,386.9 L292.5,386.8 L291.5,386.7 L290.5,386.6 L289.5,386.5 L289.5,386.5 L288.5,386.4 L287.5,386.2 L286.5,386.0 L285.5,385.7 L284.9,385.5 L284.5,385.3 L283.5,384.9 L283.0,384.5 L282.5,384.3 L281.6,383.5 L281.5,383.4 L280.9,382.5 L280.5,382.0 L280.2,381.5 L279.5,380.6 L279.5,380.5 L278.5,379.6 L278.4,379.5 L277.5,378.9 L276.8,378.5 L276.5,378.3 L275.5,377.9 L274.5,377.5 L274.5,377.5 L273.5,377.2 L272.5,377.0 L271.5,376.8 L270.5,376.7 L269.5,376.6 L268.5,376.6 L267.5,376.7 L266.5,376.8 L265.5,376.9 L264.5,377.1 L263.5,377.4 L263.1,377.5 L262.5,377.7 L261.5,378.1 L260.5,378.5 L260.4,378.5 L259.5,379.0 L258.5,379.5 L258.5,379.5 L257.5,380.1 L256.8,380.5 L256.5,380.7 L255.5,381.3 L255.1,381.5 L254.5,381.9 L253.5,382.3 L252.8,382.5 L252.5,382.6 L251.5,382.8 L250.5,382.9 L249.5,383.0 L248.5,382.9 L247.5,382.8 L246.5,382.7 L245.8,382.5 L245.5,382.5 L244.5,382.2 L243.5,381.9 L242.5,381.6 L242.1,381.5 L241.5,381.3 L240.5,381.0 L239.5,380.7 L239.1,380.5 L238.5,380.3 L237.5,380.0 L236.5,379.7 L235.8,379.5 L235.5,379.4 L234.5,379.2 L233.5,379.0 L232.5,378.8 L231.5,378.6 L230.5,378.5 L230.2,378.5 L229.5,378.4 L228.5,378.4 L227.5,378.4 L226.5,378.4 L225.5,378.4 L225.0,378.5 L224.5,378.5 L223.5,378.6 L222.5,378.8 L221.5,379.0 L220.5,379.2 L219.5,379.4 L219.3,379.5 L218.5,379.7 L217.5,380.0 L216.5,380.3 L215.9,380.5 L215.5,380.7 L214.5,381.0 L213.5,381.3 L212.8,381.5 L212.5,381.6 L211.5,382.0 L210.5,382.2 L209.5,382.5 L209.3,382.5 L208.5,382.7 L207.5,382.9 L206.5,383.0 L205.5,383.0 L204.5,383.0 L203.5,382.7 L203.1,382.5 L202.5,382.3 L201.5,381.6 L201.4,381.5 L200.5,380.9 L200.0,380.5 L199.5,380.2 L198.7,379.5 L198.5,379.4 L197.5,378.7 L197.2,378.5 L196.5,378.1 L195.5,377.6 L195.4,377.5 L194.5,377.1 L193.5,376.8 L192.7,376.5 L192.5,376.4 L191.5,376.2 L190.5,375.9 L189.5,375.8 L188.5,375.7 L187.5,375.7 L186.5,375.7 L185.5,375.8 L184.5,375.9 L183.5,376.2 L182.5,376.5 L182.4,376.5 L181.5,376.9 L180.5,377.4 L180.2,377.5 L179.5,378.0 L178.9,378.5 L178.5,379.0 L178.1,379.5 L177.7,380.5 L177.8,381.5 L178.4,382.5 L178.5,382.7 L179.4,383.5 L179.5,383.5 L180.5,384.1 L181.4,384.5 L181.5,384.5 L182.5,384.9 L183.5,385.1 L184.5,385.3 L185.5,385.4 L186.4,385.5 L186.5,385.5 L187.5,385.6 L188.5,385.7 L189.5,385.8 L190.5,385.9 L191.5,385.9 L192.5,385.9 L193.5,385.9 L194.5,385.9 L195.5,385.9 L196.5,385.9 L197.5,385.9 L198.5,385.9 L199.5,385.9 L200.5,385.9 L201.5,385.9 L202.5,386.1 L203.5,386.3 L204.4,386.5 L204.5,386.5 L205.5,386.9 L206.5,387.3 L207.0,387.5 L207.5,387.7 L208.5,388.1 L209.5,388.5 L209.6,388.5 L210.5,388.8 L211.5,389.2 L212.5,389.5 L212.5,389.5 L213.5,389.8 L214.5,390.1 L215.5,390.4 L216.1,390.5 L216.5,390.6 L217.5,390.9 L218.5,391.2 L219.5,391.4 L220.1,391.5 L220.5,391.7 L221.5,392.0 L222.5,392.4 L223.0,392.5 L222.5,393.0 L221.9,393.5 L221.5,393.6 L220.5,393.9 L219.5,394.1 L218.5,394.3 L217.7,394.5 L217.5,394.6 L216.5,395.1 L215.7,395.5 L215.5,395.5 L214.5,395.6 L213.5,395.7 L212.5,395.8 L211.5,395.9 L210.5,396.0 L209.5,396.0 L208.5,396.0 L207.5,396.0 L206.5,396.0 L205.5,396.0 L204.5,395.9 L203.5,395.9 L202.5,395.8 L201.5,395.7 L200.5,395.6 L199.6,395.5 L199.5,395.5 L198.5,395.3 L197.5,395.1 L196.5,394.9 L195.5,394.7 L194.5,394.5 L194.4,394.5 L193.5,394.4 L192.5,394.3 L191.5,394.1 L190.5,394.0 L189.5,393.9 L188.5,393.7 L187.5,393.6 L186.5,393.5 L186.5,393.5 L185.5,393.4 L184.5,393.2 L183.5,393.1 L182.5,393.0 L181.5,392.9 L180.5,392.8 L179.5,392.7 L178.5,392.6 L177.5,392.5 L177.4,392.5 L176.5,392.4 L175.5,392.3 L174.5,392.2 L173.5,392.1 L172.5,392.0 L171.5,391.9 L170.5,391.8 L169.5,391.7 L168.5,391.6 L167.5,391.5 L167.5,391.5 L166.5,391.4 L165.5,391.3 L164.5,391.1 L163.5,391.0 L162.5,390.8 L161.5,390.7 L160.5,390.5 L160.4,390.5 L159.5,390.3 L158.5,390.1 L157.5,389.9 L156.5,389.7 L155.8,389.5 L155.5,389.4 L154.5,389.2 L153.5,388.9 L152.5,388.6 L152.0,388.5 L151.5,388.4 L150.5,388.1 L149.5,387.8 L148.5,387.5 L148.4,387.5 L147.5,387.3 L146.5,387.0 L145.5,386.7 L144.8,386.5 L144.5,386.4 L143.5,386.2 L142.5,385.9 L141.5,385.7 L140.6,385.5 L140.5,385.5 L139.5,385.3 L138.5,385.0 L137.5,384.9 L136.5,384.7 L135.5,384.5 L135.3,384.5 L134.5,384.4 L133.5,384.3 L132.5,384.1 L131.5,384.0 L130.5,383.9 L129.5,383.8 L128.5,383.7 L127.5,383.7 L126.5,383.6 L125.5,383.6 L124.5,383.5 L124.4,383.5 L123.5,383.5 L122.5,383.4 L121.5,383.4 L120.5,383.4 L119.5,383.4 L118.5,383.3 L117.5,383.4 L116.5,383.4 L115.5,383.4 L114.5,383.4 L113.5,383.5 L113.4,383.5 L112.5,383.5 L111.5,383.6 L110.5,383.7 L109.5,383.8 L108.5,383.9 L107.5,384.0 L106.5,384.1 L105.5,384.3 L104.5,384.4 L104.1,384.5 L103.5,384.6 L102.5,384.8 L101.5,385.0 L100.5,385.2 L99.5,385.4 L99.3,385.5 L98.5,385.7 L97.5,385.9 L96.5,386.2 L95.5,386.4 L95.2,386.5 L94.5,386.7 L93.5,386.9 L92.5,387.2 L91.5,387.4 L91.2,387.5 L90.5,387.7 L89.5,387.9 L88.5,388.2 L87.5,388.4 L87.1,388.5 L86.5,388.7 L85.5,388.9 L84.5,389.1 L83.5,389.3 L82.6,389.5 L82.5,389.5 L81.5,389.7 L80.5,389.9 L79.5,390.1 L78.5,390.3 L77.5,390.5 L77.4,390.5 L76.5,390.7 L75.5,390.8 L74.5,391.0 L73.5,391.1 L72.5,391.3 L71.5,391.4 L70.6,391.5 L70.5,391.5 L69.5,391.6 L68.5,391.7 L67.5,391.8 L66.5,391.9 L65.5,392.0 L64.5,392.0 L63.5,392.0 L62.5,392.0 L61.5,392.0 L60.5,392.0 L59.5,392.0 L58.5,391.9 L57.5,391.8 L56.5,391.7 L55.5,391.5 L55.5,391.5 L54.5,391.3 L53.5,391.1 L52.5,390.8 L51.5,390.5 L51.4,390.5 L50.5,390.2 M129.5,438.5 L128.5,438.6 L127.5,438.6 L126.5,438.7 L125.5,438.7 L124.5,438.8 L123.5,438.8 L122.5,438.8 L121.5,438.8 L120.5,438.8 L119.5,438.8 L118.5,438.8 L117.5,438.7 L116.5,438.7 L115.5,438.7 L114.5,438.6 L113.5,438.6 L112.5,438.5 L112.1,438.5 L111.5,438.5 L110.5,438.4 L109.5,438.3 L108.5,438.2 L107.5,438.1 L106.5,438.0 L105.5,437.9 L104.5,437.8 L103.5,437.6 L102.6,437.5 L102.5,437.5 L101.5,437.3 L100.5,437.2 L99.5,437.0 L98.5,436.8 L97.5,436.6 L97.1,436.5 L96.5,436.4 L95.5,436.1 L94.5,435.8 L93.5,435.6 L93.2,435.5 L92.5,435.2 L91.5,434.9 L90.5,434.6 L90.4,434.5 L89.5,434.1 L88.5,433.6 L88.3,433.5 L87.5,433.0 L86.8,432.5 L86.5,432.2 L85.9,431.5 L85.5,430.8 L85.4,430.5 L85.3,429.5 L85.5,429.1 L85.8,428.5 L86.5,427.7 L86.7,427.5 L87.5,426.8 L88.0,426.5 L88.5,426.2 L89.5,425.7 L89.9,425.5 L90.5,425.3 L91.5,424.9 L92.5,424.5 L92.5,424.5 L93.5,424.2 L94.5,423.9 L95.5,423.6 L96.0,423.5 L96.5,423.4 L97.5,423.1 L98.5,422.9 L99.5,422.7 L100.5,422.5 L100.5,422.5 L101.5,422.3 L102.5,422.1 L103.5,422.0 L104.5,421.8 L105.5,421.7 L106.5,421.5 L106.5,421.5 L107.5,421.4 L108.5,421.2 L109.5,421.1 L110.5,421.0 L111.5,420.9 L112.5,420.8 L113.5,420.7 L114.5,420.5 L114.9,420.5 L115.5,420.4 L116.5,420.3 L117.5,420.2 L118.5,420.0 L119.5,419.9 L120.5,419.8 L121.5,419.7 L122.5,419.6 L123.3,419.5 L123.5,419.5 L124.5,419.4 L125.5,419.3 L126.5,419.2 L127.5,419.1 L128.5,419.0 L129.5,418.9 L130.5,418.8 L131.5,418.8 L132.5,418.7 L133.5,418.7 L134.5,418.6 L135.5,418.6 L136.5,418.6 L137.5,418.6 L138.5,418.7 L139.5,418.7 L140.5,418.8 L141.5,418.8 L142.5,418.9 L143.5,419.0 L144.5,419.2 L145.5,419.3 L146.5,419.5 L146.6,419.5 L147.5,419.6 L148.5,419.8 L149.5,420.0 L150.5,420.2 L151.5,420.4 L152.0,420.5 L152.5,420.6 L153.5,420.7 L154.5,420.9 L155.5,421.1 L156.5,421.3 L157.5,421.5 L157.6,421.5 L158.5,421.7 L159.5,422.0 L160.5,422.3 L161.3,422.5 L161.5,422.6 L162.5,423.0 L163.5,423.4 L163.8,423.5 L164.5,423.9 L165.4,424.5 L165.5,424.6 L166.5,425.5 L166.5,425.6 L167.0,426.5 L167.0,427.5 L166.6,428.5 L166.5,428.7 L165.8,429.5 L165.5,429.8 L164.6,430.5 L164.5,430.6 L163.5,431.2 L162.9,431.5 L162.5,431.7 L161.5,432.1 L160.7,432.5 L160.5,432.6 L159.5,432.9 L158.5,433.3 L157.9,433.5 L157.5,433.6 L156.5,433.9 L155.5,434.2 L154.5,434.5 L154.5,434.5 L153.5,434.7 L152.5,435.0 L151.5,435.2 L150.5,435.5 L150.4,435.5 L149.5,435.7 L148.5,435.9 L147.5,436.1 L146.5,436.3 L145.6,436.5 L145.5,436.5 L144.5,436.7 L143.5,436.9 L142.5,437.0 L141.5,437.2 L140.5,437.4 L139.5,437.5 L139.5,437.5 L138.5,437.6 L137.5,437.8 L136.5,437.9 L135.5,438.0 L134.5,438.1 L133.5,438.2 L132.5,438.3 L131.5,438.4 L130.5,438.5 L129.9,438.5 L129.5,438.5" fill="none" stroke="#000" stroke-width="1.6" stroke-linejoin="round"/>
<path d="M63.5,225.0V233.0 M68.0,228.5V233.0 M77.0,227.0V233.0 M82.5,226.5V233.0 M90.4,220.0V233.0 M98.6,227.0V233.0 M103.8,230.0V233.0 M110.0,228.5V233.0 M118.0,218.0V233.0 M122.0,226.5V233.0 M141.0,215.0V224.0 M156.5,219.0V234.0 M179.8,222.0V225.0 M197.3,223.5V234.0 M213.9,216.0V234.0 M226.9,225.5V234.0 M235.6,227.5V234.0 M240.3,229.5V234.0 M248.8,230.5V234.0 M256.8,231.6V234.0 M277.5,215.0V234.0 M284.0,225.0V234.0 M288.8,230.6V234.0 M88.3,249.0V262.0 M108.0,249.0V258.0 M190.0,249.0V262.0 M253.7,249.0V255.4 M278.7,249.0V257.0 M50.8,214.5 L51.8,224 L53.5,233 M307.6,214.5 V236 M307.6,250 V262" fill="none" stroke="#000" stroke-width="1.7" stroke-linecap="round"/>
<g stroke="#999" stroke-width="1" fill="none">
<path d="M50,213.8V453.3H308.8V213.8Z"/>
<path d="M50,245.7h-3M50,278h-3M50,310.3h-3M50,342.6h-3M50,375h-3M50,407.2h-3M50,439.5h-3M308.8,245.7h3M308.8,278h3M308.8,310.3h3M308.8,342.6h3M308.8,375h3M308.8,407.2h3M308.8,439.5h3M114,453.3v3M179,453.3v3M245,453.3v3M114.5,213.8v-3M179.3,213.8v-3M245.5,213.8v-3"/>
</g>
<g font-size="14" text-anchor="end">
<text x="45.3" y="251.2">0.5</text>
<text x="45.3" y="283.5">1</text>
<text x="45.3" y="315.8">2</text>
<text x="45.3" y="348.1">4</text>
<text x="45.3" y="380.4">8</text>
<text x="45.3" y="412.7">16</text>
<text x="45.3" y="445">32</text>
</g>
<text transform="translate(24.2,373.3) rotate(-90)" font-size="15.6" textLength="78.5" lengthAdjust="spacingAndGlyphs">Period (days)</text>
<g font-size="13">
<text x="69.8" y="463.9" textLength="24.5" lengthAdjust="spacingAndGlyphs">June</text>
<text x="133.8" y="463.9" textLength="23.5" lengthAdjust="spacingAndGlyphs">July</text>
<text x="192.3" y="463.9" textLength="38.5" lengthAdjust="spacingAndGlyphs">August</text>
<text x="248.3" y="463.9" textLength="57" lengthAdjust="spacingAndGlyphs">September</text>
</g>
<text x="142" y="482.4" font-size="14" textLength="83.5" lengthAdjust="spacingAndGlyphs">Month (2002)</text>
<text x="7.8" y="504.6" font-size="16.5" font-weight="bold" textLength="21.8" lengthAdjust="spacingAndGlyphs">(b)</text>
<text x="34.6" y="504.4" font-size="14.5" textLength="336" lengthAdjust="spacingAndGlyphs">Wavelet Power Spectrum for Atmospheric pressure</text>
<!-- colorbar -->
<rect x="324.2" y="214.2" width="22.4" height="239.3" fill="url(#cb)" stroke="#555" stroke-width="0.6"/>
<path d="M324.2,220.3h2.6M346.6,220.3h-2.6 M324.2,233.0h2.6M346.6,233.0h-2.6 M324.2,245.6h2.6M346.6,245.6h-2.6 M324.2,258.2h2.6M346.6,258.2h-2.6 M324.2,270.9h2.6M346.6,270.9h-2.6 M324.2,283.6h2.6M346.6,283.6h-2.6 M324.2,296.2h2.6M346.6,296.2h-2.6 M324.2,308.9h2.6M346.6,308.9h-2.6 M324.2,321.5h2.6M346.6,321.5h-2.6 M324.2,334.2h2.6M346.6,334.2h-2.6 M324.2,346.8h2.6M346.6,346.8h-2.6 M324.2,359.5h2.6M346.6,359.5h-2.6 M324.2,372.1h2.6M346.6,372.1h-2.6 M324.2,384.8h2.6M346.6,384.8h-2.6 M324.2,397.4h2.6M346.6,397.4h-2.6 M324.2,410.1h2.6M346.6,410.1h-2.6 M324.2,422.7h2.6M346.6,422.7h-2.6 M324.2,435.4h2.6M346.6,435.4h-2.6 M324.2,448.0h2.6M346.6,448.0h-2.6" stroke="#444" stroke-width="0.9" fill="none"/>
<g font-size="13">
<text x="349" y="224.7">512</text>
<text x="349" y="251.3">128</text>
<text x="349" y="275.8">32</text>
<text x="349" y="301.8">8</text>
<text x="349" y="326.4">2</text>
<text x="349" y="351.9">1/2</text>
<text x="349" y="376.9">1/8</text>
<text x="349" y="402.4">1/32</text>
<text x="349" y="428">1/128</text>
<text x="351.6" y="452">0</text>
</g>
</svg>
</body></html>
